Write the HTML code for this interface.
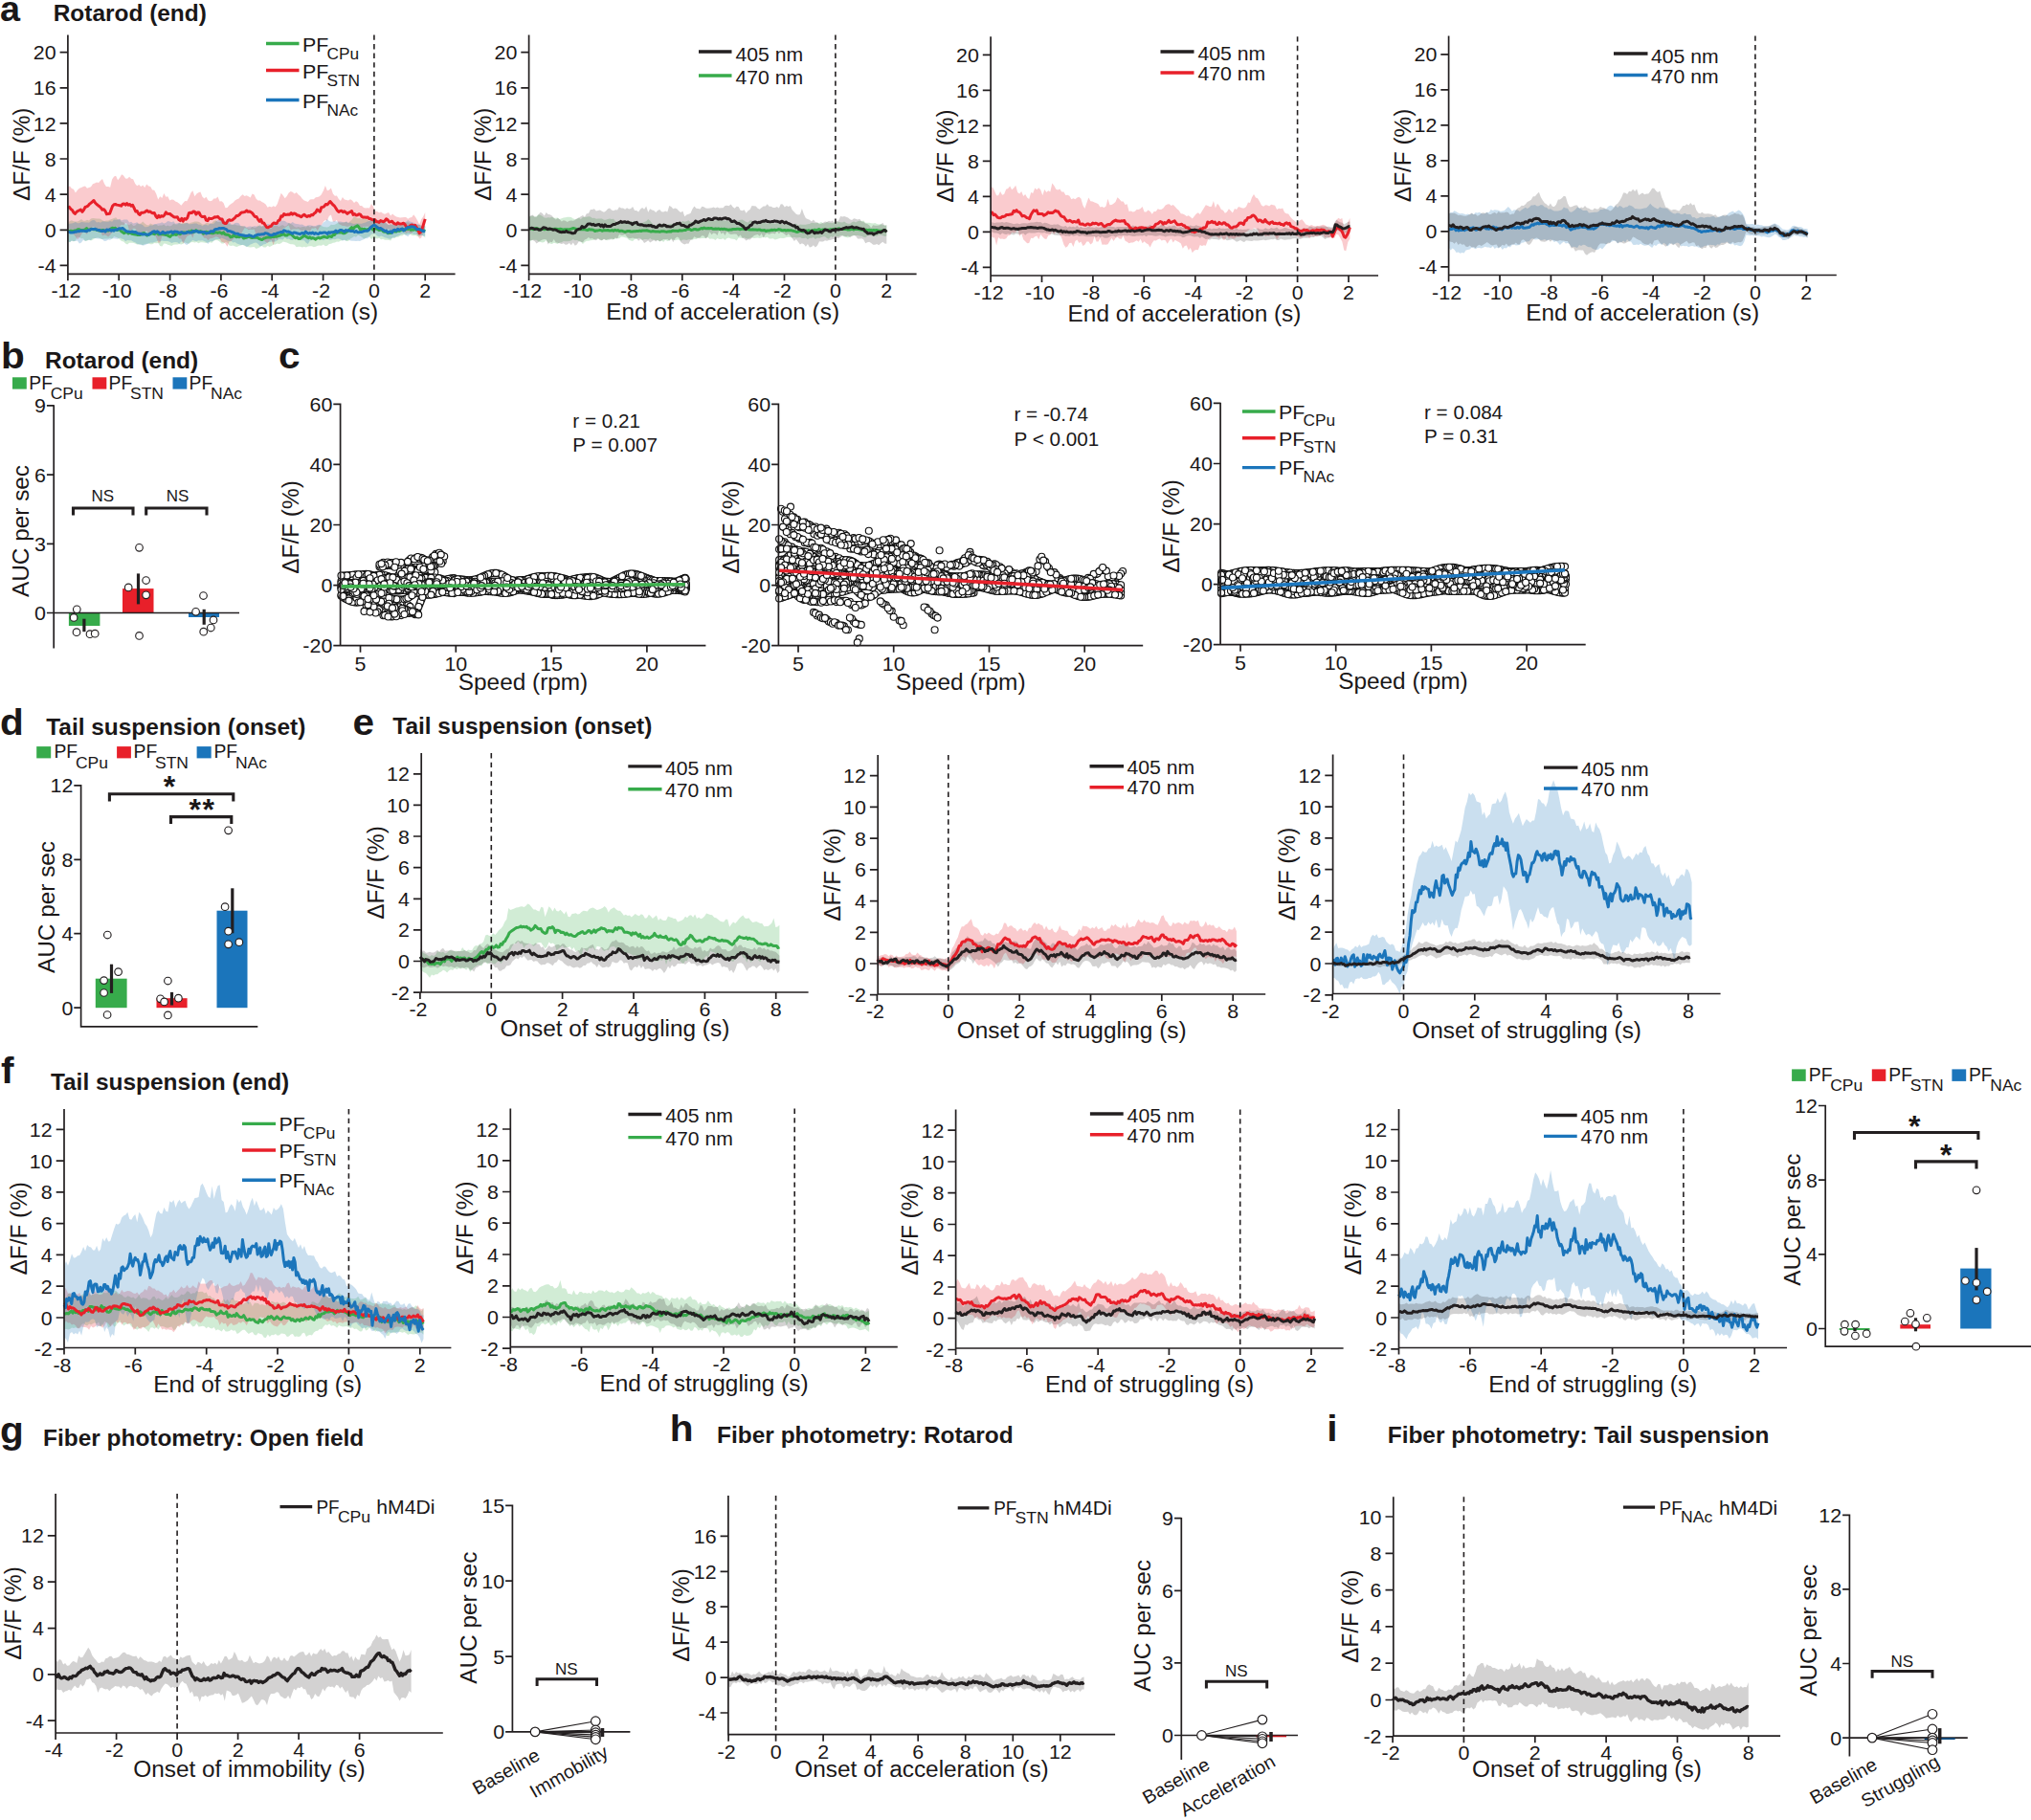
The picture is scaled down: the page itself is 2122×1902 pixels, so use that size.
<!DOCTYPE html>
<html><head><meta charset="utf-8"><title>Figure</title>
<style>
html,body{margin:0;padding:0;background:#fff}
svg{display:block}
text{font-family:"Liberation Sans",Arial,Helvetica,sans-serif;fill:#1a1718}
.s{fill-opacity:.23}
.k{fill-opacity:.2}
path{fill:none}
.c{fill:none;stroke:none;marker-start:url(#m);marker-mid:url(#m);marker-end:url(#m)}
</style></head><body>
<svg width="2122" height="1902" viewBox="0 0 2122 1902">
<defs><marker id="m" markerWidth="9" markerHeight="9" refX="4.5" refY="4.5" markerUnits="userSpaceOnUse"><circle cx="4.5" cy="4.5" r="3.5" fill="#fff" stroke="#111" stroke-width="1.15"/></marker></defs>
<rect width="2122" height="1902" fill="#fff"/>
<text transform="translate(0 22.2) scale(1.05 1)" font-size="36" font-weight="bold">a</text>
<text transform="translate(55.7 21.7) scale(1.04 1)" font-size="23.5" font-weight="bold">Rotarod (end)</text>
<path d="M70.9 232.9 72.9 231 74.9 230.3 76.9 231.2 78.9 231.6 80.9 231.5 82.9 230.5 85 229 87 230.7 89 230.7 91 229.7 93 230.6 95 228.6 97 227.9 99 228.2 101 228.6 103 228.4 105 228.7 107 230.3 109 231.1 111 230.6 113.1 230.5 115.1 229.4 117.1 228.7 119.1 228 121.1 227.3 123.1 229.5 125.1 229.5 127.1 232.3 129.1 232.2 131.1 234.5 133.1 234.2 135.1 235.3 137.1 233.6 139.1 236.1 141.2 235.7 143.2 233.6 145.2 233.8 147.2 233.6 149.2 231.4 151.2 233.5 153.2 234.9 155.2 235.4 157.2 233.6 159.2 234.5 161.2 235 163.2 234.5 165.2 235.9 167.2 235.6 169.3 235.6 171.3 234.4 173.3 236.5 175.3 235.6 177.3 236.6 179.3 235.7 181.3 233.7 183.3 234.6 185.3 234.5 187.3 232.7 189.3 233.9 191.3 232.2 193.3 232.9 195.3 232.7 197.4 233.4 199.4 232.8 201.4 232.3 203.4 231.4 205.4 231.6 207.4 231.8 209.4 232.8 211.4 234.4 213.4 234.6 215.4 233 217.4 233.1 219.4 233.7 221.4 233 223.4 230.8 225.5 230.3 227.5 232 229.5 232 231.5 230.9 233.5 231.8 235.5 233.2 237.5 233.3 239.5 234.3 241.5 234.8 243.5 234.9 245.5 234.5 247.5 235.4 249.5 235.4 251.5 236.3 253.6 235.9 255.6 237.1 257.6 238 259.6 238.7 261.6 238.8 263.6 236.8 265.6 238 267.6 237.7 269.6 235.5 271.6 236.6 273.6 236.6 275.6 236.1 277.6 236.4 279.6 238.2 281.7 239 283.7 238.7 285.7 235.7 287.7 235.8 289.7 236.1 291.7 236.9 293.7 235.4 295.7 235.3 297.7 236.7 299.7 235.7 301.7 233 303.7 234 305.7 234.9 307.7 236.9 309.8 237.8 311.8 237 313.8 237.8 315.8 237 317.8 237 319.8 237.4 321.8 235.8 323.8 237.4 325.8 235.9 327.8 237.2 329.8 236.9 331.8 236.1 333.8 235.3 335.8 236 337.9 237 339.9 237.3 341.9 237.4 343.9 236.8 345.9 234.8 347.9 235 349.9 234.8 351.9 233.4 353.9 232.5 355.9 232.8 357.9 232.8 359.9 232.2 361.9 232.1 363.9 233.1 366 230.9 368 229.3 370 226 372 227.6 374 228.3 376 227.9 378 229.2 380 227.3 382 228.7 384 229.5 386 231.1 388 228.7 390 228 392 229.7 394.1 230.3 396.1 231.9 398.1 230.7 400.1 231.3 402.1 231.7 404.1 233.9 406.1 235.2 408.1 234.1 410.1 235.3 412.1 233.7 414.1 234.6 416.1 234.3 418.1 234.4 420.1 232.8 422.2 232.2 424.2 232.6 426.2 232.3 428.2 232.9 430.2 233.7 432.2 234.5 434.2 235 436.2 235.1 438.2 234.8 440.2 236 442.2 235.7 444.2 235.9L444.2 248.4 442.2 245.9 440.2 246 438.2 247.3 436.2 247 434.2 245.9 432.2 246.2 430.2 246.1 428.2 244.5 426.2 244.9 424.2 245.4 422.2 244.9 420.1 246.6 418.1 246.6 416.1 247.7 414.1 247.7 412.1 248.9 410.1 248.5 408.1 251.4 406.1 250.8 404.1 250.7 402.1 250.7 400.1 249.7 398.1 250.3 396.1 248.8 394.1 249.5 392 248.9 390 249.1 388 250 386 247.6 384 247.6 382 249 380 249.4 378 247.7 376 246.6 374 245.8 372 247.7 370 247.1 368 248.6 366 249.5 363.9 251.9 361.9 252.1 359.9 250.6 357.9 251.2 355.9 251.4 353.9 252.8 351.9 252.4 349.9 253.5 347.9 253.8 345.9 254.8 343.9 255 341.9 256.7 339.9 257.3 337.9 255.5 335.8 256.7 333.8 256.6 331.8 256.7 329.8 257.8 327.8 258.2 325.8 257.3 323.8 257.2 321.8 257.4 319.8 258.6 317.8 257.7 315.8 258.4 313.8 257.8 311.8 257.7 309.8 258.2 307.7 255.7 305.7 255.3 303.7 255.2 301.7 254.6 299.7 253.5 297.7 253.1 295.7 252.6 293.7 254.3 291.7 254.9 289.7 254.6 287.7 255.5 285.7 255.7 283.7 257 281.7 257.9 279.6 256.7 277.6 258.5 275.6 258.6 273.6 257.1 271.6 258.3 269.6 259.3 267.6 259.9 265.6 258 263.6 258.3 261.6 258.4 259.6 258.3 257.6 257.7 255.6 257.1 253.6 255.8 251.5 256.5 249.5 257.1 247.5 257.9 245.5 257.4 243.5 256.6 241.5 256.9 239.5 256.4 237.5 253.5 235.5 252.9 233.5 254.6 231.5 254.4 229.5 252.4 227.5 251.3 225.5 251 223.4 251.4 221.4 253.8 219.4 253.2 217.4 253.3 215.4 254.1 213.4 253.6 211.4 253.2 209.4 253.3 207.4 254.2 205.4 253.1 203.4 253.5 201.4 252.9 199.4 253.2 197.4 254.7 195.3 254.2 193.3 253.3 191.3 254.8 189.3 255.4 187.3 255 185.3 255.6 183.3 255.5 181.3 255.8 179.3 257 177.3 256.2 175.3 255.7 173.3 254.7 171.3 254.6 169.3 257.5 167.2 256.9 165.2 253.9 163.2 254.3 161.2 253.9 159.2 255.3 157.2 255.2 155.2 254.6 153.2 254.7 151.2 254.9 149.2 256.3 147.2 255.3 145.2 255.6 143.2 255.6 141.2 254.6 139.1 253.8 137.1 253.8 135.1 253.7 133.1 255.5 131.1 254.6 129.1 252.5 127.1 252.1 125.1 250.2 123.1 248.6 121.1 247.8 119.1 247.1 117.1 249.8 115.1 248.7 113.1 249.4 111 249.6 109 249.4 107 250.1 105 249.4 103 248.4 101 248.6 99 249.3 97 250.5 95 251.5 93 250.6 91 251.5 89 251.9 87 249.2 85 249.3 82.9 248.1 80.9 247.6 78.9 251.2 76.9 252.5 74.9 251.2 72.9 253.5 70.9 251.7Z" class="s" style="fill:#37ab4b"/>
<path d="M70.9 195.2 72.9 194.4 74.9 197 76.9 197.8 78.9 201.6 80.9 198.7 82.9 196.7 85 196 87 195.1 89 194.5 91 196.7 93 195.9 95 195.2 97 192.3 99 191.5 101 190.4 103 191.1 105 188.7 107 187 109 191.9 111 194.9 113.1 194.9 115.1 195.8 117.1 187.6 119.1 184.4 121.1 183.7 123.1 188.2 125.1 185.8 127.1 182.2 129.1 183.4 131.1 186.6 133.1 186.7 135.1 184.7 137.1 186.7 139.1 187.2 141.2 192.1 143.2 194.2 145.2 193 147.2 194.9 149.2 193.6 151.2 195.9 153.2 192.6 155.2 194.4 157.2 195 159.2 198.5 161.2 198.8 163.2 202.5 165.2 208.5 167.2 205.2 169.3 206.9 171.3 202 173.3 205.7 175.3 205.3 177.3 209.5 179.3 208.4 181.3 208.8 183.3 210.5 185.3 211.3 187.3 212.7 189.3 214.8 191.3 212.2 193.3 210.1 195.3 210.2 197.4 206.2 199.4 201.5 201.4 199.2 203.4 205.2 205.4 202.5 207.4 201.2 209.4 200.5 211.4 205.4 213.4 207.6 215.4 205.7 217.4 209.3 219.4 210.3 221.4 209.8 223.4 207.4 225.5 207.4 227.5 205.5 229.5 210.4 231.5 210.2 233.5 212 235.5 217.2 237.5 217 239.5 214.4 241.5 213 243.5 211.7 245.5 209.4 247.5 208.2 249.5 207.4 251.5 205.1 253.6 203.2 255.6 205 257.6 204.3 259.6 205.3 261.6 206.5 263.6 202.4 265.6 203.5 267.6 207.7 269.6 209.5 271.6 209.5 273.6 211.1 275.6 212 277.6 213.5 279.6 216.8 281.7 215.8 283.7 216.6 285.7 215.2 287.7 216.3 289.7 213.3 291.7 207.6 293.7 201.7 295.7 204.2 297.7 207.3 299.7 204.9 301.7 201.4 303.7 199.9 305.7 200.7 307.7 202.5 309.8 200.9 311.8 203.5 313.8 205.1 315.8 207.7 317.8 209.4 319.8 210.3 321.8 210.9 323.8 208.6 325.8 208.3 327.8 208.3 329.8 206.3 331.8 206 333.8 205.3 335.8 203.3 337.9 199.3 339.9 194.1 341.9 199.3 343.9 198.6 345.9 196.5 347.9 202.6 349.9 204.8 351.9 204.5 353.9 207.9 355.9 210 357.9 206 359.9 208.6 361.9 209 363.9 209.5 366 208.2 368 209.4 370 211.9 372 210.3 374 211.5 376 215 378 215 380 217.1 382 217.6 384 217.3 386 217.5 388 212.9 390 216.1 392 220.7 394.1 220.9 396.1 222.2 398.1 221.5 400.1 223.1 402.1 223.8 404.1 222.7 406.1 222 408.1 225.4 410.1 223.5 412.1 225.2 414.1 226.5 416.1 226.9 418.1 227.5 420.1 227.3 422.2 227.1 424.2 227.1 426.2 228.7 428.2 227.5 430.2 227 432.2 224.2 434.2 226.9 436.2 230.6 438.2 234.5 440.2 229.2 442.2 226.3 444.2 221.9L444.2 238 442.2 243.6 440.2 248.5 438.2 249.5 436.2 245.6 434.2 241.4 432.2 240.9 430.2 243.9 428.2 243.5 426.2 242.5 424.2 244 422.2 242 420.1 242 418.1 240.9 416.1 240.8 414.1 241.6 412.1 239.2 410.1 240.7 408.1 241.4 406.1 238.8 404.1 241 402.1 238.2 400.1 241.6 398.1 239.7 396.1 237.6 394.1 237.7 392 239.1 390 238.6 388 237.7 386 238.4 384 236.6 382 236.9 380 236.7 378 238.2 376 238.8 374 237.2 372 236.2 370 235.7 368 236.4 366 235.8 363.9 236.7 361.9 236.8 359.9 235.9 357.9 236 355.9 234.9 353.9 234 351.9 230.1 349.9 231.6 347.9 231.7 345.9 224.5 343.9 225.7 341.9 230.5 339.9 229.9 337.9 231.8 335.8 235.5 333.8 237.2 331.8 240.9 329.8 238.1 327.8 238.7 325.8 238.5 323.8 242 321.8 240.2 319.8 243.8 317.8 240.3 315.8 241.6 313.8 240.6 311.8 239.3 309.8 239.4 307.7 239.6 305.7 239.4 303.7 240.8 301.7 235.6 299.7 236.5 297.7 238 295.7 238.6 293.7 248.4 291.7 243.8 289.7 251.2 287.7 248.6 285.7 256.3 283.7 250.7 281.7 251.6 279.6 254 277.6 252.9 275.6 251.1 273.6 250.1 271.6 248.2 269.6 243.2 267.6 245.2 265.6 239.5 263.6 240.1 261.6 239.8 259.6 240.3 257.6 238.5 255.6 238.2 253.6 241.4 251.5 245.6 249.5 244.4 247.5 247.4 245.5 247.8 243.5 250 241.5 252.3 239.5 252.5 237.5 257.8 235.5 254.5 233.5 253.3 231.5 252.7 229.5 249.2 227.5 247.7 225.5 247.3 223.4 248.3 221.4 248.9 219.4 249.2 217.4 251.2 215.4 248.8 213.4 248.7 211.4 246.2 209.4 244.5 207.4 242.3 205.4 238.8 203.4 242 201.4 248.7 199.4 244.7 197.4 245.9 195.3 247.1 193.3 250.4 191.3 254.6 189.3 249.4 187.3 249.6 185.3 246.8 183.3 245.3 181.3 245.3 179.3 244.2 177.3 244.1 175.3 244.2 173.3 246 171.3 247.3 169.3 246.8 167.2 253.7 165.2 253.4 163.2 248 161.2 245.1 159.2 245.5 157.2 243.9 155.2 244 153.2 240.8 151.2 243.4 149.2 245.6 147.2 243.9 145.2 245.6 143.2 242.1 141.2 238.8 139.1 238.7 137.1 241.2 135.1 241 133.1 234 131.1 233 129.1 235.6 127.1 234.8 125.1 236.4 123.1 241 121.1 235.9 119.1 241.2 117.1 243.3 115.1 245.6 113.1 247.5 111 246 109 245.6 107 246.4 105 241.5 103 243.2 101 240.6 99 237.5 97 237.1 95 240.6 93 239.3 91 244.9 89 242.9 87 242 85 245 82.9 248.4 80.9 250.2 78.9 247.2 76.9 244.8 74.9 242.3 72.9 239.4 70.9 240.3Z" class="s" style="fill:#e8202a"/>
<path d="M70.9 234.3 72.9 233.8 74.9 233.6 76.9 233.1 78.9 231.9 80.9 233.3 82.9 233.2 85 232 87 232.3 89 232.5 91 232.4 93 232.8 95 231.1 97 229.9 99 230.2 101 232.5 103 231.9 105 232.8 107 231.3 109 231.5 111 231.8 113.1 231.8 115.1 231.1 117.1 231.8 119.1 229.6 121.1 229.7 123.1 229.6 125.1 228.8 127.1 230.4 129.1 229.6 131.1 229.6 133.1 229.6 135.1 232.4 137.1 231.8 139.1 233.6 141.2 233.1 143.2 232.3 145.2 234.3 147.2 234.3 149.2 235.2 151.2 237.3 153.2 237.2 155.2 236.8 157.2 235.2 159.2 235.8 161.2 234 163.2 234 165.2 233.4 167.2 233.3 169.3 232.3 171.3 233.4 173.3 232.7 175.3 231.1 177.3 231.4 179.3 232.3 181.3 231.3 183.3 233.8 185.3 233.2 187.3 233 189.3 233.7 191.3 234.2 193.3 233.6 195.3 232.7 197.4 234.3 199.4 234.2 201.4 233.7 203.4 233.4 205.4 233.4 207.4 234.7 209.4 234.7 211.4 236.2 213.4 234.8 215.4 234.7 217.4 235.8 219.4 233.6 221.4 234 223.4 233.8 225.5 231.3 227.5 230.3 229.5 229.4 231.5 229.7 233.5 230.2 235.5 231.2 237.5 230.4 239.5 230.9 241.5 234.5 243.5 234.4 245.5 233.1 247.5 232.7 249.5 233.2 251.5 235.9 253.6 236.8 255.6 236 257.6 237.4 259.6 236.7 261.6 236.6 263.6 237 265.6 236.2 267.6 236.4 269.6 236.7 271.6 234.9 273.6 236.9 275.6 234.7 277.6 235.4 279.6 234 281.7 234.4 283.7 234.8 285.7 232.8 287.7 232.9 289.7 232.9 291.7 233.1 293.7 230.8 295.7 230.8 297.7 231 299.7 232.6 301.7 233 303.7 233.4 305.7 231.9 307.7 233.4 309.8 234.1 311.8 234.3 313.8 234.8 315.8 234.5 317.8 235.8 319.8 236.3 321.8 235.6 323.8 235.3 325.8 235.8 327.8 235.9 329.8 236 331.8 235.1 333.8 234.7 335.8 235.2 337.9 232.5 339.9 231.2 341.9 228.9 343.9 231 345.9 231.7 347.9 231.5 349.9 230.9 351.9 231.4 353.9 231.4 355.9 231.4 357.9 231.9 359.9 232.4 361.9 231.3 363.9 233.1 366 232.6 368 233.6 370 233.9 372 233.4 374 233.6 376 233.8 378 233.7 380 233.1 382 232.4 384 231.5 386 231.1 388 228.7 390 227.8 392 228.4 394.1 229.7 396.1 230.7 398.1 231.3 400.1 232.7 402.1 232.1 404.1 233.6 406.1 235.2 408.1 234.5 410.1 234.6 412.1 234.3 414.1 233.7 416.1 233.9 418.1 232.9 420.1 233.6 422.2 232.4 424.2 231.8 426.2 230 428.2 231.4 430.2 231.9 432.2 232.8 434.2 234 436.2 234.2 438.2 234.9 440.2 235.7 442.2 235.3 444.2 237.1L444.2 246.6 442.2 247 440.2 245.6 438.2 246.2 436.2 245.2 434.2 244.9 432.2 245.1 430.2 243.7 428.2 245 426.2 247.3 424.2 245.9 422.2 244.5 420.1 244.6 418.1 245.6 416.1 246.6 414.1 247.2 412.1 248.2 410.1 248.5 408.1 249.7 406.1 249.5 404.1 248.8 402.1 248.2 400.1 247.2 398.1 246.6 396.1 247.5 394.1 246.4 392 244.3 390 244.3 388 244.7 386 247.3 384 249.2 382 248.9 380 250.2 378 251.1 376 252 374 251.7 372 252.1 370 251.7 368 251.7 366 251.4 363.9 250.3 361.9 251.4 359.9 250.9 357.9 251.5 355.9 250.3 353.9 249.6 351.9 249.4 349.9 250.2 347.9 249.9 345.9 250.8 343.9 250.8 341.9 248.9 339.9 250.3 337.9 251.2 335.8 250.2 333.8 249.7 331.8 249.8 329.8 249.7 327.8 250.4 325.8 251.1 323.8 251.6 321.8 254.9 319.8 253.8 317.8 251.2 315.8 251.2 313.8 251.1 311.8 249.9 309.8 250.6 307.7 249.6 305.7 251.1 303.7 250.7 301.7 249.4 299.7 250 297.7 248.1 295.7 250.5 293.7 250.2 291.7 250.1 289.7 251.3 287.7 252.6 285.7 252.8 283.7 252.4 281.7 253 279.6 253.2 277.6 255 275.6 255.2 273.6 256.8 271.6 257.3 269.6 255 267.6 253.5 265.6 253.8 263.6 254.7 261.6 255.4 259.6 257.1 257.6 257.9 255.6 256.3 253.6 256.1 251.5 256 249.5 255.3 247.5 254.4 245.5 253 243.5 253.4 241.5 251.7 239.5 252 237.5 251.5 235.5 250.2 233.5 249.4 231.5 248.4 229.5 250.1 227.5 250 225.5 250 223.4 251.4 221.4 252.2 219.4 252.1 217.4 254.9 215.4 253 213.4 252 211.4 251.3 209.4 251.4 207.4 251.2 205.4 252.2 203.4 251.7 201.4 251.1 199.4 252.6 197.4 254.3 195.3 255.9 193.3 255 191.3 252.6 189.3 252.6 187.3 254.7 185.3 253.3 183.3 253 181.3 253.3 179.3 254.1 177.3 252.7 175.3 252 173.3 252.1 171.3 251.9 169.3 251.4 167.2 252.5 165.2 251.4 163.2 252.5 161.2 253.1 159.2 253.8 157.2 253.4 155.2 254.5 153.2 255.3 151.2 256.2 149.2 256.5 147.2 256 145.2 255.3 143.2 254.8 141.2 253.3 139.1 252.4 137.1 251.2 135.1 251.2 133.1 250.9 131.1 252.2 129.1 250 127.1 249.6 125.1 248.4 123.1 249.8 121.1 249.4 119.1 249.2 117.1 249.2 115.1 250.7 113.1 250.6 111 251.7 109 252.1 107 250.2 105 249.6 103 249.6 101 249.3 99 249 97 248.9 95 251 93 250.7 91 251.3 89 251.7 87 250.7 85 253.6 82.9 254.5 80.9 251.5 78.9 252.1 76.9 251.9 74.9 251.7 72.9 253.1 70.9 252.6Z" class="s" style="fill:#1b75bb"/>
<path d="M70.9 241.7 72.4 241.6 73.9 241.2 75.4 241.4 76.9 241.4 78.4 240.9 79.9 240.8 81.4 239.7 82.9 239.8 84.4 240.5 86 240.4 87.5 240.4 89 239.9 90.5 238.6 92 240.5 93.5 240 95 239.2 96.5 239.6 98 239.8 99.5 239.7 101 240.3 102.5 240.5 104 241.1 105.5 241 107 240.4 108.5 240.8 110 241.1 111.5 241.1 113.1 241.1 114.6 240.3 116.1 238.8 117.6 238.2 119.1 238.6 120.6 238.3 122.1 240.4 123.6 240.3 125.1 239.5 126.6 241.8 128.1 242.6 129.6 243.7 131.1 242.9 132.6 242.4 134.1 244 135.6 243 137.1 243.9 138.6 244.6 140.1 244.7 141.7 245.1 143.2 245.4 144.7 245.6 146.2 245.6 147.7 244.9 149.2 243.7 150.7 243.6 152.2 244.9 153.7 246.1 155.2 245 156.7 245 158.2 243.4 159.7 244.2 161.2 244.7 162.7 243.7 164.2 243.2 165.7 245 167.2 244.8 168.7 244.7 170.3 244.8 171.8 244.9 173.3 245.5 174.8 245.8 176.3 246.9 177.8 247.4 179.3 245.6 180.8 245.3 182.3 244.8 183.8 245.5 185.3 244.6 186.8 243.6 188.3 244.7 189.8 243.2 191.3 243.1 192.8 243 194.3 243.5 195.8 242.5 197.4 241.8 198.9 242.3 200.4 241 201.9 242.7 203.4 242 204.9 240.6 206.4 242 207.9 241.9 209.4 241.6 210.9 242.1 212.4 244.2 213.9 243.4 215.4 242.3 216.9 242.6 218.4 243.6 219.9 243.4 221.4 243.7 222.9 243.8 224.4 242.9 226 242.8 227.5 243.4 229 242.8 230.5 243.2 232 244.1 233.5 242.8 235 244.8 236.5 245.2 238 245.3 239.5 246 241 247.9 242.5 247.6 244 245.7 245.5 247 247 247.7 248.5 247.4 250 247.7 251.5 246.9 253.1 247 254.6 249 256.1 248.5 257.6 248.3 259.1 247.4 260.6 247.5 262.1 248.2 263.6 248.6 265.1 248.1 266.6 248.2 268.1 248.1 269.6 248.7 271.1 249.6 272.6 250.2 274.1 250.5 275.6 249.1 277.1 248.7 278.6 248.2 280.1 247.9 281.7 247.8 283.2 247.9 284.7 247.2 286.2 247.5 287.7 247.1 289.2 247.2 290.7 246.7 292.2 246.4 293.7 245.5 295.2 245.2 296.7 244.6 298.2 246.1 299.7 246.1 301.2 244.8 302.7 244.7 304.2 244.6 305.7 246.2 307.2 247.7 308.7 248.7 310.3 248 311.8 249.4 313.3 249.6 314.8 248.5 316.3 247.5 317.8 245.6 319.3 247 320.8 247.9 322.3 248.8 323.8 247.9 325.3 249.2 326.8 248.6 328.3 249.2 329.8 250.1 331.3 248.9 332.8 248.3 334.3 249.1 335.8 248.4 337.4 247.7 338.9 247.3 340.4 247.9 341.9 248.4 343.4 246.9 344.9 246.9 346.4 247.5 347.9 245.6 349.4 245.6 350.9 243.6 352.4 243.1 353.9 242.8 355.4 243 356.9 242.7 358.4 243.7 359.9 243.7 361.4 242.9 362.9 241.8 364.4 240.7 366 239.1 367.5 237.6 369 239.4 370.5 237.3 372 236.7 373.5 235.9 375 237.4 376.5 239.9 378 239.2 379.5 239.7 381 239.3 382.5 240 384 239.6 385.5 239.1 387 238.4 388.5 238.9 390 240.3 391.5 238.9 393.1 239.1 394.6 239.5 396.1 240.6 397.6 240.2 399.1 240.2 400.6 242 402.1 242.2 403.6 242.2 405.1 243.8 406.6 243.5 408.1 243.6 409.6 242.4 411.1 241.6 412.6 242.1 414.1 241.9 415.6 241 417.1 241.4 418.6 240.8 420.1 239.3 421.7 239.8 423.2 240.4 424.7 238.6 426.2 239.4 427.7 238.5 429.2 240.4 430.7 239.8 432.2 240.2 433.7 239.7 435.2 240.4 436.7 240.2 438.2 240.4 439.7 240.9 441.2 240.3 442.7 240.8 444.2 241.7" stroke="#37ab4b" stroke-width="3.0" stroke-linejoin="round"/>
<path d="M70.9 217.2 72.4 216.4 73.9 218.4 75.4 219.4 76.9 222.1 78.4 223.4 79.9 221.5 81.4 220.5 82.9 219.8 84.4 219.1 86 221.3 87.5 219.4 89 216.5 90.5 215.9 92 215.2 93.5 213.2 95 212.1 96.5 210.8 98 209.5 99.5 212 101 213.5 102.5 214.7 104 215.8 105.5 217.3 107 219.2 108.5 218.7 110 220.5 111.5 223.8 113.1 223.4 114.6 223.3 116.1 219.2 117.6 215.3 119.1 213.7 120.6 213.5 122.1 214.1 123.6 214.4 125.1 214.7 126.6 215.2 128.1 213.3 129.6 212.9 131.1 214.2 132.6 212.5 134.1 214.2 135.6 213.5 137.1 215.2 138.6 214.3 140.1 217.3 141.7 221 143.2 220.5 144.7 223.4 146.2 224.4 147.7 222.2 149.2 222.3 150.7 221.9 152.2 220.9 153.7 220 155.2 221.4 156.7 221 158.2 222.1 159.7 222.8 161.2 222.4 162.7 225.7 164.2 227.6 165.7 225.3 167.2 227 168.7 225.6 170.3 226.2 171.8 224.7 173.3 221.9 174.8 223.3 176.3 223.5 177.8 223.6 179.3 225.1 180.8 226.1 182.3 227 183.8 226.9 185.3 226.8 186.8 229.6 188.3 230.6 189.8 228.3 191.3 231.1 192.8 228.5 194.3 229.2 195.8 227.6 197.4 222.7 198.9 222.2 200.4 222.6 201.9 220.9 203.4 221.2 204.9 224 206.4 222 207.9 222 209.4 225 210.9 226.4 212.4 226.4 213.9 226.3 215.4 230.2 216.9 230.7 218.4 228.1 219.9 228.6 221.4 228.5 222.9 227.7 224.4 226.7 226 226.9 227.5 226.3 229 228 230.5 229 232 228.9 233.5 232.6 235 233.5 236.5 233.4 238 230.6 239.5 229.7 241 230.4 242.5 230.1 244 228.8 245.5 227.6 247 225.6 248.5 225.6 250 224.6 251.5 222.7 253.1 221.9 254.6 221.8 256.1 221.4 257.6 220 259.1 221.3 260.6 221 262.1 221.6 263.6 222.7 265.1 224.9 266.6 226.6 268.1 226.6 269.6 229.4 271.1 231.3 272.6 229.4 274.1 232.9 275.6 232.9 277.1 235.2 278.6 237.5 280.1 237.7 281.7 236.8 283.2 236.4 284.7 234.2 286.2 232.9 287.7 233.6 289.2 233.4 290.7 230.6 292.2 230 293.7 225.9 295.2 226.3 296.7 223.6 298.2 224.4 299.7 224.3 301.2 224.1 302.7 224.2 304.2 222.6 305.7 224.1 307.2 223 308.7 223.4 310.3 224.9 311.8 225.1 313.3 225.9 314.8 226.8 316.3 225.3 317.8 224.2 319.3 225.6 320.8 226.4 322.3 225.5 323.8 226.1 325.3 224.4 326.8 224.7 328.3 223 329.8 222 331.3 219.1 332.8 220.1 334.3 221.2 335.8 216.7 337.4 216.4 338.9 215.4 340.4 213.5 341.9 213.9 343.4 212.3 344.9 210.5 346.4 212.2 347.9 214 349.4 215.2 350.9 217.5 352.4 220 353.9 221.4 355.4 220.4 356.9 220.3 358.4 221.8 359.9 220.8 361.4 222 362.9 223.4 364.4 222.1 366 221.6 367.5 220.6 369 224.4 370.5 223.5 372 224.9 373.5 224.8 375 223.8 376.5 224.2 378 226.4 379.5 227.1 381 226.9 382.5 227.4 384 226.9 385.5 228.4 387 228.6 388.5 229.3 390 229.9 391.5 229.4 393.1 231.5 394.6 231.7 396.1 232.4 397.6 230.6 399.1 231.2 400.6 231.8 402.1 230.7 403.6 228.8 405.1 229.7 406.6 232 408.1 231.7 409.6 231.2 411.1 233.1 412.6 233.8 414.1 234.4 415.6 232.8 417.1 233.7 418.6 233.9 420.1 233.8 421.7 233.3 423.2 234.7 424.7 237.2 426.2 237.7 427.7 236.8 429.2 235.5 430.7 234.9 432.2 236.1 433.7 235.4 435.2 237.5 436.7 240.1 438.2 243.7 439.7 242.4 441.2 238.6 442.7 233.8 444.2 228.9" stroke="#e8202a" stroke-width="3.0" stroke-linejoin="round"/>
<path d="M70.9 242.2 72.4 242.5 73.9 243.1 75.4 243.1 76.9 242.8 78.4 242.1 79.9 242.2 81.4 241.5 82.9 241.8 84.4 241 86 241.4 87.5 241.1 89 241.6 90.5 241.7 92 240.6 93.5 240.8 95 239.6 96.5 239.4 98 239.5 99.5 239.3 101 240 102.5 240.6 104 240.4 105.5 241.6 107 241.6 108.5 240.8 110 242.1 111.5 240 113.1 240.4 114.6 239.8 116.1 241.1 117.6 240.2 119.1 241.1 120.6 239.9 122.1 240.2 123.6 239.2 125.1 238.7 126.6 238.9 128.1 238.4 129.6 239.8 131.1 240.9 132.6 241.9 134.1 242 135.6 242.4 137.1 242.3 138.6 242 140.1 242.9 141.7 242.4 143.2 243.7 144.7 243.9 146.2 244.5 147.7 244.3 149.2 245.1 150.7 244.6 152.2 245 153.7 245.1 155.2 245.4 156.7 244.1 158.2 243.5 159.7 242.1 161.2 241.7 162.7 243 164.2 241.8 165.7 242.7 167.2 244.3 168.7 243.5 170.3 242.3 171.8 243.8 173.3 243.5 174.8 242.7 176.3 243.2 177.8 242.4 179.3 242 180.8 243.6 182.3 241.9 183.8 242.2 185.3 242.2 186.8 243.4 188.3 242.9 189.8 242.6 191.3 243.8 192.8 243.8 194.3 243.4 195.8 242.4 197.4 242.9 198.9 243.1 200.4 242.9 201.9 241.5 203.4 242.1 204.9 241.5 206.4 241.7 207.9 242.8 209.4 242.5 210.9 242.6 212.4 242.8 213.9 242.6 215.4 244 216.9 243.4 218.4 243.2 219.9 241.7 221.4 241.7 222.9 242.1 224.4 239.9 226 239.4 227.5 239.3 229 238.6 230.5 238.8 232 238.6 233.5 238.4 235 239.2 236.5 239.6 238 241.5 239.5 241.5 241 241.9 242.5 242.5 244 243 245.5 244 247 244.2 248.5 244.2 250 245.2 251.5 245.6 253.1 245.7 254.6 246 256.1 246.5 257.6 246.5 259.1 246.2 260.6 245.8 262.1 246.3 263.6 247.1 265.1 247.4 266.6 246.1 268.1 245.7 269.6 245.1 271.1 245.2 272.6 244.9 274.1 244.8 275.6 244.7 277.1 243.6 278.6 243.9 280.1 244.4 281.7 245.5 283.2 245.7 284.7 245.7 286.2 244.5 287.7 244.7 289.2 243.9 290.7 243.3 292.2 242.9 293.7 242.4 295.2 242.7 296.7 240.8 298.2 241.4 299.7 242.2 301.2 241.9 302.7 242.7 304.2 243.4 305.7 244.2 307.2 242.9 308.7 243.2 310.3 243.8 311.8 244.2 313.3 244.7 314.8 243.8 316.3 243.5 317.8 244.2 319.3 242.2 320.8 243.4 322.3 244.3 323.8 243.4 325.3 244 326.8 243 328.3 244.5 329.8 243.5 331.3 244.3 332.8 244.5 334.3 243.1 335.8 243.5 337.4 243.2 338.9 242.9 340.4 243.2 341.9 244.4 343.4 242.7 344.9 243.4 346.4 242.7 347.9 242.6 349.4 242.4 350.9 241 352.4 242.8 353.9 241.5 355.4 240.4 356.9 240.5 358.4 241.3 359.9 242.3 361.4 240.6 362.9 241.1 364.4 240.8 366 241.5 367.5 241.4 369 241.4 370.5 242.5 372 241.4 373.5 242.7 375 242.7 376.5 242.4 378 242.5 379.5 241.8 381 241.4 382.5 241.1 384 241.2 385.5 240.3 387 238 388.5 236.7 390 235.6 391.5 235.4 393.1 236.6 394.6 237.9 396.1 238.7 397.6 238.4 399.1 239.5 400.6 240.4 402.1 241.5 403.6 241.1 405.1 243 406.6 242.4 408.1 241.8 409.6 243.2 411.1 240.6 412.6 240.2 414.1 241.1 415.6 239.3 417.1 240.2 418.6 239.7 420.1 239 421.7 241 423.2 239.9 424.7 238.4 426.2 237.5 427.7 237.5 429.2 236.8 430.7 236.9 432.2 237.1 433.7 237.8 435.2 239.6 436.7 239.4 438.2 239.6 439.7 240.2 441.2 241.3 442.7 241.7 444.2 241.6" stroke="#1b75bb" stroke-width="3.0" stroke-linejoin="round"/>
<path d="M390.9 36.4V286.3" stroke="#231f20" stroke-width="1.6" stroke-dasharray="5.4 4.2"/>
<path d="M70.9 36.4V286.3H475.6M70.9 54.7h-8.3M70.9 91.8h-8.3M70.9 128.9h-8.3M70.9 166h-8.3M70.9 203.2h-8.3M70.9 240.3h-8.3M70.9 277.4h-8.3M70.9 286.3v7M124.2 286.3v7M177.6 286.3v7M230.9 286.3v7M284.2 286.3v7M337.6 286.3v7M390.9 286.3v7M444.2 286.3v7" stroke="#231f20" stroke-width="1.7"/>
<text transform="translate(58.6 62.2) scale(1.02 1)" font-size="21" text-anchor="end">20</text>
<text transform="translate(58.6 99.3) scale(1.02 1)" font-size="21" text-anchor="end">16</text>
<text transform="translate(58.6 136.5) scale(1.02 1)" font-size="21" text-anchor="end">12</text>
<text transform="translate(58.6 173.6) scale(1.02 1)" font-size="21" text-anchor="end">8</text>
<text transform="translate(58.6 210.7) scale(1.02 1)" font-size="21" text-anchor="end">4</text>
<text transform="translate(58.6 247.8) scale(1.02 1)" font-size="21" text-anchor="end">0</text>
<text transform="translate(58.6 284.9) scale(1.02 1)" font-size="21" text-anchor="end">-4</text>
<text transform="translate(68.9 311.3) scale(1.02 1)" font-size="21" text-anchor="middle">-12</text>
<text transform="translate(122.2 311.3) scale(1.02 1)" font-size="21" text-anchor="middle">-10</text>
<text transform="translate(175.6 311.3) scale(1.02 1)" font-size="21" text-anchor="middle">-8</text>
<text transform="translate(228.9 311.3) scale(1.02 1)" font-size="21" text-anchor="middle">-6</text>
<text transform="translate(282.2 311.3) scale(1.02 1)" font-size="21" text-anchor="middle">-4</text>
<text transform="translate(335.6 311.3) scale(1.02 1)" font-size="21" text-anchor="middle">-2</text>
<text transform="translate(390.9 311.3) scale(1.02 1)" font-size="21" text-anchor="middle">0</text>
<text transform="translate(444.2 311.3) scale(1.02 1)" font-size="21" text-anchor="middle">2</text>
<text transform="translate(31.4 161.3) rotate(-90) scale(1.06 1)" font-size="23" text-anchor="middle">ΔF/F (%)</text>
<text transform="translate(273.2 333.8) scale(1.06 1)" font-size="23" text-anchor="middle">End of acceleration (s)</text>
<path d="M278 45.5L312.5 45.5" stroke="#37ab4b" stroke-width="3.4"/>
<text transform="translate(316 54) scale(1.02 1)" font-size="21">PF</text>
<text transform="translate(341.4 61.7)" font-size="17.3">CPu</text>
<path d="M278 73.5L312.5 73.5" stroke="#e8202a" stroke-width="3.4"/>
<text transform="translate(316 82) scale(1.02 1)" font-size="21">PF</text>
<text transform="translate(341.4 89.7)" font-size="17.3">STN</text>
<path d="M278 104.5L312.5 104.5" stroke="#1b75bb" stroke-width="3.4"/>
<text transform="translate(316 113) scale(1.02 1)" font-size="21">PF</text>
<text transform="translate(341.4 120.7)" font-size="17.3">NAc</text>
<path d="M552.6 226.7 554.6 225.9 556.6 225.6 558.6 226.7 560.6 226.1 562.6 224.3 564.7 224.8 566.7 225.9 568.7 227.4 570.7 227.8 572.7 227.2 574.7 227.5 576.7 226.7 578.7 227.7 580.7 227.7 582.7 227.4 584.7 229.1 586.8 228.2 588.8 227.4 590.8 227.3 592.8 226.7 594.8 226.7 596.8 226.9 598.8 228.4 600.8 229 602.8 229 604.8 227.6 606.8 229.3 608.9 227.1 610.9 227 612.9 226.8 614.9 226.2 616.9 226.4 618.9 228.1 620.9 227.8 622.9 228.8 624.9 228.6 626.9 228.4 628.9 228.4 631 229.8 633 229.8 635 229.1 637 228.4 639 228.9 641 228.8 643 231.2 645 231.4 647 232.4 649 231.1 651 231.2 653.1 230.9 655.1 231.5 657.1 230.9 659.1 231 661.1 232 663.1 230.5 665.1 233.2 667.1 233.1 669.1 232.7 671.1 232.9 673.1 232.1 675.2 231.3 677.2 229 679.2 230.7 681.2 233.3 683.2 234.8 685.2 235.4 687.2 233.7 689.2 234.1 691.2 234.1 693.2 233.6 695.2 235.1 697.3 234.4 699.3 234.5 701.3 233.9 703.3 234.1 705.3 233.1 707.3 232 709.3 233.2 711.3 231.9 713.3 231 715.3 231.7 717.3 231.3 719.4 230.3 721.4 231.9 723.4 232.1 725.4 230.5 727.4 230.8 729.4 232.8 731.4 231.4 733.4 231 735.4 230.6 737.4 230.4 739.4 230.1 741.5 230.4 743.5 229.7 745.5 230.3 747.5 230.7 749.5 229.1 751.5 229.6 753.5 230.4 755.5 229.6 757.5 231.1 759.5 230.1 761.5 231.3 763.6 230.6 765.6 231.1 767.6 231.1 769.6 231.4 771.6 230.4 773.6 229.7 775.6 229.6 777.6 230.8 779.6 232 781.6 232.5 783.6 230.2 785.6 230.5 787.7 232 789.7 231.9 791.7 232.5 793.7 231.4 795.7 231.5 797.7 231.2 799.7 233.1 801.7 233.7 803.7 232 805.7 231.4 807.7 232.9 809.8 233.9 811.8 232.4 813.8 231.7 815.8 232.7 817.8 234.4 819.8 235.1 821.8 233.8 823.8 233.4 825.8 234.8 827.8 234.9 829.8 234.4 831.9 233.5 833.9 235.7 835.9 234.5 837.9 234.7 839.9 234.8 841.9 234.7 843.9 234.3 845.9 233.9 847.9 232.7 849.9 233 851.9 233.2 854 232.8 856 233.1 858 232.1 860 233.6 862 233.3 864 231.9 866 232.8 868 232.8 870 233.2 872 231.4 874 231.6 876.1 231.9 878.1 232.2 880.1 232.5 882.1 231.6 884.1 232.9 886.1 233.8 888.1 233.7 890.1 232.3 892.1 231.5 894.1 232.5 896.1 231.2 898.2 230.8 900.2 231 902.2 230.6 904.2 232.7 906.2 232.7 908.2 232.7 910.2 233.3 912.2 233.6 914.2 232.9 916.2 234.1 918.2 234.6 920.3 233.8 922.3 235.2 924.3 235.2 926.3 235.7L926.3 246.8 924.3 247 922.3 246.3 920.3 245.5 918.2 245.5 916.2 246.9 914.2 246.5 912.2 247 910.2 246.2 908.2 246.1 906.2 246.6 904.2 248.3 902.2 247.8 900.2 246.8 898.2 246.4 896.1 246.1 894.1 246.1 892.1 245.9 890.1 246.5 888.1 247 886.1 248.4 884.1 248.1 882.1 247.4 880.1 246.2 878.1 246 876.1 247.4 874 247 872 246.2 870 247.9 868 247 866 249.7 864 249 862 247.2 860 247.3 858 248 856 249 854 248.4 851.9 250 849.9 248.1 847.9 248.7 845.9 248.8 843.9 250.2 841.9 248.4 839.9 249.1 837.9 249.1 835.9 248 833.9 248.3 831.9 248.5 829.8 247.7 827.8 248.5 825.8 247.9 823.8 247.7 821.8 248.1 819.8 248.8 817.8 249 815.8 248.7 813.8 249.2 811.8 250.1 809.8 250.4 807.7 249.2 805.7 249.4 803.7 249.4 801.7 247.8 799.7 248.4 797.7 247.7 795.7 248.6 793.7 248.9 791.7 248.6 789.7 248.7 787.7 249 785.6 248.3 783.6 248.7 781.6 249.4 779.6 249.3 777.6 248.2 775.6 248.9 773.6 248.4 771.6 248.6 769.6 251.4 767.6 250 765.6 249.7 763.6 249.6 761.5 248.6 759.5 249.1 757.5 251.1 755.5 249.3 753.5 250 751.5 249.9 749.5 248.9 747.5 251 745.5 249.7 743.5 249.5 741.5 249.8 739.4 248 737.4 249 735.4 249 733.4 249.1 731.4 249.3 729.4 248.7 727.4 250 725.4 249.8 723.4 250.7 721.4 250.3 719.4 250.2 717.3 250.9 715.3 250.5 713.3 250.6 711.3 251.7 709.3 250.4 707.3 250.4 705.3 251.3 703.3 250.5 701.3 250.3 699.3 251.3 697.3 251.9 695.2 250.6 693.2 252.9 691.2 251.2 689.2 252.6 687.2 250.9 685.2 251.2 683.2 250.5 681.2 250.5 679.2 249.1 677.2 250.6 675.2 250.1 673.1 250.1 671.1 251 669.1 249.1 667.1 248.7 665.1 249.9 663.1 249.9 661.1 252 659.1 251.6 657.1 250.7 655.1 248.7 653.1 248.3 651 247.7 649 247.4 647 249.3 645 249.1 643 249.4 641 250.3 639 250.4 637 249.3 635 251.3 633 250.8 631 249.7 628.9 251.2 626.9 250.3 624.9 249.3 622.9 249.8 620.9 250.4 618.9 251.1 616.9 251.3 614.9 251.7 612.9 251.8 610.9 252.9 608.9 255 606.8 252.4 604.8 252 602.8 250.9 600.8 251.2 598.8 250.1 596.8 251.5 594.8 252 592.8 252.2 590.8 252.2 588.8 252.1 586.8 253.3 584.7 253.4 582.7 254.9 580.7 254.2 578.7 253.8 576.7 254.9 574.7 254.6 572.7 253.5 570.7 250.9 568.7 253.1 566.7 253.4 564.7 252.9 562.6 252.5 560.6 250.7 558.6 250.8 556.6 250.6 554.6 252.1 552.6 251.3Z" class="s" style="fill:#37ab4b"/>
<path d="M552.6 226.3 554.6 225.3 556.6 224.5 558.6 226.4 560.6 226.7 562.6 224.3 564.7 221.7 566.7 223.1 568.7 225.6 570.7 222 572.7 224 574.7 224.2 576.7 225.6 578.7 227.7 580.7 229.5 582.7 227.9 584.7 229.3 586.8 231.5 588.8 230.3 590.8 230.8 592.8 232 594.8 230.8 596.8 230.6 598.8 230.7 600.8 230.1 602.8 228.3 604.8 227.5 606.8 226.3 608.9 224.9 610.9 226.8 612.9 223.2 614.9 223 616.9 219 618.9 218.9 620.9 218.3 622.9 220.4 624.9 219.9 626.9 219.6 628.9 220.7 631 221.7 633 220.5 635 218.2 637 217.6 639 219.5 641 220.2 643 219.3 645 219.5 647 216.3 649 217.4 651 217.5 653.1 218.8 655.1 217.2 657.1 218.5 659.1 217.9 661.1 216 663.1 219.9 665.1 219.9 667.1 221.5 669.1 218.5 671.1 217.1 673.1 218.7 675.2 215.6 677.2 221.7 679.2 218.3 681.2 219.4 683.2 219.9 685.2 222.1 687.2 219.9 689.2 219.1 691.2 221.2 693.2 221.6 695.2 220.5 697.3 221.4 699.3 215 701.3 215.9 703.3 218.3 705.3 217.6 707.3 218.3 709.3 220.4 711.3 222.1 713.3 220.6 715.3 226.2 717.3 224.5 719.4 223.7 721.4 223 723.4 218.4 725.4 215.5 727.4 217.8 729.4 218.1 731.4 218.6 733.4 215.7 735.4 216.3 737.4 217.4 739.4 217.8 741.5 217.5 743.5 217.3 745.5 216.4 747.5 217.5 749.5 216.4 751.5 217.5 753.5 217.2 755.5 217.3 757.5 215 759.5 214.8 761.5 215.3 763.6 213.5 765.6 216.2 767.6 217.7 769.6 215.8 771.6 216.1 773.6 219.7 775.6 220.2 777.6 219.3 779.6 222.8 781.6 220.3 783.6 219.1 785.6 215 787.7 215.2 789.7 215.5 791.7 217.8 793.7 218.8 795.7 216.9 797.7 215.4 799.7 215.5 801.7 213.3 803.7 215.7 805.7 215.7 807.7 217 809.8 217.1 811.8 216.1 813.8 217.6 815.8 213.3 817.8 213.5 819.8 216.4 821.8 215 823.8 215.9 825.8 215 827.8 219.4 829.8 221.5 831.9 223.8 833.9 224.4 835.9 224 837.9 218 839.9 223.9 841.9 228 843.9 228.9 845.9 229.8 847.9 231.5 849.9 229.6 851.9 232.1 854 232.4 856 234.2 858 233.8 860 232.8 862 231.5 864 232 866 230.7 868 231.4 870 230.6 872 233.3 874 231.2 876.1 230.7 878.1 226 880.1 226.5 882.1 225.9 884.1 226.7 886.1 227.4 888.1 229.2 890.1 229.9 892.1 228.2 894.1 228.7 896.1 229.5 898.2 228.7 900.2 231.6 902.2 231.7 904.2 233.5 906.2 233.9 908.2 235.6 910.2 237.9 912.2 235.2 914.2 235.8 916.2 235.8 918.2 235.4 920.3 234.8 922.3 232.8 924.3 236.1 926.3 235L926.3 254.7 924.3 254.4 922.3 252.7 920.3 254.2 918.2 256.3 916.2 255.1 914.2 255.7 912.2 255.7 910.2 254.1 908.2 252.7 906.2 253.3 904.2 254.2 902.2 250.3 900.2 249.2 898.2 249.6 896.1 249.4 894.1 246.7 892.1 246.1 890.1 246.7 888.1 248.3 886.1 246.4 884.1 247.2 882.1 246.8 880.1 246.3 878.1 247.7 876.1 249 874 248.8 872 250.3 870 249.9 868 250.8 866 250.9 864 251.7 862 251.2 860 252.4 858 252.6 856 252.3 854 256.6 851.9 258.5 849.9 256.2 847.9 258.1 845.9 258.4 843.9 255.1 841.9 257.8 839.9 255.2 837.9 254.2 835.9 255.6 833.9 252.8 831.9 250.1 829.8 252.1 827.8 249 825.8 246.4 823.8 244.3 821.8 246.3 819.8 244.7 817.8 243.3 815.8 242.4 813.8 244.3 811.8 241.7 809.8 244.4 807.7 243.8 805.7 243.9 803.7 245 801.7 244.1 799.7 244.7 797.7 248.5 795.7 244.1 793.7 246.8 791.7 245 789.7 245.4 787.7 246.2 785.6 248.4 783.6 250.4 781.6 250.3 779.6 251.4 777.6 249.6 775.6 248.4 773.6 245.6 771.6 247.4 769.6 244.8 767.6 244.5 765.6 244.7 763.6 245.1 761.5 243.9 759.5 241.9 757.5 245.9 755.5 243 753.5 244.4 751.5 240.2 749.5 245.9 747.5 243.9 745.5 243.6 743.5 245.3 741.5 242.3 739.4 247.6 737.4 249.2 735.4 246.4 733.4 246.3 731.4 248.3 729.4 248.7 727.4 248.6 725.4 247.2 723.4 250 721.4 251.1 719.4 254.8 717.3 254.5 715.3 255.5 713.3 254.5 711.3 253.1 709.3 248.5 707.3 247.6 705.3 249.3 703.3 253.2 701.3 249 699.3 251.7 697.3 249.7 695.2 250.3 693.2 249.9 691.2 251.6 689.2 252.3 687.2 250.8 685.2 252.4 683.2 250.9 681.2 252.3 679.2 253.6 677.2 251.2 675.2 252.7 673.1 254 671.1 251.1 669.1 250 667.1 251.8 665.1 249.1 663.1 249.2 661.1 248.6 659.1 249 657.1 249.3 655.1 247.6 653.1 245 651 245.8 649 245.7 647 244.7 645 249.7 643 248.3 641 250.3 639 249.2 637 250.7 635 250 633 251.1 631 249.8 628.9 251.3 626.9 251.1 624.9 249.2 622.9 251.3 620.9 250.5 618.9 249 616.9 249.6 614.9 247.9 612.9 249.8 610.9 250.6 608.9 253.2 606.8 252.8 604.8 252.3 602.8 255.4 600.8 256.7 598.8 253.6 596.8 256.2 594.8 253.9 592.8 255.4 590.8 255.8 588.8 254.3 586.8 255 584.7 254.3 582.7 253.7 580.7 253.2 578.7 250 576.7 253.2 574.7 252.4 572.7 255.5 570.7 250.2 568.7 250 566.7 250.5 564.7 251.4 562.6 252.9 560.6 254.5 558.6 252.1 556.6 251.1 554.6 250.9 552.6 251.2Z" class="k" style="fill:#231f20"/>
<path d="M552.6 239.4 554.1 238.4 555.6 239.1 557.1 239.7 558.6 238.9 560.1 238.5 561.6 239 563.1 239.6 564.6 239.8 566.1 239.3 567.6 239.5 569.1 239.7 570.6 239.4 572.1 239.7 573.6 239.7 575.1 239.3 576.6 239.5 578.1 239.4 579.6 239.3 581.1 239.2 582.6 239.4 584.1 239.5 585.6 239.3 587.1 239.7 588.6 240.2 590.1 239.8 591.6 239.8 593.1 239.7 594.6 239.9 596.1 239.4 597.6 239 599.1 238.4 600.6 238.9 602.1 239.4 603.6 239.4 605.1 239.8 606.6 239.5 608.1 239.8 609.6 239.5 611.1 239.9 612.6 240.2 614.1 240.5 615.6 239.6 617.1 240.1 618.6 240 620.1 240.4 621.6 241.5 623.1 241 624.6 240.9 626.1 240.6 627.6 240.5 629.1 241.3 630.6 240.6 632.1 240.7 633.6 240.8 635.1 240.5 636.6 241.1 638.1 241 639.6 240.6 641.1 241.3 642.6 240.3 644.1 241 645.6 240.6 647.1 241.5 648.6 241.2 650.1 241.3 651.6 241.8 653.1 242.4 654.7 241.8 656.2 241.4 657.7 241.5 659.2 242.1 660.7 241.9 662.2 241.8 663.7 241.7 665.2 241.6 666.7 241.6 668.2 241.1 669.7 241.5 671.2 241 672.7 240.9 674.2 241.1 675.7 240.8 677.2 241.2 678.7 241.6 680.2 242.1 681.7 241.6 683.2 241.8 684.7 242 686.2 241.9 687.7 241.9 689.2 242.3 690.7 241.8 692.2 241.8 693.7 241.8 695.2 242.1 696.7 242.4 698.2 241.9 699.7 241.8 701.2 241.9 702.7 241 704.2 241.2 705.7 241.3 707.2 241.3 708.7 241.4 710.2 240.7 711.7 241 713.2 240.9 714.7 240.6 716.2 240.6 717.7 239.5 719.2 239.5 720.7 239.6 722.2 240.6 723.7 240.1 725.2 239.5 726.7 239.5 728.2 240.1 729.7 239.9 731.2 239.3 732.7 238.5 734.2 239 735.7 238 737.2 238.8 738.7 238.8 740.2 238.6 741.7 238.7 743.2 238.4 744.7 239.2 746.2 239.3 747.7 239.1 749.2 239.2 750.7 238.9 752.2 239.7 753.7 239.2 755.2 239.4 756.7 239.2 758.2 239.7 759.7 239.8 761.2 240.3 762.7 240.1 764.2 240 765.7 239.5 767.2 239.6 768.7 239.5 770.2 239.3 771.7 239.3 773.2 239.7 774.7 239.3 776.2 239.1 777.7 239.7 779.2 239.4 780.7 239.3 782.2 239.7 783.7 240 785.2 240 786.7 239.7 788.2 240.1 789.7 240.1 791.2 240.3 792.7 240.1 794.2 240.1 795.7 240.8 797.2 240.7 798.7 240.6 800.2 241.5 801.7 241 803.2 241 804.7 240.7 806.2 240.3 807.7 240.4 809.2 240.1 810.7 240.5 812.2 240.1 813.7 239.6 815.2 239.9 816.7 240.8 818.2 240.7 819.7 240.4 821.2 241 822.7 240.6 824.2 240.8 825.7 240.8 827.2 240.8 828.7 241.3 830.2 241.6 831.7 242.2 833.2 242.4 834.7 241.8 836.2 241.2 837.7 241.6 839.2 242.1 840.7 241.4 842.2 241.1 843.7 241.3 845.2 240.7 846.7 241.5 848.2 240.7 849.7 240.8 851.2 240.2 852.7 240.4 854.2 240.2 855.7 239.6 857.2 240.4 858.8 240.3 860.3 239.9 861.8 240 863.3 240.6 864.8 240.2 866.3 240.2 867.8 239.7 869.3 240.3 870.8 239.4 872.3 239.2 873.8 239.4 875.3 239.1 876.8 238.8 878.3 239.5 879.8 239.6 881.3 239.6 882.8 239.6 884.3 239.2 885.8 240.1 887.3 240.1 888.8 239.7 890.3 239.1 891.8 240 893.3 239.4 894.8 239.5 896.3 239.5 897.8 239.7 899.3 239.9 900.8 240.2 902.3 240.8 903.8 240.2 905.3 240.3 906.8 240.7 908.3 240.3 909.8 240.6 911.3 240.8 912.8 240.6 914.3 240.8 915.8 240.5 917.3 240.9 918.8 241.3 920.3 241.3 921.8 241.3 923.3 240.9 924.8 241.2 926.3 241.8" stroke="#37ab4b" stroke-width="3.0" stroke-linejoin="round"/>
<path d="M552.6 239.3 554.1 238.9 555.6 238.2 557.1 238.6 558.6 239.5 560.1 239.3 561.6 239.3 563.1 240.3 564.6 240.3 566.1 239.3 567.6 237.8 569.1 238 570.6 238.4 572.1 239.6 573.6 239.1 575.1 239.3 576.6 239.6 578.1 240.3 579.6 239.9 581.1 240.4 582.6 241.3 584.1 242 585.6 242.6 587.1 242.7 588.6 242.2 590.1 242.6 591.6 241.4 593.1 242.6 594.6 242.8 596.1 242.9 597.6 243.8 599.1 243.7 600.6 243.4 602.1 240.8 603.6 240 605.1 239.2 606.6 239 608.1 236.5 609.6 237.8 611.1 237.3 612.6 236.1 614.1 234.3 615.6 233.9 617.1 234.1 618.6 234.9 620.1 234.3 621.6 235.6 623.1 235.2 624.6 234.8 626.1 234.5 627.6 236.3 629.1 235 630.6 237.1 632.1 234.9 633.6 236.5 635.1 236.5 636.6 236.6 638.1 236.4 639.6 235.2 641.1 234.4 642.6 234.4 644.1 233.4 645.6 233.3 647.1 232.4 648.6 231.4 650.1 232.4 651.6 232 653.1 231.7 654.7 232.6 656.2 231.9 657.7 232.9 659.2 233.2 660.7 234.6 662.2 233.2 663.7 232.8 665.2 232.3 666.7 234.6 668.2 234.9 669.7 234.7 671.2 235 672.7 235.8 674.2 235.7 675.7 235.9 677.2 235.6 678.7 235.7 680.2 235.5 681.7 236.8 683.2 236.5 684.7 237.6 686.2 237.6 687.7 236 689.2 235.1 690.7 236.1 692.2 236 693.7 235.1 695.2 235.5 696.7 236.8 698.2 236.6 699.7 236.9 701.2 236.9 702.7 236.4 704.2 234.7 705.7 234.6 707.2 233.5 708.7 233.8 710.2 233 711.7 235.2 713.2 235.5 714.7 235.6 716.2 236.7 717.7 237.2 719.2 237.1 720.7 235.2 722.2 235.1 723.7 234 725.2 233.1 726.7 231 728.2 232 729.7 232.5 731.2 231.5 732.7 230.9 734.2 230.3 735.7 229.4 737.2 230.4 738.7 229.7 740.2 228.5 741.7 229 743.2 229.6 744.7 229.4 746.2 227.9 747.7 228 749.2 228.2 750.7 229.1 752.2 228.2 753.7 229.1 755.2 228.4 756.7 227.9 758.2 227.8 759.7 228.8 761.2 228.6 762.7 229.3 764.2 231.5 765.7 231.4 767.2 230.8 768.7 232.2 770.2 233.6 771.7 233.4 773.2 234.3 774.7 235.4 776.2 236.1 777.7 238.2 779.2 239.6 780.7 238.1 782.2 237.6 783.7 235.5 785.2 235.3 786.7 232.7 788.2 232.1 789.7 232 791.2 232.9 792.7 232.3 794.2 232.5 795.7 231.6 797.2 231.1 798.7 231.3 800.2 230.4 801.7 231.6 803.2 231.6 804.7 231.9 806.2 231.6 807.7 231.6 809.2 230.8 810.7 231.3 812.2 231.3 813.7 231.8 815.2 232.6 816.7 231.2 818.2 231.9 819.7 233.1 821.2 232 822.7 233.1 824.2 233.6 825.7 234.3 827.2 235.2 828.7 236 830.2 235.7 831.7 237.9 833.2 237.3 834.7 239.7 836.2 240.2 837.7 240.9 839.2 240.5 840.7 241 842.2 242.8 843.7 243.9 845.2 243.6 846.7 242.8 848.2 241.3 849.7 242.4 851.2 243.8 852.7 242.9 854.2 243.3 855.7 243 857.2 242.3 858.8 243.4 860.3 241.6 861.8 239.9 863.3 240.3 864.8 240.7 866.3 241.8 867.8 242.1 869.3 240.4 870.8 240.2 872.3 240.4 873.8 240 875.3 240 876.8 239.9 878.3 239.6 879.8 239.4 881.3 238.7 882.8 238.2 884.3 237.6 885.8 238.1 887.3 237.7 888.8 237.4 890.3 236.9 891.8 238.1 893.3 237.9 894.8 237.6 896.3 238.1 897.8 238.6 899.3 238.9 900.8 239.6 902.3 239.2 903.8 241.8 905.3 242.6 906.8 244.1 908.3 243.8 909.8 243.7 911.3 243.7 912.8 245.1 914.3 243.9 915.8 243.6 917.3 242.5 918.8 242.6 920.3 242.7 921.8 241.7 923.3 240.6 924.8 240.6 926.3 242.6" stroke="#231f20" stroke-width="3.0" stroke-linejoin="round"/>
<path d="M872.9 36.4V286.3" stroke="#231f20" stroke-width="1.6" stroke-dasharray="5.4 4.2"/>
<path d="M552.6 36.4V286.3H957.6M552.6 54.7h-8.3M552.6 91.8h-8.3M552.6 128.9h-8.3M552.6 166h-8.3M552.6 203.2h-8.3M552.6 240.3h-8.3M552.6 277.4h-8.3M552.6 286.3v7M606 286.3v7M659.4 286.3v7M712.8 286.3v7M766.1 286.3v7M819.5 286.3v7M872.9 286.3v7M926.3 286.3v7" stroke="#231f20" stroke-width="1.7"/>
<text transform="translate(540.3 62.2) scale(1.02 1)" font-size="21" text-anchor="end">20</text>
<text transform="translate(540.3 99.3) scale(1.02 1)" font-size="21" text-anchor="end">16</text>
<text transform="translate(540.3 136.5) scale(1.02 1)" font-size="21" text-anchor="end">12</text>
<text transform="translate(540.3 173.6) scale(1.02 1)" font-size="21" text-anchor="end">8</text>
<text transform="translate(540.3 210.7) scale(1.02 1)" font-size="21" text-anchor="end">4</text>
<text transform="translate(540.3 247.8) scale(1.02 1)" font-size="21" text-anchor="end">0</text>
<text transform="translate(540.3 284.9) scale(1.02 1)" font-size="21" text-anchor="end">-4</text>
<text transform="translate(550.6 311.3) scale(1.02 1)" font-size="21" text-anchor="middle">-12</text>
<text transform="translate(604 311.3) scale(1.02 1)" font-size="21" text-anchor="middle">-10</text>
<text transform="translate(657.4 311.3) scale(1.02 1)" font-size="21" text-anchor="middle">-8</text>
<text transform="translate(710.8 311.3) scale(1.02 1)" font-size="21" text-anchor="middle">-6</text>
<text transform="translate(764.1 311.3) scale(1.02 1)" font-size="21" text-anchor="middle">-4</text>
<text transform="translate(817.5 311.3) scale(1.02 1)" font-size="21" text-anchor="middle">-2</text>
<text transform="translate(872.9 311.3) scale(1.02 1)" font-size="21" text-anchor="middle">0</text>
<text transform="translate(926.3 311.3) scale(1.02 1)" font-size="21" text-anchor="middle">2</text>
<text transform="translate(513.1 161.3) rotate(-90) scale(1.06 1)" font-size="23" text-anchor="middle">ΔF/F (%)</text>
<text transform="translate(755.1 333.8) scale(1.06 1)" font-size="23" text-anchor="middle">End of acceleration (s)</text>
<path d="M730 54L764.5 54" stroke="#231f20" stroke-width="3.4"/>
<text transform="translate(768.5 63.5) scale(1.06 1)" font-size="20">405 nm</text>
<path d="M730 79L764.5 79" stroke="#37ab4b" stroke-width="3.4"/>
<text transform="translate(768.5 87.5) scale(1.06 1)" font-size="20">470 nm</text>
<path d="M1035.1 196 1037.1 195.5 1039.1 199.4 1041.1 204.2 1043.1 204.3 1045.1 200.1 1047.1 203.8 1049.1 203 1051.2 197.7 1053.2 196.9 1055.2 194.5 1057.2 198.2 1059.2 196.5 1061.2 193.8 1063.2 201.1 1065.2 202.4 1067.2 200.1 1069.2 205 1071.2 202.9 1073.2 206.4 1075.2 207.9 1077.2 200.9 1079.2 202 1081.3 196.6 1083.3 198.2 1085.3 196.3 1087.3 198.6 1089.3 204.3 1091.3 198 1093.3 201 1095.3 199.3 1097.3 200.4 1099.3 191.6 1101.3 194 1103.3 197.8 1105.3 198.5 1107.3 197.5 1109.3 200.5 1111.4 200.6 1113.4 204 1115.4 203.7 1117.4 204.8 1119.4 208.2 1121.4 207.2 1123.4 208.2 1125.4 206.6 1127.4 205.7 1129.4 207.5 1131.4 214.4 1133.4 218 1135.4 211.9 1137.4 206.6 1139.4 210.2 1141.5 210.4 1143.5 211.6 1145.5 212.2 1147.5 213.2 1149.5 216.5 1151.5 215.9 1153.5 216.9 1155.5 215.6 1157.5 207.8 1159.5 214.3 1161.5 214 1163.5 212.8 1165.5 211.1 1167.5 206.3 1169.5 207.9 1171.6 210.4 1173.6 210.6 1175.6 214 1177.6 213.2 1179.6 220.9 1181.6 220.4 1183.6 221.4 1185.6 221.1 1187.6 219 1189.6 219.1 1191.6 218.1 1193.6 216.1 1195.6 221.5 1197.6 221.4 1199.6 219.4 1201.7 221.1 1203.7 223.8 1205.7 220.9 1207.7 221 1209.7 218.3 1211.7 218.9 1213.7 218.8 1215.7 217.3 1217.7 214.5 1219.7 213.4 1221.7 213.2 1223.7 215 1225.7 214 1227.7 216 1229.7 218.3 1231.8 220.1 1233.8 223.3 1235.8 223.4 1237.8 224.5 1239.8 226 1241.8 225.2 1243.8 226.8 1245.8 228.4 1247.8 225.9 1249.8 223.5 1251.8 222.3 1253.8 223.9 1255.8 220.7 1257.8 217.5 1259.8 214.3 1261.9 214.9 1263.9 216.1 1265.9 215.7 1267.9 209.9 1269.9 217.4 1271.9 212.8 1273.9 215 1275.9 219 1277.9 219.7 1279.9 222.7 1281.9 221.4 1283.9 218.3 1285.9 220.2 1287.9 222.5 1290 218 1292 219.1 1294 216 1296 216.7 1298 217.6 1300 217.4 1302 216 1304 211.5 1306 211.9 1308 206.2 1310 203 1312 206.5 1314 207.2 1316 210.5 1318 214.4 1320.1 215.7 1322.1 214.3 1324.1 214.4 1326.1 215.6 1328.1 213.8 1330.1 214.3 1332.1 214.8 1334.1 219 1336.1 217.8 1338.1 218.2 1340.1 217.5 1342.1 222.1 1344.1 223.2 1346.1 223.4 1348.1 226.5 1350.2 229 1352.2 230.4 1354.2 232.2 1356.2 232.5 1358.2 230.3 1360.2 229.3 1362.2 231.6 1364.2 234.4 1366.2 235.3 1368.2 236 1370.2 234.9 1372.2 236.1 1374.2 236.4 1376.2 236 1378.2 236.1 1380.3 235.6 1382.3 234.7 1384.3 235.4 1386.3 236.8 1388.3 238.4 1390.3 238.5 1392.3 238.4 1394.3 233.7 1396.3 230.3 1398.3 227.7 1400.3 229.1 1402.3 228 1404.3 239 1406.3 239.2 1408.3 232.3 1410.4 227.9L1410.4 249.5 1408.3 252.9 1406.3 262.3 1404.3 261.6 1402.3 252.4 1400.3 248.8 1398.3 245.2 1396.3 244.8 1394.3 248.8 1392.3 249.1 1390.3 248 1388.3 248.5 1386.3 247.2 1384.3 248.4 1382.3 245.3 1380.3 246.1 1378.2 246.3 1376.2 247.3 1374.2 247.1 1372.2 247.6 1370.2 246 1368.2 249.2 1366.2 247 1364.2 247.6 1362.2 245.9 1360.2 248.4 1358.2 248.6 1356.2 247 1354.2 246.7 1352.2 245.4 1350.2 245.5 1348.1 246.4 1346.1 244.1 1344.1 242.6 1342.1 242.6 1340.1 242.9 1338.1 243.7 1336.1 247.4 1334.1 250.2 1332.1 246.8 1330.1 243.5 1328.1 243.5 1326.1 247 1324.1 246.2 1322.1 247.3 1320.1 244.3 1318 244.6 1316 245.6 1314 239.7 1312 238.8 1310 237.9 1308 240.7 1306 239.4 1304 241 1302 242.5 1300 242.9 1298 245.2 1296 247.4 1294 247.7 1292 247.5 1290 249.5 1287.9 249.6 1285.9 248.3 1283.9 249.8 1281.9 246.3 1279.9 250.4 1277.9 250.8 1275.9 246.6 1273.9 249.2 1271.9 247.8 1269.9 247 1267.9 246.3 1265.9 248 1263.9 248.7 1261.9 251 1259.8 256.8 1257.8 256.3 1255.8 256.9 1253.8 255.9 1251.8 261.3 1249.8 261 1247.8 261.8 1245.8 264.3 1243.8 259 1241.8 261.6 1239.8 256.4 1237.8 257.1 1235.8 259.8 1233.8 254.4 1231.8 253.1 1229.7 252 1227.7 250.7 1225.7 253.5 1223.7 249.4 1221.7 251.6 1219.7 254.8 1217.7 251.2 1215.7 250.8 1213.7 251.5 1211.7 249.4 1209.7 250.3 1207.7 251.4 1205.7 251.3 1203.7 253.9 1201.7 258.4 1199.6 255.2 1197.6 254.3 1195.6 252.3 1193.6 254.2 1191.6 249.8 1189.6 252.8 1187.6 251.3 1185.6 252.5 1183.6 253.6 1181.6 253.5 1179.6 254.3 1177.6 252.8 1175.6 251.7 1173.6 246.6 1171.6 249.8 1169.5 249.6 1167.5 247.8 1165.5 249 1163.5 251.9 1161.5 248.8 1159.5 251.9 1157.5 255.2 1155.5 255.8 1153.5 255.6 1151.5 255.8 1149.5 248.7 1147.5 252.6 1145.5 252.5 1143.5 247.1 1141.5 253.7 1139.4 255.5 1137.4 252.5 1135.4 252.6 1133.4 255.8 1131.4 257 1129.4 252.5 1127.4 253.9 1125.4 250.4 1123.4 252.1 1121.4 257.9 1119.4 253.7 1117.4 254.1 1115.4 257.4 1113.4 258.7 1111.4 255.6 1109.3 248.7 1107.3 245.6 1105.3 241 1103.3 242 1101.3 245.1 1099.3 242 1097.3 245.6 1095.3 245.9 1093.3 250.1 1091.3 249.6 1089.3 247.6 1087.3 244.9 1085.3 250.3 1083.3 246.6 1081.3 247.3 1079.2 249.1 1077.2 248.7 1075.2 254.1 1073.2 254.3 1071.2 252.2 1069.2 250.3 1067.2 244 1065.2 246.9 1063.2 237.9 1061.2 243 1059.2 243.5 1057.2 242.7 1055.2 246.1 1053.2 246.3 1051.2 249.3 1049.1 250.1 1047.1 249.6 1045.1 249.7 1043.1 248 1041.1 256.6 1039.1 248.2 1037.1 248.4 1035.1 246.1Z" class="s" style="fill:#e8202a"/>
<path d="M1035.1 231.9 1037.1 232.4 1039.1 232.9 1041.1 232.6 1043.1 232.5 1045.1 232.5 1047.1 231.9 1049.1 232.8 1051.2 231.9 1053.2 232.6 1055.2 233 1057.2 233.6 1059.2 234.2 1061.2 233.8 1063.2 233.6 1065.2 234.2 1067.2 233.4 1069.2 233.2 1071.2 233.2 1073.2 233.5 1075.2 233 1077.2 232.4 1079.2 232.5 1081.3 232.3 1083.3 231.8 1085.3 232.2 1087.3 231.9 1089.3 233.7 1091.3 232.8 1093.3 233.1 1095.3 233.7 1097.3 234.7 1099.3 234.9 1101.3 234.4 1103.3 234.7 1105.3 234.2 1107.3 235.6 1109.3 236.4 1111.4 236.8 1113.4 236.1 1115.4 237.8 1117.4 236.5 1119.4 237.3 1121.4 236.8 1123.4 237.4 1125.4 235.8 1127.4 238 1129.4 236.8 1131.4 238.2 1133.4 238 1135.4 237.8 1137.4 236.6 1139.4 237.6 1141.5 237.6 1143.5 238.1 1145.5 237.3 1147.5 237.7 1149.5 237.7 1151.5 236.6 1153.5 237.2 1155.5 235.3 1157.5 236.2 1159.5 236 1161.5 236.9 1163.5 237 1165.5 237.7 1167.5 236.9 1169.5 236.9 1171.6 237.1 1173.6 237 1175.6 237.1 1177.6 237 1179.6 235.9 1181.6 236.8 1183.6 235.5 1185.6 236.2 1187.6 237 1189.6 236.5 1191.6 236.5 1193.6 237.1 1195.6 236.8 1197.6 236.7 1199.6 236.2 1201.7 235 1203.7 236.3 1205.7 236 1207.7 236.2 1209.7 237.1 1211.7 236.3 1213.7 234.5 1215.7 234.6 1217.7 237 1219.7 236.9 1221.7 236.3 1223.7 236.7 1225.7 235.7 1227.7 235.8 1229.7 237.7 1231.8 237.8 1233.8 237 1235.8 238 1237.8 236.1 1239.8 236.2 1241.8 236.2 1243.8 235.4 1245.8 236.2 1247.8 236.2 1249.8 235.2 1251.8 235.9 1253.8 236.4 1255.8 237.1 1257.8 237.9 1259.8 239.1 1261.9 239.3 1263.9 238.4 1265.9 239.5 1267.9 238.8 1269.9 239 1271.9 239.1 1273.9 238.1 1275.9 239 1277.9 238.7 1279.9 238.9 1281.9 238.8 1283.9 238.5 1285.9 238.7 1287.9 239.1 1290 239.7 1292 238 1294 240 1296 239.4 1298 240.1 1300 239.7 1302 239.8 1304 239.3 1306 239.6 1308 240.6 1310 238.5 1312 239.8 1314 238.2 1316 239.5 1318 239.7 1320.1 239.8 1322.1 238.2 1324.1 239.2 1326.1 239.4 1328.1 238.1 1330.1 238.8 1332.1 238.4 1334.1 237.4 1336.1 239.4 1338.1 239.6 1340.1 239 1342.1 238 1344.1 238.2 1346.1 239 1348.1 239.5 1350.2 239.6 1352.2 239.8 1354.2 240.3 1356.2 239.8 1358.2 239.5 1360.2 239.6 1362.2 238 1364.2 238.4 1366.2 238.6 1368.2 236.8 1370.2 236.7 1372.2 237.8 1374.2 237.3 1376.2 236.4 1378.2 236.9 1380.3 236.6 1382.3 236.4 1384.3 236.5 1386.3 237 1388.3 236.8 1390.3 237.6 1392.3 237.4 1394.3 232.8 1396.3 229.4 1398.3 231.2 1400.3 232.3 1402.3 232.7 1404.3 234.5 1406.3 233.3 1408.3 232 1410.4 231.6L1410.4 241.9 1408.3 242.8 1406.3 243.2 1404.3 243.5 1402.3 243.9 1400.3 242 1398.3 241 1396.3 240.6 1394.3 244.7 1392.3 247.7 1390.3 247.3 1388.3 248.3 1386.3 249.1 1384.3 250 1382.3 248.2 1380.3 246.6 1378.2 246.8 1376.2 246.9 1374.2 247 1372.2 248.1 1370.2 248.1 1368.2 248.3 1366.2 248.7 1364.2 248.8 1362.2 248.7 1360.2 249.3 1358.2 249.9 1356.2 249.5 1354.2 249.3 1352.2 249.2 1350.2 249.6 1348.1 250.3 1346.1 250.3 1344.1 250.6 1342.1 250.8 1340.1 250.3 1338.1 249.4 1336.1 250.9 1334.1 251 1332.1 249.4 1330.1 250.2 1328.1 250 1326.1 250.5 1324.1 250.7 1322.1 251.3 1320.1 250.6 1318 250.9 1316 251.2 1314 251.4 1312 251.5 1310 251.3 1308 252 1306 251.8 1304 251.5 1302 251.3 1300 253 1298 252.2 1296 251.1 1294 251.9 1292 252.8 1290 251.2 1287.9 250.1 1285.9 250.5 1283.9 251 1281.9 251.3 1279.9 249.7 1277.9 249.6 1275.9 249.3 1273.9 250.7 1271.9 250.3 1269.9 250 1267.9 250 1265.9 249.6 1263.9 250.8 1261.9 249.4 1259.8 250 1257.8 248.8 1255.8 247.2 1253.8 248.9 1251.8 247.2 1249.8 247.2 1247.8 247.5 1245.8 247 1243.8 246.2 1241.8 246.2 1239.8 246.6 1237.8 247.7 1235.8 248.3 1233.8 247.1 1231.8 246.4 1229.7 246.4 1227.7 247.2 1225.7 246.6 1223.7 246.4 1221.7 246.5 1219.7 246.8 1217.7 247.6 1215.7 246.8 1213.7 246.4 1211.7 246.1 1209.7 246.5 1207.7 246.7 1205.7 246.5 1203.7 246.1 1201.7 246 1199.6 245.8 1197.6 247.3 1195.6 245.7 1193.6 246.5 1191.6 246.2 1189.6 246.5 1187.6 246.4 1185.6 247 1183.6 247 1181.6 246.6 1179.6 246 1177.6 246.6 1175.6 246.3 1173.6 246.1 1171.6 246.5 1169.5 246.2 1167.5 246.5 1165.5 247.7 1163.5 246.6 1161.5 246.6 1159.5 247.4 1157.5 248.4 1155.5 248.8 1153.5 248.6 1151.5 247 1149.5 248.3 1147.5 246.7 1145.5 248.3 1143.5 247.1 1141.5 247.2 1139.4 247.2 1137.4 247.3 1135.4 247.3 1133.4 246.9 1131.4 246.3 1129.4 246.6 1127.4 247 1125.4 245.8 1123.4 246.3 1121.4 246.8 1119.4 245.8 1117.4 247.1 1115.4 246.4 1113.4 246.8 1111.4 246 1109.3 246.1 1107.3 245.9 1105.3 246 1103.3 245.8 1101.3 245.5 1099.3 244.4 1097.3 244.4 1095.3 243.9 1093.3 243.9 1091.3 242.9 1089.3 243.6 1087.3 243.2 1085.3 242.8 1083.3 243.1 1081.3 243.4 1079.2 243.4 1077.2 243.6 1075.2 243.2 1073.2 244.1 1071.2 245.7 1069.2 243.7 1067.2 244.6 1065.2 245.3 1063.2 244.4 1061.2 244.2 1059.2 245.5 1057.2 245.1 1055.2 244.8 1053.2 244.2 1051.2 244.9 1049.1 244.6 1047.1 243.4 1045.1 245.4 1043.1 244 1041.1 243.6 1039.1 243.5 1037.1 242.7 1035.1 242.6Z" class="k" style="fill:#231f20"/>
<path d="M1035.1 222.9 1036.6 222 1038.1 224.7 1039.6 224.1 1041.1 225.7 1042.6 227.4 1044.1 227.8 1045.6 227.7 1047.1 226.3 1048.6 226.4 1050.1 225.8 1051.6 224.4 1053.1 224.6 1054.6 224.2 1056.1 224.1 1057.6 223.5 1059.1 220.3 1060.6 221.1 1062.1 219.7 1063.6 221.4 1065.1 221.7 1066.6 223.4 1068.1 225.9 1069.6 225.4 1071.1 226.1 1072.6 227.5 1074.1 227.8 1075.6 228.7 1077.1 224.6 1078.6 222.1 1080.1 219.7 1081.6 220.5 1083.1 219.7 1084.6 223.4 1086.1 223.5 1087.6 223.5 1089.1 223.6 1090.6 225.3 1092.1 224.4 1093.6 223.5 1095.1 221.7 1096.6 222.5 1098.1 222.2 1099.6 222.5 1101.1 221.5 1102.6 220 1104.1 220.9 1105.6 220.9 1107.1 223.4 1108.6 225.6 1110.2 226.5 1111.7 226.7 1113.2 229.2 1114.7 231 1116.2 231.1 1117.7 230.3 1119.2 231.2 1120.7 232.2 1122.2 231.4 1123.7 231.9 1125.2 232 1126.7 230 1128.2 234 1129.7 234.2 1131.2 234 1132.7 235.1 1134.2 235.2 1135.7 234.1 1137.2 234.1 1138.7 235 1140.2 234.6 1141.7 233.1 1143.2 233.8 1144.7 233.2 1146.2 233.6 1147.7 234.8 1149.2 233.9 1150.7 233.5 1152.2 235.2 1153.7 236.8 1155.2 236.2 1156.7 234.9 1158.2 234.5 1159.7 234.6 1161.2 233.4 1162.7 231.8 1164.2 230.9 1165.7 230.1 1167.2 230.9 1168.7 231.1 1170.2 231.3 1171.7 230.8 1173.2 231.1 1174.7 230.5 1176.2 233.8 1177.7 234.2 1179.2 235.5 1180.7 238 1182.2 239 1183.7 239.6 1185.2 238.9 1186.7 238.1 1188.2 239.8 1189.7 238.4 1191.2 237.9 1192.7 237.8 1194.2 238 1195.7 238.4 1197.2 238.3 1198.7 239.6 1200.2 238.8 1201.7 238.3 1203.2 237.6 1204.7 237.8 1206.2 236.2 1207.7 234.3 1209.2 233.9 1210.7 232.9 1212.2 231.5 1213.7 232.2 1215.2 234.2 1216.7 232.6 1218.2 233.4 1219.7 232.2 1221.2 230.3 1222.7 232.4 1224.2 232.2 1225.7 231.5 1227.2 230.8 1228.7 233 1230.2 234.8 1231.7 234.8 1233.2 234.7 1234.7 234.2 1236.2 235.7 1237.7 235.8 1239.2 237.8 1240.7 237.8 1242.2 238.8 1243.7 240.5 1245.2 242.1 1246.7 242.1 1248.2 242.8 1249.7 241.8 1251.2 240.9 1252.7 240.9 1254.2 239.3 1255.7 239.7 1257.2 238.1 1258.8 238 1260.3 236.8 1261.8 232 1263.3 233 1264.8 232.3 1266.3 231.4 1267.8 232.8 1269.3 232 1270.8 234.3 1272.3 234.5 1273.8 232.4 1275.3 233.6 1276.8 234.2 1278.3 232.7 1279.8 233 1281.3 234.9 1282.8 234.8 1284.3 236.4 1285.8 238 1287.3 238.2 1288.8 237.3 1290.3 236.9 1291.8 236.7 1293.3 235.5 1294.8 233.3 1296.3 233 1297.8 233.3 1299.3 234.6 1300.8 230.7 1302.3 230.3 1303.8 227.4 1305.3 227.3 1306.8 226.9 1308.3 225.2 1309.8 225 1311.3 226.4 1312.8 228.5 1314.3 231.1 1315.8 230.1 1317.3 230.3 1318.8 231.9 1320.3 231.9 1321.8 229.5 1323.3 231.7 1324.8 232.8 1326.3 233.9 1327.8 232.3 1329.3 231.8 1330.8 233.6 1332.3 233.2 1333.8 233.7 1335.3 233.8 1336.8 233 1338.3 234.6 1339.8 234.6 1341.3 235.4 1342.8 233.4 1344.3 232.8 1345.8 234.2 1347.3 233.4 1348.8 236.6 1350.3 237 1351.8 237.7 1353.3 238.7 1354.8 238.7 1356.3 240.5 1357.8 241.1 1359.3 241.5 1360.8 241.2 1362.3 240.3 1363.8 240.8 1365.3 240.4 1366.8 241.1 1368.3 242.4 1369.8 241.6 1371.3 240.8 1372.8 240.9 1374.3 241.3 1375.8 240.1 1377.3 240.6 1378.8 240.7 1380.3 240 1381.8 240.2 1383.3 240.5 1384.8 241.6 1386.3 242.8 1387.8 241.8 1389.3 242 1390.8 242.5 1392.3 247.1 1393.8 243.7 1395.3 240.1 1396.8 238.1 1398.3 237.3 1399.8 239.6 1401.3 240.5 1402.8 243.3 1404.3 247.2 1405.8 248.2 1407.4 245.5 1408.9 242.5 1410.4 237.5" stroke="#e8202a" stroke-width="3.0" stroke-linejoin="round"/>
<path d="M1035.1 237.5 1036.6 237.4 1038.1 237.9 1039.6 237.8 1041.1 238.5 1042.6 239.1 1044.1 238.6 1045.6 237.7 1047.1 237.6 1048.6 238.5 1050.1 238.5 1051.6 238.2 1053.1 238.2 1054.6 238.6 1056.1 239.2 1057.6 239 1059.1 238.6 1060.6 239.2 1062.1 239.3 1063.6 239.5 1065.1 239 1066.6 238.8 1068.1 238.5 1069.6 238.5 1071.1 238.5 1072.6 238.2 1074.1 237.7 1075.6 237.8 1077.1 237.5 1078.6 237.7 1080.1 237.9 1081.6 237.9 1083.1 238.2 1084.6 238.4 1086.1 238 1087.6 238 1089.1 238.1 1090.6 238.4 1092.1 239.2 1093.6 239.9 1095.1 240 1096.6 240.6 1098.1 240.4 1099.6 239.9 1101.1 240.9 1102.6 240.3 1104.1 241.2 1105.6 241.9 1107.1 241.8 1108.6 241.1 1110.2 242.6 1111.7 241.8 1113.2 242.5 1114.7 242 1116.2 242.8 1117.7 242.8 1119.2 242.6 1120.7 243 1122.2 242.5 1123.7 242.4 1125.2 241.4 1126.7 241.7 1128.2 242.1 1129.7 242.8 1131.2 242.6 1132.7 242.8 1134.2 242.7 1135.7 243.7 1137.2 242.8 1138.7 243 1140.2 242.8 1141.7 242.3 1143.2 242.4 1144.7 242.1 1146.2 242.3 1147.7 242.3 1149.2 242.7 1150.7 242.7 1152.2 242.6 1153.7 242.5 1155.2 242.4 1156.7 242.3 1158.2 241.4 1159.7 241.8 1161.2 242.4 1162.7 242.4 1164.2 242.1 1165.7 241.7 1167.2 242 1168.7 241.1 1170.2 241.7 1171.7 241.8 1173.2 241.4 1174.7 241.1 1176.2 240.9 1177.7 241.8 1179.2 241 1180.7 241.6 1182.2 241 1183.7 241 1185.2 241.7 1186.7 241.4 1188.2 241 1189.7 240.8 1191.2 240.5 1192.7 241.5 1194.2 241.3 1195.7 240.7 1197.2 240.4 1198.7 240 1200.2 239.9 1201.7 240 1203.2 240.7 1204.7 240.7 1206.2 240.7 1207.7 240.8 1209.2 240.4 1210.7 240.3 1212.2 240.4 1213.7 240.5 1215.2 241.3 1216.7 241.8 1218.2 240.8 1219.7 240.8 1221.2 241.4 1222.7 240.4 1224.2 240.9 1225.7 241.5 1227.2 241.2 1228.7 241.9 1230.2 241.5 1231.7 242 1233.2 241.8 1234.7 242.6 1236.2 243 1237.7 242.8 1239.2 242.6 1240.7 242.2 1242.2 241.9 1243.7 241 1245.2 240.4 1246.7 240.5 1248.2 240.1 1249.7 240.4 1251.2 240.9 1252.7 241.5 1254.2 241.1 1255.7 242.3 1257.2 242.3 1258.8 242.5 1260.3 243.6 1261.8 243.7 1263.3 244.5 1264.8 244.9 1266.3 244.7 1267.8 245.1 1269.3 244.8 1270.8 244.8 1272.3 245 1273.8 245.1 1275.3 244.1 1276.8 244.7 1278.3 244.6 1279.8 244.4 1281.3 243.8 1282.8 244.8 1284.3 245.2 1285.8 244.4 1287.3 245 1288.8 244.6 1290.3 245.2 1291.8 244.4 1293.3 245.3 1294.8 244.7 1296.3 245.1 1297.8 245.1 1299.3 244.7 1300.8 245.4 1302.3 246 1303.8 245.7 1305.3 245.4 1306.8 245 1308.3 245.4 1309.8 244.1 1311.3 244.8 1312.8 244 1314.3 245.2 1315.8 245.1 1317.3 244.7 1318.8 245.1 1320.3 244 1321.8 244.1 1323.3 244 1324.8 244.3 1326.3 243.8 1327.8 244.1 1329.3 244 1330.8 243.6 1332.3 244.5 1333.8 244.8 1335.3 244.5 1336.8 244.2 1338.3 244.4 1339.8 244.4 1341.3 244.6 1342.8 244.4 1344.3 244 1345.8 244.4 1347.3 243.7 1348.8 244.7 1350.3 243.6 1351.8 244.6 1353.3 244.4 1354.8 244.4 1356.3 243.5 1357.8 244.1 1359.3 245.3 1360.8 244.8 1362.3 245 1363.8 244.1 1365.3 243.7 1366.8 243.7 1368.3 243.7 1369.8 243.3 1371.3 243.7 1372.8 243.2 1374.3 244 1375.8 243.7 1377.3 243.6 1378.8 244.1 1380.3 243.4 1381.8 243.2 1383.3 242.7 1384.8 243.3 1386.3 243.4 1387.8 243.5 1389.3 242.5 1390.8 242.6 1392.3 242.7 1393.8 240.3 1395.3 234.7 1396.8 234.9 1398.3 236.5 1399.8 237 1401.3 237.6 1402.8 238.9 1404.3 238.7 1405.8 238.4 1407.4 237.6 1408.9 236.7 1410.4 236.6" stroke="#231f20" stroke-width="3.0" stroke-linejoin="round"/>
<path d="M1355.6 38.2V288" stroke="#231f20" stroke-width="1.6" stroke-dasharray="5.4 4.2"/>
<path d="M1035.1 38.2V288H1440M1035.1 57.4h-8.3M1035.1 94.4h-8.3M1035.1 131.4h-8.3M1035.1 168.4h-8.3M1035.1 205.4h-8.3M1035.1 242.4h-8.3M1035.1 279.4h-8.3M1035.1 288v7M1088.5 288v7M1141.9 288v7M1195.3 288v7M1248.8 288v7M1302.2 288v7M1355.6 288v7M1409 288v7" stroke="#231f20" stroke-width="1.7"/>
<text transform="translate(1022.8 64.9) scale(1.02 1)" font-size="21" text-anchor="end">20</text>
<text transform="translate(1022.8 101.9) scale(1.02 1)" font-size="21" text-anchor="end">16</text>
<text transform="translate(1022.8 138.9) scale(1.02 1)" font-size="21" text-anchor="end">12</text>
<text transform="translate(1022.8 175.9) scale(1.02 1)" font-size="21" text-anchor="end">8</text>
<text transform="translate(1022.8 212.9) scale(1.02 1)" font-size="21" text-anchor="end">4</text>
<text transform="translate(1022.8 249.9) scale(1.02 1)" font-size="21" text-anchor="end">0</text>
<text transform="translate(1022.8 286.9) scale(1.02 1)" font-size="21" text-anchor="end">-4</text>
<text transform="translate(1033.1 313) scale(1.02 1)" font-size="21" text-anchor="middle">-12</text>
<text transform="translate(1086.5 313) scale(1.02 1)" font-size="21" text-anchor="middle">-10</text>
<text transform="translate(1139.9 313) scale(1.02 1)" font-size="21" text-anchor="middle">-8</text>
<text transform="translate(1193.3 313) scale(1.02 1)" font-size="21" text-anchor="middle">-6</text>
<text transform="translate(1246.8 313) scale(1.02 1)" font-size="21" text-anchor="middle">-4</text>
<text transform="translate(1300.2 313) scale(1.02 1)" font-size="21" text-anchor="middle">-2</text>
<text transform="translate(1355.6 313) scale(1.02 1)" font-size="21" text-anchor="middle">0</text>
<text transform="translate(1409 313) scale(1.02 1)" font-size="21" text-anchor="middle">2</text>
<text transform="translate(995.6 163.1) rotate(-90) scale(1.06 1)" font-size="23" text-anchor="middle">ΔF/F (%)</text>
<text transform="translate(1237.5 335.5) scale(1.06 1)" font-size="23" text-anchor="middle">End of acceleration (s)</text>
<path d="M1212.5 54L1247.5 54" stroke="#231f20" stroke-width="3.4"/>
<text transform="translate(1251.5 63) scale(1.06 1)" font-size="20">405 nm</text>
<path d="M1212.5 76L1247.5 76" stroke="#e8202a" stroke-width="3.4"/>
<text transform="translate(1251.5 84) scale(1.06 1)" font-size="20">470 nm</text>
<path d="M1513.6 223.4 1515.6 222.1 1517.6 222 1519.6 220.2 1521.6 221.3 1523.6 222.4 1525.6 223.3 1527.6 223.1 1529.6 223.6 1531.6 224.3 1533.7 223.5 1535.7 224.6 1537.7 223.1 1539.7 223.9 1541.7 222 1543.7 222.6 1545.7 221.8 1547.7 222.9 1549.7 223.6 1551.7 222.9 1553.7 221.7 1555.7 222.1 1557.7 218.9 1559.7 219.9 1561.7 219.2 1563.7 219.4 1565.7 219.8 1567.7 220.8 1569.8 220.5 1571.8 219.9 1573.8 218.1 1575.8 216.1 1577.8 218.1 1579.8 220.8 1581.8 219.3 1583.8 219.5 1585.8 219.6 1587.8 221 1589.8 219.3 1591.8 218.1 1593.8 216.8 1595.8 217.9 1597.8 216.7 1599.8 214.5 1601.8 214.4 1603.8 214.1 1605.9 215.6 1607.9 215.2 1609.9 214 1611.9 214.5 1613.9 216.6 1615.9 216.8 1617.9 218.7 1619.9 218.2 1621.9 219.6 1623.9 220.4 1625.9 220.5 1627.9 220.5 1629.9 220.1 1631.9 219.3 1633.9 216.4 1635.9 217.6 1637.9 217.7 1639.9 221.2 1641.9 221.8 1644 220.5 1646 219.1 1648 216.4 1650 217.2 1652 218.4 1654 220 1656 220.1 1658 219.8 1660 222.6 1662 222.3 1664 222.1 1666 221.7 1668 221.8 1670 221.2 1672 219 1674 218.9 1676 218.3 1678 218.6 1680.1 216 1682.1 214.8 1684.1 215.1 1686.1 216.7 1688.1 215.1 1690.1 216.9 1692.1 215.1 1694.1 215.7 1696.1 217.4 1698.1 216.5 1700.1 216.2 1702.1 214.5 1704.1 215 1706.1 216.1 1708.1 218 1710.1 218.3 1712.1 218.4 1714.1 218.5 1716.1 217.9 1718.2 217.6 1720.2 217.2 1722.2 215.2 1724.2 212.8 1726.2 214.9 1728.2 216.6 1730.2 217.5 1732.2 218.5 1734.2 216.2 1736.2 217.2 1738.2 217.6 1740.2 217.6 1742.2 218.2 1744.2 220.2 1746.2 221.8 1748.2 222.9 1750.2 223.4 1752.2 222.6 1754.3 222.7 1756.3 224.1 1758.3 223.8 1760.3 222.7 1762.3 223.9 1764.3 224 1766.3 224 1768.3 227.2 1770.3 226.9 1772.3 228.5 1774.3 227.9 1776.3 226.7 1778.3 227.1 1780.3 227.7 1782.3 227.1 1784.3 226.7 1786.3 227.1 1788.3 226.2 1790.4 225.9 1792.4 227.5 1794.4 227.2 1796.4 226.3 1798.4 225.8 1800.4 225.3 1802.4 225.9 1804.4 224.5 1806.4 222.6 1808.4 221.5 1810.4 220.5 1812.4 222.1 1814.4 221.1 1816.4 219.4 1818.4 220.5 1820.4 222.8 1822.4 225.9 1824.4 233.8 1826.4 234.2 1828.5 234.2 1830.5 234 1832.5 234.3 1834.5 235.2 1836.5 234.6 1838.5 235.2 1840.5 235.3 1842.5 235.9 1844.5 236.4 1846.5 236.2 1848.5 236.3 1850.5 235.3 1852.5 233.9 1854.5 233.5 1856.5 234.5 1858.5 235.5 1860.5 237.4 1862.5 239.6 1864.6 239.7 1866.6 240.2 1868.6 240.1 1870.6 238.5 1872.6 236.2 1874.6 235.8 1876.6 236.5 1878.6 237.2 1880.6 237 1882.6 237.6 1884.6 238.9 1886.6 239.1 1888.6 239.3L1888.6 248.5 1886.6 247.8 1884.6 248.1 1882.6 247.3 1880.6 247.2 1878.6 246.5 1876.6 246.6 1874.6 245.6 1872.6 247.3 1870.6 248.5 1868.6 249.8 1866.6 250.4 1864.6 250.9 1862.5 250.9 1860.5 248.5 1858.5 247.8 1856.5 245.6 1854.5 244.7 1852.5 246.2 1850.5 247.5 1848.5 248.3 1846.5 247.9 1844.5 247.4 1842.5 247.1 1840.5 247.4 1838.5 246.5 1836.5 246.4 1834.5 245.9 1832.5 246.6 1830.5 246 1828.5 246.2 1826.4 245.7 1824.4 245.4 1822.4 252.4 1820.4 256.3 1818.4 257.2 1816.4 256.8 1814.4 256 1812.4 256.5 1810.4 254.2 1808.4 255.5 1806.4 254.2 1804.4 252.5 1802.4 253.8 1800.4 253.8 1798.4 253.8 1796.4 255.7 1794.4 255.3 1792.4 256.9 1790.4 256.1 1788.3 255.9 1786.3 255.8 1784.3 256.4 1782.3 256.7 1780.3 257.2 1778.3 258.4 1776.3 258.7 1774.3 258.6 1772.3 257.5 1770.3 257.8 1768.3 257 1766.3 257.3 1764.3 258.3 1762.3 256.9 1760.3 257.3 1758.3 256.8 1756.3 257.6 1754.3 254.3 1752.2 253.6 1750.2 254.4 1748.2 255.5 1746.2 254.1 1744.2 255.8 1742.2 257.5 1740.2 254.9 1738.2 253.8 1736.2 256 1734.2 254.6 1732.2 255.1 1730.2 256.9 1728.2 255.9 1726.2 258.9 1724.2 257.4 1722.2 255.9 1720.2 256.4 1718.2 256.7 1716.1 256 1714.1 254.7 1712.1 256 1710.1 255.5 1708.1 256.1 1706.1 255.7 1704.1 252.6 1702.1 252.4 1700.1 250 1698.1 253.2 1696.1 251.5 1694.1 253.2 1692.1 252.5 1690.1 254.4 1688.1 252 1686.1 251.8 1684.1 252.5 1682.1 253.7 1680.1 253.5 1678 255.8 1676 258.2 1674 260.5 1672 258.8 1670 260.7 1668 261.1 1666 260.8 1664 260.1 1662 258.3 1660 258.2 1658 257.6 1656 256 1654 255.8 1652 257 1650 255.9 1648 259.1 1646 258.3 1644 257.7 1641.9 258.5 1639.9 255.1 1637.9 254 1635.9 254.5 1633.9 252.5 1631.9 254 1629.9 256 1627.9 253.8 1625.9 252 1623.9 252.9 1621.9 251.1 1619.9 250.2 1617.9 250.8 1615.9 251.3 1613.9 250.1 1611.9 250.7 1609.9 250.9 1607.9 250.1 1605.9 250.3 1603.8 250.4 1601.8 249.2 1599.8 249.4 1597.8 252 1595.8 252.4 1593.8 252.6 1591.8 253.4 1589.8 253.8 1587.8 255.9 1585.8 256.3 1583.8 256.4 1581.8 255.5 1579.8 256 1577.8 258.4 1575.8 257.4 1573.8 259.6 1571.8 259.1 1569.8 260.9 1567.7 257.9 1565.7 259.5 1563.7 258.6 1561.7 260.1 1559.7 257.3 1557.7 259.3 1555.7 258.6 1553.7 258.4 1551.7 257.7 1549.7 258.7 1547.7 259.4 1545.7 259.1 1543.7 258.9 1541.7 260.3 1539.7 259.3 1537.7 258.4 1535.7 260.4 1533.7 260.9 1531.6 261.5 1529.6 264.4 1527.6 264 1525.6 264.8 1523.6 263.6 1521.6 263.9 1519.6 261 1517.6 259.6 1515.6 261.5 1513.6 258.4Z" class="s" style="fill:#1b75bb"/>
<path d="M1513.6 223 1515.6 222.8 1517.6 222.7 1519.6 222.7 1521.6 223.8 1523.6 225 1525.6 224.8 1527.6 225.2 1529.6 225.7 1531.6 225.7 1533.7 224.9 1535.7 223.7 1537.7 222.4 1539.7 224.2 1541.7 223.7 1543.7 225.8 1545.7 224.8 1547.7 222.8 1549.7 222.2 1551.7 222.7 1553.7 222 1555.7 224 1557.7 223.9 1559.7 222.8 1561.7 222.1 1563.7 223.4 1565.7 221.1 1567.7 222.5 1569.8 222.2 1571.8 222.3 1573.8 221.6 1575.8 222 1577.8 224.6 1579.8 223.6 1581.8 223.4 1583.8 219.6 1585.8 217.5 1587.8 216.8 1589.8 214.8 1591.8 214.9 1593.8 213.4 1595.8 211 1597.8 210 1599.8 208.7 1601.8 205.3 1603.8 205.3 1605.9 202.7 1607.9 200.7 1609.9 206.2 1611.9 209.5 1613.9 212.3 1615.9 213.5 1617.9 215.4 1619.9 212.5 1621.9 215.7 1623.9 216.1 1625.9 213.8 1627.9 208.5 1629.9 208.5 1631.9 206.9 1633.9 204.7 1635.9 205.6 1637.9 212.4 1639.9 216.2 1641.9 216.2 1644 215.2 1646 214.4 1648 214.5 1650 218 1652 216.6 1654 217.2 1656 215 1658 217.2 1660 217.7 1662 219 1664 219.4 1666 217.5 1668 218.5 1670 218.4 1672 216 1674 216.9 1676 217.3 1678 218.6 1680.1 219.1 1682.1 220.5 1684.1 219.4 1686.1 217.2 1688.1 214.1 1690.1 212.8 1692.1 210.1 1694.1 206.5 1696.1 201.4 1698.1 201.4 1700.1 203.1 1702.1 199.8 1704.1 200.2 1706.1 197.7 1708.1 200 1710.1 197.5 1712.1 204 1714.1 202.7 1716.1 201.5 1718.2 203.3 1720.2 202.5 1722.2 202.5 1724.2 200.1 1726.2 196.7 1728.2 196.7 1730.2 199.6 1732.2 200.9 1734.2 199.4 1736.2 206.2 1738.2 210.7 1740.2 216.4 1742.2 216.9 1744.2 218.4 1746.2 219.7 1748.2 218.9 1750.2 219.1 1752.2 219.7 1754.3 220.4 1756.3 218.1 1758.3 214.9 1760.3 214.9 1762.3 213.3 1764.3 214.4 1766.3 211.9 1768.3 214.4 1770.3 213.4 1772.3 219.5 1774.3 222.5 1776.3 223.2 1778.3 221.7 1780.3 223.2 1782.3 223.4 1784.3 223.2 1786.3 223.5 1788.3 224.1 1790.4 225.1 1792.4 224.3 1794.4 226.5 1796.4 227.1 1798.4 226.1 1800.4 224.8 1802.4 224.5 1804.4 224.7 1806.4 225.7 1808.4 224.6 1810.4 224 1812.4 222.8 1814.4 223.5 1816.4 223.6 1818.4 224.7 1820.4 224.3 1822.4 228 1824.4 234.7 1826.4 236.2 1828.5 236.9 1830.5 237.3 1832.5 237.3 1834.5 238.3 1836.5 237.8 1838.5 237.9 1840.5 237.6 1842.5 237.1 1844.5 236.6 1846.5 236.7 1848.5 236.2 1850.5 235.5 1852.5 234.9 1854.5 234 1856.5 236 1858.5 238.9 1860.5 241.3 1862.5 241.4 1864.6 241.3 1866.6 242 1868.6 241.8 1870.6 240.1 1872.6 239 1874.6 237.1 1876.6 237 1878.6 237.8 1880.6 238.9 1882.6 239.1 1884.6 240.2 1886.6 240.5 1888.6 241.7L1888.6 248.2 1886.6 247.1 1884.6 245.8 1882.6 245.5 1880.6 244.7 1878.6 245.3 1876.6 245.6 1874.6 244.6 1872.6 245.3 1870.6 247.6 1868.6 249.4 1866.6 248.3 1864.6 247.9 1862.5 248.1 1860.5 247.9 1858.5 245.9 1856.5 243.7 1854.5 242.2 1852.5 242 1850.5 242.7 1848.5 243 1846.5 243.9 1844.5 244.5 1842.5 244.8 1840.5 244.6 1838.5 244.5 1836.5 244.9 1834.5 246.7 1832.5 244.5 1830.5 244.9 1828.5 244.4 1826.4 243.4 1824.4 241.9 1822.4 247.7 1820.4 252.2 1818.4 253.3 1816.4 252.9 1814.4 253.4 1812.4 254.2 1810.4 252.8 1808.4 254.6 1806.4 254.8 1804.4 253.5 1802.4 255.1 1800.4 255.9 1798.4 256.1 1796.4 256.7 1794.4 258.5 1792.4 259.1 1790.4 257.2 1788.3 259.8 1786.3 258.2 1784.3 255.2 1782.3 259.2 1780.3 258.7 1778.3 260.3 1776.3 258.8 1774.3 256.3 1772.3 257.2 1770.3 253.6 1768.3 253.2 1766.3 254.3 1764.3 254.5 1762.3 251.7 1760.3 253 1758.3 254.2 1756.3 255.2 1754.3 259.3 1752.2 257.5 1750.2 254.9 1748.2 256.2 1746.2 254.9 1744.2 253.9 1742.2 256.7 1740.2 257.7 1738.2 255.8 1736.2 255.2 1734.2 253.4 1732.2 250.5 1730.2 251 1728.2 251.5 1726.2 256 1724.2 254 1722.2 255.8 1720.2 255.6 1718.2 255 1716.1 253.7 1714.1 251.5 1712.1 250.8 1710.1 249.7 1708.1 248.2 1706.1 247.4 1704.1 250.9 1702.1 252.2 1700.1 253 1698.1 254.2 1696.1 254.5 1694.1 253.2 1692.1 253.5 1690.1 254.2 1688.1 251.8 1686.1 251.1 1684.1 250.7 1682.1 254.1 1680.1 254.4 1678 255.2 1676 254.6 1674 254.4 1672 254.6 1670 256.7 1668 260.7 1666 264.1 1664 263.3 1662 263.8 1660 264.9 1658 266.7 1656 265.2 1654 261.5 1652 261.6 1650 261.3 1648 261.4 1646 262.8 1644 258.9 1641.9 259.5 1639.9 255.7 1637.9 252 1635.9 252 1633.9 251.4 1631.9 251.6 1629.9 251 1627.9 251.8 1625.9 251.7 1623.9 251.3 1621.9 250.4 1619.9 252.7 1617.9 250.6 1615.9 251.9 1613.9 252.7 1611.9 252.5 1609.9 252.2 1607.9 249.9 1605.9 248.4 1603.8 249 1601.8 250.4 1599.8 254 1597.8 256.1 1595.8 255 1593.8 252 1591.8 250.3 1589.8 251.1 1587.8 255.3 1585.8 255.4 1583.8 253.6 1581.8 255.4 1579.8 255.2 1577.8 256.4 1575.8 256.9 1573.8 254.6 1571.8 256.8 1569.8 255.7 1567.7 257.8 1565.7 259 1563.7 255.6 1561.7 255.7 1559.7 256.6 1557.7 256 1555.7 254.4 1553.7 253 1551.7 254.6 1549.7 255.8 1547.7 257 1545.7 255.8 1543.7 256.7 1541.7 259.3 1539.7 258 1537.7 258.5 1535.7 256.5 1533.7 258 1531.6 257.7 1529.6 255.2 1527.6 255.8 1525.6 254.3 1523.6 256.1 1521.6 252.4 1519.6 254.8 1517.6 253.1 1515.6 252.7 1513.6 251.8Z" class="k" style="fill:#231f20"/>
<path d="M1513.6 240.5 1515.1 239.4 1516.6 239.5 1518.1 238.9 1519.6 238.5 1521.1 240.8 1522.6 239.8 1524.1 241 1525.6 240.3 1527.1 240.4 1528.6 240.2 1530.1 240.7 1531.6 239.6 1533.1 239.7 1534.6 239 1536.1 238.5 1537.6 238.4 1539.1 237.8 1540.6 238.9 1542.1 240.3 1543.6 239.8 1545.1 238.7 1546.6 238.5 1548.1 238.1 1549.6 237.8 1551.1 237.3 1552.6 238.9 1554.1 238.8 1555.6 239.3 1557.1 238 1558.6 239 1560.1 237 1561.6 238.2 1563.1 238 1564.6 238.6 1566.1 239.4 1567.6 239.6 1569.1 239.9 1570.6 238.9 1572.1 237.5 1573.6 237.7 1575.1 238.4 1576.6 238.1 1578.1 236.5 1579.6 238.2 1581.1 237.2 1582.6 238.3 1584.1 238.3 1585.6 237.3 1587.1 238.3 1588.6 237.2 1590.1 236.5 1591.6 238.3 1593.1 238.2 1594.6 238.1 1596.1 237.7 1597.6 237.6 1599.1 236.3 1600.6 234.7 1602.1 235.3 1603.6 233.9 1605.1 233.9 1606.6 233.1 1608.1 233.9 1609.6 233.5 1611.1 233.3 1612.6 233.4 1614.1 233 1615.6 234.2 1617.1 234.5 1618.6 236 1620.1 235.5 1621.6 235.1 1623.1 235.4 1624.6 235.5 1626.1 235 1627.6 234.9 1629.1 235.5 1630.6 235.5 1632.1 236.2 1633.6 235.2 1635.1 235.8 1636.6 237.6 1638.1 236.4 1639.6 237.9 1641.1 240.1 1642.6 239.4 1644.1 238.6 1645.6 238.8 1647.1 237.4 1648.6 238 1650.1 237.8 1651.6 236.9 1653.1 237.4 1654.6 237.4 1656.1 237.6 1657.6 237.9 1659.1 239 1660.6 239 1662.1 239.1 1663.6 238.6 1665.1 239.3 1666.6 238.4 1668.1 237.4 1669.6 236.2 1671.1 234.2 1672.6 234.1 1674.1 234.5 1675.6 234.4 1677.1 234.2 1678.6 235.2 1680.1 234.4 1681.6 235.8 1683.1 235.1 1684.6 235.3 1686.1 235.7 1687.6 235.9 1689.1 236.3 1690.6 235.8 1692.1 236.6 1693.6 235 1695.1 237.2 1696.6 235.9 1698.1 236.1 1699.6 235.6 1701.1 235.8 1702.6 236.6 1704.1 236.3 1705.6 236.9 1707.1 237.4 1708.6 236.8 1710.1 236 1711.6 236.8 1713.1 238 1714.6 237.6 1716.1 237.7 1717.6 238 1719.1 238.4 1720.6 237.7 1722.1 239 1723.6 237.7 1725.1 237 1726.6 237.7 1728.1 238 1729.6 238.5 1731.1 237.2 1732.6 236 1734.1 237 1735.6 235.4 1737.1 236.2 1738.6 234.3 1740.1 234.7 1741.6 234.7 1743.1 236.2 1744.6 235.9 1746.1 236.4 1747.6 235.2 1749.1 235.6 1750.6 236 1752.1 236.6 1753.6 236 1755.1 236.2 1756.6 235.9 1758.1 234.9 1759.6 236.3 1761.1 237.1 1762.6 237 1764.1 237.6 1765.6 237.5 1767.1 238.2 1768.6 238.2 1770.1 238.6 1771.6 239.4 1773.1 240.2 1774.6 241.4 1776.1 241.4 1777.6 242.6 1779.1 241.9 1780.6 241.6 1782.1 241.9 1783.6 241.3 1785.1 241.5 1786.6 240.7 1788.1 240.9 1789.6 240.9 1791.1 240.3 1792.6 240.2 1794.1 240.5 1795.6 241.3 1797.1 241.8 1798.6 240.2 1800.1 240.3 1801.6 240 1803.1 238.4 1804.6 238.3 1806.1 238.5 1807.6 239.1 1809.1 238.4 1810.6 238.8 1812.1 239.5 1813.6 239 1815.1 238.4 1816.6 238.3 1818.1 238.5 1819.6 238.3 1821.1 239.4 1822.6 239.6 1824.1 239.4 1825.6 238.8 1827.1 238.4 1828.6 240.3 1830.1 240.5 1831.6 240.2 1833.1 240.8 1834.6 240.9 1836.1 241.2 1837.6 240.9 1839.1 241.1 1840.6 241.4 1842.1 240.8 1843.6 241 1845.1 242 1846.6 242.9 1848.1 242.1 1849.6 241.7 1851.1 240.9 1852.6 241.2 1854.1 239.9 1855.6 240.4 1857.1 241.3 1858.6 242 1860.1 243.8 1861.6 245.2 1863.1 246.4 1864.6 245.4 1866.1 244.7 1867.6 244.7 1869.1 244.9 1870.6 243.2 1872.1 241 1873.6 240.6 1875.1 241.2 1876.6 241.8 1878.1 241 1879.6 242.2 1881.1 242.2 1882.6 242 1884.1 242.2 1885.6 244 1887.1 243.4 1888.6 244.6" stroke="#1b75bb" stroke-width="3.0" stroke-linejoin="round"/>
<path d="M1513.6 235.5 1515.1 235.9 1516.6 236.5 1518.1 234.8 1519.6 236.7 1521.1 237.5 1522.6 237.6 1524.1 238.2 1525.6 237.1 1527.1 237.4 1528.6 239.1 1530.1 238.4 1531.6 237.8 1533.1 237.6 1534.6 239.3 1536.1 240.6 1537.6 240.5 1539.1 239 1540.6 238.9 1542.1 238.4 1543.6 238.7 1545.1 239.5 1546.6 239.9 1548.1 238.2 1549.6 237.3 1551.1 236.9 1552.6 236.6 1554.1 237 1555.6 236 1557.1 237.4 1558.6 237.7 1560.1 238.5 1561.6 239.6 1563.1 240.6 1564.6 239.7 1566.1 239 1567.6 238.8 1569.1 239.1 1570.6 237.8 1572.1 236.9 1573.6 237.3 1575.1 237.5 1576.6 237.2 1578.1 236.2 1579.6 236.2 1581.1 235.3 1582.6 234.5 1584.1 233 1585.6 233.3 1587.1 233.3 1588.6 234.2 1590.1 233.1 1591.6 233.8 1593.1 231.9 1594.6 231.8 1596.1 232.5 1597.6 230.3 1599.1 229.9 1600.6 230.9 1602.1 229.2 1603.6 228.7 1605.1 228.3 1606.6 228.4 1608.1 229 1609.6 230.8 1611.1 231.9 1612.6 231.4 1614.1 231.4 1615.6 231.6 1617.1 231.5 1618.6 233.8 1620.1 232 1621.6 233.6 1623.1 232.5 1624.6 233.5 1626.1 234.8 1627.6 231.9 1629.1 231.8 1630.6 232.5 1632.1 230.4 1633.6 230.3 1635.1 231.1 1636.6 233.3 1638.1 233.8 1639.6 236.5 1641.1 236.6 1642.6 235.4 1644.1 236.6 1645.6 236 1647.1 235.7 1648.6 235.7 1650.1 234.6 1651.6 234.7 1653.1 236 1654.6 234.7 1656.1 235.5 1657.6 236.2 1659.1 237.3 1660.6 237.2 1662.1 236 1663.6 235.7 1665.1 235.2 1666.6 235.6 1668.1 235.3 1669.6 235.4 1671.1 234 1672.6 233.9 1674.1 232.9 1675.6 233.9 1677.1 234 1678.6 234.2 1680.1 234.5 1681.6 234.6 1683.1 234.6 1684.6 232.8 1686.1 233.5 1687.6 232.6 1689.1 230.9 1690.6 231.8 1692.1 232.6 1693.6 231.6 1695.1 231.3 1696.6 231.4 1698.1 230.8 1699.6 229.4 1701.1 229.3 1702.6 228.5 1704.1 228.4 1705.6 226.3 1707.1 227.6 1708.6 228.3 1710.1 229.1 1711.6 228.7 1713.1 231.3 1714.6 230.8 1716.1 230.2 1717.6 229.5 1719.1 228.8 1720.6 229.8 1722.1 229.2 1723.6 230.5 1725.1 230.2 1726.6 229.2 1728.1 228.6 1729.6 229.8 1731.1 230.8 1732.6 231 1734.1 231.9 1735.6 232.4 1737.1 232.2 1738.6 231.5 1740.1 233.2 1741.6 232.9 1743.1 233 1744.6 233.7 1746.1 233.1 1747.6 234 1749.1 234.7 1750.6 235.4 1752.1 234.8 1753.6 236 1755.1 234.9 1756.6 234.4 1758.1 232.6 1759.6 231.9 1761.1 231.7 1762.6 231.2 1764.1 231.8 1765.6 233.1 1767.1 234.3 1768.6 233.7 1770.1 234.7 1771.6 235.7 1773.1 237.1 1774.6 236.6 1776.1 236.8 1777.6 236.3 1779.1 235.9 1780.6 237.2 1782.1 236.2 1783.6 236.6 1785.1 237.3 1786.6 236.8 1788.1 238.5 1789.6 239.3 1791.1 239.4 1792.6 238.5 1794.1 241 1795.6 239.7 1797.1 240 1798.6 241 1800.1 240.5 1801.6 239.9 1803.1 237.3 1804.6 238.8 1806.1 238.2 1807.6 238.7 1809.1 237.7 1810.6 237.7 1812.1 236.5 1813.6 236.7 1815.1 237.1 1816.6 236.5 1818.1 236.7 1819.6 236.2 1821.1 236.9 1822.6 238.5 1824.1 238.8 1825.6 240.1 1827.1 239 1828.6 239.6 1830.1 239.8 1831.6 240.3 1833.1 241.5 1834.6 240.4 1836.1 240.7 1837.6 240.4 1839.1 241.3 1840.6 241.3 1842.1 241.4 1843.6 239.9 1845.1 240.5 1846.6 240.4 1848.1 241.4 1849.6 239 1851.1 239.6 1852.6 239.9 1854.1 238.4 1855.6 239.1 1857.1 239.6 1858.6 241.2 1860.1 243.6 1861.6 243.7 1863.1 243.9 1864.6 246 1866.1 246.1 1867.6 244.8 1869.1 245.7 1870.6 244.5 1872.1 243.1 1873.6 241.8 1875.1 241.7 1876.6 242.6 1878.1 243.2 1879.6 241.9 1881.1 242.1 1882.6 242.1 1884.1 242.8 1885.6 243.3 1887.1 244.4 1888.6 245.2" stroke="#231f20" stroke-width="3.0" stroke-linejoin="round"/>
<path d="M1833.9 37.4V287.5" stroke="#231f20" stroke-width="1.6" stroke-dasharray="5.4 4.2"/>
<path d="M1513.6 37.4V287.5H1918.8M1513.6 56.9h-8.3M1513.6 93.9h-8.3M1513.6 130.9h-8.3M1513.6 167.9h-8.3M1513.6 204.9h-8.3M1513.6 241.9h-8.3M1513.6 278.9h-8.3M1513.6 287.5v7M1567 287.5v7M1620.4 287.5v7M1673.8 287.5v7M1727.1 287.5v7M1780.5 287.5v7M1833.9 287.5v7M1887.3 287.5v7" stroke="#231f20" stroke-width="1.7"/>
<text transform="translate(1501.3 64.4) scale(1.02 1)" font-size="21" text-anchor="end">20</text>
<text transform="translate(1501.3 101.4) scale(1.02 1)" font-size="21" text-anchor="end">16</text>
<text transform="translate(1501.3 138.4) scale(1.02 1)" font-size="21" text-anchor="end">12</text>
<text transform="translate(1501.3 175.4) scale(1.02 1)" font-size="21" text-anchor="end">8</text>
<text transform="translate(1501.3 212.4) scale(1.02 1)" font-size="21" text-anchor="end">4</text>
<text transform="translate(1501.3 249.4) scale(1.02 1)" font-size="21" text-anchor="end">0</text>
<text transform="translate(1501.3 286.4) scale(1.02 1)" font-size="21" text-anchor="end">-4</text>
<text transform="translate(1511.6 312.5) scale(1.02 1)" font-size="21" text-anchor="middle">-12</text>
<text transform="translate(1565 312.5) scale(1.02 1)" font-size="21" text-anchor="middle">-10</text>
<text transform="translate(1618.4 312.5) scale(1.02 1)" font-size="21" text-anchor="middle">-8</text>
<text transform="translate(1671.8 312.5) scale(1.02 1)" font-size="21" text-anchor="middle">-6</text>
<text transform="translate(1725.1 312.5) scale(1.02 1)" font-size="21" text-anchor="middle">-4</text>
<text transform="translate(1778.5 312.5) scale(1.02 1)" font-size="21" text-anchor="middle">-2</text>
<text transform="translate(1833.9 312.5) scale(1.02 1)" font-size="21" text-anchor="middle">0</text>
<text transform="translate(1887.3 312.5) scale(1.02 1)" font-size="21" text-anchor="middle">2</text>
<text transform="translate(1474.1 162.4) rotate(-90) scale(1.06 1)" font-size="23" text-anchor="middle">ΔF/F (%)</text>
<text transform="translate(1716.2 335) scale(1.06 1)" font-size="23" text-anchor="middle">End of acceleration (s)</text>
<path d="M1686 56L1721.5 56" stroke="#231f20" stroke-width="3.4"/>
<text transform="translate(1725 65.5) scale(1.06 1)" font-size="20">405 nm</text>
<path d="M1686 78.5L1721.5 78.5" stroke="#1b75bb" stroke-width="3.4"/>
<text transform="translate(1725 86.5) scale(1.06 1)" font-size="20">470 nm</text>
<text transform="translate(1 384.5) scale(1.04 1)" font-size="39" font-weight="bold">b</text>
<text transform="translate(47 384.5) scale(1.04 1)" font-size="23.5" font-weight="bold">Rotarod (end)</text>
<rect x="13" y="394.3" width="14.8" height="12.3" fill="#37ab4b"/>
<text transform="translate(30.3 406.6) scale(0.92 1)" font-size="21">PF</text>
<text transform="translate(52.7 416.8) scale(1.08 1)" font-size="16.2">CPu</text>
<rect x="96.5" y="394.3" width="14.8" height="12.3" fill="#e8202a"/>
<text transform="translate(113.6 406.6) scale(0.92 1)" font-size="21">PF</text>
<text transform="translate(136 416.8) scale(1.08 1)" font-size="16.2">STN</text>
<rect x="180.5" y="394.3" width="14.8" height="12.3" fill="#1b75bb"/>
<text transform="translate(197.6 406.6) scale(0.92 1)" font-size="21">PF</text>
<text transform="translate(220 416.8) scale(1.08 1)" font-size="16.2">NAc</text>
<rect x="71.9" y="640.5" width="32.5" height="13.5" fill="#37ab4b"/>
<rect x="128" y="615.1" width="32.5" height="25.4" fill="#e8202a"/>
<rect x="197" y="640.5" width="32" height="4.5" fill="#1b75bb"/>
<path d="M56.2 423.2V677.4M56.2 640.5H250M56.2 423.9h-7.3M56.2 496.1h-7.3M56.2 568.3h-7.3M56.2 640.5h-7.3" stroke="#231f20" stroke-width="1.7"/>
<text transform="translate(47.9 431.4) scale(1.02 1)" font-size="21" text-anchor="end">9</text>
<text transform="translate(47.9 503.6) scale(1.02 1)" font-size="21" text-anchor="end">6</text>
<text transform="translate(47.9 575.8) scale(1.02 1)" font-size="21" text-anchor="end">3</text>
<text transform="translate(47.9 648) scale(1.02 1)" font-size="21" text-anchor="end">0</text>
<text transform="translate(29.5 555) rotate(-90) scale(1.06 1)" font-size="23" text-anchor="middle">AUC per sec</text>
<path d="M87.9 646.7L87.9 660.2" stroke="#231f20" stroke-width="3.2"/>
<path d="M144.5 599.4L144.5 631.4" stroke="#231f20" stroke-width="3.2"/>
<path d="M213.2 636.8L213.2 652.8" stroke="#231f20" stroke-width="3.2"/>
<circle cx="80.3" cy="636.8" r="3.8" fill="#fff" stroke="#231f20" stroke-width="1.15"/>
<circle cx="77.1" cy="645.4" r="3.8" fill="#fff" stroke="#231f20" stroke-width="1.15"/>
<circle cx="80" cy="660.7" r="3.8" fill="#fff" stroke="#231f20" stroke-width="1.15"/>
<circle cx="94" cy="662.7" r="3.8" fill="#fff" stroke="#231f20" stroke-width="1.15"/>
<circle cx="99.2" cy="662.2" r="3.8" fill="#fff" stroke="#231f20" stroke-width="1.15"/>
<circle cx="145.5" cy="572.3" r="3.8" fill="#fff" stroke="#231f20" stroke-width="1.15"/>
<circle cx="152.6" cy="606.5" r="3.8" fill="#fff" stroke="#231f20" stroke-width="1.15"/>
<circle cx="134.2" cy="613.9" r="3.8" fill="#fff" stroke="#231f20" stroke-width="1.15"/>
<circle cx="152.6" cy="621.8" r="3.8" fill="#fff" stroke="#231f20" stroke-width="1.15"/>
<circle cx="145.5" cy="664.4" r="3.8" fill="#fff" stroke="#231f20" stroke-width="1.15"/>
<circle cx="212.5" cy="622.5" r="3.8" fill="#fff" stroke="#231f20" stroke-width="1.15"/>
<circle cx="204.6" cy="639.3" r="3.8" fill="#fff" stroke="#231f20" stroke-width="1.15"/>
<circle cx="223" cy="647.9" r="3.8" fill="#fff" stroke="#231f20" stroke-width="1.15"/>
<circle cx="220.3" cy="656" r="3.8" fill="#fff" stroke="#231f20" stroke-width="1.15"/>
<circle cx="212.7" cy="660.2" r="3.8" fill="#fff" stroke="#231f20" stroke-width="1.15"/>
<path d="M76.5 538.5V531H139V538.5" stroke="#231f20" stroke-width="3.1"/>
<path d="M152.7 538.5V531H216V538.5" stroke="#231f20" stroke-width="3.1"/>
<text transform="translate(107.2 524)" font-size="17" text-anchor="middle">NS</text>
<text transform="translate(185.5 524)" font-size="17" text-anchor="middle">NS</text>
<text transform="translate(291 384.5) scale(1.04 1)" font-size="39" font-weight="bold">c</text>
<polyline class="c" points="367.5,610.3 619,608.8 422.4,614.2 542.2,614.6 424.4,603.5 396.5,620.7 627,615.5 399.5,613.7 380.5,601.3 611,608.7 681.9,607.9 407.4,612.8 544.2,614.8 610,614.8 613,610.7 667.9,607.6 388.5,628.4 687.9,609.4 703.8,608 478.3,612.4 587.1,613.9 415.4,609.8 650,613.7 634,612.3 539.2,606.8 569.1,611.7 467.3,610.7 669.9,607.2 512.2,616.8 486.3,606 420.4,591 593.1,614.6 537.2,606.7 397.5,613.8 482.3,612.4 714.8,610.4 493.3,613.2 592.1,621 555.1,609.7 635,608.1 688.9,611.3 436.4,604.6 613,611.3 512.2,617.9 620,608.4 582.1,604.9 601.1,611.1 419.4,609.9 651.9,615.9 461.3,616.7 699.9,610.9 413.4,609.8 632,616.1 617,611.4 376.5,601.2 553.1,610.1 644,613.4 670.9,609.6 554.1,604.2 587.1,613.7 418.4,613.1 693.9,607.5 376.5,623.4 504.2,616.5 551.2,610.2 649,608.9 504.2,607.5 374.5,602.3 465.3,610.1 420.8,589.3 427.4,611.4 411.4,609.8 412.4,635.1 404.4,635.5 580.1,618.9 661.9,608.5 541.2,606.3 508.2,607.5 430.8,593.7 629,614.9 695.9,608.9 380.5,600 403.4,610.9 416.4,603.8 607,611.9 652.9,608.5 496.3,617.9 429.4,610.9 485.3,607.7 700.9,611.9 697.9,611.2 685.9,607.4 426.4,637.8 662.9,613.7 518.2,607.9 399.5,611.7 583.1,610.7 555.1,612.2 382.5,607.6 507.2,611.7 443.4,609.4 673.9,616.6 418.4,606.1 468.3,619.5 527.2,613.2 642,612.2 614,617.3 545.2,613.3 691.9,617 670.9,610.7 585.1,609.8 359.5,609.1 603,611.1 634,609.6 611,609.3 700.9,611.9 426.4,632.3 540.2,611.5 652.9,610.4 533.2,608.7 438.4,595.7 480.3,618.9 362.5,624.9 395.5,609 683.9,607.6 656.9,614.5 443.4,610.5 567.1,610.2 475.3,615.9 408.4,609.9 467.3,610.2 468.3,613.8 501.2,612.4 636,612.4 405.4,612.4 653.9,620.7 374.5,621.7 561.1,609.1 370.5,618.3 657.9,618.1 716.8,605.3 438.4,618.2 537.2,613.8 563.1,608.5 450.4,608.1 493.3,609.4 550.2,608.1 470.3,609.4 414.4,636.6 442.4,604.1 427.4,609.8 680.9,609.3 623,610 469.3,613.3 585.1,613.9 440.4,594.2 705.8,614.1 360.5,624.1 441.4,614.4 425.4,611.6 527.2,614.4 681.9,606.2 521.2,614.8 637,612.7 486.3,614.7 682.9,611.5 471.3,607.1 687.9,617.7 536.2,612.7 539.2,607.5 485.3,608.5 685.9,614.9 408.4,616.6 430.4,617.3 502.2,610.1 506.2,616.8 464.3,606 701.8,608.2 438.4,631.5 360.5,625.4 638,614 716.8,611.8 412.4,612.5 624,605.3 707.8,617 616,617.4 512.2,608.2 671.9,620.9 440.4,626.4 474.3,614.8 578.1,608.1 440.4,605.1 610,606.8 568.1,620.5 562.1,612.9 420.4,637.9 537.2,610 365.5,609.8 518.2,618 392.5,613 599.1,615.6 590.1,604.9 503.2,612.9 512.2,618.2 638,608 713.8,617.7 405.4,609.8 459.3,612.2 395.5,608.2 675.9,604.2 702.8,607.6 653.9,616.6 646,613.7 436.4,612.7 471.3,607.3 437.4,609.5 616,617.2 646,604.4 475.3,608.2 496.3,615.1 545.2,610.4 369.5,613.5 529.2,615.2 357.5,611.9 669.9,612.2 501.2,608.9 445.4,613.3 634,616.4 428.4,616.5 547.2,606 472.3,615.3 440.4,594.5 586.1,617.5 408.9,644.4 704.8,610.1 538.2,611.2 375.5,609.3 562.1,606.4 407.4,609.8 388.5,614.4 559.1,608.1 456.3,618 684.9,610.3 356.5,622.8 422.4,604.5 622,605 364.5,601.2 558.1,611.4 499.3,612.8 420.4,626.5 444.4,611 622,622.4 622,618.2 665.9,611.1 615,608.4 601.1,608.7 491.3,612.8 567.1,613.6 566.1,620.3 386.3,627 367.5,613.3 452.3,607.8 458.3,608.4 670.9,613.4 649,613 372.5,618.3 535.2,608.2 563.1,609.4 418.4,626.6 398.5,631.8 550.2,608.3 560.1,604.4 392.5,624.2 692.9,612.4 383.5,614.5 711.8,605.6 491.3,607.4 523.2,610.2 599.1,610 630,607.3 509.2,614.3 492.3,610.1 363.5,609.1 415.1,635.3 534.2,615.2 439.4,629 394.5,609.5 406.4,589.6 552.1,617.8 666.9,610.3 416.4,590.5 433.4,611.9 573.1,611.8 687.9,607.3 426.4,602.7 436.4,610.6 397.5,609.5 702.8,608.7 495.3,610.2 549.2,609.5 714.8,614 540.2,610 435.4,639 635,613.4 536.2,609 425.4,612.3 497.3,613.3 550.2,608.2 714.8,614.1 648,611 542.2,610.7 582.1,607.1 424.4,613.1 359.5,609.2 433.4,606.5 388.5,601.1 435.4,611.1 444.4,606.6 513.2,612.2 522.2,615.8 376.5,616.3 622,618.9 572.1,620.8 590.1,619.7 417.4,611.8 453.3,610.1 514.2,616.5 624,618.5 460.3,607.2 464.3,618.9 469.3,609.8 632,609.7 564.1,620 554.1,618.1 485.3,614.2 472.3,604.3 434.4,596.2 416.4,606.6 539.2,608.5 377.5,608.1 573.1,607.5 564.1,602.1 481.3,614.3 686.9,610.4 441.4,609.6 377.5,612.7 432.4,601.3 651,610.6 559.1,610.2 373.5,608.5 528.2,611.5 577.1,613.6 529.2,615 544.2,610.2 683.9,608.4 367.5,615.2 553.1,613 715.8,614 688.9,610.6 533.2,615.6 630,609.3 497.3,612.6 614,603 691.9,610.1 478.3,613.6 456.3,604.9 695.9,618.8 560.1,619.3 699.9,609.7 630,616.7 679.9,608.6 712.8,610.9 669.9,604 607,607.7 400.5,616 464.3,612.1 375.5,608.3 417.3,588.4 557.1,609.1 592.1,619.2 704.8,613.5 396.5,592.3 443.4,613.2 710.8,613.9 435.4,613.3 391.5,607.1 577.1,612.8 450.4,617.8 520.2,611.6 585.1,613.8 613,613.5 653.9,600.6 381.5,612.9 454.3,610 486.3,611.9 558.1,609.7 587.1,611 515.2,609.4 536.2,609.7 452.3,621.3 530.2,615.8 567.1,608.3 636,610.8 653.9,614.4 509.2,611.8 675.9,620.5 375.5,613.6 678.9,611.2 639,612.6 449.4,610.3 537.2,607.5 382.5,632.5 526.2,601.5 357.5,611.7 514.2,616.5 684.9,609.9 395.5,613.8 693.9,619.4 420.8,640.3 611,612.6 519.2,609 671.9,611.4 698.9,611.8 651.9,611.3 520.2,599.2 408.4,591.2 672.9,610.3 406.4,617.4 399.9,631.5 439.4,607.2 546.2,609.5 716.8,615.9 608,622.1 360.5,612.4 623,616.1 621,607.3 634,608.8 638,614.6 422.5,590.2 401.4,611.3 668.9,613.4 564.1,615.4 367.5,612.1 375.5,610.4 612,617.2 605,608.1 689.9,613.7 360.5,611.9 574.1,602.4 520.2,618.9 659.9,619.9 395.5,609.8 371,618.6 624,613.8 637,611.5 454.3,621 708.8,613.3 458.3,608.9 389.5,608.2 697.9,612.7 400.5,633.2 377.8,621.8 537.2,611.8 609,607.5 557.1,614 596.1,621.8 519.2,611 612,619 631,613.7 682.9,610.9 441.4,613.2 594.1,612.8 452.3,608.2 509.2,608 535.2,615.6 391.5,612.5 624,615.7 420.4,616.6 477.3,608.9 400.5,624 425.4,610.3 475.3,608.3 447.4,609.4 360.5,611.8 592.1,608.7 455.3,611.2 426.4,617.3 396.5,605 455.3,610 650,611 382.5,619.7 462.4,580.8 525.2,608.7 372.5,613.7 638,609.7 459.3,611 446.4,608.3 593.1,612.9 392.5,608.2 460.3,618.4 607,610.7 526.2,620 517.2,613 612,622.8 467.3,613 378.5,626.7 647,615.6 402.4,637.5 364.5,616.5 534.2,618.9 424.2,589 393.5,610.1 561.1,610.4 633,612.5 450.4,605.7 410.4,616.6 619,611.7 591.1,609.1 584.1,603.3 510.2,617.2 641,609.9 457.9,587.2 612,615.2 581.1,613.7 695.9,612.7 654.9,610 607,609.8 368.5,615.1 521.2,609.5 508.2,600.9 630,608.7 563.1,609.7 666.9,613.4 621,613.8 660.9,608.1 688.9,611.3 405.4,613.1 622,608.5 417.4,612.8 713.8,611 602,617.7 370.5,600.5 629,611.8 647,612.6 687.9,614.3 689.9,617.3 410.4,588.2 365.9,618.6 590.1,619.6 390.5,606.9 554.1,612.9 454.3,609.6 508.2,613.1 409.4,612.5 359.5,612.3 484.3,613 463.3,616.5 531.2,608.8 383.5,611.1 565.1,614.7 555.1,609.3 626,615.2 638,611.1 365.5,610 437.4,613 667.9,604.4 435.6,592.8 696.9,612.7 399.5,608.6 570.1,602.1 640,614.3 566.1,613.3 396.5,636.2 644,614.2 646,614.4 385.5,607.9 385.5,614.2 677.9,604.7 375.5,608.6 661.9,609.8 524.2,608 448.4,610.3 486.3,608.4 451.4,610 393.5,613.8 607,610.4 402.4,612.9 448.4,617.9 421.9,636.5 464.3,618 376.5,600.4 374.4,621.1 528.2,608.9 373.5,609.2 587.1,609.4 497.3,612.5 608,607.4 562.1,614 379.5,610.1 390.5,602.3 479.3,605.8 392.5,614.1 576.1,602.9 713.8,617.3 506.2,618 371.5,609.2 532.2,613.6 616,619.3 503.2,613.2 479.3,608.4 478.3,613.3 460.3,611 502.2,614.2 492.3,606.1 499.3,612.1 605,611.4 600.1,616.3 414.4,590.4 488.3,612.9 602,607.8 523.2,608.6 651.9,605.1 666.9,610 694.9,608.6 607,611.6 711.8,605.9 651,612.1 649,615.5 705.8,608.9 659.9,618.8 383.5,613.1 597.1,608.3 418.4,607.3 404.4,614.1 588.1,604.4 673.9,603.9 385.5,611.9 498.3,617.8 648,605.4 465.3,608.5 461.3,609.3 519.2,609.7 583.1,610.3 617,613.4 524.2,608.5 406.4,631.4 551.2,606.7 531.2,611.6 533.2,609.4 580.1,604.1 404.4,601.8 486.3,619.3 425.4,611.9 512.2,599.5 645,608.8 574.1,607.8 638,611.3 379.5,622.6 417.4,610.7 565.1,609.9 522.2,618.1 502.2,616.4 439.4,609.8 606,608 587.1,611.7 624,608.6 605,609.9 664.9,607.6 406.4,613.4 653.9,605.3 704.8,608.9 387.5,613.5 366.5,601 537.2,608.5 525.2,613.6 496.3,613.6 521.2,614 707.8,607.2 586.1,620.2 504.2,617.9 414.4,632.4 449.4,609.4 412.4,625.9 675.9,617.6 427.6,640.9 513.2,610.6 452.3,604.1 475.3,611 665.9,616.5 545.2,606 469.3,616.1 705.8,609 480.3,613.1 398.5,606 386.5,604.7 542.2,609.9 621,616 397.5,609.5 410.4,608.5 426.4,604.8 632,608.3 509.2,608.2 646,606 513.2,608 668.9,610.6 555.1,613.8 683.9,620.5 380.5,638.9 623,612 657.9,606.4 551.2,613 370.5,616.8 660.9,613.9 382.5,624.4 669.9,617.9 577.1,608.2 388.5,624.3 605,610.3 579.1,613.4 534.2,615.9 609,609.8 394.5,612 621,607.6 420.4,616.9 427.4,611.9 382.5,599.9 433.4,611 529.2,611.3 445.2,590.4 665.9,613 678.9,609.8 581.1,610.7 409.4,608.9 546.2,608 500.3,614.6 574.1,601.8 395.5,612.4 407.4,612.6 477.3,614.1 442.4,608.7 557.1,609.9 532.2,611.5 523.2,612.7 419.4,607.6 396.5,629.6 378.5,600.8 416.4,617.4 519.2,608.3 538.2,608.8 627,607.4 458.3,607.7 624,604.2 570.1,619.2 542.2,616.4 701.8,609.2 577.1,610.4 404.4,624.4 516.2,598.9 657.9,609.1 485.3,605.9 680.9,611.9 555.1,613 418.4,612 440.4,613.8 530.2,609 513.2,615.9 599.1,608.2 628,609 470.3,608.7 503.2,611.4 423.4,611.8 408.4,635.6 665.9,618.7 702.8,611.1 601.1,609.2 444.4,608.4 581.1,608 654.9,609.6 614,618.1 578.1,620.9 610,622.4 633,607.8 699.9,610.5 483.3,609.7 487.3,606.3 701.8,610.5 652.9,610.2 663.9,620 444.4,610.8 446.4,621.7 403.4,613.3 443.4,614.7 373.5,609.6 371.5,610.6 394.5,626.8 708.8,609 678.9,613.6 546.2,611.6 550.2,611.5 534.2,613 455.3,617 650,605.1 642,612.2 618,623.1 398.5,614.6 584.1,605.8 666.9,607.6 387.5,614 473.3,606.7 682.9,609.6 591.1,612.6 690.9,611.1 421.4,612.7 618,605.1 688.9,612.9 358.5,615.9 362.5,610.4 580.1,620.8 607,609.4 456.3,587 511.2,608.4 466.3,613.6 514.2,599.1 549.2,608.8 594.1,621.3 409.4,608.5 523.2,612.6 361.5,614.4 630,613.8 565.1,611 436.4,603.8 595.1,608.4 439.4,609.4 434.4,619.1 428.4,607.2 557.1,613 611,615.6 568.1,607.5 388.5,609 628,614.6 716.8,610.3 484.3,611.8 660.9,611.8 388.5,605.5 473.3,613.7 570.1,620.9 496.3,616.4 413.4,609.7 598.1,609.5 365.5,612.5 655.9,610.2 426.4,613.3 448.4,598.3 412.1,588.6 464.3,607.2 709.8,617.1 622,614.5 711.8,608.5 428.4,633.9 497.3,609.1 476.3,613.6 538.2,614.7 378.5,612.7 659.9,615 470.3,619.7 559.1,613.1 618,616.2 424.4,604.7 486.3,618.6 489.3,609.7 714.8,605.6 516.2,617.4 390.5,614.2 627,611.9 703.8,609.8 432.4,595.7 593.1,612.2 716.8,614 694.9,611.9 701.8,616.8 401.4,614 529.2,605.9 619,607.8 483.3,605.7 455.5,578.8 400.5,631.7 563.1,610.5 620,616.1 475.3,609.2 464.3,612.2 356.5,614.5 388.5,622.5 556.1,618.5 461.3,608.2 645,613 644,621.1 644,612.7 428.4,617.6 457.3,617 376.5,623.2 364.2,615.9 483.3,611.4 507.2,608.1 416.4,630.5 489.3,611.2 408.3,634.9 369.5,610.5 379.5,609.8 423.4,608.5 470.3,609.1 583.1,610.2 376.5,611.8 494.3,607.9 643,610.1 650,614 673.9,603.4 578.1,621.9 608,608.4 675.9,617.8 375.5,609.3 557.1,610 528.2,616.4 671.9,611.2 701.8,611.5 584.1,620.4 357.5,609.1 396.5,624 672.9,612.7 421.2,597.4 487.3,611.4 592.1,620.6 402.4,615 532.2,615.6 588.1,621.6 371.5,613.7 372.5,600.3 489.3,607.9 605,609 569.1,610 375.5,615.4 605,611 663.9,605.9 605,611.7 520.2,618.3 701.8,616.6 427.7,585.2 357.5,611 461.3,611 546.2,616.8 485.3,611.7 602,622.1 494.3,605.9 599.1,611.3 526.2,617 656.9,609.9 586.1,617.1 524.2,615 412.4,603.4 525.2,610.6 624,621.7 358.5,612.8 418.4,591.4 444.4,603.3 436.4,617.4 596.1,615.8 508.2,615.1 488.3,606.2 531.2,615.2 389.5,606.4 547.2,611.3 515.2,615.9 549.2,611.1 454.3,607.2 705.8,607.9 442.4,602.6 570.1,602.1 422.4,616.4 668.9,610.6 501.2,612.4 666.9,610.6 473.3,608.7 522.2,619.4 434,592.7 643,612.9 457.3,609.7 493.3,610.6 464.3,606.1 407.2,643.6 516.2,607.8 424.4,640.4 656.9,613.4 529.2,608.8 522.2,611.5 669.9,617.5 389.7,625.3 433.4,612.7 457.3,610.9 437.4,612.2 686.9,610.6 626,608.8 657.9,620.2 501.2,611.7 409.4,612.1 686.9,610.5 645,610.6 687.9,607.2 608,614.3 544.2,615.3 491.3,614.7 653.9,615.3 690.9,609.9 662.9,610 386.5,616.9 658.9,614.2 556.1,606.8 457.3,612.7 706.8,610.5 658.9,608.1 666.9,610.6 661.9,615 609,611.7 568.1,613.5 408.6,588.1 634,609.3 636,610.3 535.2,609.7 398.5,623.9 697.9,607.3 471.3,613.5 371.5,610.5 613,615.3 409.4,612.7 414.4,611.1 606,605.5 660.9,610.3 689.9,609.8 430.4,601.6 381.5,606.3 432.1,640.7 438.1,584.3 373.5,612.6 615,611.1 670.9,608.7 693.9,608.2 446.4,607.2 427.4,610 400.5,587.7 702.8,608.9 581.1,609.4 682.9,609.1 501.2,612.1 463.3,607.6 367.5,608.9 692.9,608.3 462.3,605.3 610,619.9 677.9,609.2 363.5,609.8 396.5,610.7 600.1,618 491.3,608.4 399.5,610.6 554.1,607.2 589.1,613.3 554.1,607 416.4,600.7 612,603.6 616,623.1 360.5,615.3 679.9,605.4 390.5,614.2 593.1,608.5 606,617.6 453.3,612.8 460.3,608.8 476.3,613.9 432.4,594.5 473.3,615.9 362.5,612.9 400.5,600.8 472.3,616.9 404.4,613 506.2,612.6 441.4,610.6 510.2,607.5 402.4,601.2 603,608.6 543.2,608.4 474.3,616.6 587.1,607.6 594.1,606.8 562.1,619.9 703.8,614.1 440.4,620.8 532.2,614.1 604,617.5 442.4,605.9 357.5,613.8 681.9,619.2 695.9,607.6 591.1,608.6 359.5,611.5 440.4,604.2 687.9,607.2 706.8,613.8 470.3,614.7 362.5,610.7 582.1,615 436.4,636.5 696.9,610.6 604,604 487.3,614.1 709.8,615.7 544.2,608.4 429.4,611.4 711.8,617.2 484.3,611.8 714.8,611.5 581.1,611.4 377.5,613.4 393.5,613.7 456.3,610.3 682.9,610.2 633,611.1 434.4,604.8 643,613.2 451.4,609.4 437.4,613.8 397.5,609.7 388.5,632.3 382.5,615.3 390.5,622.4 640,612.5 694.9,612.1 609,611.6 543.2,613.5 380.5,612.2 600.1,607.5 673.9,617.2 510.2,614.5 430.4,604.9 659.9,608 465.3,612.9 636,610.6 645,609.8 450.4,603.4 566.1,608 569.1,610.1 500.3,616.3 643,609.3 527.2,608.8 404.4,615.8 418.5,636.9 383.5,605.9 620,604.9 671.9,617.5 581.1,613.8 645,612.9 385.5,605.8 549.2,613.1 430.4,639.4 612,608.5 484.3,608.5 495.3,612.8 710.8,607 377.5,609.7 639,609 588.1,616.6 553.1,613.6 368.5,625.8 594.1,609.2 466.3,605.5 481.3,611.3 495.3,613.8 715.8,608.5 676.9,611.4 552.1,607.7 516.2,618.1 673.9,620.7 370.5,604.9 401.4,611.1 672.9,608.3 442.4,621.2 387.5,606 664.9,608.1 389.5,613.8 367.6,616.1 511.2,608 542.2,616 470.3,616 408.4,612.4 431.2,584 536.2,616 606,613.9 710.8,610.4 628,612.8 366.5,625.8 704.8,610.5 522.2,599.7 694.9,609.1 423.4,610.1 415.4,607.5 555.1,610 548.2,607.9 406.4,612.9 431.4,612.5 424.4,615.8 412.4,610.8 561.1,613.2 379.5,612.8 357.5,614 524.2,600.5 476.3,617.5 430.4,613.4 517.2,615.7 707.8,614.7 681.9,620.1 588.1,608.1 519.2,615.4 674.9,608 665.9,620.4 512.2,615.5 368.5,600.7 636,615.2 678.9,608.9 357.5,608.9 409.4,609.8 646,621.2 404.4,591.1 651.9,612.1 661.9,619.5 382.5,611.5 631,607.8 613,612.9 626,618.8 484.3,619 408.4,637.4 615,614.4 637,614.6 392.5,621 419.4,612.8 391.4,629 428.4,623.6 549.2,606.3 696.9,611.9 425.4,607.6 688.9,610 550.2,613.5 715.8,616.9 704.8,614.2 480.3,613.3 662.9,607.7 538.2,609 548.2,608.9 366.5,607.9 651,608.4 404.4,632.1 612,603.4 643,612.1 619,615.6 520.2,615.6 468.3,607.7 394.5,604 645,608.8 449.4,616.3 383.5,609.1 418.4,630.3 656.9,609 626,613.2 410.4,612.6 489.3,612.6 680.9,610.2 553.1,609.7 521.2,608.5 547.2,613.5 595.1,609 488.3,610.8 500.3,610.5 610,603.5 427,638.5 590.1,616.2 513.2,608.8 564.1,620.4 403.4,614.1 455.3,612.8 366.5,616.4 382.9,624.1 437.4,634 368.5,606.4 615,610.9 692.9,612.3 415.6,588.2 525.2,613.1 609,609.3 648,614.8 373.5,613.7 663.9,609 618,619.3 681.9,608.1 367.5,613 426,595.9 523.2,614.4 675.9,609.8 499.3,612.7 445.4,614.1 637,608.5 537.2,614.7 479.3,611.2 601.1,612.1 689.9,607.4 392.5,621.8 398.5,611.7 578.1,603.4 677.9,620.1 462.3,611.5 599.1,612.5 651.9,601.4 665.9,608.2 597.1,608.2 538.2,612.1 580.1,602.4 610,617.2 510.2,600.1 480.3,605.4 676.9,611.2 451.4,613.3 567.1,609.9 366.5,614.2 578.1,614 542.2,609 661.9,599.6 401.7,591.3 415.4,609.7 575.1,611.6 703.8,612.5 534.2,609.5 439.4,614.2 645,615.6 500.3,610.5 553.1,612.4 405.4,609.8 480.3,612.9 690.9,609.7 572.1,603.2 610,604 394.5,639.4 568.1,618 703.8,616.2 586.1,606.6 566.1,602.6 592.1,605.5 510.2,615.3 693.9,614.7 562.1,604 643,609.9 618,605 621,609.4 370.5,616.7 447.4,609.5 406.6,632.6 709.8,614.7 466.3,607.9 557.1,608.1 644,605.4 447.4,613.1 424.4,617.1 642,612.8 495.3,609.1 358.5,624.2 360.5,601.6 544.2,616.6 539.2,610.2 370.5,629.4 381.5,610 671.9,606.9 392.5,601.4 412.4,610.6 679.9,616.1 705.8,613.6 527.2,611 446.4,609.6 410.4,610.2 619,613.6 361.5,609.1 403.4,608.7 455.3,609.5 701.8,613.2 443.4,613.1 473.3,609.5 639,608.2 390.5,624.3 436.4,601.3 579.1,613.9 657.9,615.2 646,613.4 429.5,583.5 561.1,610.5 663.9,613.5 594.1,618.9 473.3,610.9 686.9,608.8 372.5,629.6 651,613.1 642,613 469.3,610.5 518.2,618.4 676.9,610.4 427.4,612.1 421.4,610 596.1,612.7 700.9,608.5 424.4,614.9 559.1,609.9 419.1,643.1 378.5,622.1 571.1,613.8 367.5,609.4 371.5,612.7 578.1,619.5 415.4,612 653.9,612.9 621,611.9 458.3,611 443.6,592.6 598.1,612.8 382.5,623.6 482.3,618.2 675.9,604.2 473.3,607.7 408.4,603.4 420.4,606.1 374.5,613.5 430.4,602.9 414.4,603.6 434.7,583 476.3,618.9 395.5,613.7 589.1,612 474.3,610.2 556.1,618 544.2,607.5 545.2,608.5 358.5,610.5 492.3,608 432.7,640.7 427.4,610.5 560.1,606.4 667.9,612.4 547.2,610 453.3,610.9 604,617.1 495.3,611.8 432.4,612.3 668.9,613.2 598.1,622.1 706.8,612.8 544.2,610.2 543.2,611 625,608 416.4,638 358.5,608 618,608.4 363.5,614.7 620,617.9 380.5,626.1 590.1,607.8 402.4,618.6 446.4,595.8 506.2,609.2 610,608.4 616,604.5 635,610.9 494.3,618 490.3,610.4 448.4,608.4 583.1,613.8 558.1,606.5 685.9,607.4 429.4,609.6 452.3,598.8 368.5,614.4 485.3,611.4 527.2,615 393.5,608.7 693.9,607 601.1,615.9 548.2,615.5 627,613.9 671.9,617.8 477.3,608.8 607,616 679.9,619.6 544.2,609.7 647,608.8 370.5,614.2 640,620.9 359.5,614.2 696.9,608.1 545.2,610.5 677.9,617.3 566.1,602.1 660.9,609.8 632,608.8 713.8,614.2 530.2,608.9 446.8,593 716.8,613.6 556.1,610.3 374.5,619.8 445.1,585.3 479.3,609.7 449.4,613.1 578.1,602.1 633,613.4 596.1,609 672.9,611 403.4,590.3 363.5,610.5 707.8,614.8 387.5,608.5 604,621.8 382.5,627.2 422.4,616.8 549.2,610.3 457.2,579.4 449.4,609.7 429.3,638.6 709.8,609.9 590.1,609.2 708.8,609.9 449.4,610 450.3,584.9 494.3,615.3 601.1,610.6 445.4,608.8 449.4,613.4 692.9,609.2 454.7,590.7 374.5,612.9 494.3,613.4 546.2,609.7 482.3,613.8 640,607.3 514.2,618.2 424.4,604.2 691.9,613.2 647,608.5 516.2,616.2 707.8,609.4 569.1,610.6 467.3,610.1 561.1,609.8 487.3,615.4 671.9,603.8 586.1,608.4 446.4,610.6 602,621 491.3,610.4 628,606.1 412.4,608.1 396.5,611.2 658.9,612.3 446.4,618 589.1,608.9 528.2,614.4 708.8,608 691.9,607.5 432.9,584.3 451.4,616.6 371.5,609.1 556.1,603.6 630,619.5 678.9,611.8 520.2,615.8 468.3,614.7 505.2,610.9 362.5,626.6 413.4,609.9 394.5,619.7 519.2,613.5 451.4,610.2 654.9,608.8 492.3,617 366.5,628.4 524.2,615.9 655.9,612.2 638,620.7 544.2,611.3 438.4,612.3 596.1,620.7 433.8,642.2 430.4,606.8 459,577.8 657.9,611.5 410.4,625.5 407.4,608.7 580.1,606.3 655.9,617.4 661.9,613.9 506.2,613.5 412.4,616.4 492.3,615.3 684.9,611.3 434.4,618.9 589.1,614.1 377.5,609.5 628,619.9 435.4,609.5 384.5,626.1 434.4,639.8 509.2,611.8 413.4,612.3 458.3,618.2 398.5,629.4 378.5,600.5 460.3,611.7 627,611.3 460.3,606 597.1,611.4 440.4,611.9 690.9,610.5 709.8,608.5 528.2,615.8 573.1,610.2 541.2,613.6 548.2,617.1 373.5,615.4 679.9,616.8 383.5,610.2 622,603.5 629,608 437.2,595.4 716.8,612 680.9,611.1 563.1,614.6 551.2,609 699.9,612.9 656.9,610 572.1,609.1 428.4,604.9 651.9,613.4 428.4,602.1 446.4,603.6 405.1,587.5 484.3,618.1 611,607.4 547.2,608.6 581.1,610.6 559.1,609 668.9,607.6 534.2,613.2 384.5,618.3 698.9,607.7 650,621.1 695.9,607.2 599.1,610.1 670.9,607.8 386.5,624.2 631,611.5 712.8,610.5 425.9,640.3 463.3,611.6 432.4,618.1 628,619.1 616,608.4 422.4,605.1 564.1,603.4 394.8,629 533.2,615.1 530.2,614 554.1,609.3 402.4,633.6 428.4,592.4 593.1,608.7 568.1,602.4 710.8,609.8 466.3,613 493.3,609 457.3,611.3 509.2,615.3 654.9,614.8 477.3,609.8 499.3,611.5 560.1,612.6 411.4,612.6 550.2,617.4 705.8,616.9 706.8,614.4 441.4,609.4 508.2,617.1 532.2,605.3 606,617.3 608,603.5 487.3,609 684.9,609.8 474.3,604.1 671.9,615.3 411.4,609.3 574.1,620.9 574.1,610.1 604,606.3 539.2,611.6 563.1,613.3 648,613.2 481.3,615.8 629,607.5 490.3,615.2 484.3,614.3 598.1,605.6 573.1,609.6 703.8,608.5 656.9,612.5 576.1,620.1 387.5,612 548.2,611.6 494.3,611.4 372.5,616.6 381.5,607.9 525.2,614.8 655.9,612.5 398.5,600.5 569.1,614.7 594.1,609.2 398.5,610.5 460.3,619.4 665.9,605.1 447.4,615.9 507.2,608.1 618,617.6 618,616 648,621.1 417.4,609.9 668.9,610.6 700.9,610.5 453.3,610.3 670.9,610.8 444.4,603.9 591.1,611.7 396.5,605.8 677.9,616.5 526.2,608.7 453.3,613.1 410.4,590.9 488.3,619.6 519.2,610.7 680.9,611.6 411.4,613.9 524.2,619.8 664.9,613.5 686.9,613.2 531.2,613.6 465.3,611 488.3,608.2 415.4,610.2 705.8,615.6 676.9,610.1 611,611.5 499.3,609.3 593.1,611.5 506.2,607.5 383.5,607.9 486.3,611.3 466.3,619.2 564.1,603.1 630,612.5 712.8,610.5 477.3,615.9 697.9,609.6 653.9,611.2 534.2,606.6 712.8,614.6 710.8,609.6 500.3,604.3 417.4,612.9 577.1,608.7 658.9,608.4 560.1,602.6 448.4,604.9 588.1,607.4 702.8,613.2 439.4,613.1 638,612.6 630,607.4 416.8,634.4 621,613.8 438.4,620.3 663.9,599.9 415.4,613.3 400.5,643.2 410.4,638.2 602,604.5 384.5,624 476.3,616.6 663.9,619.1 362.5,615.8 702.8,610.5 391.5,608.1 658.9,610.2 447.4,613.4 658.9,613.5 472.3,609.7 504.2,611.8 657.9,613.3 608,617.2 627,613.4 626,605.8 456.3,608 581.1,613.2 414.4,617.4 655.9,600 422.4,612.8 709.8,607 363.5,612.5 696.9,608.9 394.5,624.1 471.3,609.2 575.1,612.2 466.3,609.5 489.3,613.9 680.9,608.5 519.2,612 503.2,611.4 414.4,607.6 378.5,616 689.9,620.4 532.2,609.2 651.9,620.9 585.1,612.6 648,613.8 380.5,628.1 480.3,618 589.1,607.8 678.9,608.1 594.1,615.8 365.5,612.9 390.5,608.2 440.4,602 420.4,607.5 556.1,606.2 601.1,611.3 639,613 706.8,609.1 483.3,614.3 457.3,612.5 579.1,611.1 416.4,608.5 393.5,608.1 362.5,612.8 451.4,612.9 597.1,609.5 640,611.6 373.5,610.5 699.9,607.5 708.8,614.4 637,612.5 702.8,613.8 492.3,613.2 675.9,616.8 398.2,592.7 712.8,614.2 470.3,604.6 459.3,608.9 624,607.2 604,608.1 595.1,615 462.7,586.6 359.5,611.5 619,614.1 518.2,618.2 403.4,609.2 517.2,610.1 580.1,613.7 661.9,606.9 434.4,618.1 507.2,610.4 433.4,612.5 356.5,621.8 575.1,610.3 548.2,609.1 615,607.7 641,610.1 659.9,614.2 426.4,607.5 467.3,611.1 604,621.3 382.5,602.1 675.9,609.8 535.2,611.8 462.3,612.4 692.9,610.5 540.2,616.8 467.3,608 617,610.5 616,615.9 385.5,608.8 490.3,611.8 471.3,610.9 577.1,614.1 554.1,617.3 391.5,613.8 379.5,608 608,620.6 381.2,621.3 370.5,625.6 551.2,610.3 502.2,611.1 369.5,612.8 430.4,594.4 688.9,608.6 585.1,610.6 469.3,607.1 582.1,613.8 491.3,613.6 457.3,609.8 459.3,616.9 600.1,605 503.2,613 471.3,609.8 402.4,609.7 663.9,614.2 664.9,610.6 646,613.2 356.5,607.2 565.1,610.6 368.5,613.7 652.9,615.1 712.8,614.2 673.9,617.8 579.1,611.6 499.3,611.1 634,610.1 422.4,636.6 475.3,609.9 447.4,610.4 713.8,604.9 515.2,611.4 364.5,613.7 596.1,618.6 684.9,611.6 586.1,608.3 665.9,600.4 632,612.9 383.5,612.3 600.1,620.8 687.9,615.2 423.4,611.8 516.2,611.9 676.9,607.9 660.9,609.8 407.4,611.7 664.9,613.5 389.5,608.1 517.2,608.2 508.2,613.5 396.5,614.3 575.1,611.7 436.4,618.2 439.4,612.6 498.3,613.8 531.2,605.6 418.4,638.6 713.8,608.5 623,613.9 422.4,593.6 484.3,605.8 536.2,611.9 626,620.9 625,613.4 418.4,607.1 421.4,612.1 437.4,606.8 580.1,622.1 387.5,610.5 526.2,614.7 456.3,607.8 647,609.7 417.4,609.4 381.5,614.7 671.9,602.6 476.3,610.8 692.9,611.6 669.9,611.8 711.8,614.4 617,608.1 426.4,615.7 586.1,621.8 674.9,610.5 402.4,624.1 522.2,617.5 502.2,617.8 669.9,620.9 569.1,607.8 376.5,613.2 654.9,608.5 550.2,608.4 681.9,608 657.9,614.4 578.1,612.5 416.4,612.7 454.3,617.9 491.3,609.5 654.9,612.6 469.3,607.6 459.3,612.6 369.5,611.4 533.2,613.7 635,607.9 560.1,604.7 415.4,611.9 439.4,610.8 541.2,611.4 579.1,610.5 388.5,623.7 462.3,609.1 396.5,589.7 707.8,608 463.3,611.2 540.2,610.9 679.9,608.5 456.3,603.8 535.2,614.9 708.8,610.5 576.1,614 706.8,608.4 579.1,608.7 518.2,611.7 401.4,608.9 641,609.5 580.1,613.9 561.1,608.2 639,610.7 697.9,614.4 412.4,617.2 689.9,609.8 462.3,606.6 434.4,641.6 644,613.4 420.4,612.5 431.4,611.6 468.3,609.5 584.1,622 705.8,608.2 578.1,605.4 549.2,613.5 531.2,610.1 480.3,608.9 457.3,609.7 435.4,610.6 571.1,607.6 558.1,605.2 629,609.4 615,614.9 376.5,621 524.2,617.6 642,613.3 386.5,622.5 606,621.3 694.9,612 655.9,605.7 480.3,618.2 484.3,618.7 558.1,612.7 510.2,608.5 685.9,607 615,607.8 488.3,617.6 648,614.5 568.1,607.8 482.3,618.8 459.3,609.6 430.4,617.8 440.4,609.2 588.1,613.2 479.3,607.8 445.4,613.1 579.1,608.3 436.4,619.6 547.2,613.2 391.5,610.3 614,605.6 511.2,614.1 526.2,616.8 622,606.5 561.1,614.4 482.3,618.5 392.5,640.5 559.1,609.2 425.3,641 481.3,610.3 715.8,603.9 703.8,616.7 374.5,624.4 368.5,629 389.5,612.3 575.1,609.2 679.9,607.4 546.2,607 502.2,607.5 419.4,611.7 461.3,612.7 707.8,614 356.5,611.4 609,609.8 655.9,614.5 627,608.6 625,608.5 612,618.9 542.2,610.9 365.5,609 694.9,610.6 473.3,610 452,582.1 464.3,609.4 468.3,608.5 527.2,606.5 407.4,614.2 406.4,602.6 432.4,604.9 676.9,608.6 447.4,613.7 397.5,613.8 639,610.4 606,608.2 690.9,612.6 512.2,615.5 434.4,611.4 606,621.7 685.9,608.9 411.4,608 689.9,615 406.9,589 527.2,608.6 684.9,610.7 597.1,611.3 603,611.5 662.9,613.5 386.5,600.4 641,613 449.4,613 474.3,610.7 407.4,609.8 647,611.3 468.3,616.6 623,607.6 377.5,610.1 652.9,609.7 672.9,610.5 556.1,610.2 608,604.7 568.1,602.3 584.1,608.4 660.9,607.9 454.3,607.9 505.2,611.8 452.3,603.4 587.1,610.1 361.5,613.5 683.9,607.7 503.2,608.5 464.3,613.1 651,608.8 635,614.2 423.6,640 625,610.7 507.2,611.1 515.2,612.6 574.1,603.9 499.3,612.3 401.5,628.6 458.3,610.5 448.4,603.4 590.1,621.3 651,611.2 616,602.7 591.1,608.1 392.5,607.3 571.1,610 708.8,609.4 416.4,606.9 523.2,608.5 602,609 651,615.3 371.5,615.4 646,614.1 420.4,604.2 497.3,612.3 424.4,596.4 474.3,609.1 411.4,610 714.8,610 674.9,610.3 695.9,616.6 438.4,604.9 416.4,626.5 713.8,613.8 361.5,612.6 478.3,609.1 432.4,620.8 439.9,582.9 536.2,614.9 659.9,610.6 418,597.1 604,608.6 404.4,618 596.1,609.4 498.3,605 361.5,610.8 465.3,610.6 419,587.9 468.3,605 412.4,605.2 465.3,616.4 421.4,611.7 456.3,620.5 384.5,603.1 552.1,616.6 591.1,611.3 508.2,618 429.4,606.8 526.2,608.3 709.8,615.4 584.1,607.8 662.9,608 414.4,609.7 582.1,622.1 364.5,625.5 372.5,603.5 444.4,595.5 594.1,606.1 662.9,610.4 441.4,607.7 634,615.5 387.5,608 490.3,606.2 641,612.4 408.4,608.6 628,608.3 577.1,611.7 570.1,602.7 421.4,608.6 712.8,609.8 710.8,614.4 711.8,616.7 648,603.3 663.9,615.8 649,610.9 623,609 433.4,611.5 481.3,608.1 573.1,613.8 488.3,611.9 384.5,622.4 528.2,602.7 435.5,640.8 677.9,607.1 452.3,606.5 575.1,613.7 436.4,596.5 529.2,611.2 368.5,619.7 388.5,603.4 419.4,611.1 565.1,609.7 598.1,620.7 492.3,619.7 691.9,614.8 452.3,609.1 698.9,612.4 556.1,606.1 595.1,612.9 442.4,618.1 501.2,611.8 404.4,608.2 394.5,600.9 673.9,610.5 547.2,610.4 411.7,633.1 386.5,639.6 533.2,609.1 716.8,610.1 392.5,602.9 543.2,613.5 530.2,611.5 460.3,604.6 685.9,618.2 593.1,611.4 380.5,609.1 431.4,611.6 414.4,616.3 690.9,612 448.4,603.7 524.2,617.2 693.9,610.9 589.1,609.6 505.2,612.7 417.4,607.4 564.1,606.6 662.9,611.3 514.2,607.7 391.5,608.4 639,613.1 540.2,616.2 403.4,612 644,613.7 500.3,607.6 609,612.2 380.5,615.7 644,611.5 497.3,610.6 435.4,612.8 554.1,606.9 624,618.5 427.6,596.6 538.2,610.8 461.3,611.9 661.9,614.7 536.2,607.9 446.4,604.1 625,615.9 693.9,616.8 378.5,621.2 589.1,612.2 374.5,600.3 621,609.4 418.4,617.2 657.9,599.6 592.1,609.3 378.5,622.3 451.4,612.3 699.9,607.9 635,612.4 576.1,607.9 424.4,595.1 509.2,610 361.5,609.5 392.5,626.7 704.8,609.1 570.1,620.7 514.2,615.6 545.2,610.5 454.3,608.2 490.3,617.3 565.1,613.5 429.4,611.9 433.4,609.5 384.5,600 597.1,615.3 585.1,611 478.3,617.3 647,611.2 714.8,611.2 393.5,612.5 540.2,614.6 567.1,611.4 454.3,604.4 633,613.5 491.3,610.9 614,608.4 400.5,610 555.1,608.3 504.2,613.9 442.4,604 403.4,609.8 406.4,616.2 403.2,632.3 711.8,616 520.2,608.1 404.4,603.7 642,621 377.5,607.7 455.3,610.6 454.3,597.9 574.1,614 381.5,610.6 672.9,608 685.9,620.7 442,591.9 405.4,614.2 633,613.9 390.5,634 511.2,611.2 666.9,608.5 403.8,641.7 560.1,609.2 532.2,619.4 573.1,611.5 631,610.2 524.2,611.5 402.1,642.9 474.3,620.1 603,609.2 466.3,606.8 599.1,611.2 518.2,615.8 396.5,600.6 356.5,613.5 394.5,614.2 668.9,609.3 375.5,612.6 699.9,616.6 372.5,624.6 566.1,607 634,620.1 643,608.6 622,616 590.1,613 470.3,615.9 548.2,606.3 633,607.8 714.8,615.3 476.3,605.1 715.8,613.8 592.1,615.9 399.5,613.9 525.2,608.5 662.9,610.1 448.4,589.2 396.5,628.1 510.2,617.5 359.5,613.6 546.2,615.1 467.3,616.2 384.5,606.1 374.5,619.8 376.1,620.1 577.1,611.5 627,608.2 359.5,611.4 453.3,616.9 559.1,611.2 531.2,609.1 701.8,607.7 587.1,612.3 434.4,613 458.3,620 379.5,606.9 602,607.2 551.2,613.5 559.1,614.2 399.5,609.9 517.2,611.6 571.1,614.6 458.3,605.4 453.3,611.5 493.3,614.3 592.1,607.3 481.3,609.7 598.1,618.3 571.1,611 400.5,614.9 423.4,608.1 580.1,608.2 595.1,611.5 496.3,611.2 398.5,617.1 428.4,614.2 530.2,619.8 435.4,606.6 507.2,612.3 675.9,606.8 623,613.5 558.1,618.7 500.3,617.8 626,605.1 514.2,618.2 552.1,611.2 642,614.2 571.1,611.8 402.4,607.7 384.5,632 361.5,612 454.3,603.5 455.3,612.7 667.9,617.1 568.1,602.3 674.9,613.5 538.2,616.1 418.4,604 500.3,619 494.3,616.7 584.1,617.7 677.9,605 438.4,615.6 402.4,615.3 490.3,619.7 572.1,613.9 678.9,611.9 707.8,615.1 542.2,608.1 481.3,605.7 380.5,621 537.2,615.4 680.9,609.6 616,605.2 593.1,608.4 600.1,609.3 683.9,615.6 455.3,610.6 659.9,614.1 443.4,609.4 618,602.8 396.5,618.4 436.1,641.1 358.5,601.6 673.9,606.8 506.2,617.9 521.2,608.7 506.2,601.8 418.4,616.4 401.4,608.9 553.1,608.6 697.9,607.7 489.3,606.8 463.3,612.7 551.2,612.3 496.3,605.5 410.4,611.7 543.2,610.4 436.4,582 572.1,620.2 476.3,611.6 679.9,605.7 464.2,581.5 629,613.8 421.4,608 697.9,616.6 613,608.2 400.5,612.4 372.5,625.1 510.2,618.1 444.4,621.5 652.9,608.7 677.9,618.8 686.9,610.1 498.3,610.2 692.9,611.5 545.2,613.6 642,606.4 572.1,602.2 453.3,609.5 713.8,616.5 525.2,612.9 698.9,608.4 431.4,611.1 460.7,579.6 461.1,588.9 599.1,608.4 699.9,617.5 646,611.1 674.9,610.9 650,615.3 532.2,609.1 597.1,610.7 614,623 511.2,611.9 472.3,615.7 435.4,611.8 493.3,612.9 364.5,609.4 514.2,612.1 414.4,612.5 568.1,620.9 683.9,618.7 557.1,611.8 452.3,610 640,613 423.4,612.6 649,611.7 482.3,608.7 432.4,618 395.5,608.8 512.2,607.6 424.4,636.9 361.5,611 540.2,610 574.1,620.5 443.4,614.4 450.4,610.1 619,610 408.4,603.4 573.1,614.5 508.2,617.6 543.2,613.9 651.9,615.1 369.3,617.8 493.3,608.2 603,610.8 499.3,608.9 636,608.5 521.2,609.9 562.1,608.7 686.9,611.2 635,611.8 631,613.7 438.8,592.7 560.1,619.4 681.9,606.2 598.1,608.5 644,606.7 652.9,612.4 619,607.3 705.8,614.2 427.4,607.1 378.5,628.8 390.5,601.9 600.1,622.2 368.5,616.6 515.2,612.9 513.2,611.2 539.2,613.7 446.4,603.7 630,618.8 391.5,610.7 490.3,608.1 477.3,606 666.9,613.4 575.1,607.7 691.9,607.8 414.4,626.3 397.5,610 685.9,615.4 698.9,608.8 406.4,608.5 438.4,601.6 393.5,610.4 555.1,607.8 572.1,601.9 704.8,607.9 585.1,607.6 413.8,587.2 645,611.7 441.6,583.5 643,615.4 566.1,616.7 715.8,611.5 504.2,609.7 496.3,619.5 678.9,610.3 540.2,608.5 664.9,610.6 595.1,611.5 637,608 485.3,609.7 438.4,604.5 567.1,614.8 707.8,608.3 683.9,607.1 429.4,612.3 513.2,613.6 422.4,626.2 448.4,621.7 420.4,605.2 650,612.8 424.4,625.6 504.2,602.6 711.8,610.5 399.5,609.9 364.5,616.1 442.4,612.2 384.5,614.9 687.9,609 699.9,614.3 426.4,594.4 700.9,612.9 444.4,603.8 649,608.4 415.7,641.9 479.3,615.9 562.1,603.7 556.1,612.7 509.2,611 390.5,627.7 366.5,617 706.8,609.1 365.5,613.1 428.7,638.8 694.9,608.3 648,613.6 558.1,605.4 606,603.7 647,613 498.3,619.3 408.4,617 528.2,608.5 576.1,611.2 482.3,611.7 376.5,620.5 397.5,608.3 419.4,611.2 387.5,611.4 421.4,610.7 474.3,617.8 432.4,613.2 384.6,622.8 395.5,610.2 570.1,613.7 641,613.2 459.3,611.4 426.4,615 515.2,608.1 488.3,615 698.9,613 369.5,609.2 526.2,611.5 583.1,612.9 489.3,615.1 679.9,619.7 603,616.1 365.5,614.9 445.4,609.4 410.4,604.3 650,602.3 472.3,609.7 388,625.5 636,620.4 513.2,609.5 628,606.5 432.4,603 478.3,617.9 477.3,611.1 658.9,609.5 500.3,614.1 463.3,610 637,613.2 445.4,615.3 674.9,612.4 360.5,616 651,609.7 538.2,617.6 701.8,614.2 462.3,618.6 507.2,614.2 535.2,608.6 612,606.2 475.3,606.3 668.9,609 485.3,615.6 601.1,608.4 431.4,611.7 572.1,620.8 576.1,604.6 661.9,619.5 652.9,613.2 596.1,606.6 437.4,610.9 497.3,610.1 393.5,607.9 374.5,629.5 409.4,610 410.6,644.2 489.3,609.6 548.2,614 505.2,613.8 466.3,617.3 419.4,612.5 374.5,616.5 385.5,611.5 700.9,608.8 386.5,625 640,612.9 408.4,625.1 585.1,610.9 417.4,640.9 626,617.9 475.3,613.9 610,618.5 507.2,614.7 434.4,605.9 459.3,609.8 617,607.4 468.3,614 368.5,617.6 416.4,611.5 474.3,614.2 534.2,611.5 482.3,605.6 362.5,616.1 672.9,610.6 380.5,621.7 422.4,604.3 584.1,613.6 362.5,615 588.1,608.9 640,608.6 405.4,609.5 363.5,610.3 696.9,612.2 637,610.6 441.4,623.9 434.4,603.3 435.4,612.3 681.9,616.2 565.1,608.9 575.1,614.3 413.4,612.1 632,619.8 466.3,613.4 514.2,608 563.1,610.6 526.2,615.8 523.2,614 540.2,609.8 658.9,609.8 373.5,609.1 405.4,608.7 609,615.9 472.3,614.3 541.2,614.3 481.3,607.8 530.2,615.2 441.4,612.9 611,610.3 386.5,626.4 636,615 465.3,611.3 400.5,619.3 708.8,614 478.3,605.2 528.2,616.2 452.3,617.9 563.1,609.8 617,615.1 715.8,618.5 467.3,607 600.1,607.9 399.5,609.2 693.9,610.2 614,619.2 631,614.2 422.8,596.8 483.3,611.1 511.2,609.7 631,607.6 591.1,612.8 613,607.5 676.9,612.1 506.2,614.9 695.9,610.2 632,608.4 511.2,611.1 415.4,612.8 713.8,604.9 424.2,639.9 372.5,613.7 426,586.9 459.5,586.5 603,611.5 486.3,617.9 426.4,603.5 656.9,609.1 641,608.4 436.4,605.4 570.1,608.2 400.5,606.9 547.2,611.9 539.2,614.4 410.4,636.1 462.3,610.9 463.3,610.9 562.1,602.2 445.4,610.4 405.5,644.5 461.3,611.3 709.8,613.9 696.9,608.3 614,604 483.3,607.8 710.8,614.1 629,611.7 533.2,605.7 617,608.3 523.2,608.4 443.4,608.2 389.5,613.6 479.3,609.6 440.4,604.4 398.2,628.7 486.3,612.9 471.3,610.3 431.4,609.5 539.2,614.9 391.5,613.7 394.5,621.3 546.2,614.6 409.4,614.1 561.1,609.9 356.5,609.2 715.8,617.3 426.4,624.7 494.3,619.7 566.1,620.7 642,607.6 439.4,613.4 394.5,606.5 388.5,615.5 533.2,611.8 706.8,609.5 364.5,627.6 546.2,609.4 498.3,607.7 515.2,609.5 536.2,618.3 397.5,612.1 522.2,607.8 527.2,612.2 631,612.2 693.9,612.9 413.4,607.7 369.5,608.8 408.4,612.9 478.3,611.2 428.4,613.4 521.2,611.8 370.5,613.8 598.1,616 522.2,608.3 589.1,611.2 629,613.5 569.1,610.3 691.9,607 460.3,609.8 414,644.3 518.2,615.9 650,614.9 676.9,613.6 488.3,618.4 608,618.1 564.1,608.3 597.1,612.8 364.5,613.2 413.4,613.6 483.3,615.8 479.3,614.2 603,608.7 442.4,594.7 521.2,612.3 431.4,606.6 476.3,609.3 444.4,618 438.4,604.4 384.5,610.7 672.9,613.5 502.2,618.7 596.1,606.2 543.2,606.1 535.2,613.8 598.1,607.1 620,605.8 487.3,609.7 550.2,616 551.2,609.1 620,619.2 450.4,603.8 364.5,611.9 480.3,611.4 497.3,609.7 550.2,605.6 552.1,607.7 465.3,607.2 565.1,608.9 422.4,636.6 664.9,610.4 389.5,611.1 402.4,604.1 665.9,613.6 512.2,612.4 416.4,616.3 461.3,609.9 429.2,594.6 655.9,615.3 443.3,584.9 602,616.7 583.1,607.8 381.5,612.7 417.4,611.5 400.5,604.5 482.3,613.1 664.9,610.1 450.4,608.1 492.3,618.1 493.3,611.1 611,612.5 385.5,613.3 698.9,610.6 453.1,591.6 445.4,609.4 419.6,599.6 518.2,598.9 379.5,615 552.1,604.9 414.4,605.9 549.2,611.9 674.9,608.3 441.4,614.1 450.4,596.4 571.1,610.8 613,608.8 685.9,608.1 429.4,611.7 494.3,610 423.4,610.3 438.4,609.8 487.3,607.7 518.2,607.7 703.8,613.7 363.5,612.7 367.5,609.6 431.4,611.4 425.4,610 420.4,613.6 592.1,612.9 552.1,613.2 402.4,590.6 620,603 667.9,612.9 442.4,611.4 602,613.2 569.1,613.7 424.4,607.7 386.5,609.9 379.5,613.1 615,613.1 410.4,617 366.5,613.5 590.1,608.1 428.4,603.1 530.2,616 528.2,620 406.4,624.7 649,609.6 558.1,603 401.4,609.8 579.1,613.3 423.4,611.8 582.1,618.3 535.2,606.1 660.9,613.6 651.9,614.3 447.4,609.4 386.5,614.6 636,610.7 669.9,614 688.9,610.7 490.3,618.2 554.1,610.8 576.1,601.9 362.5,601.4 691.9,610.4 406.4,609.7 421.4,611.5 595.1,611.4 525.2,607.3 501.2,612.9 641,615.2 453.8,580.7 382.5,622.2 684.9,609 412.4,592.7 406.4,603.5 429.4,610.8 451.5,591.8 496.3,607.8 398.5,605.1 638,611.7 369.5,609.3 469.3,611 517.2,609.5 635,612.6 682.9,613.5 628,617.3 420.2,635.9 463.3,608.9 562.1,619.6 694.9,612.7 405.4,611.3 371.5,608.6 503.2,608.5 625,607.4 403.4,610.5 490.3,613 451.4,610.5 588.1,618.7 583.1,613.7 450,592.2 634,611.9 471.3,616 393.1,626.6 670.9,613 684.9,613.4 574.1,621 711.8,613.9 567.1,610.5 504.2,614.6 653.9,611.8 541.2,610.3 687.9,620.6 696.9,612.5 498.3,614.9 695.9,611.1 582.1,602.8 487.3,612.2 358.5,614.9 483.3,608.1 357.5,611.9 712.8,606.2 553.1,609.3 655.9,620.5 413.4,612.6 620,615.3 419.4,609 450.4,608.7 623,607.5 372.7,621 625,613.9 683.9,606.7 437.2,642.4 690.9,608.4 477.3,608 689.9,607.5 462.3,606.6 389.5,610.5 649,611.9 370.5,619.6 543.2,609.5 557.1,608.5 542.2,610.6 399.9,592.3 697.9,618.2 558.1,618.9 505.2,613.9 572.1,607.7 508.2,608.9 582.1,620.7 614,615.6 531.2,615.4 576.1,621.5 700.9,607.6 458.3,604.1 492.3,611.6 505.2,611.2 680.9,613.6 588.1,619.9 639,614.9 691.9,620 534.2,609.1 576.1,621 377.5,615.2 390.5,622.2 522.2,615.3 532.2,615.9 536.2,611.4 529.2,608.8 600.1,613 515.2,610 583.1,611.1 495.3,612.8 697.9,610 667.9,620.7 516.2,607.8 363.5,613.3 564.1,613.1 501.2,608.7 517.2,609.4 570.1,607.7 425.4,611.9 632,617.6 594.1,620.8 381.5,609.5 434.4,601.2 448.6,585.6 626,607.8 505.2,608.2 667.9,612.5 365.5,610.1 401.4,613.5 469.3,610 538.2,609.9 404.4,609.6 704.8,612.3 632,612.3 682.9,609.3 520.2,617.8 356.5,616.1 571.1,610.1 504.2,618.3 659.9,599.5 516.2,615.7 422.4,607.6 425.4,609.2 406.4,630.8 659.9,607.3 715.8,604.4 511.2,615.7 604,613.5 667.9,618.3 530.2,604 398.5,589.1 472.3,619.9 510.2,612.7 498.3,616.3 709.8,606.4 548.2,608.9 496.3,610 656.9,608.3 398.5,620 404.9,633.4 617,614.5 541.2,614.1 427.4,612.1 505.2,608.3 462.3,618.7 682.9,611.9 582.1,608.3 674.9,611.1 516.2,618.4 498.3,610.8 529.2,613.5 386.5,604.2 411.4,612.4 495.3,609.3 654.9,613.3 410.4,603.4 584.1,616.3 698.9,612.5 595.1,608.2 380.5,623 450.4,621.6 385.5,610.4 472.3,609.3 411.4,612.3 413.4,636.6 378.5,610.5 520.2,607.7 591.1,614.3 605,616.1 376.5,629.3 566.1,602.8 407.4,609.2 695.9,614.5 689.9,607 432.4,606.4 372.5,619 640,612.1 552.1,608.6 573.1,611.4 412.4,634.9 420.4,638.3 470.3,614.2 422.5,642 502.2,603.5 692.9,609.4 667.9,601 456.3,608.3 586.1,613.4 677.9,609.1 369.5,615.3 669.9,601.8 517.2,611.9 625,612 673.9,610.6 670.9,610.6 366.5,613.5 688.9,610.3 431,639.3 541.2,608.4 560.1,612.8 448.4,607.7 710.8,610.5 356.5,601.5 478.3,619 401.4,610.4 495.3,609.7 446.8,586.2 545.2,612.7 437.4,612.8 456.3,610.2 683.9,615.6 430.4,622.3 440.4,618.2 502.2,614.4 654.9,609.9 700.9,613.4 702.8,612 633,611.2 541.2,608.5 412.3,641.6 552.1,607.7 503.2,612.1 437.4,610.2 448.4,608.7 620,622.8 430.4,613.3 681.9,615.9 358.5,623 410,635.4 703.8,608.6 433.4,611.3 567.1,609.5 384.5,626 586.1,603.8 358.5,611.9 553.1,607.2 663.9,609.7 686.9,611.3 360.5,609.1 690.9,611.4 379.5,609.7"/>
<path d="M356.5 612.9L715.8 610.7" stroke="#3fb24f" stroke-width="3.6"/>
<path d="M355.6 421.6V674.7H737.4M355.6 422.3h-7.3M355.6 485.4h-7.3M355.6 548.5h-7.3M355.6 611.6h-7.3M355.6 674.7h-7.3M376.5 674.7v7M476.3 674.7v7M576.1 674.7v7M675.9 674.7v7" stroke="#231f20" stroke-width="1.7"/>
<text transform="translate(347.3 429.8) scale(1.02 1)" font-size="21" text-anchor="end">60</text>
<text transform="translate(347.3 492.9) scale(1.02 1)" font-size="21" text-anchor="end">40</text>
<text transform="translate(347.3 556) scale(1.02 1)" font-size="21" text-anchor="end">20</text>
<text transform="translate(347.3 619.1) scale(1.02 1)" font-size="21" text-anchor="end">0</text>
<text transform="translate(347.3 682.2) scale(1.02 1)" font-size="21" text-anchor="end">-20</text>
<text transform="translate(376.5 700.5) scale(1.02 1)" font-size="21" text-anchor="middle">5</text>
<text transform="translate(476.3 700.5) scale(1.02 1)" font-size="21" text-anchor="middle">10</text>
<text transform="translate(576.1 700.5) scale(1.02 1)" font-size="21" text-anchor="middle">15</text>
<text transform="translate(675.9 700.5) scale(1.02 1)" font-size="21" text-anchor="middle">20</text>
<text transform="translate(312 551) rotate(-90) scale(1.06 1)" font-size="23" text-anchor="middle">ΔF/F (%)</text>
<text transform="translate(546.5 721.2) scale(1.06 1)" font-size="23" text-anchor="middle">Speed (rpm)</text>
<text transform="translate(598.3 446.5) scale(1.06 1)" font-size="19.5">r = 0.21</text>
<text transform="translate(598.3 471.6) scale(1.06 1)" font-size="19.5">P = 0.007</text>
<polyline class="c" points="1025.5,602.1 1153.1,616.3 901.8,623.1 835.2,551.2 917.8,615.1 875.9,611.4 927.7,601.3 925.8,632.2 1091.3,609.6 1051.4,607.5 844.5,547.7 1039.5,602.8 911.8,598.1 855.9,615.1 1159.7,606 1013.5,620.1 910.9,594.9 1139.2,612.5 824,620.4 945.7,617 836,607.8 969.6,605.9 1023.2,584.8 852,608.5 824,586.7 907.8,600.9 1016.3,584.1 1069.4,619.6 861.9,621.1 834,590 995.6,608.2 840,626.9 897.6,591.1 855.9,620.5 971.6,612.4 818,617.9 1169.1,611 947.7,618 823.6,539 909.8,601.3 883.9,614.6 826,584.8 991.6,614.1 1075.4,609.3 953.7,614 836,587.5 991.6,601.7 1121.2,611.1 939.7,604.2 891.8,590.3 1031.5,613.4 943.7,603.4 1073.4,620.8 844,586.3 1023.5,600.2 973.6,641.6 957.7,597.3 977.6,609.4 879.9,588.4 907.8,605.3 935.7,595.6 967.6,597.1 836,579.2 869.9,628.1 865.9,589.9 822,617.1 1029.5,601.5 1015.5,611.1 951.7,599.2 899.8,612.4 991.6,619.4 848.5,553.8 989.6,618.4 834,623.5 920.9,567.5 979.6,599.8 891.8,610 1091.3,611.5 1003.5,607.6 932.2,566.3 869,587.7 1047.4,603.4 935.7,612.1 959.7,603.3 999.3,588.6 893.8,612.8 1017.5,600.5 857.9,604 869.9,604.3 1107.3,615.7 997.6,604 852,596.4 913.8,609 828,605.2 1107.3,617.6 1039.5,613.6 903.8,602.9 1091.3,610.3 911.8,613.3 899.8,598.1 836,589 933.7,615.1 1071.3,598.2 814.1,601.2 1073.2,597.6 973.6,602.7 852,586.8 853.9,598.6 913.8,614.9 818,612.8 1067.4,612.5 848,586 929.7,598.2 1053.4,607.3 1043.4,605.3 991.6,603 953.7,601.2 987.6,603.8 1083.3,606.2 814.1,592.3 1165.4,604.5 937.7,588.4 838,577.6 889.9,599.8 1051.6,602.5 848,611.8 1005.5,611.5 865.5,564.4 897.8,652.7 981.5,589.6 842,597.2 961.7,602.1 857.6,583.8 1023.9,585 1055.4,602.6 1047.4,610.2 1147.2,611.5 1087.3,608.1 919.8,615.3 1003.5,603.6 826,619.3 1129.2,616.9 848,591.4 945.7,606.1 857.9,598.2 1171.1,622.4 959.7,607.3 1115.2,605.7 1080.7,598.7 859.9,593.4 831.1,573.7 840.9,551.8 969.6,613 867.9,588.9 881.9,608.8 899.8,606.3 965.6,601.5 965.6,615.7 877.9,619.3 834,619.5 1103.3,610.5 991.6,607.6 923.8,609.2 923.8,610 911.8,592.1 1091.3,619.6 1009.5,610.9 921.8,606.3 1003.5,602.7 993.6,603.2 1117.2,610.6 853.9,643.5 859.9,588.7 859.9,601.1 873,581.9 916.5,569.8 873.9,610.5 1154,596.1 1021.5,602.1 1025.5,614.2 1003.5,605 977.6,599 1045.4,618 925.8,584.6 1139.2,608.5 967.6,634.9 953.7,619.4 857.9,589.1 1021.5,613.9 981.6,601.5 814.1,588.9 975.8,593.3 890.1,573.4 1029.5,614 830,609.7 1004.9,589.6 905.8,611.9 1025.5,600.3 999.6,611.7 895.7,590.8 903.8,605.7 855.9,587.5 838,599.1 955.7,606.7 867.9,608.2 1017.5,611.3 1093.3,610.5 939.7,608.1 909,595.2 1013.5,576.9 903.3,591.7 828,607.3 952.5,580.3 927.7,584.7 985.6,600 961.7,613.8 997.6,620.9 881.9,599.6 881.9,606.4 861.9,628.7 897.8,598.1 853.9,592.4 985.6,612.3 882.5,587.7 871.9,608.3 1077.3,609.5 971.6,595.5 962.2,590.1 953.7,594 991.6,609.2 895.6,565.7 859.9,604.6 993.6,614.9 991.6,603 919.8,594 871.1,583.9 834,576.1 848,615.6 873.9,613.9 865.9,590.1 1113,609.6 1005.5,603 969.6,607.5 865.9,601.2 985.6,618.2 818,604.5 871.9,600.5 929.7,601.8 1107.3,604.1 927.7,611.5 1017.5,602.3 1137,603.9 1085.3,607.2 1113.3,617.4 979.6,611.2 931.7,612.7 1141.2,622.9 1143.2,612.9 1173,597 987.6,612.9 961.7,604.2 1047.4,603.5 1095.9,593.8 1109.3,616.1 818,601.4 844,619 891.8,596.5 881.9,618.1 853.9,602.4 1051.4,617.7 1145.2,615.6 861.9,610.2 927.7,615.6 1119.2,617.8 1041.4,605 895.8,632 941.1,576.8 881.9,589.3 859.9,599.5 915.8,594.3 1056.1,597.2 899.8,601 963.7,593.5 1039.5,617.6 928,580.5 973.9,593 912.7,567.7 846.3,578.9 871.9,611.3 1101.3,610.6 947.7,607.3 1033.5,601.9 1089.3,611 1079.3,604.3 1045.9,597.6 1073.4,614.5 919.8,589.9 958.4,592 1001.2,587.7 949.7,600.4 913.8,603.4 826,615 852,592.2 1125.2,604.6 1009.5,620.6 844,595.9 901.8,594.4 1087.3,610.7 832,604.4 857.9,592.5 937.9,568.3 919.8,586 857.9,620.7 1105.3,609.2 1013.5,615.7 833.1,542.9 925.8,602.4 848,603.4 820,605.5 1012.5,583.6 933.7,597.2 893.8,604 921.8,602.1 1071.4,601.6 1113.3,606.3 960.3,593.2 867.9,593.5 850,639.9 879.9,612.1 971.6,596.7 861.9,604.7 844,586.9 846,585.8 937.7,588.9 927.7,615.7 951.7,606.6 985.6,602 1144.6,600.2 907.8,613 973.6,599.7 1155.1,615.2 867.9,598 869.9,607.6 842.8,550.6 907.8,554.8 971.6,597.6 960.7,583.3 1009.5,618.4 840,589 895.8,598.6 879.9,607.4 1149.2,621.2 897.8,620.2 835,545.5 865.9,604.4 844,590.3 967.6,613.8 931.7,605.9 1087.3,609.6 855.9,584.5 893.8,591.3 832,591 842,602 1149.2,613.4 1015.5,599.3 819.7,566.2 961.7,597.1 888,594.9 814.1,592.7 1141.2,613 844,597.2 869.9,611.9 909.8,602.9 1129.2,612.2 1029.5,606.7 965.6,606.1 1009.5,604.7 927.7,615.3 911,575.8 846.5,566.9 852.1,550.5 881.9,654.4 962,586.6 1017.5,611.7 913.8,603.4 836,619.6 989.6,613.5 975.6,598.8 985.6,600.3 1005.5,603.6 861.9,597.3 1147.2,610.7 1121.2,621 965.6,614 1127.2,617.3 869.9,613.2 901.4,593.1 899.8,600 846,590.9 1081.3,608 991.6,602 965.6,608.2 1017.5,619.5 953.7,605.7 1161.6,604.4 931.7,606.5 1059.4,610 913.8,613.5 859.9,586 1003.5,603.7 886.1,591.7 844,602.2 891.8,587.4 977.6,599.9 977.6,610.4 901.8,597.4 975.6,643.1 935.7,607.9 846.4,548.8 834,601.5 947,587 1049.4,607.9 957.7,618.7 1125.2,617.5 909.8,598.3 913.8,598.4 834,609.6 832,586.2 1129.2,605.3 907.8,611.4 963.7,607.4 853.9,629.2 865.9,598.3 917.8,604.2 997.6,613.4 875.9,609.9 881.9,601.8 1032.7,591.7 891.8,603.9 985.3,590.1 867.9,621.1 873.9,629.1 933.7,582.8 993.6,603.7 1081.3,605.2 1171.1,618.2 965.6,634.5 840,606.9 850,584.4 943.7,613.3 901.8,602.6 855.9,628 935.7,597.4 875.9,609.1 893.8,599.8 929.7,615.4 999.6,610.8 909.8,594.5 897.8,613.6 967.8,594.5 863.9,629.1 844,577.6 844.6,568.1 883.9,606.4 903.8,597.8 937.7,611 1097.3,610.6 957.7,605.6 857.9,602.6 1081.3,609.9 897.8,667.4 855.9,574.5 826,620.3 919.8,606.8 1077.3,621.7 853.9,594.7 1135.1,608.6 887.9,613.8 929.7,595.3 925.8,591.2 822,588.7 879.9,589.5 821.6,568.9 1007.5,615.3 951.7,594.6 939.2,576.1 1019.4,585.1 985.6,603.2 951.7,614.2 993.6,602.7 943.7,615.8 1023.5,613.7 931.7,605.8 836,602.4 925.8,615.7 891.8,607.9 933.7,614.2 1103.3,616 885.9,607.7 1043.4,613.4 816,617.8 901.8,612.5 917.8,590.1 1028.9,591.6 971.6,600 929.7,614.9 823.7,554.3 903.8,595.7 1013.7,579.5 861.9,612.1 1057.4,607.1 958.8,584.3 1069.4,608.5 935.7,613.5 907.8,600.5 957.7,601.9 1011.5,614.9 889.9,607.6 947.7,606.4 934.1,565.2 993.6,591.1 838,576.3 903.8,624 1037.5,602.5 1143.2,609.7 977.6,596.5 818,584.6 825.4,572.7 852.3,556 953.7,605.4 869.9,598 844,614.5 887.9,600.1 975.6,596 899.8,603.3 863.9,647.2 840,615.5 820,573.3 944.9,580.5 838,595.2 846,621.1 863.9,621.2 826,621.5 999.6,620.9 987.6,607.9 973.6,612.1 1127.2,604.9 991.6,617.5 1027,590.6 951.7,613.2 1151.2,616 817.8,567 909.8,601.1 955.7,593.6 905.3,575.8 875.9,592.8 933.7,599.1 832,619.5 820,542.3 818,594.8 1013.5,610.3 1023.5,601.8 969.6,595.6 947.7,606.9 959.7,593.1 835.1,562.9 885.9,616.8 857.8,572.8 1069.4,599.4 999.6,603.3 855.9,600.5 969.6,598.5 816,584.8 865.4,577.2 890,563.1 827.5,556.9 1155.1,610.3 822,582.7 945.7,592.4 941.7,614.4 987.6,605.1 957.7,613.8 929.7,609.9 830,620.4 931.7,638.6 1015.5,619.8 867.9,590.9 967.6,595.8 857.9,588.1 834,577.7 923.8,615.7 925.8,597 1167.3,602.5 1009.9,582.7 852,608.2 887.9,603.5 814.1,591.8 1135.2,623.9 1171.1,619 1111.3,617.1 907.8,594.7 852,640.9 824,597 893.8,604.5 1000.5,590.5 853.9,585.7 881.9,627.7 1061.4,605.2 815.9,565.1 879.9,600.9 983.6,612.3 937.5,585.9 852,601.6 834,595.2 909.8,595.6 909.8,590.1 1003.5,620.1 1165.1,610.4 965.6,598 876.7,556.7 888.1,563.6 1013.5,610.8 901.8,597.9 1169.1,618.9 901.8,603.1 895.8,591.5 975.6,612.1 915.8,614.7 863.9,591.3 852,593.5 846,603.5 846,597.3 1157.1,620.7 1065.4,607.9 917.8,607.4 997.6,602.4 869.9,620.9 921.8,585.4 961.7,606.4 1039.1,589.2 911.8,622.7 828,612.6 1023.5,613.9 1093.3,612.1 869.9,588 941.7,608.4 891.8,605 852,604.4 911.8,595 834,619.5 909.8,597.4 936,564.4 1037.5,605.4 933.7,605.4 846,606.7 873.9,651.1 939.7,590.5 939.7,611.1 1167.1,613.9 913.8,591.2 879.9,653.6 967.6,614.2 1163.1,613.1 937.7,611.9 1161.1,621 865.9,593.1 905.8,596.1 889.9,589.8 879.9,615.3 1115.2,618.2 975.6,610 909.8,598 850.1,581 828,595.3 953.7,606.4 1015.5,611.4 959.7,614.2 838,588.1 929.7,588.3 844,598.5 1103.3,615.9 969.6,616.7 1025.5,614 883.9,608.4 844,626.4 897.8,603.6 901.8,631.4 903.8,613 1171.1,614.9 981.6,601.9 929.7,615.6 824,605.3 859.9,615.3 826,613.3 1167.1,610.7 852,628.9 956.5,591.8 891.8,649.6 957.7,603.7 826,599.8 855.9,597.3 1137.2,615.9 897.8,591.6 1021.5,612 1125.2,618.3 1025.8,585.4 953.1,580.5 863.9,598.1 836,608.5 816,620.6 1073.4,609.1 1147.2,613.1 1083.3,610.1 857.9,601.6 975.6,607.9 989.6,613.5 957.7,597.8 939.8,570.5 857.9,594.1 1115.2,617.6 891.9,587.8 1023.5,606.4 1030.8,590.2 935.7,607.3 836,592.3 901.8,600.2 887.9,609 861.9,592 842,589.7 945.7,595.5 828,619.4 935.7,610.9 926.6,564.2 995.6,602.5 955.7,606 895.8,612.6 965.6,602.8 1119.2,620.1 1025.5,606.6 967.6,604 905.8,595.1 999.6,607.6 1003.5,618 929.7,610 850.4,557.9 957.7,596.7 818,594.9 959.7,597.5 975.6,608.4 927.7,615.7 969.6,601.3 834,613.4 999.6,613 903.8,595.2 956.9,581.6 1001.6,602.2 837,563.3 903.8,612.3 855.9,621.6 893.8,588.8 820,604.9 1163.1,617.8 965.6,607.1 828,620.2 871.2,563 1008,583.3 1086.4,584.6 863.4,552.6 1003.5,611.1 1023.5,602.1 879.9,611.8 861.9,615.5 881.9,600.8 957.7,598 883.9,609.6 844,595.9 951.7,597.6 971.6,595.5 920.3,570.3 943.7,602.2 955,580.5 909.8,613.1 989.6,602.2 919.8,604.7 817.9,534.7 930.3,562.7 917.8,603.8 951.7,607.6 883.9,605.5 937.7,615.5 854.1,559.7 923.8,591.5 1105.3,610.4 893.8,614.5 963.7,603.6 1039.5,605 1001.6,615.9 1113.3,619.4 881.9,607.9 850,621.7 1047.4,608.4 1111.3,616.6 840,582.6 919.8,616.7 834,593.7 855.9,642.6 985.6,602.5 827.3,571.6 1089.3,610 840.8,567.2 927.7,589.1 1007.5,605 903.8,574.8 879.9,591.9 895.8,591.1 1137.2,623.7 842,584.7 893.8,610.8 867.9,599.5 891.8,613.1 911.8,603.1 963.7,601.2 820,597.2 943.7,603 1035.5,613.6 1063.4,605.1 955.7,606.1 955.7,605.4 963.7,615.9 836,600.4 889.9,606 923.8,631.7 1031.5,613.5 960.1,584.2 1013.5,604 989.6,609.8 889.9,632.2 964.1,594.6 979.6,600.1 959.7,606.4 1145.2,622 971.6,614.9 981.6,611.4 1011.5,601.4 963.7,606.9 877.9,601.7 975.6,599.6 840,587.3 1065.4,601.2 825.7,545.4 863.9,592.2 1055.4,609.5 937.7,604.4 826,605.4 871.9,609.3 954.6,589.4 1165.1,617.7 826,603.5 856,557.1 861.9,599.8 881.9,609.9 842,579.7 887.9,610.7 842,615.2 941.7,604.1 1067.4,619 828,620.9 824,580.9 853.9,596.7 861.9,600.5 865.9,621.1 993.6,614 977.6,616.3 923.8,614.9 1061.4,610.5 840,618.9 915.8,601.7 909.8,612.7 967.6,616.2 855.7,582.3 848,596.9 893.8,590.3 923.8,606 1041.4,611.8 901.8,595.1 830,603.4 981.6,599.2 951.7,568.1 1089.3,615.5 846,628.2 949.7,618.8 937.7,596.8 939.7,610.1 1031.5,613.7 951.2,577.1 861.9,600.9 1031.5,601.7 1165.1,618.3 913.8,614.3 931.7,585.5 947.7,601.9 1161.1,617.2 882.4,558.2 989.6,601.2 874.9,584.9 1033.5,606.2 975.6,615.8 821.7,535.7 957.7,608.2 1081.3,615.7 943.7,615.1 1133.2,610.1 895.8,603.1 1041.4,604.5 921.8,614.4 832,603.3 842.5,580.1 977.6,599.8 899.8,596.9 877.9,611.9 937.7,604.7 987.6,610.3 885.9,610.2 846,600.1 831.4,547.5 912.8,595.1 951.7,601.7 1167.1,617.9 863.9,617.9 925.8,597.7 949.7,605.2 884.4,586.1 820,584.5 951.7,598.8 820,600.9 925.8,605.8 953.7,601.8 1007.5,602.3 958.2,583.7 983.6,599.9 859.9,611.6 1092.1,586.9 963.7,601.9 814.1,574.1 993.6,606.3 917.8,614 870.9,586.4 1050.4,597.3 921.8,605.1 1053.4,602.9 885.9,585.2 985.6,602.1 1043.4,618 1001.6,621 1017.5,614.4 921.8,614.6 1071.4,620.3 929.9,581.7 929.7,606 832,577.6 897.8,599.8 1067.5,599.4 891.8,614.2 945.7,599.5 921.8,594.1 1001.6,617.5 884.2,590.7 905.8,600.6 947.7,597.7 981.6,617.4 1035.5,612.7 873.9,589 893.8,603.9 846.6,554 941.7,597.4 943.7,608.5 1007.5,620.8 1037.5,612.8 987.6,603.3 1153.1,611.7 903.8,596.4 881.9,605.7 863.9,606.7 969.6,600.3 873.9,587 931.7,593.9 1125.2,611.7 1149.2,615.8 820,584.5 897.8,605.3 897.8,592 819.9,551.6 844,581 888.3,573.4 983.6,601.6 955.7,601.4 985.6,613.9 941.7,598.4 834,603.6 863.9,589.7 1021.5,602.1 1085.3,609.1 983.6,618.3 957.7,593.2 921.8,598.1 853.9,609.3 1003.5,611.9 1123.2,618.9 945.7,607.8 885.9,600.6 899.8,613.4 962.6,583.9 1143.2,615.6 895.8,603.7 879.9,601.1 899.5,591 869.9,590.4 1007.5,603.5 871.9,620.6 949.7,611.7 877.9,612.8 830,595.9 879.9,628.1 1011.5,616.6 824,604.2 937.7,604.4 927.7,594.9 955.7,602.1 945.7,614.9 871.9,598.3 1127.2,623.3 925.8,609.8 933.7,605.6 981.6,601 929.7,573.2 1131.2,605.8 963.7,605.5 853.9,594.2 1117.2,605.2 1045.4,610.7 1155.1,616.5 1135.2,612.7 949.7,599.1 991,591.4 1047.4,613.2 937.7,613.6 975.6,610.6 933.7,586.4 830,585.7 971.6,617.2 899.8,597.9 899.8,593.2 891.8,599.8 1057.4,609.7 905.8,604.1 917.8,595 834,619 871.9,589.9 848,590.9 1117.2,619.1 979.6,600.7 985.6,610.8 1159.1,617 914.8,579.9 879.9,601.5 937.7,596.1 983.6,599.1 889.9,613.4 848.3,550.6 947.7,613.2 977.6,611 840,597.3 893.8,588.9 963.7,613.9 911.8,608.1 929.7,597.3 985.6,616.1 852,594.5 1009.5,615.2 1161.1,610.1 889.9,599.8 844,603.8 921.8,590.1 1117.2,617.8 975.6,602.6 911.8,601.3 852,598.6 915.2,568.6 820,607.6 905.8,595.5 853.9,599.5 832,594.9 887.9,628.7 933.7,613.1 855.9,604.4 893.9,572.8 933.5,574.4 1057.4,617.4 927.8,572.9 1019.5,614 816,531.8 1146.5,599.6 855.9,606.3 967.6,600.6 1015.5,611 997.6,616.3 874.7,588.9 834,586.9 819.8,533.5 973.6,609.9 873.9,601.9 830,591.9 824,584.6 1048.5,596.4 951.7,605.7 947.7,605 867.4,563.7 959.7,606 842.7,566.8 863.9,598.9 1139.2,623.4 957.7,606 1103.3,615.7 889.9,609 1155.1,620.7 1015.5,604.6 925.8,615.5 853.9,588.2 963.7,597.8 961.7,614.7 1099.3,610.5 909.1,577.1 877.9,589.7 1163.1,610.2 877.9,587.6 1109.3,610.2 961.7,596.6 907.8,596.3 899.8,600.4 830,612.3 977.6,618.1 921.8,595.9 884.3,559.9 867.9,612.3 914.6,569.6 814.1,594.1 981.6,598.1 909.5,572.1 954.4,581.2 961.7,616.9 977.6,600.6 963.7,596.3 848.4,567.8 865.9,612.4 935.7,587.6 836.9,546.9 850,615.3 828,613.7 913.8,606.7 925.8,606 1004.2,587.8 871.9,601.9 1133.2,624 834,578.1 1043.4,603.3 905.8,613 955.7,597.4 1019.5,602.5 977.6,599.9 842,620.3 818,601.1 915.8,619.6 857.9,595.8 848,583.8 915.8,598.4 901.8,596.2 928.4,563.9 895.8,671.4 923.8,612.6 969.6,598 848,621.5 822,622.9 993.6,602.2 924.3,582.4 971.6,638.8 921.8,608.4 1141.2,615.6 861.9,592.1 943.7,605.8 871.9,587.3 969.6,603.4 826,584.6 865.9,598.8 949.7,606.9 1005.5,613.3 921.8,600 879.9,609.1 850,596.5 837.1,550.1 883.9,617.5 855.9,599.1 879.9,599 910.8,567.8 1027.5,602.3 961.7,601.4 977.6,612.4 891.8,562.1 1051.4,603.2 887.9,607 853.9,615.1 1085.3,621.5 955.7,596.5 846,619.1 897.8,602.3 891.8,606.1 909.8,593.2 838,606.5 877.9,608.3 1010.6,587.3 933.7,603.5 885.9,607.9 879.9,607.9 1005.5,615.5 937.7,612.2 865.9,649.6 939.7,598 1053.4,605.7 840.6,578.1 824,593.8 999.6,603.1 975.6,617.9 915.8,590.5 1167.1,618.7 892,573.6 1163.1,621.2 991.6,602.8 1133.2,606.5 822,594 987.6,619 995.6,603.4 913.8,601.5 911.8,589.4 919.8,601.9 993.6,605.2 973.6,609.6 883.9,588.2 1169.1,618 927.7,597.6 1013.5,611.2 1029.5,602.6 836,600.3 967.6,594.8 983.6,599.5 1143.2,622.5 883.9,600 1075.4,602.6 857.9,615.2 1097.3,615.3 852,586.5 1107.3,616.5 1101.3,615.6 951.7,606.7 848,580.3 1041.4,617.9 816,611.8 878.7,586.4 842,604.5 1113.3,610.3 1093.3,610.1 818,619.7 965.6,596 875.9,619.8 1149.2,611.1 820,594.4 1131.2,624 953.7,610.1 1003,587.5 853.9,606.3 971.6,598.4 873.9,604.3 969.6,608.2 1145.2,612.9 901.8,591.6 1077.3,603.4 1159.1,612.4 1061.4,601.6 907.8,596.8 857.9,629.7 826,529.6 899.4,566.3 987.6,613.8 895.8,597.9 969.6,597.3 857.9,645.4 1001.6,609.7 918.4,571.3 1093.3,615.3 925.8,605.9 911.8,600.7 911.8,613.9 1065.4,611.8 1157.1,610.2 941.7,569.4 1075.1,596.4 996.7,591.8 867.9,650.3 880.7,566.9 1043.4,604.1 1140.8,603.9 967.6,605.5 1063.4,618 863.9,602.6 867.9,606.8 877.9,600.3 859.9,602.7 824,619.2 824,606.2 838,615.3 913.8,598.2 981.6,599.7 956.3,583.2 1061.8,599.3 979.6,590.4 816,599.9 895.8,591.6 950.8,587.7 848,597.5 855.9,604.3 879.9,618.7 875.9,604.4 957.7,601.5 872.9,558.2 916.7,578 867.9,615.9 983.6,603.8 1069.4,613.2 963.7,605.1 1067.4,601.2 1036.5,595.1 907.8,624.3 838,626 908.9,566 840,578.6 883.9,602.5 836,597.7 919.8,614.3 951.7,610.9 973.6,598.9 961.7,597.4 935.4,573.7 874.8,557.2 1051.4,609.5 828,602.7 848,629 884.5,569.9 921.8,614.2 909.8,606.6 871.9,604.2 1171.1,611.3 832,619.9 979.6,618.3 869.3,566 1089.3,608.9 1153.1,620.7 869.2,581.1 1025.1,587.1 1115.2,610.4 981.6,611.3 965.6,605.2 1002.3,591.6 850.3,571.8 941.7,609.9 953.7,600.7 822,599.6 893.8,607.4 1011.5,610.8 877.9,604.7 836,619.2 1033.5,613.6 969.6,637.8 922.2,568.4 873.9,610.5 855.9,589.5 834,598 865.9,590 822,594.8 891.7,594.5 1001.6,603.5 961.7,605.3 949.7,597.7 1157.1,615.9 832,619.4 959.7,596.7 863.9,604.9 879.9,610 878.6,557.7 923.8,600.4 1019.5,612.6 861.4,585.1 1111.3,610.2 917.8,599.1 979.6,600.5 969.7,593 983.6,601.4 842,616.8 1075.4,606.4 873.9,595.8 848,600.5 921.8,616.8 905.8,602.8 935.7,613.3 1045.4,609.1 891.8,604.1 1150.3,595.7 917.8,601.8 935.7,587.9 905.8,596.9 909.8,605.9 869.9,593.5 935.7,603.1 1095.3,618 1020.1,587.7 871.9,590.3 941.7,592.1 1097.3,613.5 951.7,619.3 1022,588.3 828,599.3 1027.5,600.5 941.7,603 919,569.3 987.6,613.6 867.2,555.7 933.7,594.8 1007.5,618.5 1009.5,603.3 863.5,576.3 917.8,595.6 1033.5,613.3 850,607.7 935.6,581.6 973.5,593.8 818,593.9 859.8,559.1 840,597.9 832,610.9 840,595.3 875,567.5 826,574 818,592.1 823.5,570.3 846,582.3 993.6,602.7 848,602.8 859.9,608.9 1105.3,615.6 955.7,606.5 913.8,597.7 867.9,591.6 899.8,593.4 853.9,604 818,573.4 840.7,545.6 922.4,580.9 1095.3,610.4 1058,600.1 895.8,606.9 979.6,610.4 1025.5,601.6 865.9,626.8 889.9,589 885.9,658.3 983.6,608.1 1155.1,612 889.9,608.4 965.6,604.7 883.9,658.1 861.7,559.5 827.6,543.7 869.9,651.8 893.6,594.8 943.7,591.2 1023.5,612.5 863.9,591.7 820,618.8 915.8,608.2 973.6,599.4 879.9,586.1 903.8,612.7 869.9,607.8 941.7,605.4 838,600 931.7,595.7 875.9,609.5 818,606.1 949.7,606.2 848.2,581.8 983.6,602.6 943.6,573.4 824,600.2 911.8,597.9 1007.5,613.9 939.7,605.7 991.6,614.2 925.8,611.3 840,576.3 867.9,628.5 861.9,603.8 1061.4,617.7 1079.3,615.6 889.9,594.1 963.7,615.2 824,613.7 993.6,620.1 828,578.3 875.9,609.1 1001.6,607.5 1085.3,615.7 1059.4,607.2 871.9,616 927.7,605.9 931.7,615.6 891.8,631.8 1007.5,618.5 886.2,562.5 881.9,585.4 899.8,591.7 828,574.4 825.5,537.8 1042.8,593.2 1005.5,605.1 1107.3,608.5 915.8,596.8 973.6,607.8 895.8,602.7 1087.3,621 873.9,609.7 947.7,595.8 829.3,540.4 1003.5,615.7 1044,598 949.3,575.4 955.7,598.2 867.9,613.2 830,602 850,592.4 931.7,602.2 913.8,588.5 1167.1,621.8 1007.5,611.1 919.8,604.6 931.7,598.6 989.1,593 975.6,612.5 943.7,604.4 949.7,614.4 1034.6,592.8 831.3,561.3 895.8,602.6 859.9,628 844,599.9 941.7,590.1 999.6,616.2 842,588.1 824,604 848,607.1 1037.5,617.3 818,550.6 935.7,596.5 967.6,609.1 820,617.7 1151.2,620.9 855.8,552.5 822,613.8 1009.5,603 818,618.4 869.9,601.7 863.9,588.5 943.7,608.4 1011.5,620.4 991.6,619.9 1088.3,581.7 816,593 933.7,606.9 925.8,615.1 897.8,612.5 948.7,579.9 1171.1,599.5 953.7,601.9 1095.3,612.7 846,597.6 947.7,600.6 828,582.5 989.6,604.5 1005.5,619.3 846,613.3 814.1,618.8 1055.4,617.4 852,598.2 989.6,619.4 1044.7,592.3 883.9,600.6 1161.1,617.2 948.9,587.3 846,586 889.9,615.6 865.9,604.6 939.7,614.1 975.6,599.4 893.8,603.2 1007.5,602.6 1035.5,602.2 859.9,646.2 885.9,591.1 877.9,601 949.7,595.2 1123.2,611.4 993.6,617.2 1029.5,613.4 1049.4,613.1 971.6,603 889.9,612.4 1035.5,605.8 897.8,592.1 901.5,575.2 857.9,585.1 861.9,591.7 1131.2,616.7 933.7,613.1 895.8,652.1 886.3,588.3 921.8,609.3 967.6,602 886.4,569.3 1040.9,590.2 1003.5,612.5 844,606.5 907.8,605.7 833.2,561 917.8,594.1 885.9,603.1 867.9,591.4 1103.3,609.8 939.7,613.7 1105.4,604.5 1077.3,615.3 915.8,594.6 1165.1,613.4 1041.4,610.5 1123.2,604.5 987.6,602.4 871.9,590 949.7,613.1 1009.5,610.9 955.7,619.2 931.7,603.2 924.1,569.7 838,602.1 971.6,606.6 1039.5,612.3 933.7,615.6 822,619 1015.5,615 882.6,569.9 842.6,547.9 913.8,609.5 1119.2,610.8 923.8,602.2 1011.8,580.3 929.7,585 949.7,608 1037.2,590.2 905.8,591.2 820,602.6 929.7,638.1 826,579.4 877.9,609.2 975.6,599.2 897.8,598.3 889.9,605.3 945.7,612.9 913.3,570.3 905.8,600.1 853.9,587 899.8,632.5 927.7,606 877.9,598.1 941.3,587.2 917.8,616.4 875.9,589 935.7,614.8 947.7,612.4 871.9,627.3 1052.3,596.9 814.1,591.4 1053.4,617.5 859.9,596.5 1059.9,599.8 1001.6,604.8 1063.4,611.2 979.6,601.3 873.1,567 923.8,597.9 842,576.7 863.6,563.8 1055.4,607.1 939.7,604.9 1131.2,612.5 985.6,613 1127.2,612 1139.2,615.7 899.8,652.9 1009.5,617.5 857.9,604.5 832,579 1099.3,610.7 852,584.1 832,595.2 852,583.9 869.9,616 931.7,587.8 842,595.6 857.9,611 903.8,600 955.7,609.2 959.7,613.8 1129.2,617 997.4,590.1 869.1,557.8 973.6,615.3 1099.7,597.8 876.9,566 1101.6,598.1 1075.4,621.3 859.9,592.3 927.7,635.5 1067.4,605.2 850.2,551.8 876.8,583.2 943.7,653.2 937.7,597.6 871.9,593.4 961.7,606.7 926.2,582.2 993.6,607.4 1061.4,607.4 877.9,610 859.9,600 1121.2,619.4 917.1,566.3 1109.3,616.8 971.6,609.2 875.9,615.8 983.6,611.8 929.7,602.9 889.9,646.5 915.8,587.7 909.8,599.5 973.6,599.6 873.9,620.2 1087.3,615.6 1071.4,608.8 1142.7,599.9 877.9,586.9 899.6,576.4 903.8,608.7 1037.5,613.6 935.7,605.2 1143.2,612.1 995.6,603.2 865.9,612.5 939.7,596.5 871.9,650.2 859.7,574.1 981.6,575.3 981.6,611.3 912.9,579.4 1089.3,620.4 875.9,599.5 917.8,598.4 1105.3,616.8 919.8,608.6 929.7,615.5 825.6,558.3 918.6,581.2 957.7,606.9 844.7,553.8 879.9,588.3 959.7,605.1 983.6,613.9 1015.5,617.1 919.8,598.3 1157.8,602.2 1073.4,602 1025.5,612.9 838,607.6 995.6,615.6 947.7,608.3 1001.6,611.7 846,615.9 963.7,597.4 949.7,606.6 838.9,563.8 1011.5,609.6 887.9,606.6 816,604.2 907,565 989.6,617.8 895.8,599.8 873.9,593.1 1123.2,617.7 883.9,627.7 1151.2,610.8 1027.5,601.5 823.8,544.7 887.9,600.2 1054.2,595.1 907.8,598.1 885.9,600.3 979.6,616.8 925.8,590.2 865.9,615.8 989.6,601.2 861.5,554.3 850,597.7 875.9,613.5 979.6,613.5 842,618.9 995.5,590.7 880.6,585 919.8,594.3 1077.3,606.9 873.9,600.8 997.6,603.2 833,575.5 1169.1,622.1 857.9,590.6 838,580.7 826,596.9 891.8,599.4 949.7,598.5 842,606.6 951.7,595.4 855.9,594.3 1015.5,603.4 1115.2,619.7 998.6,590.2 1169.2,602 903.2,565.4 1083.3,608.6 1035.5,613.1 877.9,615.6 993.6,607.9 1097.3,617.2 1035.3,590.3 885.9,589.3 927.7,610 867.9,590.3 955.7,613.9 983.6,611.1 951.7,600.8 1071.4,605.6 1017.5,602.9 895.8,614 814.1,585.1 820,595.9 853.9,553.1 973.6,595.7 929.7,612.1 840,617.4 1005.5,607.9 1053.4,609.4 971.6,609.1 829.2,575.9 973.6,611.7 901.8,613.1 1049.4,605.8 1071.4,613.9 979.6,602.9 832,601.4 1135.2,614.5 915.8,613.7 1135.2,616.1 829.4,559.1 822,600.6 945.5,572.9 937.7,614.5 848,584.9 887.9,589.4 836,618.5 1121.2,604.6 1145.2,610.3 828,596.6 907.2,579.1 850,582 971.6,600 977.6,599.1 971.6,610.9 832,611.7 842,586.7 863.9,611.4 955.7,598.2 905.8,612.9 995.6,612.4 979.6,599 1099.3,614.3 1001.6,612.4 1019.5,605.6 1121.2,617.8 853.9,605.2 1065.6,603.4 931.6,573.6 925.8,616.3 997.6,608.2 889.9,603.8 953.7,596 945.7,601.4 863.3,587.7 814.1,610.5 913.8,594.6 953.7,613.3 1007.5,610.9 1159.1,610.1 1045.4,613.3 943.7,599.7 1155.9,596.6 850,603.7 1069.4,605.4 963.7,597 957.7,602.6 842,599.8 887.9,616.2 939.4,584 830,595.2 997.6,616.5 953.7,607.1 921.8,605.2 909.8,613.6 945.7,613.3 836,625.3 873.9,590.2 915.8,607.2 836,595.2 846,578.8 885.9,614.2 831.2,542.5 1021.5,600.2 1111.3,619 1019.5,602.2 967.6,597.7 989.6,606 1137.2,612.6 987.6,600.7 907.6,573.5 943.7,608.8 917.8,586.8 1057.4,602.3 1083.3,615.8 923.8,596.4 850,628.4 1035.5,616.8 867.9,606.1 965.6,608.1 1047.4,605.7 1023.5,612.6 921.8,592.9 1021.5,606.1 840,605.4 947.7,602 891.8,591.1 857.9,558.4 850,586.2 1107.3,610.3 883.9,591.3 822,620.3 947.7,599.3 871.9,614 947.4,573.7 1131.2,616 836,576.8 953.7,606.7 1133.2,615.3 830,580.6 939.7,648.6 891.8,589.5 867.9,604.4 861.9,619.2 949.7,594.5 881.9,591.5 927.7,602.6 951.7,601.6 887.9,588.5 957.7,605.7 1019.5,600.3 977.6,643.8 822,605.1 993.6,608.7 945.7,602.5 897.8,601.9 883.9,609.3 842,626.7 834,602.8 869.9,590.3 915.8,602.9 863.9,615.6 979.6,610.8 1001.6,611.4 850,610.1 1001.6,602.9 1029.6,587.7 844,616.3 824,622.2 852,621.9 826,605.5 1147.2,615.7 1005.5,602.4 816,606.6 838,601.7 921.8,630.4 863.9,612.4 929.7,606 903.8,600.4 1031.5,586.9 1003.5,621 1049.7,599.2 1065.4,618.5 971.6,607.7 919.8,615.9 820,613.5 905.8,610.1 1125.2,622.6 836,614.6 1021.5,612.3 871,556 1045.4,603.4 935.7,599.4 931.7,609.8 1157.1,612.2 989.6,613.9 1083.3,621.9 865.9,605.9 889.9,591 816,573.6 1027.7,585.4 1011.5,603.5 1047.8,601.3 863.9,604.6 855.9,603.2 979.6,645.6 885.9,600.2 925.8,594.6 1113.3,617.3 842,599.5 842,596.8 903.8,591.5 991.6,605.3 850,591.9 903.8,603.2 941.7,603.6 816,618 830,604 893.8,651.6 832,575.4 965.9,591.9 1133.2,612.6 816,593.3 861.9,645.9 818,624.2 887.9,591 1127.2,617.6 840,589.5 981.6,613.9 1029.5,600.8 867.9,601.5 945.7,596.2 885.9,604.7 861.6,578.2 1033.4,588.9 859.9,591.5 953.7,597.5 875.9,597.1 1090.2,585.6 852,584.7 1133.2,616.4 905.1,564.5 911.4,568.7 1148.4,597.1 830,577.7 1109.2,606.1 844,586.8 838.7,578.3 963.7,605.1 824,595.1 987.2,589.5 915.8,611 897.8,606.5 814.1,609.1 859.6,554 854,572.9 895.8,611.5 961.7,606.6 923.8,615.1 876.6,589.7 985.6,618.5 977.6,608 840,600.6 816,601.2 818,586.3 818,593.8 925.8,600.9 899.8,606.1 822,584.5 897.7,575 875.9,587.9 1045.4,605.5 919.8,607.3 838.8,545.8 1046.6,593.9 1008.7,588.4 887.9,608.8 905.8,624.4 881.9,589.6 917.8,612.3 897.8,592.5 923.8,584.9 977.7,594.2 939.7,613.1 887.9,604.2 905.8,597.2 895.8,618.3 961.7,607.4 1065.4,605.1 1049.4,617.8 1111.3,607 1161.1,612.7 1137.2,607.8 1014.4,585.5 834,600.8 967.6,607.3 959.7,605.6 895.8,604.5 941.7,599.8 937.7,606.8 873.9,608.8 969.6,610 935.7,605 923.8,616.7 846,589 826,604.2 995.6,607.3 903.8,630.4 905.8,597.8 1045.4,603.8 836.8,576.2 857.9,599.5 885.9,609.3 999.6,609 979.6,599.5 939.7,589.1 1109.3,607.8 945.7,607.8 838,590.9 981.6,608.1 1103.5,600.6 987.6,618 931.7,614.9 901.8,594.3 1151.2,613.9 881.9,611.8 822,607 871.9,611.6 861.9,592.4 927.7,597.4 976.6,658.3 1147.2,621.6 1169.1,614.4 955.7,613.5 850,585.3 997.6,620.7 1015.5,602.6 981.6,603.3 979.6,613.1 947.7,599.9 987.6,602.7 945.7,602.5 933.7,587.7 822,603.5 939.7,603.7 1037.5,612 1141.2,612.4 816,587.8 887.9,608.1 875.9,627.4 878.5,592.7 838,619 941.7,613.6 973.6,607.4 1017.5,605.1 873.9,589.4 987.6,600.5 937.7,607.8 1031.5,601.3 1105.3,616.2 828,603.9 878.8,569.5 935.7,615.6 1015.5,600.7 883.9,585.1 907.8,611.4 1082.6,597.2 897.8,601.5 977.6,613 1123.2,621.9 1079.3,622 1051.4,605.8 893.8,590.9 933.7,596.1 1011.5,604.4 967.6,601 853.9,584.1 941.7,609.2 882.3,592.5 869.9,600.1 814.1,603.9 844.4,581.1 865.9,616.4 1027.5,614.1 1099.3,615.4 994.8,589.9 927.7,606.1 965.6,614.8 1145.2,611.8 945.7,608.5 941.7,615.3 875.9,653.6 926,573.4 901.8,599.2 857.9,621 1029.5,615.1 903.8,595.6 905.8,597.4 999.6,620.9 893.8,597.3 1153.1,614.5 919.8,599.5 1037.5,604.2 945.7,597.6 931.7,609.6 950.6,579.6 1013.5,601 933.7,644.7 903.8,596.6 889.9,595.3 999.6,604.4 1029.5,613.3 861.9,589.2 850,594.4 915.8,615.8 985.6,602.4 1138.9,604.7 1159.1,616.6 885.9,607.2 917.8,617.8 850,619.6 995.6,602.6 821.8,556 869.9,608.8 833.3,550.3 865.9,607.5 1027.5,606.7 941.7,604.5 989.6,602.8 971.6,598.9 1013.5,602.8 1109.3,618.4 887.9,645.5 885.9,592.4 1163.5,601.5 861.9,587.2 917.8,606 889.9,600 861.9,605.8 901.8,605.8 1059.4,601.9 993.6,620.2 1049.4,603.4 875.9,601.9 995.6,616.9 1006.1,585.9 939.7,597.1 909.8,610.7 1013.5,617.8 981.6,613.8 911.8,614 1073.4,606 895.8,590.3 1043.4,611.2 875.9,587.1 1101.3,610.2 1055.4,605.6 1009.5,601.5 959.7,597.2 911.8,602.3 875.9,601 895.8,598.2 838,619.8 1018.2,586.8 1163.1,617.5 991.6,606.9 820,594 1009.5,601.7 1059.4,605.3 853.8,585 820,590.6 924.7,566.3 923.8,590.5 952.7,588.8 997.6,607.8 1152.1,593 1041.4,613.5 834.9,575 991.6,613.2 1085.3,610.3 923.8,605.7 995.6,604.2 931.7,597.2 929.7,606.1 885.9,609.4 893.8,599 985.6,600.1 955.7,601.4 824,602.2 927.7,592 834,609.1 828,592.7 871.9,609.3 989.6,604.3 907.8,598.2 973.6,617.6 897.8,632 1159.1,620.8 1015.6,582.6 983.6,614.9 827.4,540.2 883.9,611.2 919.8,595.4 1017.5,583.4 920.5,580 889.9,586.3 945.1,588.5 822,534.3 905.7,574.4 832,602.5 1005.5,602.4 913.8,601.9 1141.2,609.1 1111.1,609.7 891.8,599.4 885.9,588.3 848,594.7 1075.4,615 865.9,591.3 840,620 830,604.9 1005.5,611 977.6,602.7 1033.5,616.2 830,598.9 1019.5,611.6 814.1,607.1 850,601 836,576.8 907.1,595.2 949.7,601.6 1081.3,622 872.8,589.4 852.2,572.3 967.6,608.5 852,615.1 869.9,593 1027.5,613.2 1011.5,611 972,591.4 887.9,600.1 1021.5,613.2 992.9,590.5 1039.5,611.3 867.1,587.3 995.6,620.5 879.9,605.1 1027.5,614.6 991.6,604.8 993.6,612.8 1101.3,615.1 987.6,603.2 1009.5,608.9 1033.5,613.3 917.8,607.9 1067.4,608.2 830,619.4 1119.2,619.7 937.7,599.6 875.9,590 877.9,608.5 899.8,593.6 883.9,608.4 1078.8,598.4 1021.3,584.9 939.7,603.8 877.9,653.5 871.9,594.4 1041.4,603 973.6,597.7 907.8,597.8 814.1,617.5 970.1,588.4 981.6,600.5 1011.5,600.7 1165.1,621.5 965.6,594 915.8,603.8 881.9,610.6 1063.7,602.1 913.8,621.3 973.6,598 903.4,576.4 1157.1,616.8 975.6,600 1095.3,615.3 816,593.5 1117.2,619.8 869.9,590.9 995.6,620.7 857.7,551.6 969.6,600.5 987.6,617.3 1059.4,617.5 999.6,602.2 953.7,598.7 1097.8,598.1 933.7,608.9 997.6,612 1063.4,607.7 1094,591.7 943.7,598.9 1093.3,618.8 929.7,593 824,573.7 877.9,629.2 953.7,598.5 859.9,620.2 1033.5,603.3 949.7,601.8 951.7,599.7 999.6,617 964.5,585 907.8,602.8 1011.5,603.1 893.8,598.9 873.9,610.2 1151.2,611.4 816,624.9 995.6,613.8 965.6,597.5 943,580.3 903.8,598.2 901.8,607.4 838,588.2 947.7,614.7 1039.5,604.6 1149.2,611.1 961.7,604.4 961.7,597.8 822,573.5 985.6,608 969.6,595.7 968.2,588.4 867.3,578.1 927.7,610.4 873.9,615.9 959.7,602.1 850,597.8 850,603.2 869.9,613.8 969.6,608.8 855.9,610.2 855.9,587.5 1095.3,610.6 983.4,591.4 923.8,594.3 1079.3,607.5 921.8,615.6 865.2,586.8 883.9,600.9 897.8,597.6 919.8,628.4 1079.3,609.7 907.8,613.2 966.3,588 907.8,594.4 816,619.3 1013.5,603.9 814.1,563.3 889.9,603.9 893.8,603.9 893.7,563.1 865.3,554.9 947.7,593.5 1119.2,604.8 846,602.5 1031.5,615.6 1084.5,591.4 897.5,562 814.1,617.2 909.8,623.7 855.9,595.2 1031.5,606.5 852,603.6 1011.5,618.2 943.7,613.6 824,616.1 975.6,598.5 933.7,610.2 880.4,589.5 1069.4,601.3 830,611.6 963.7,607.7 1137.2,613.9 989.6,607.7 997.6,604.4 1001.6,604.1 1129.2,623.7 1040.2,595 887.9,593.9 969.6,614.5 959.7,617.9 941.7,596.6 839,550.6 1013.5,600 943.2,587.3 957.7,613.8 822,596.6 931.7,615.4 933.7,602.7 957.7,606.2 1077,596.6 859.9,620.9 1101.3,616 939.7,615.4 826,604.8 1153.1,610.5 949.7,599.9 897.8,612 981.6,600.6 816,593.2 887.9,585.6 1003.5,602.2 911.8,594.4 1007.5,608.3 822,604.9 989.6,602.8 911.8,606.3 905.2,594.8 1031.5,602.9 901.3,563.4 1005.5,620.9 1038.4,596.3 883.9,589.2 941.7,613.8 846,596.4 895.8,575.1 946.8,581.4 826,595.2 890.1,586.8 971.6,600.6 943.7,597.5 931.7,614 1006.8,586 1099.3,616.5 873.9,598.9 925.8,610.8 1063.4,601.3 1097.3,610.7 899.8,621.8 935.7,604 820,623.6 911.8,598.2 1017.5,611.9 945.7,604.7 891.8,603.8 818,608.2 1035.5,603.8 961.7,593.2 999.6,604.5 848,597 881.9,614.9 840,602 832,598.4 848,619.3 899.8,602.3 1042.1,597.9 911.8,609.9 828,585.2 915.8,604.7 945.7,599.4 1091.3,615.4 883.9,590.9 997.6,609.8 877.9,588.6 857.9,607.6 1057.4,605.4 838,597.4 863.9,592.6 901.8,600.3 995.6,608.8 844,620.7 865.9,592.1 885.9,630 981.6,618.4 859.9,590.5 943.7,593.8 979.6,608.1 965.6,600.9 997.6,603 955.7,602.6 891.8,615 913.8,594.4 1007.5,602.1 836,602.7 877.9,592.3 830,619.9 899.8,612.3 816,608.7 853.9,621.8 1047.4,618 959.7,601.5 820,620 853.9,620.2 931.8,583.9 987.6,601.2 1027.5,613.2 973.6,600.2 1009.5,614.5 943.7,596.5 951.7,605.5 828,604.7 859.9,604.9 852,619.9 880.5,560.9 941.7,648.9 814.1,625.4 959.7,607.1 859.5,583.9 1043.4,609.8 829.5,547.9 814.1,598.1 1049.4,609.8 989.6,604.3 1025.5,612.8 893.8,616.3 937.7,603.4 915.8,598.7 901.8,612.4 888.2,589.7 947.7,597 983.6,601.2 905.8,605.6 967.6,598.2 1139.2,613.4 979.6,597.2 830,574.9 881.9,588.2 846,595.1 1001.6,620.6 967.6,607.2 1019.5,612 983.6,602.1 977.6,599.5 985.6,604.4 983.6,617.9 922.8,564.3 959.7,597.9 838,617.9 1135.2,607.1 939.7,599.8 937.3,577.3 821.9,544.7 975.6,599.9 919.8,613.5 965.6,597 826,593.3 907.8,590.7 893.8,635 923.8,605.5 881.9,601.3 863.9,600.9 855.9,592.5 840,599.8 816,593.3 832,610.4 1005.5,618.3 867.9,614.8"/>
<path d="M814.1 596.3L1173.1 616.5" stroke="#e6212b" stroke-width="3.6"/>
<path d="M813.4 421.6V674.7H1194.2M813.4 422.3h-7.3M813.4 485.4h-7.3M813.4 548.5h-7.3M813.4 611.6h-7.3M813.4 674.7h-7.3M834 674.7v7M933.7 674.7v7M1033.5 674.7v7M1133.2 674.7v7" stroke="#231f20" stroke-width="1.7"/>
<text transform="translate(805.1 429.8) scale(1.02 1)" font-size="21" text-anchor="end">60</text>
<text transform="translate(805.1 492.9) scale(1.02 1)" font-size="21" text-anchor="end">40</text>
<text transform="translate(805.1 556) scale(1.02 1)" font-size="21" text-anchor="end">20</text>
<text transform="translate(805.1 619.1) scale(1.02 1)" font-size="21" text-anchor="end">0</text>
<text transform="translate(805.1 682.2) scale(1.02 1)" font-size="21" text-anchor="end">-20</text>
<text transform="translate(834 700.5) scale(1.02 1)" font-size="21" text-anchor="middle">5</text>
<text transform="translate(933.7 700.5) scale(1.02 1)" font-size="21" text-anchor="middle">10</text>
<text transform="translate(1033.5 700.5) scale(1.02 1)" font-size="21" text-anchor="middle">15</text>
<text transform="translate(1133.2 700.5) scale(1.02 1)" font-size="21" text-anchor="middle">20</text>
<text transform="translate(772 551) rotate(-90) scale(1.06 1)" font-size="23" text-anchor="middle">ΔF/F (%)</text>
<text transform="translate(1003.8 721.2) scale(1.06 1)" font-size="23" text-anchor="middle">Speed (rpm)</text>
<text transform="translate(1059.5 440.3) scale(1.06 1)" font-size="19.5">r = -0.74</text>
<text transform="translate(1059.5 465.7) scale(1.06 1)" font-size="19.5">P &lt; 0.001</text>
<polyline class="c" points="1547.2,602.1 1510.4,602.9 1563.2,598.6 1399.7,618.5 1415.6,617.8 1385.7,602 1339.9,607.7 1557.2,605.5 1634,603 1527.3,611.8 1553.2,602.7 1471.5,599.8 1631,619.5 1417.6,618.8 1290,603.2 1565.2,600.3 1385.7,611.8 1527.3,604.9 1304,599.8 1391.7,596.2 1295,609 1414.6,609.2 1387.7,607.9 1302,620.3 1515.3,598.1 1353.8,621.4 1377.8,610.3 1461.5,615.3 1559.2,612.4 1537.3,617.7 1553.2,622.8 1533.3,596.3 1305,610 1334.9,610.5 1543.3,617.6 1635,616.6 1346.8,607.6 1510.4,593 1412.6,600.2 1282,608.5 1589.1,604 1625,608 1545.2,604.9 1544.3,602.3 1593.1,602 1354.8,602.5 1402.7,601.7 1499.4,600.1 1605.1,601.6 1319.9,611.9 1493.4,607.7 1484.4,602.3 1461.5,605.8 1379.7,609.7 1390.7,613 1362.8,605.5 1325.9,611.1 1365.8,598.4 1574.2,601.9 1568.2,602.6 1403.7,607.6 1284,618 1567.2,607.1 1286,605.4 1558.2,607.2 1523.3,600.2 1384.7,610.1 1561.2,611.9 1294,616.1 1539.3,606.5 1321.9,608.3 1312.9,608.9 1338.9,600.4 1484.4,608.6 1491.4,602.6 1524.3,609 1345.8,611.5 1323.9,595.9 1364.8,603.3 1347.8,616.5 1617,615.9 1387.7,598.9 1495.4,613.9 1607.1,612.9 1511.4,616.5 1540.3,607.6 1293,608.8 1341.9,597.7 1357.8,601 1302,603.1 1313.9,619 1519.3,599.6 1547.2,604.2 1351.8,615.3 1518.3,608.5 1367.8,598.2 1494.4,610 1325.9,611.4 1317.9,617.9 1443.6,612.8 1545.2,602.8 1330.9,604.5 1373.8,618.6 1310,615.8 1414.6,605 1381.7,609.3 1549.2,617.4 1525.3,616.4 1528.3,607 1441.6,604.1 1498.4,610.6 1617,607.9 1484.4,601 1310,618.4 1567.2,620.2 1603.1,598.3 1353.8,618.6 1298,616 1363.8,613.8 1361.8,614.9 1284,613.9 1505.4,617.8 1631,616.3 1603.1,604.5 1503.4,611.4 1555.2,603.3 1444.6,606.5 1385.7,608.6 1284,604.2 1328.9,610.6 1623,604.4 1547.2,594.3 1473.5,609.9 1400.7,602 1351.8,598.9 1542.3,601.4 1286,618.5 1433.6,601.9 1467.5,620.5 1628,604.6 1507.4,617.5 1290,600.2 1591.1,597.1 1513.3,597 1407.7,614.5 1455.5,599.9 1595.1,599.7 1588.1,599.2 1413.6,618.1 1483.4,606.3 1401.7,616.8 1339.9,610.5 1358.8,603.3 1577.2,611.5 1496.4,600.9 1365.8,600.5 1577.2,602.7 1337.9,607.2 1408.7,613.1 1410.7,600.5 1276.1,607.7 1457.5,613.6 1357.8,605.8 1567.2,610.8 1615,601.6 1392.7,605.9 1629,611.6 1302,610.7 1584.1,611.2 1391.7,619.6 1483.4,605.1 1353.8,604.6 1583.1,598.4 1315.9,601.1 1349.8,617.2 1518.3,610 1525.3,597.4 1384.7,603.5 1433.6,613.3 1292,600.1 1352.8,602.3 1557.2,612.6 1617,615.4 1300,605.7 1465.5,601.8 1579.1,602.9 1413.6,611.9 1361.8,600.6 1366.8,609.5 1300,620.7 1533.3,609.3 1444.6,603.3 1332.9,599.3 1299,607.1 1562.2,601.4 1307,605 1532.3,602.8 1590.1,598.6 1312,618.4 1568.2,607.9 1357.8,605.1 1502.4,611 1459.5,608.2 1357.8,599 1507.4,617.1 1397.7,596.6 1500.4,606.1 1448.5,609.6 1423.6,600.7 1353.8,605.8 1494.4,603.5 1595.1,612.1 1387.7,601.9 1486.4,609.5 1626,599.7 1431.6,617.2 1399.7,608.5 1466.5,600.7 1315.9,607.2 1603.1,602.9 1613,615.3 1449.5,615 1534.3,597.8 1397.7,608.2 1365.8,619.8 1599.1,615.8 1446.5,606 1467.5,614.5 1520.3,593.2 1483.4,608.6 1435.6,613.1 1395.7,598.2 1457.5,595.7 1513.3,606.2 1427.6,597 1471.5,615.9 1566.2,606.1 1299,596.5 1571.2,598 1355.8,599 1286,608.6 1306,620.4 1399.7,617.6 1559.2,594 1393.7,608.3 1601.1,613.3 1286,608.9 1492.4,600.5 1493.4,607.7 1591.1,616.6 1590.1,608.8 1343.9,598 1633,610.9 1406.7,606.8 1625,600.3 1623,605.2 1511.4,605.6 1404.7,601.4 1533.3,598.5 1294,602.8 1441.6,610.5 1276.1,607 1559.2,612.1 1535.3,613.1 1447.5,612.4 1608.1,609.7 1593.1,601.2 1509.4,597.8 1541.3,595.1 1387.7,619.8 1452.5,604.2 1339.9,613.3 1543.3,601.1 1450.5,606.6 1297,607.5 1327.9,607.1 1590.1,602.8 1287,608.1 1470.5,609.2 1413.6,597.6 1380.7,604.5 1463.5,605.8 1289,604.9 1371.8,608.4 1449.5,611.7 1531.3,608.9 1463.5,606.1 1288,619 1289,611.2 1607.1,598.9 1398.7,604.5 1615,594.8 1607.1,617 1409.7,617.7 1359.8,605.9 1345.8,598.3 1457.5,616.4 1635,600.4 1370.8,603.6 1369.8,616.4 1527.3,601.1 1323.9,610.8 1284,605 1359.8,616.7 1502.4,603.8 1617,609.5 1298,599.9 1435.6,597.1 1563.2,609.4 1497.4,600.5 1425.6,598.6 1463.5,599.9 1487.4,610.6 1534.3,609.2 1320.9,602.1 1350.8,606.7 1578.2,601.2 1418.6,605.3 1295,597.2 1347.8,606 1486.4,600.4 1430.6,607 1453.5,611.4 1351.8,608.9 1361.8,609.2 1437.6,609 1448.5,603.9 1538.3,607.3 1336.9,610.2 1523.3,617.9 1515.3,596.8 1614,602.6 1494.4,597.4 1465.5,612.6 1508.4,593.2 1420.6,610.5 1631,599.9 1458.5,602.9 1594.1,597.4 1442.6,600 1386.7,609.4 1501.4,597.9 1372.8,599.7 1288,600.8 1622,598.6 1517.3,599.5 1415.6,611.5 1606.1,602.5 1596.1,603 1415.6,607 1335.9,607.5 1379.7,617.3 1347.8,613.8 1411.7,597.7 1405.7,598.1 1618,597.6 1418.6,609 1349.8,605.6 1434.6,602.1 1554.2,607.1 1363.8,609.5 1422.6,605.8 1279.1,607.9 1467.5,613.9 1348.8,606.8 1419.6,597.3 1395.7,608 1447.5,608.1 1332.9,613.3 1297,609.2 1527.3,615.8 1296,612.4 1518.3,592.9 1410.7,604.9 1477.5,600.1 1554.2,606.5 1632,602.4 1288,605.6 1437.6,618 1454.5,602.2 1447.5,610.8 1463.5,595.7 1595.1,601.7 1620,598.1 1557.2,616.4 1603.1,617.2 1383.7,608.2 1595.1,615.7 1352.8,606.5 1492.4,607.9 1581.1,597.1 1429.6,610 1276.1,605.9 1331.9,613.4 1491.4,619.8 1396.7,602.5 1359.8,620.3 1633,614.8 1316.9,600.9 1431.6,609.6 1481.4,613.3 1623,592.6 1587.1,597 1331.9,607.3 1505.4,613 1365.8,609.7 1325.9,613.2 1277.1,602.7 1333.9,607.8 1294,620.4 1575.2,609.6 1606.1,600.9 1426.6,610.7 1576.2,603.6 1406.7,613.7 1437.6,597.2 1483.4,613.2 1438.6,608.5 1609.1,600.4 1428.6,606.7 1399.7,596.8 1322.9,602.7 1504.4,602.1 1445.5,609 1579.1,610.3 1502.4,594.7 1429.6,612.6 1413.6,611.7 1489.4,602.2 1513.3,599.6 1365.8,608 1569.2,598.1 1397.7,608.4 1559.2,613.6 1371.8,608.9 1431.6,602.1 1430.6,598.8 1538.3,599.6 1574.2,600.7 1595.1,615.1 1523.3,598.9 1493.4,597.5 1329.9,616.6 1358.8,606.8 1327.9,610 1438.6,607.3 1323.9,612.6 1407.7,617.6 1458.5,606.9 1601.1,613.7 1297,602.6 1378.8,604.1 1371.8,609.9 1344.9,607.6 1631,599.2 1531.3,604.4 1503.4,614.5 1457.5,611.5 1531.3,617.8 1569.2,602 1487.4,608 1373.8,616.5 1461.5,599.9 1457.5,615.8 1391.7,615.7 1451.5,600.1 1310,618.1 1497.4,604.7 1385.7,596.2 1345.8,601.7 1491.4,597.3 1561.2,601.5 1629,614.1 1406.7,605.1 1565.2,611.5 1432.6,607.2 1363.8,607.2 1587.1,599.4 1296,619.4 1627,616 1474.5,600.7 1375.8,599.7 1363.8,616.7 1431.6,619.6 1623,598 1302,607.6 1312,603.5 1494.4,600.7 1499.4,608.3 1589.1,600 1631,604.9 1382.7,604.8 1372.8,611.3 1437.6,612.6 1569.2,595.5 1290,609 1441.6,597.1 1620,603.7 1479.4,600.3 1313.9,596.9 1303,606 1459.5,611.8 1531.3,596.5 1531.3,613.5 1323.9,611.3 1436.6,599.2 1596.1,608.7 1519.3,604.6 1280,599.8 1343.9,614.8 1509.4,606 1471.5,613.9 1472.5,603.5 1368.8,602.8 1555.2,623 1487.4,606.2 1627,602.9 1411.7,598.1 1397.7,598.5 1292,620 1612,602.2 1636,602 1456.5,602.9 1403.7,597.2 1335.9,611.4 1364.8,602.8 1583.1,606.9 1551.2,602.2 1491.4,607.4 1413.6,611.9 1325.9,602.3 1301,610.5 1358.8,602.9 1514.3,603.2 1553.2,603.6 1339.9,607.2 1521.3,596.2 1447.5,598.4 1571.2,618.7 1475.5,609 1565.2,602.1 1341.9,614 1398.7,602.3 1563.2,611.6 1500.4,601.5 1573.2,609.2 1539.3,606.2 1387.7,601.6 1495.4,608.5 1401.7,618.2 1423.6,611.8 1599.1,616.6 1569.2,607.3 1534.3,607.8 1373.8,610.3 1567.2,595.1 1422.6,602.5 1457.5,605.7 1533.3,613.7 1543.3,597.8 1612,602.5 1307,609.1 1629,600.1 1379.7,608.4 1601.1,602.7 1608.1,602.5 1300,616 1505.4,616.8 1608.1,606 1305,605.5 1397.7,607.7 1349.8,621.5 1409.7,613.5 1483.4,616 1412.6,604.9 1409.7,606.8 1393.7,619 1474.5,603.3 1319.9,615.8 1521.3,609 1296,612.5 1286,614.1 1437.6,597.6 1365.8,612.5 1596.1,596.9 1536.3,607.8 1401.7,601.6 1436.6,602.2 1629,591.9 1378.8,611.6 1556.2,606.6 1545.2,607.8 1449.5,616.5 1385.7,618.6 1581.1,616.7 1582.1,608.2 1484.4,600.5 1621,600.3 1584.1,602.1 1346.8,605.1 1471.5,615.3 1504.4,605.8 1290,619.5 1402.7,605.4 1499.4,609.2 1580.1,608 1369.8,619.3 1406.7,604.8 1356.8,606.6 1592.1,597.9 1560.2,606.9 1592.1,599.4 1513.3,598.2 1587.1,599.4 1527.3,597.2 1276.1,620.3 1475.5,616.4 1582.1,601.5 1535.3,596 1635,599.9 1485.4,596.9 1463.5,601.5 1288,612.8 1282,604.5 1462.5,603.4 1352.8,605.6 1486.4,608.8 1569.2,614.1 1358.8,603.3 1521.3,599.4 1529.3,596.3 1461.5,601.1 1574.2,608.9 1449.5,600.1 1295,603.2 1377.8,617.7 1347.8,605.8 1376.8,611.7 1593.1,613.3 1375.8,602.1 1315.9,600 1373.8,606 1304,610.3 1559.2,622.7 1537.3,605.6 1278.1,605.5 1315.9,607.8 1345.8,606.3 1611.1,602.3 1573.2,598.2 1481.4,614.4 1399.7,601.5 1481.4,608.7 1501.4,610.2 1375.8,610.1 1435.6,613.3 1629,598.8 1435.6,602.6 1407.7,614.1 1570.2,602.4 1327.9,613.4 1556.2,603.1 1585.1,603.7 1396.7,605.8 1541.3,617.7 1529.3,610.3 1522.3,593.6 1583.1,616.6 1502.4,605.9 1427.6,604.7 1619,605.5 1517.3,609.4 1633,591.9 1599.1,602.5 1542.3,607.3 1493.4,603 1610.1,601.7 1509.4,616 1573.2,609.6 1283,600.6 1417.6,604.7 1530.3,607.4 1451.5,606.1 1458.5,604.4 1521.3,616.2 1417.6,617.8 1435.6,618.6 1611.1,616.9 1432.6,609.8 1509.4,603.2 1409.7,611 1549.2,598.4 1459.5,595.7 1339.9,619.3 1607.1,605.5 1539.3,603.9 1394.7,602.8 1374.8,603.7 1414.6,603.8 1595.1,601.9 1308,619.1 1315.9,614.4 1572.2,602.2 1570.2,600.6 1480.4,602.1 1609.1,599.2 1421.6,597.2 1276.1,614.9 1322.9,611.1 1382.7,600.7 1327.9,600.7 1545.2,619.9 1475.5,622.2 1424.6,606.1 1533.3,596.7 1461.5,607 1294,612.9 1612,605.1 1507.4,606.5 1333.9,606.7 1318.9,601.4 1298,613 1381.7,599.3 1540.3,607.9 1527.3,613.1 1333.9,609.3 1319.9,614 1479.4,608.7 1340.9,607.7 1587.1,613.7 1344.9,601.3 1547.2,612 1442.6,603 1417.6,598.5 1313.9,607.2 1395.7,608.3 1621,605 1600.1,596.2 1374.8,605.7 1312,619.5 1421.6,603.2 1615,606.1 1416.6,599.6 1426.6,606.4 1325.9,612.1 1381.7,609.8 1543.3,611.9 1427.6,598.5 1491.4,601.8 1411.7,602.6 1309,600.1 1493.4,609.9 1296,600 1561.2,594.2 1329.9,602.8 1282,617.5 1325.9,600.6 1292,602.9 1311,608.9 1443.6,604.8 1389.7,619.8 1316.9,610 1577.2,613.1 1581.1,598.1 1629,616.2 1597.1,616.2 1586.1,599.9 1551.2,622.4 1587.1,608.3 1586.1,611.7 1535.3,604.9 1593.1,615.2 1317.9,596.3 1305,609.2 1599.1,602.7 1365.8,601 1292,618.8 1501.4,610.8 1394.7,606.7 1300,613.8 1634,605.4 1588.1,599.7 1367.8,607.9 1334.9,605 1583.1,613.3 1427.6,602.2 1299,610.7 1631,601.4 1505.4,603.9 1310,605.5 1478.5,601.2 1599.1,604 1282,614.4 1627,612.1 1331.9,596.3 1415.6,597.8 1475.5,604.2 1584.1,600.2 1537.3,612.6 1431.6,612.9 1353.8,599 1276.1,598.9 1440.6,599.7 1355.8,601.2 1373.8,608.5 1417.6,606.4 1523.3,616.9 1613,609 1413.6,617.8 1366.8,600.7 1319.9,605 1319.9,608 1347.8,621.4 1526.3,609.8 1454.5,603.6 1487.4,613.7 1533.3,614 1397.7,616.6 1286,618.6 1404.7,604.9 1578.2,607.9 1511.4,597.4 1417.6,603.1 1496.4,606.9 1407.7,598 1627,600.3 1501.4,599.6 1528.3,608.3 1531.3,605 1315.9,618.5 1389.7,600.7 1614,602.6 1282,600.5 1489.4,602.1 1425.6,620 1458.5,610.3 1504.4,603.9 1550.2,607.1 1381.7,617 1557.2,598.8 1308,603.7 1371.8,618.5 1425.6,601.4 1633,599.9 1349.8,605.9 1321.9,596 1451.5,604.9 1489.4,620.2 1349.8,598.7 1345.8,601.4 1455.5,616 1353.8,605.6 1302,599.9 1563.2,621.6 1313.9,600 1361.8,598.8 1597.1,599.5 1585.1,605.9 1519.3,600 1306,610 1395.7,598.5 1439.6,609.1 1393.7,616.3 1415.6,618.4 1559.2,598.7 1504.4,611.1 1415.6,605.3 1319.9,596.1 1321.9,600.4 1519.3,617.2 1316.9,596.6 1329.9,612.2 1369.8,608.2 1552.2,604.4 1597.1,602.1 1489.4,609.5 1568.2,607.4 1425.6,612.3 1481.4,606.9 1321.9,612.4 1565.2,606.8 1598.1,596.5 1519.3,617.4 1593.1,616.6 1411.7,611.4 1393.7,607.7 1302,605.1 1340.9,605.4 1435.6,597.8 1392.7,613.7 1418.6,599.4 1600.1,602.8 1592.1,602.9 1293,597.7 1531.3,598.3 1545.2,617.6 1373.8,608.2 1323.9,602 1385.7,599 1574.2,607.7 1329.9,600.9 1443.6,611.4 1321.9,610 1377.8,617 1312,601.1 1529.3,613.2 1386.7,603.4 1591.1,603.9 1433.6,609.3 1337.9,607.5 1331.9,609.3 1525.3,605.6 1296,608.7 1514.3,604.5 1356.8,604.1 1288,600.3 1548.2,602.6 1308,617.5 1468.5,600.5 1360.8,603 1527.3,610.4 1376.8,603.7 1564.2,606.3 1604.1,607.1 1433.6,613.2 1467.5,599.8 1441.6,616.8 1476.5,603 1361.8,600.8 1399.7,616.7 1334.9,606.9 1439.6,613.2 1508.4,611.1 1535.3,606.8 1509.4,605.8 1581.1,608.9 1620,605 1395.7,607.7 1382.7,610.8 1276.1,616.6 1492.4,598.2 1362.8,602.9 1323.9,612.8 1379.7,602.2 1425.6,611.8 1405.7,615.5 1593.1,611.2 1543.3,594.8 1549.2,604.1 1327.9,616.4 1609.1,615.1 1535.3,617.7 1561.2,598.7 1476.5,608.4 1621,614.1 1301,601.4 1523.3,609.7 1616,597.1 1553.2,605.1 1439.6,609.5 1579.1,606.5 1520.3,609.7 1559.2,602.8 1511.4,602.6 1592.1,608.9 1354.8,608.5 1351.8,601.3 1533.3,602.7 1413.6,607.6 1474.5,602 1463.5,613.6 1304,620.2 1588.1,602.6 1360.8,606.1 1451.5,611.5 1435.6,609.1 1491.4,614.2 1497.4,597.7 1362.8,601.9 1511.4,617.5 1371.8,606.2 1453.5,606.9 1597.1,603.5 1609.1,602.6 1342.9,613.1 1473.5,615.8 1429.6,602.1 1447.5,604.9 1333.9,607.7 1427.6,602.1 1513.3,611.1 1590.1,612.4 1499.4,615.7 1535.3,605.1 1389.7,608.1 1624,606.1 1335.9,607.7 1363.8,619.4 1467.5,604.1 1461.5,618 1491.4,614.4 1290,605.6 1608.1,596 1520.3,605.5 1589.1,614.3 1619,615.9 1441.6,613 1331.9,608.1 1321.9,616.9 1479.4,603.9 1607.1,602.8 1331.9,612.2 1331.9,607.7 1621,600.6 1412.6,604.1 1469.5,603.6 1629,602.1 1510.4,606.4 1296,607.1 1365.8,616.6 1473.5,608 1377.8,607.9 1578.2,601.2 1337.9,612.4 1309,609 1539.3,597.4 1549.2,609.7 1279.1,609.6 1440.6,608 1367.8,619.6 1433.6,606.4 1530.3,609.7 1333.9,601.1 1597.1,614.7 1577.2,606.9 1611.1,609 1475.5,608.3 1407.7,610.5 1285,608 1333.9,596.6 1573.2,607.3 1390.7,605.8 1340.9,609.3 1292,608.2 1456.5,606.7 1416.6,609.8 1282,613.6 1628,604.1 1625,600.1 1591.1,600.6 1389.7,607.8 1536.3,602.6 1437.6,601.3 1565.2,610.8 1400.7,614.8 1405.7,607.4 1596.1,612.8 1536.3,598.7 1333.9,617.4 1415.6,598.4 1333.9,613.2 1367.8,610 1470.5,602.8 1605.1,602.9 1616,602.8 1573.2,607.6 1419.6,599.2 1367.8,606.3 1632,609.4 1377.8,618.8 1462.5,607.5 1378.8,603.7 1308,605 1501.4,607.7 1287,605.3 1324.9,603.5 1410.7,608 1459.5,600.7 1628,607.7 1476.5,600.9 1549.2,602.5 1605.1,617 1562.2,603 1593.1,604 1558.2,606.7 1571.2,596 1374.8,599.7 1443.6,610 1363.8,606.2 1500.4,603.8 1414.6,610.6 1401.7,616.9 1501.4,616.1 1613,595.4 1489.4,607.6 1306,619.7 1607.1,601 1417.6,611.2 1513.3,616.2 1611.1,599.5 1537.3,607.2 1404.7,614.3 1361.8,619.9 1427.6,612.2 1531.3,610 1585.1,609.8 1463.5,604.4 1483.4,607.9 1444.6,608.8 1529.3,601.6 1289,608.6 1309,609.6 1413.6,602.8 1553.2,593.9 1493.4,608.2 1615,608.6 1613,616.5 1571.2,613.8 1545.2,604.3 1423.6,597.1 1425.6,610.9 1311,604.1 1485.4,621.1 1429.6,602.5 1318.9,603.3 1445.5,605.2 1529.3,604.5 1611.1,599.8 1469.5,611.8 1419.6,603.2 1538.3,608.3 1407.7,597.7 1323.9,616.6 1310,601.3 1327.9,596 1609.1,617.2 1474.5,609.9 1490.4,598.9 1567.2,598.3 1577.2,609.9 1583.1,605.5 1427.6,610.5 1401.7,608.9 1623,617.6 1552.2,605.1 1359.8,615.8 1635,605.9 1537.3,595.7 1345.8,615.6 1599.1,613.4 1303,596.1 1432.6,602 1376.8,606.4 1378.8,607.2 1530.3,608 1355.8,604.8 1358.8,607 1295,607.9 1303,601 1566.2,607.7 1324.9,603.6 1549.2,602 1292,600.8 1434.6,609.4 1525.3,604.7 1400.7,606 1443.6,600.5 1622,605.4 1499.4,604 1351.8,604.8 1340.9,613.4 1635,606 1469.5,607.3 1298,611.8 1601.1,598 1403.7,617.9 1338.9,609.8 1435.6,607.3 1516.3,592.7 1405.7,609.9 1488.4,609 1289,598.7 1479.4,596.5 1535.3,608.4 1282,600.2 1395.7,616.4 1397.7,618.8 1432.6,606.6 1547.2,617.5 1549.2,604.9 1278.1,616.8 1409.7,597.9 1615,615.5 1312,597.3 1430.6,601.9 1614,606.7 1523.3,614.9 1443.6,609.7 1471.5,621.7 1391.7,601.6 1450.5,604.9 1509.4,611.9 1607.1,597.3 1559.2,605.8 1302,603.5 1284,614 1545.2,611.9 1391.7,607.9 1407.7,602.1 1617,616.1 1510.4,604.1 1551.2,617.2 1387.7,608.3 1581.1,603.2 1609.1,607.6 1529.3,596.9 1427.6,617.4 1512.3,603.1 1449.5,612.4 1598.1,612.6 1611.1,611.2 1483.4,596.7 1307,609.8 1356.8,603.6 1328.9,612.6 1418.6,610.1 1455.5,613.3 1475.5,599.9 1497.4,608.4 1381.7,619.3 1339.9,606.8 1334.9,599.7 1342.9,607.7 1343.9,610.1 1416.6,605.1 1318.9,610.3 1464.5,607.9 1541.3,612 1344.9,605.3 1465.5,604 1529.3,598.2 1419.6,611.9 1394.7,603.7 1379.7,604.7 1528.3,595.3 1389.7,598.8 1356.8,607.6 1553.2,602.8 1636,603.7 1562.2,607.1 1507.4,598.2 1584.1,608.4 1332.9,606.3 1480.4,601.6 1511.4,616.7 1489.4,606.5 1362.8,608.1 1310,599.9 1429.6,602.7 1569.2,610.1 1539.3,599.9 1613,599.3 1428.6,602 1294,600.6 1609.1,612.2 1312,615.5 1579.1,608.7 1507.4,605.9 1287,608.6 1451.5,612.1 1571.2,607.3 1445.5,612 1619,606.9 1346.8,611.9 1571.2,609.8 1467.5,595.8 1341.9,601.4 1619,600.3 1427.6,612.7 1421.6,617.7 1512.3,610.9 1541.3,605 1621,617 1468.5,608.8 1443.6,597.8 1547.2,598.3 1604.1,611.3 1292,612.2 1617,605.9 1551.2,610.6 1312,599.9 1617,601.2 1318.9,609.3 1321.9,601.7 1420.6,602.8 1615,598.8 1621,593.1 1488.4,609.1 1599.1,603.2 1291,604.4 1276.1,611.6 1431.6,613.3 1371.8,610.2 1355.8,605.6 1369.8,609.4 1575.2,596.9 1577.2,597.4 1421.6,603.5 1632,603.8 1575.2,608.8 1378.8,600 1473.5,603.1 1528.3,609.8 1585.1,597 1437.6,603.1 1417.6,611.2 1351.8,605.6 1551.2,602.7 1619,609.4 1453.5,611.4 1631,614.6 1489.4,597.2 1505.4,601.5 1290,613.8 1328.9,605 1625,598.1 1499.4,597.8 1483.4,613.3 1611.1,615.1 1331.9,616.9 1586.1,602.4 1500.4,610.8 1576.2,609.3 1624,603.9 1389.7,601.7 1326.9,612.1 1569.2,599.1 1604.1,600.5 1454.5,606.5 1490.4,600.4 1372.8,603.6 1495.4,608.1 1409.7,596.5 1603.1,604.7 1469.5,602.4 1351.8,605.8 1389.7,619.1 1515.3,599.5 1511.4,599.9 1625,592.3 1284,618.8 1576.2,607.8 1468.5,609.3 1370.8,610.8 1483.4,600.8 1478.5,601.2 1490.4,608.5 1360.8,607.5 1398.7,614.8 1278.1,599.4 1391.7,608.3 1280,613.1 1545.2,609.9 1445.5,600.4 1569.2,610.2 1527.3,596.2 1380.7,600.3 1457.5,607.8 1331.9,611.6 1369.8,609.9 1464.5,603.6 1348.8,604.9 1348.8,601.8 1453.5,616.2 1288,608.8 1352.8,609.4 1586.1,608.5 1571.2,598.6 1610.1,602.5 1546.2,607.1 1599.1,614.1 1465.5,599.9 1585.1,599.1 1557.2,603 1289,608.3 1296,620.6 1517.3,596.5 1518.3,603.4 1543.3,607 1405.7,615 1326.9,603.9 1505.4,606.3 1327.9,608.5 1578.2,609.8 1551.2,598.6 1543.3,604.2 1331.9,601 1567.2,614.5 1433.6,617.1 1355.8,616.4 1308,606.7 1310,606.7 1305,596 1441.6,611 1442.6,608.4 1394.7,605.9 1597.1,615.1 1469.5,615.1 1466.5,603.6 1409.7,608.5 1339.9,602.6 1387.7,618.9 1314.9,596.4 1330.9,613 1485.4,611.9 1295,611.2 1537.3,599.4 1547.2,611.1 1366.8,603.4 1386.7,611.2 1515.3,617.3 1563.2,606.5 1513.3,617.7 1579.1,610.5 1279.1,606 1442.6,607.6 1508.4,604 1571.2,609.7 1375.8,597.1 1306,616.7 1351.8,600.8 1311,600.1 1519.3,597.9 1477.5,608.5 1539.3,595.4 1538.3,602.5 1490.4,609.3 1478.5,608.4 1292,613.4 1597.1,616.3 1337.9,610.6 1385.7,619.7 1560.2,601.9 1622,603.1 1281,608.2 1350.8,604.6 1284,617.9 1541.3,606.5 1613,608.6 1306,606.9 1486.4,602.6 1426.6,602.1 1551.2,604.9 1357.8,606.2 1371.8,619 1296,604.8 1379.7,599.4 1336.9,600 1482.4,601.6 1361.8,606.8 1373.8,599.8 1623,615.8 1459.5,617.2 1336.9,605.2 1487.4,597 1308,598.1 1326.9,604.2 1575.2,607 1391.7,607.8 1429.6,605 1573.2,596.4 1514.3,610.6 1459.5,605.3 1300,620 1383.7,596.3 1613,599.7 1520.3,603.4 1327.9,602.6 1541.3,617.7 1445.5,612.4 1333.9,611.9 1387.7,616.3 1379.7,608.5 1381.7,617.8 1561.2,612.2 1280,618.8 1583.1,609.3 1577.2,597.4 1554.2,605.6 1511.4,598.2 1419.6,617.8 1495.4,609.5 1581.1,613.2 1395.7,601.4 1548.2,607.1 1339.9,601.3 1327.9,609.6 1409.7,597.8 1521.3,599.8 1423.6,602.9 1293,603.8 1300,603.2 1359.8,606.5 1595.1,603.7 1294,619.1 1341.9,611.3 1497.4,608 1348.8,607.1 1433.6,602.3 1425.6,617.5 1556.2,605.9 1557.2,612.1 1391.7,616.2 1517.3,617.7 1304,620.4 1517.3,615 1559.2,602 1335.9,609.5 1417.6,597.4 1567.2,611.9 1583.1,597.1 1452.5,610.1 1395.7,617.3 1371.8,601.7 1415.6,603 1320.9,603.3 1278.1,619.8 1625,615.8 1453.5,599.5 1298,602.9 1337.9,601.3 1402.7,606.1 1285,610.8 1613,602 1630,608.6 1485.4,605.7 1431.6,602.2 1407.7,608.8 1605.1,613.5 1515.3,615.6 1606.1,595.9 1403.7,615.9 1397.7,617.6 1525.3,613.4 1626,606.9 1361.8,616.7 1541.3,600.5 1359.8,609 1292,609 1441.6,609.3 1280,614.8 1571.2,608.5 1447.5,615.2 1278.1,612.4 1421.6,619.5 1474.5,608.6 1403.7,609.4 1626,604.3 1287,611.1 1507.4,612 1545.2,598.1 1564.2,602.9 1337.9,602.8 1459.5,615.6 1359.8,600.5 1339.9,609.7 1551.2,612.4 1559.2,616.1 1319.9,612.9 1392.7,607.2 1429.6,617.3 1610.1,608.7 1407.7,607.1 1375.8,610.4 1313.9,616.6 1296,616 1375.8,616.7 1555.2,616.7 1348.8,611.2 1312,617.5 1280,617.1 1591.1,599.7 1582.1,601.8 1357.8,619.5 1347.8,613 1602.1,607.7 1501.4,607.6 1367.8,618.7 1384.7,601.1 1465.5,613.4 1524.3,603.3 1485.4,602.7 1338.9,613.6 1604.1,595.9 1395.7,619.2 1544.3,606.9 1360.8,603.1 1366.8,604.8 1457.5,609.4 1632,601.2 1525.3,596.2 1489.4,614.8 1635,610.8 1636,605.5 1563.2,611.8 1449.5,604.9 1370.8,604.8 1387.7,608.8 1468.5,603.2 1492.4,609.7 1449.5,605.9 1489.4,606.9 1609.1,596.7 1576.2,601.5 1323.9,600.5 1449.5,598.7 1332.9,610.7 1549.2,612.1 1605.1,615.3 1280,605.1 1579.1,597.3 1396.7,614.6 1461.5,613.8 1367.8,601.3 1548.2,605.8 1477.5,603.5 1304,604.5 1627,618.7 1589.1,599.6 1487.4,601.7 1431.6,598.2 1570.2,607.5 1399.7,607.7 1367.8,600.3 1614,604.8 1567.2,602 1619,616.4 1555.2,612.6 1503.4,616.5 1624,602.5 1479.4,605.9 1312.9,609.6 1319.9,600.2 1439.6,616.8 1338.9,607.6 1573.2,613.5 1356.8,602.7 1550.2,605.1 1496.4,603.7 1385.7,609.1 1343.9,606.6 1405.7,597.5 1635,614.6 1441.6,600.7 1412.6,611.5 1513.3,605.2 1532.3,609.5 1430.6,606.6 1604.1,602.6 1294,605.2 1403.7,608.9 1517.3,600.7 1344.9,608.2 1522.3,603.3 1435.6,601.6 1313.9,615 1562.2,607.4 1407.7,617.5 1424.6,607.2 1405.7,617.7 1477.5,608.1 1524.3,606.3 1587.1,604.6 1589.1,609.2 1469.5,614.2 1549.2,621.7 1521.3,604.5 1457.5,600 1298,619.7 1291,611.3 1380.7,611.3 1479.4,603.1 1490.4,603.2 1369.8,610.1 1368.8,603.5 1438.6,602.5 1431.6,603.3 1501.4,614.1 1529.3,615.1 1341.9,606.5 1306,602.1 1354.8,606.5 1355.8,619.1 1345.8,612.9 1599.1,616.1 1393.7,607.9 1398.7,606 1509.4,617.1 1390.7,602.8 1451.5,612.1 1560.2,607.3 1600.1,599.9 1324.9,610.1 1401.7,608.8 1495.4,607.9 1401.7,617.1 1329.9,609.6 1464.5,609.8 1501.4,618.4 1382.7,603.6 1296,600.4 1616,605.7 1443.6,616.7 1439.6,611.9 1438.6,607.5 1557.2,593.9 1544.3,607.1 1383.7,599.1 1383.7,619.5 1546.2,606.8 1461.5,595.7 1519.3,608.4 1380.7,608.2 1476.5,610.1 1325.9,595.9 1453.5,612.8 1462.5,604.1 1633,600.8 1455.5,607.2 1405.7,601.9 1620,603.3 1497.4,618.8 1487.4,615.2 1613,606.1 1460.5,607.2 1628,602 1361.8,619.8 1434.6,607.3 1455.5,610.5 1329.9,596.1 1617,600.1 1408.7,607.4 1522.3,605.9 1600.1,612.3 1491.4,607 1314.9,603.5 1329.9,608.3 1598.1,599.6 1485.4,601.2 1449.5,611.5 1411.7,617.8 1312,610.1 1601.1,615.8 1550.2,606.5 1523.3,613.5 1445.5,610.2 1489.4,613.9 1309,596 1375.8,605.7 1350.8,610.3 1427.6,620 1368.8,610.2 1615,609 1511.4,616.8 1572.2,600.6 1485.4,608.7 1508.4,606.1 1399.7,597 1607.1,617.3 1477.5,622.2 1589.1,604.2 1395.7,618.7 1629,604.6 1439.6,601 1509.4,617.3 1552.2,607.1 1498.4,601.2 1563.2,600.9 1438.6,599.4 1397.7,618.2 1325.9,610.6 1345.8,610.1 1396.7,606.3 1408.7,605 1428.6,610.5 1636,610.6 1389.7,596.2 1497.4,615.4 1583.1,612 1558.2,602.5 1288,608.8 1426.6,606.8 1297,596.9 1407.7,596.3 1475.5,616.1 1611.1,606 1627,607.4 1612,596.4 1575.2,597.6 1280,608.1 1367.8,608.8 1323.9,606.2 1409.7,602.4 1479.4,613.3 1572.2,607.6 1443.6,616 1290,600.8 1363.8,600.8 1467.5,606.9 1298,600.2 1347.8,601.4 1284,608.3 1456.5,602.6 1417.6,598.6 1341.9,602.4 1283,605.9 1543.3,603.7 1349.8,605.2 1558.2,606.2 1287,599.3 1503.4,611.5 1541.3,604.8 1635,592.1 1546.2,602.6 1304,607.2 1540.3,602.5 1433.6,619.1 1549.2,594.1 1412.6,608.6 1374.8,603.4 1458.5,602.3 1575.2,598 1521.3,617.2 1363.8,600.6 1471.5,603.5 1377.8,602.2 1385.7,616.5 1558.2,603 1373.8,618.5 1611.1,608.4 1296,602.8 1517.3,617.4 1568.2,605.8 1417.6,612 1629,619.2 1369.8,601.5 1364.8,605 1433.6,597 1463.5,615 1341.9,620 1280,607.8 1304,615.7 1601.1,598.9 1336.9,613.7 1425.6,602.9 1469.5,614.7 1415.6,611.9 1431.6,597 1351.8,621.5 1387.7,613.2 1319.9,601.4 1561.2,615.7 1456.5,610.3 1325.9,606.7 1581.1,606 1389.7,616.2 1515.3,604.9 1435.6,617 1602.1,600.1 1540.3,600.5 1460.5,603.2 1422.6,599 1541.3,597.6 1608.1,601.3 1321.9,613.2 1505.4,614.9 1579.1,613.1 1628,600.2 1445.5,615.5 1293,608.3 1602.1,611.9 1602.1,602.7 1524.3,609.7 1360.8,602.6 1549.2,612.2 1470.5,600.5 1479.4,615.4 1353.8,616.1 1325.9,616.4 1621,610.4 1282,608 1533.3,604.5 1460.5,604.3 1377.8,608.5 1565.2,620.9 1525.3,598.5 1441.6,616.6 1506.4,602.4 1291,608.5 1369.8,606.3 1565.2,611.3 1437.6,616.9 1308,599.8 1312,606.1 1582.1,600.5 1557.2,602.4 1313.9,618.3 1328.9,598.6 1445.5,616.7 1374.8,611.6 1353.8,600.6 1477.5,596.3 1311,596.1 1450.5,609.9 1453.5,615.3 1395.7,596.4 1405.7,608.9 1373.8,597.4 1424.6,602.3 1579.1,597.9 1589.1,603.4 1324.9,611.6 1379.7,619.1 1573.2,602.2 1361.8,606 1283,608 1618,603 1570.2,605.4 1322.9,609.8 1432.6,598.9 1529.3,604.9 1499.4,603.9 1610.1,596.1 1480.4,610.2 1539.3,617.7 1281,606 1567.2,610.5 1370.8,599.9 1341.9,608.7 1511.4,611.6 1330.9,610.7 1554.2,602.9 1503.4,607.3 1603.1,616.8 1601.1,604.3 1337.9,597.1 1524.3,594.1 1466.5,608.3 1463.5,618.9 1470.5,609 1569.2,612.6 1315.9,617.8 1383.7,602.1 1612,607.7 1593.1,597.2 1616,603 1609.1,617 1547.2,602.2 1379.7,610.2 1343.9,610.6 1622,603.6 1441.6,604.7 1401.7,607.6 1305,600.6 1380.7,603.7 1509.4,598.2 1599.1,599.2 1527.3,604.8 1575.2,612.4 1627,600 1386.7,601.7 1491.4,610 1619,593.6 1403.7,596.3 1386.7,605.4 1393.7,596.3 1416.6,603.5 1480.4,608.4 1446.5,606.9 1589.1,614.4 1353.8,601.3 1535.3,596.9 1453.5,605 1377.8,605.2 1279.1,602 1620,603.8 1540.3,607.2 1411.7,596.8 1483.4,621.5 1561.2,602.5 1625,612.7 1537.3,605.1 1341.9,608.7 1583.1,607.4 1357.8,616.6 1300,611.2 1286,600.4 1292,605.5 1591.1,602.5 1315.9,596.6 1455.5,611.4 1320.9,609.5 1537.3,615.6 1607.1,615.2 1482.4,608.4 1425.6,597 1439.6,603.6 1381.7,604 1355.8,600.5 1322.9,597.5 1388.7,602.2 1555.2,613.8 1306,599.8 1560.2,603 1599.1,597.8 1366.8,602.8 1461.5,612.2 1552.2,602.8 1387.7,596.2 1279.1,608.5 1499.4,607.9 1525.3,600.6 1371.8,616.4 1582.1,610.7 1503.4,598 1364.8,601.2 1410.7,604.4 1302,599.4 1343.9,606.2 1555.2,603.7 1321.9,612.1 1621,609 1377.8,596.9 1467.5,603.6 1281,601.3 1505.4,598.1 1466.5,603.7 1381.7,608.3 1285,608.6 1477.5,616.3 1455.5,595.8 1557.2,604.9 1516.3,610.3 1487.4,620.6 1583.1,598.7 1564.2,607.6 1302,616.1 1631,611.2 1361.8,606.4 1473.5,622.1 1606.1,606.6 1630,600.7 1377.8,609.9 1393.7,601.5 1304,599 1541.3,604.1 1434.6,606.8 1551.2,593.9 1385.7,608.1 1280,600.5 1589.1,597 1381.7,602.2 1323.9,608.4 1501.4,603.1 1623,600.4 1403.7,598.2 1335.9,618 1437.6,613.3 1317.9,604.5 1316.9,603.3 1532.3,607.8 1499.4,618.6 1629,599.9 1480.4,600.9 1424.6,598.9 1452.5,601.9 1359.8,600.9 1446.5,609.2 1627,613.3 1510.4,611 1426.6,598.8 1605.1,605.1 1461.5,604.9 1408.7,604.6 1284,600.4 1499.4,613.9 1449.5,607.4 1622,603.9 1561.2,622.2 1579.1,597.9 1460.5,610.2 1535.3,598.9 1603.1,612.3 1601.1,616.9 1329.9,611.6 1473.5,613.7 1592.1,612.7 1493.4,606.3 1404.7,605.3 1349.8,614.3 1633,619.6 1532.3,607.6 1506.4,593.6 1482.4,610.1 1561.2,607.9 1346.8,607.3 1557.2,623 1277.1,607.6 1335.9,606.6 1624,599.1 1615,616 1539.3,606 1557.2,613.9 1405.7,596.2 1617,609 1634,610.1 1436.6,607.4 1567.2,610.6 1367.8,611.1 1318.9,596.9 1312.9,600.3 1286,613.3 1561.2,606.2 1350.8,602.1 1429.6,598.4 1506.4,611.2 1631,591.8 1388.7,608.7 1396.7,604.1 1306,616.1 1343.9,612.1 1472.5,600.5 1393.7,619.4 1627,592 1515.3,617.8 1363.8,607.2 1506.4,605.9 1332.9,604.8 1317.9,608.5 1351.8,618 1619,600.9 1544.3,602.5 1542.3,602.5 1440.6,602.7 1286,600.7 1519.3,608.3 1481.4,596.6 1443.6,596.9 1298,620.8 1278.1,619.2 1331.9,602.9 1555.2,611.8 1634,601.6 1368.8,604.7 1515.3,601.3 1522.3,609.3 1493.4,601.4 1451.5,615.1 1404.7,606.4 1553.2,611.3 1503.4,602.3 1588.1,608.7 1278.1,615 1280,603.9 1411.7,617.7 1315.9,615.7 1541.3,607.5 1455.5,606 1441.6,597.6 1343.9,602.1 1457.5,605.3 1445.5,596.6 1454.5,610.3 1497.4,613.8 1488.4,599.6 1523.3,597.6 1512.3,592.8 1621,615.8 1623,600.3 1383.7,610.4 1495.4,605.5 1304,616.1 1298,606.4 1493.4,614.1 1411.7,612.5 1501.4,604.1 1421.6,611.2 1577.2,606.5 1616,604.6 1411.7,606.4 1443.6,604.7 1299,602 1587.1,616.6 1555.2,598.7 1423.6,611.3 1308,620.2 1589.1,616.6 1290,612.4 1595.1,597.4 1615,609.4 1629,606.9 1543.3,605 1383.7,603.2 1451.5,607 1611.1,616.8 1562.2,606.4 1375.8,607.9 1401.7,598.3 1288,617 1389.7,614.5 1626,602.2 1471.5,610.9 1452.5,606.5 1630,604 1281,608.2 1431.6,605.6 1299,609.3 1520.3,609 1391.7,599.8 1313.9,603.7 1420.6,608.3 1530.3,602.9 1539.3,616.6 1498.4,606.4 1326.9,598.2 1371.8,600 1546.2,606.4 1453.5,606.1 1424.6,610.7 1337.9,606.9 1519.3,596.4 1586.1,600 1384.7,610.2 1439.6,597.3 1376.8,603.8 1543.3,618.8 1513.3,616.9 1597.1,597.5 1573.2,612.9 1429.6,613.1 1421.6,611.4 1472.5,608.8 1479.4,622.1 1583.1,603.5 1383.7,618.2 1291,608.5 1347.8,605.8 1594.1,602.9 1384.7,605.1 1503.4,618.1 1525.3,610.2 1343.9,620.5 1421.6,611.7 1518.3,605.1 1547.2,620.9 1624,604 1470.5,603.6 1615,616.3 1494.4,607.4 1595.1,603.8 1635,619.6 1530.3,596.1 1587.1,603.9 1385.7,602.4 1575.2,613.3 1402.7,604.8 1539.3,605.1 1522.3,609.4 1498.4,603.7 1298,608.4 1447.5,616.6 1399.7,598.4 1623,611.4 1313.9,606.7 1575.2,617.6 1399.7,617.5 1285,600 1598.1,608.5 1551.2,612.9 1595.1,614.3 1347.8,598.5 1587.1,610.6 1364.8,608.8 1550.2,602.7 1278.1,603.1 1300,603.7 1633,605.4 1615,599.9 1577.2,608.7 1310,597.7 1580.1,600.8 1354.8,603.9 1329.9,613.5 1605.1,611.3 1504.4,594.1 1595.1,616.4 1507.4,600.9 1506.4,603.9 1282,618.4 1297,611 1471.5,607.7 1308,616 1291,598.2 1479.4,607.3 1320.9,610.7 1569.2,609.4 1409.7,617.6 1512.3,606.9 1555.2,602.6 1419.6,605.8 1495.4,601 1322.9,603.4 1367.8,616.5 1413.6,598.3 1627,604.6 1605.1,605.6 1304,602.6 1446.5,603.6 1626,604.1 1507.4,598.1 1363.8,619.9 1497.4,603.7 1355.8,608.7 1469.5,603.3 1567.2,599.7 1605.1,598.6 1413.6,597.3 1487.4,609.4 1527.3,617.8 1497.4,609 1475.5,603.2 1523.3,596.2 1377.8,599.5 1497.4,609.3 1350.8,606.3 1509.4,615.7 1345.8,605.9 1481.4,621.8 1585.1,607.5 1521.3,613.9 1376.8,599.7 1495.4,603.4 1625,618.2 1382.7,609.2 1337.9,612.7 1633,606.1 1418.6,603.1 1423.6,617.6 1465.5,614.8 1503.4,606.9 1357.8,620.7 1605.1,597.9 1359.8,605.7 1303,610.2 1580.1,602.2 1451.5,616.4 1485.4,606.1 1436.6,608.9 1472.5,609.6 1601.1,602.8 1319.9,609.2 1464.5,603.9 1344.9,612.6 1601.1,603.5 1342.9,605.4 1531.3,596.6 1388.7,605.6 1565.2,598.5 1308,601.6 1368.8,600.2 1564.2,601 1512.3,604.3 1439.6,597.4 1365.8,607.6 1294,600.1 1292,616.3 1392.7,603.3 1631,599.9 1394.7,614.3 1580.1,601.5 1365.8,606.3 1596.1,599.5 1314.9,609.7 1498.4,596 1607.1,610.4 1390.7,607.9 1535.3,614.7 1445.5,604.8 1462.5,601.3 1326.9,610.4 1317.9,614.8 1333.9,603 1393.7,598.6 1370.8,603 1469.5,621.2 1591.1,612.4 1545.2,594.5 1577.2,617.2 1610.1,605.5 1301,609.3 1349.8,601.4 1339.9,611.8 1607.1,606.7 1537.3,603.5 1345.8,621 1347.8,601.4 1388.7,612.1 1310,609.9 1329.9,608.3 1450.5,601.5 1300,599.9 1527.3,598.3 1552.2,606.5 1550.2,604.5 1355.8,616.3 1496.4,610.3 1603.1,613.7 1471.5,602.7 1593.1,615.1 1561.2,613.1 1444.6,600.3 1357.8,608.8 1461.5,609.9 1495.4,619.1 1505.4,598.6 1327.9,611.9 1529.3,610.4 1606.1,610.5 1423.6,611.5 1503.4,604 1585.1,612.8 1485.4,613.5 1389.7,608.5 1375.8,618.1 1613,616.6 1553.2,598.7 1605.1,617.3 1559.2,606.4 1609.1,605.8 1444.6,607.2 1546.2,603.1 1383.7,609.5 1453.5,600 1554.2,603.8 1526.3,594.6 1566.2,600.8 1576.2,601 1421.6,598.6 1437.6,608.4 1584.1,600.7 1532.3,596.9 1388.7,603.3 1517.3,604.7 1451.5,596.1 1481.4,600.5 1525.3,617.9 1362.8,603.2 1446.5,600.7 1516.3,604.8 1355.8,621.1 1467.5,614.1 1392.7,603 1591.1,604 1448.5,605.5 1449.5,596.2 1415.6,597.5 1492.4,603.4 1285,605.7 1413.6,605.9 1464.5,600.9 1281,610.1 1423.6,604.8 1579.1,606.4 1421.6,599.9 1572.2,604.9 1591.1,614.8 1428.6,598.8 1459.5,605.5 1515.3,617.9 1278.1,607.7 1481.4,604.5 1313.9,610.5 1354.8,604.9 1566.2,607.3 1632,605.2 1551.2,603.9 1593.1,603.7 1565.2,611.1 1304,603.9 1581.1,608.9 1488.4,600.4 1526.3,603.2 1300,599.8 1500.4,595.3 1547.2,608.7 1617,594.2 1563.2,612.4 1513.3,617.5 1411.7,612.6 1467.5,612.5 1544.3,607.1 1507.4,615.5 1433.6,598 1300,608 1306,604.4 1491.4,608.7 1507.4,614.4 1563.2,594.4 1466.5,609.5 1472.5,602.4 1334.9,613.6 1534.3,602.7 1630,605 1473.5,603.7 1463.5,611.3 1345.8,606.7 1459.5,613.8 1475.5,596.2 1425.6,604.7 1308,609.9 1448.5,601.1 1585.1,616.6 1547.2,604.9 1627,598.4 1473.5,599.8 1477.5,603.1 1393.7,616.7 1459.5,600 1321.9,605.6 1556.2,603 1493.4,619.4 1280,619.4 1343.9,607.7 1603.1,598.4 1603.1,602.2 1391.7,598.7 1460.5,601.8 1294,609 1329.9,607.5 1284,608.7 1307,596 1397.7,601.4 1603.1,615.6 1636,603.3 1465.5,613.2 1630,602.1 1403.7,601.7 1342.9,608.8 1633,599.7 1619,609.6 1477.5,605 1335.9,612.8 1398.7,605.7 1618,604.7 1517.3,617.9 1473.5,596.1 1317.9,601.2 1277.1,609.2 1459.5,608.7 1515.3,606.8 1421.6,605.2 1434.6,599 1301,606.6 1623,613.4 1448.5,606.7 1447.5,612.1 1359.8,598.9 1555.2,605.3 1594.1,599.4 1585.1,613.6 1548.2,603.8 1294,607.7 1414.6,599.9 1542.3,607.1 1617,598.4 1597.1,603.7 1429.6,597 1416.6,609.7 1401.7,596.6 1454.5,604.4 1481.4,603 1282,619 1405.7,617.3 1517.3,598 1481.4,606.7 1347.8,609.6 1514.3,592.7 1409.7,613.2 1469.5,595.8 1590.1,599.5 1337.9,609.9 1591.1,614.9 1447.5,600.2 1286,603.8 1526.3,608.6 1481.4,616.2 1548.2,606.6 1381.7,596.5 1369.8,597.9 1477.5,616.1 1577.2,597.8 1618,603.4 1478.5,602.6 1323.9,612.7 1419.6,604 1372.8,605.2 1565.2,594.7 1276.1,619.4 1375.8,618.6 1440.6,607.2 1429.6,619.9 1419.6,611.2 1433.6,603.7 1489.4,609.8 1634,603.6 1588.1,612.1 1495.4,615 1306,598.6 1488.4,602.9 1306,604 1542.3,607.5 1353.8,615.9 1290,608.6 1373.8,601.9 1359.8,619.8 1439.6,604.6 1505.4,606.9 1317.9,613.7 1556.2,607.2 1537.3,606.4 1563.2,602.3 1635,600.4 1288,618.6 1521.3,597.8 1528.3,603 1533.3,605.1 1450.5,604.1 1383.7,609 1553.2,613.5 1314.9,600.5 1516.3,603.3 1346.8,601.6 1314.9,609 1600.1,608.1 1369.8,600.1 1631,606.4 1293,611.3 1403.7,616.4 1465.5,606.5 1478.5,610.2 1587.1,613.9 1402.7,614.6 1578.2,602.9 1286,617.4 1337.9,618.6 1471.5,595.9 1276.1,602.3 1310,619.9 1425.6,602.5 1571.2,612.9 1277.1,608.9 1455.5,600 1427.6,602.7 1575.2,607.1 1383.7,616.7 1533.3,607.7 1495.4,597.6 1597.1,602.2 1419.6,619.2 1571.2,602.1 1485.4,608.4 1621,606 1572.2,608.5 1316.9,609.1 1457.5,600.3 1342.9,601 1301,596.3 1633,599.8 1581.1,606.5 1491.4,607 1465.5,604.8 1602.1,596 1543.3,608.7 1462.5,610 1428.6,606.6 1536.3,608.8 1400.7,604.7 1545.2,601.6 1353.8,608.8 1339.9,597.4 1514.3,607.4 1537.3,597.1 1505.4,611.8 1525.3,613.2 1619,614.8 1563.2,615.3 1278.1,607.6 1517.3,607.5 1330.9,605.7 1369.8,618.5 1531.3,614.4 1533.3,617.7 1311,609.6 1568.2,600.6 1423.6,619.8 1635,599.4 1445.5,598.1 1437.6,604.4 1579.1,616.9 1408.7,600.8 1573.2,597.8 1476.5,601.6 1290,618.6 1516.3,607.9 1327.9,611.8 1315.9,610.9 1355.8,605.9 1415.6,611.4 1523.3,604.6 1587.1,604.5 1496.4,596.7 1447.5,596.4 1335.9,612.2 1507.4,603.6 1325.9,608.5 1403.7,617.1 1613,610.2 1614,596.7 1341.9,606.9 1423.6,598.6 1400.7,605.6 1609.1,609.6 1328.9,604.2 1521.3,617.9 1440.6,607.9 1338.9,605.4 1593.1,599.7 1534.3,607.6 1581.1,611.2 1391.7,619.2 1343.9,601.4 1447.5,605.6 1499.4,610.1 1619,598.2 1312,606.9 1333.9,611.8 1482.4,600.7 1536.3,607.4 1317.9,611.4 1477.5,613.4 1290,616.6 1282,604.7 1317.9,617 1483.4,602.9 1419.6,611.2 1581.1,598.3 1455.5,605.1 1569.2,619.4 1521.3,607.4 1560.2,606.3 1406.7,601.1 1456.5,604.5 1633,616.5 1555.2,593.8 1465.5,619.7 1467.5,602.1 1574.2,604.3 1422.6,607.7 1601.1,616.4 1390.7,603.1 1278.1,600.6 1303,609.3 1580.1,610.3 1538.3,607.7 1575.2,602.4 1573.2,618.1 1471.5,603.1 1283,610.5 1442.6,606.9 1420.6,605.5 1372.8,603.2 1335.9,603 1468.5,603.7 1502.4,601.8 1597.1,612.8 1473.5,616.4 1419.6,598.6 1621,598 1487.4,606.3 1393.7,599 1373.8,610.2 1313.9,601 1594.1,612.8 1357.8,600.5 1317.9,600.1 1284,600.5 1321.9,614.3 1420.6,599.2 1513.3,602 1611.1,596.1 1298,604.3 1523.3,606.4 1349.8,609.2 1473.5,602.9 1436.6,607.1 1475.5,603 1625,603.6 1564.2,607.2 1570.2,608.2 1324.9,597.9 1315.9,604 1375.8,608.6 1565.2,614.9 1349.8,614.6 1515.3,610.3 1591.1,610.2 1330.9,599 1320.9,597.2 1352.8,604.3 1381.7,609.3 1410.7,612.3 1479.4,616.4 1351.8,615.4 1397.7,597.6 1553.2,612.5 1475.5,613.5 1455.5,615.8 1312.9,596.2 1519.3,617.9 1486.4,600.3 1535.3,603.1 1307,600.3 1526.3,606.7 1363.8,598.6 1511.4,605.9 1623,608.6 1309,604.5 1508.4,602.7 1519.3,614.4 1317.9,607.6 1340.9,600.7 1585.1,598.9 1335.9,601.2 1553.2,617 1589.1,611.5 1401.7,597 1310,603.5 1539.3,612.3 1598.1,602.9 1319.9,617.4 1509.4,600.3 1451.5,599.1 1312.9,603.7 1594.1,608.8 1423.6,603.1 1371.8,597.7 1463.5,612.8 1485.4,615.6 1288,614.1 1336.9,607.3 1379.7,617.3 1365.8,619 1411.7,608.1 1566.2,602.8 1482.4,601.9 1357.8,616.3 1283,608.4 1294,612.2 1452.5,604.3 1379.7,596.7 1465.5,595.7 1276.1,600.6 1302,614.7 1585.1,605 1288,603.5 1453.5,595.9 1529.3,617.8 1335.9,596.8 1625,604.8 1422.6,610.7 1484.4,609.8 1469.5,599.8 1435.6,604.1 1277.1,605.9 1399.7,608.6 1302,620.6 1439.6,617.3 1493.4,614.6 1503.4,599.1 1618,604.7 1341.9,611.2 1430.6,610.2 1531.3,602.2 1487.4,602.5 1625,612.4 1349.8,601.1"/>
<path d="M1276.1 614.4L1635 595.8" stroke="#1c78c0" stroke-width="3.6"/>
<path d="M1275.1 420.7V673.7H1656.7M1275.1 421.4h-7.3M1275.1 484.5h-7.3M1275.1 547.6h-7.3M1275.1 610.6h-7.3M1275.1 673.7h-7.3M1296 673.7v7M1395.7 673.7v7M1495.4 673.7v7M1595.1 673.7v7" stroke="#231f20" stroke-width="1.7"/>
<text transform="translate(1266.8 428.9) scale(1.02 1)" font-size="21" text-anchor="end">60</text>
<text transform="translate(1266.8 492) scale(1.02 1)" font-size="21" text-anchor="end">40</text>
<text transform="translate(1266.8 555.1) scale(1.02 1)" font-size="21" text-anchor="end">20</text>
<text transform="translate(1266.8 618.1) scale(1.02 1)" font-size="21" text-anchor="end">0</text>
<text transform="translate(1266.8 681.2) scale(1.02 1)" font-size="21" text-anchor="end">-20</text>
<text transform="translate(1296 699.5) scale(1.02 1)" font-size="21" text-anchor="middle">5</text>
<text transform="translate(1395.7 699.5) scale(1.02 1)" font-size="21" text-anchor="middle">10</text>
<text transform="translate(1495.4 699.5) scale(1.02 1)" font-size="21" text-anchor="middle">15</text>
<text transform="translate(1595.1 699.5) scale(1.02 1)" font-size="21" text-anchor="middle">20</text>
<text transform="translate(1231.5 550) rotate(-90) scale(1.06 1)" font-size="23" text-anchor="middle">ΔF/F (%)</text>
<text transform="translate(1465.9 720.2) scale(1.06 1)" font-size="23" text-anchor="middle">Speed (rpm)</text>
<text transform="translate(1488 437.9) scale(1.06 1)" font-size="19.5">r = 0.084</text>
<text transform="translate(1488 463.2) scale(1.06 1)" font-size="19.5">P = 0.31</text>
<path d="M1298 430L1332.5 430" stroke="#37ab4b" stroke-width="3.4"/>
<text transform="translate(1336 437.5) scale(1.02 1)" font-size="21">PF</text>
<text transform="translate(1361.4 445.2)" font-size="17.3">CPu</text>
<path d="M1298 457.8L1332.5 457.8" stroke="#e8202a" stroke-width="3.4"/>
<text transform="translate(1336 465.5) scale(1.02 1)" font-size="21">PF</text>
<text transform="translate(1361.4 473.2)" font-size="17.3">STN</text>
<path d="M1298 488.6L1332.5 488.6" stroke="#1b75bb" stroke-width="3.4"/>
<text transform="translate(1336 496) scale(1.02 1)" font-size="21">PF</text>
<text transform="translate(1361.4 503.7)" font-size="17.3">NAc</text>
<text transform="translate(0 767.6) scale(1.04 1)" font-size="39" font-weight="bold">d</text>
<text transform="translate(48.2 767.6) scale(1.04 1)" font-size="23.5" font-weight="bold">Tail suspension (onset)</text>
<rect x="38.2" y="780.1" width="15" height="12.3" fill="#37ab4b"/>
<text transform="translate(56.5 792.4) scale(0.92 1)" font-size="21">PF</text>
<text transform="translate(78.9 802.6) scale(1.08 1)" font-size="16.2">CPu</text>
<rect x="122.1" y="780.1" width="14.8" height="12.3" fill="#e8202a"/>
<text transform="translate(139.6 792.4) scale(0.92 1)" font-size="21">PF</text>
<text transform="translate(162 802.6) scale(1.08 1)" font-size="16.2">STN</text>
<rect x="205.6" y="780.1" width="15.1" height="12.3" fill="#1b75bb"/>
<text transform="translate(223.5 792.4) scale(0.92 1)" font-size="21">PF</text>
<text transform="translate(245.9 802.6) scale(1.08 1)" font-size="16.2">NAc</text>
<rect x="99.8" y="1022.7" width="32.8" height="30.5" fill="#37ab4b"/>
<rect x="163.5" y="1043.2" width="32.1" height="10" fill="#e8202a"/>
<rect x="226.5" y="951.7" width="32" height="101.5" fill="#1b75bb"/>
<path d="M84.6 820.1V1072.8H269.3M84.6 820.8h-7.3M84.6 898.3h-7.3M84.6 975.7h-7.3M84.6 1053.2h-7.3" stroke="#231f20" stroke-width="1.7"/>
<text transform="translate(76.3 828.3) scale(1.02 1)" font-size="21" text-anchor="end">12</text>
<text transform="translate(76.3 905.8) scale(1.02 1)" font-size="21" text-anchor="end">8</text>
<text transform="translate(76.3 983.2) scale(1.02 1)" font-size="21" text-anchor="end">4</text>
<text transform="translate(76.3 1060.7) scale(1.02 1)" font-size="21" text-anchor="end">0</text>
<text transform="translate(57 948) rotate(-90) scale(1.06 1)" font-size="23" text-anchor="middle">AUC per sec</text>
<path d="M116.5 1007.7L116.5 1037.9" stroke="#231f20" stroke-width="3.2"/>
<path d="M179.5 1036.9L179.5 1050.5" stroke="#231f20" stroke-width="3.2"/>
<path d="M242.8 928.3L242.8 975.3" stroke="#231f20" stroke-width="3.2"/>
<circle cx="112.3" cy="977" r="3.8" fill="#fff" stroke="#231f20" stroke-width="1.15"/>
<circle cx="123.6" cy="1015.6" r="3.8" fill="#fff" stroke="#231f20" stroke-width="1.15"/>
<circle cx="108.6" cy="1024.6" r="3.8" fill="#fff" stroke="#231f20" stroke-width="1.15"/>
<circle cx="108.6" cy="1037.5" r="3.8" fill="#fff" stroke="#231f20" stroke-width="1.15"/>
<circle cx="112.1" cy="1060.5" r="3.8" fill="#fff" stroke="#231f20" stroke-width="1.15"/>
<circle cx="175.4" cy="1025" r="3.8" fill="#fff" stroke="#231f20" stroke-width="1.15"/>
<circle cx="167.6" cy="1043.8" r="3.8" fill="#fff" stroke="#231f20" stroke-width="1.15"/>
<circle cx="171.6" cy="1046.9" r="3.8" fill="#fff" stroke="#231f20" stroke-width="1.15"/>
<circle cx="186.4" cy="1043.2" r="3.8" fill="#fff" stroke="#231f20" stroke-width="1.15"/>
<circle cx="175.4" cy="1060.9" r="3.8" fill="#fff" stroke="#231f20" stroke-width="1.15"/>
<circle cx="238.6" cy="867.8" r="3.8" fill="#fff" stroke="#231f20" stroke-width="1.15"/>
<circle cx="235.1" cy="947.7" r="3.8" fill="#fff" stroke="#231f20" stroke-width="1.15"/>
<circle cx="238.6" cy="973.2" r="3.8" fill="#fff" stroke="#231f20" stroke-width="1.15"/>
<circle cx="238.6" cy="986.8" r="3.8" fill="#fff" stroke="#231f20" stroke-width="1.15"/>
<circle cx="249.9" cy="984.7" r="3.8" fill="#fff" stroke="#231f20" stroke-width="1.15"/>
<path d="M114.4 837.5V829.8H243.8V837.5" stroke="#231f20" stroke-width="3.1"/>
<path d="M178.5 861.1V853.6H241.8V861.1" stroke="#231f20" stroke-width="3.1"/>
<text transform="translate(177 833)" font-size="32" text-anchor="middle" font-weight="bold">*</text>
<text transform="translate(211.5 856.5)" font-size="32" text-anchor="middle" font-weight="bold" letter-spacing="1.5">**</text>
<text transform="translate(368.5 767.6) scale(1.04 1)" font-size="39" font-weight="bold">e</text>
<text transform="translate(410.3 767.4) scale(1.04 1)" font-size="23.5" font-weight="bold">Tail suspension (onset)</text>
<path d="M438.9 994.7 441 994.7 443 996.2 445 997 447 998.6 449 999.7 451 998 453 999 455 997.9 457 994.3 459 994.8 461 995.5 463 994.7 465.1 996.6 467.1 995.4 469.1 993.6 471.1 993.3 473.1 994 475.1 993.7 477.1 993.7 479.1 994.3 481.1 994.1 483.1 989.9 485.1 992.4 487.1 993.9 489.1 992.4 491.2 993.1 493.2 992.9 495.2 989.6 497.2 988.1 499.2 988.6 501.2 986.5 503.2 985.9 505.2 984.1 507.2 977.6 509.2 976.7 511.2 977.9 513.2 977.7 515.2 975.3 517.3 976.9 519.3 974.8 521.3 972.1 523.3 970.4 525.3 967.9 527.3 963.4 529.3 960.7 531.3 949.1 533.3 950.9 535.3 950.2 537.3 949.5 539.3 948.4 541.4 948.2 543.4 947.6 545.4 947.3 547.4 948 549.4 946.7 551.4 944.5 553.4 945.4 555.4 948 557.4 950.4 559.4 950.4 561.4 951.7 563.4 952.6 565.4 947.8 567.5 948.4 569.5 958.3 571.5 952.9 573.5 947.2 575.5 949.3 577.5 952.6 579.5 948.5 581.5 952.1 583.5 952.6 585.5 950.8 587.5 953.1 589.5 955.6 591.5 952.2 593.6 958.1 595.6 958.2 597.6 955.1 599.6 954.7 601.6 954.2 603.6 955.5 605.6 955.1 607.6 953 609.6 951.8 611.6 951.9 613.6 952.4 615.6 950.1 617.6 949 619.7 948.4 621.7 949.7 623.7 951.1 625.7 950.6 627.7 949.7 629.7 948.8 631.7 947.1 633.7 948.9 635.7 953.4 637.7 950.6 639.7 949.2 641.7 948.2 643.8 950.5 645.8 951.7 647.8 951.8 649.8 953.9 651.8 956.7 653.8 955.8 655.8 957 657.8 956.6 659.8 958.5 661.8 956.8 663.8 955 665.8 956.6 667.8 957.2 669.9 955.2 671.9 956.2 673.9 959.8 675.9 959.2 677.9 955.8 679.9 957.5 681.9 960.1 683.9 958.2 685.9 956.5 687.9 962 689.9 959.7 691.9 961.5 693.9 961.9 696 961.8 698 957.6 700 958.5 702 958.9 704 960 706 960 708 963.5 710 962.8 712 962.1 714 960.8 716 957.7 718 959.2 720 956.8 722.1 956.2 724.1 958.7 726.1 955.4 728.1 960.1 730.1 958.6 732.1 960.2 734.1 959.6 736.1 957.5 738.1 954.6 740.1 955.3 742.1 955.9 744.1 956.3 746.2 958.7 748.2 959.2 750.2 960.8 752.2 962.5 754.2 963.3 756.2 963.5 758.2 960.8 760.2 960.7 762.2 968.8 764.2 965.7 766.2 963.6 768.2 965.1 770.2 962.7 772.3 960.1 774.3 958 776.3 956.6 778.3 959.4 780.3 960.1 782.3 959.2 784.3 962.1 786.3 964 788.3 963.5 790.3 963 792.3 963.9 794.3 965 796.3 964.9 798.4 968.3 800.4 968 802.4 968.1 804.4 966.5 806.4 964.4 808.4 959.4 810.4 969.1 812.4 968.5 814.4 966.7L814.4 1004.7 812.4 1004.6 810.4 1003.2 808.4 1004.1 806.4 1002.3 804.4 1002.3 802.4 1001.8 800.4 1002 798.4 1001.5 796.3 1001.3 794.3 1005.3 792.3 1003.5 790.3 1001.2 788.3 1000.6 786.3 1003.9 784.3 1006 782.3 998.6 780.3 1006 778.3 1001.1 776.3 1000.8 774.3 996 772.3 997.5 770.2 1000.3 768.2 1001.9 766.2 1004.9 764.2 1004.3 762.2 1003.1 760.2 1002.2 758.2 1001.2 756.2 1001.5 754.2 999.6 752.2 1000.5 750.2 1000.5 748.2 997.6 746.2 995.2 744.1 994.8 742.1 994 740.1 1000.6 738.1 999.1 736.1 1000.7 734.1 1004.1 732.1 1005 730.1 1001.4 728.1 1004.2 726.1 1005.5 724.1 996.2 722.1 996.8 720 997.6 718 1004.3 716 1004 714 1007.2 712 1005.8 710 1003.8 708 1001.7 706 1002.1 704 1001.1 702 1002.4 700 1005.4 698 1001.7 696 1008.2 693.9 999.9 691.9 1004.1 689.9 1003 687.9 1004.5 685.9 1004.8 683.9 1004.6 681.9 1003.4 679.9 1001.7 677.9 998.1 675.9 997.8 673.9 1001.2 671.9 1001 669.9 1003.3 667.8 1001.5 665.8 1003.2 663.8 998.1 661.8 998.5 659.8 997.4 657.8 996.6 655.8 995.7 653.8 996.4 651.8 994.8 649.8 993.6 647.8 993.7 645.8 996.9 643.8 991 641.7 988.9 639.7 989.3 637.7 989.7 635.7 993.2 633.7 992.6 631.7 994.1 629.7 993 627.7 989.8 625.7 989.2 623.7 988.7 621.7 993.6 619.7 990 617.6 991.3 615.6 990.7 613.6 994.8 611.6 993.1 609.6 990.8 607.6 998.4 605.6 996.5 603.6 992.9 601.6 994.2 599.6 989.9 597.6 992.4 595.6 989.3 593.6 990 591.5 990 589.5 990.4 587.5 988.3 585.5 990 583.5 991.6 581.5 993.3 579.5 986.9 577.5 985.5 575.5 986.3 573.5 984.6 571.5 989.6 569.5 991.3 567.5 988.5 565.4 985.3 563.4 984.9 561.4 985.5 559.4 987.6 557.4 989.1 555.4 987.1 553.4 985.5 551.4 987.1 549.4 987.7 547.4 990.7 545.4 986.1 543.4 986.4 541.4 983.5 539.3 986 537.3 986.1 535.3 988.8 533.3 992.4 531.3 995.9 529.3 997.7 527.3 1000.8 525.3 1004.6 523.3 1007 521.3 1003.9 519.3 1005.3 517.3 1007.5 515.2 1006.9 513.2 1005.5 511.2 1006.3 509.2 1007.5 507.2 1005.6 505.2 1005.6 503.2 1009.6 501.2 1008.8 499.2 1008.5 497.2 1010.1 495.2 1011.2 493.2 1013.3 491.2 1015.7 489.1 1011.6 487.1 1013.7 485.1 1012.1 483.1 1011.9 481.1 1012.6 479.1 1011.9 477.1 1013.3 475.1 1011.8 473.1 1013.9 471.1 1013.3 469.1 1014.2 467.1 1016.6 465.1 1014.5 463 1013.7 461 1015.5 459 1016.4 457 1018.3 455 1018.3 453 1019.5 451 1018.5 449 1021.7 447 1019.3 445 1017 443 1016.3 441 1014.8 438.9 1013.3Z" class="s" style="fill:#37ab4b"/>
<path d="M438.9 991.2 441 993.8 443 993.5 445 995.8 447 995.4 449 994.7 451 995.4 453 995.4 455 994.6 457 992.7 459 995 461 991.9 463 990.7 465.1 993.8 467.1 993.5 469.1 993.5 471.1 992.6 473.1 993.1 475.1 994.3 477.1 994.6 479.1 993.8 481.1 994.1 483.1 994 485.1 993.1 487.1 994 489.1 994.4 491.2 995.9 493.2 995.4 495.2 993 497.2 993.3 499.2 989.6 501.2 987.1 503.2 989.2 505.2 991 507.2 988.3 509.2 986.2 511.2 987.5 513.2 990.9 515.2 991.7 517.3 992.4 519.3 993.5 521.3 994.5 523.3 994.9 525.3 995.3 527.3 993.5 529.3 991.7 531.3 991.5 533.3 987.5 535.3 986.5 537.3 986.4 539.3 984.1 541.4 982.7 543.4 984.1 545.4 982.9 547.4 985.3 549.4 985.7 551.4 985.9 553.4 985.7 555.4 986.9 557.4 987.5 559.4 985.4 561.4 986.5 563.4 986.8 565.4 990.3 567.5 989.2 569.5 992.9 571.5 991 573.5 988.1 575.5 989.7 577.5 989.6 579.5 988.3 581.5 987.2 583.5 987 585.5 988.3 587.5 986.3 589.5 986.4 591.5 989 593.6 990.8 595.6 992.5 597.6 992.6 599.6 994.2 601.6 995.1 603.6 992.9 605.6 993.6 607.6 990.1 609.6 991.1 611.6 991.1 613.6 990.7 615.6 989.1 617.6 987.8 619.7 987 621.7 991.8 623.7 991.7 625.7 992.8 627.7 989.8 629.7 990.2 631.7 992.6 633.7 992 635.7 990.3 637.7 986.3 639.7 983.7 641.7 983.5 643.8 981.9 645.8 984.6 647.8 985 649.8 984.7 651.8 985.6 653.8 987.8 655.8 988.3 657.8 990.1 659.8 989 661.8 988.7 663.8 991 665.8 988.6 667.8 990.8 669.9 988.8 671.9 989.7 673.9 992.4 675.9 994.2 677.9 993.3 679.9 996.8 681.9 996.6 683.9 995.1 685.9 996.7 687.9 995.7 689.9 996 691.9 994.3 693.9 994.5 696 995.5 698 995.2 700 993.5 702 992.8 704 989.2 706 992.8 708 991 710 990 712 989.6 714 990 716 987.9 718 987.7 720 989.9 722.1 990.9 724.1 991.7 726.1 989.4 728.1 990.9 730.1 989.8 732.1 989.3 734.1 994.5 736.1 992.7 738.1 994.5 740.1 993.7 742.1 990.4 744.1 992 746.2 991.6 748.2 989.2 750.2 988 752.2 988.7 754.2 992.1 756.2 992.2 758.2 992 760.2 994.2 762.2 994.1 764.2 993.1 766.2 991.1 768.2 985.8 770.2 990 772.3 987.7 774.3 987.6 776.3 990.2 778.3 989.7 780.3 991 782.3 991.2 784.3 991.9 786.3 992.3 788.3 990.1 790.3 992.7 792.3 989.9 794.3 989.7 796.3 991.7 798.4 990.7 800.4 992.8 802.4 991.5 804.4 993.4 806.4 993.6 808.4 994.2 810.4 994.7 812.4 996.4 814.4 998.7L814.4 1014.8 812.4 1017.1 810.4 1012 808.4 1014.4 806.4 1011.9 804.4 1012.9 802.4 1013.9 800.4 1012.7 798.4 1014 796.3 1010.7 794.3 1008.6 792.3 1009.9 790.3 1011.9 788.3 1009.7 786.3 1009.4 784.3 1010.9 782.3 1011.7 780.3 1014.7 778.3 1010.9 776.3 1007.5 774.3 1006.3 772.3 1006.5 770.2 1007.3 768.2 1013.3 766.2 1016.9 764.2 1013.6 762.2 1015.3 760.2 1011.1 758.2 1010.8 756.2 1010 754.2 1010.7 752.2 1006.7 750.2 1006 748.2 1006.6 746.2 1007.3 744.1 1008.6 742.1 1006.6 740.1 1007.5 738.1 1008.6 736.1 1008.7 734.1 1010.1 732.1 1008.3 730.1 1009 728.1 1009.7 726.1 1007.3 724.1 1007 722.1 1007.3 720 1004.8 718 1006.3 716 1008 714 1006.7 712 1007 710 1007.3 708 1007.1 706 1009.5 704 1010.4 702 1008.3 700 1012.2 698 1009.7 696 1014 693.9 1017 691.9 1014.1 689.9 1012.1 687.9 1012.6 685.9 1013.9 683.9 1012.7 681.9 1014.9 679.9 1012.9 677.9 1012.3 675.9 1012.4 673.9 1013 671.9 1009.2 669.9 1011.9 667.8 1008.2 665.8 1011.2 663.8 1010 661.8 1011.4 659.8 1014.4 657.8 1013.1 655.8 1006.4 653.8 1005.9 651.8 1006.7 649.8 1003.8 647.8 1003.3 645.8 1005.7 643.8 1006.5 641.7 1005.7 639.7 1005.1 637.7 1009.8 635.7 1010.9 633.7 1010.3 631.7 1011.1 629.7 1011.3 627.7 1009.9 625.7 1007.4 623.7 1010.9 621.7 1008.3 619.7 1007.2 617.6 1005 615.6 1006.4 613.6 1006.8 611.6 1009.1 609.6 1009.1 607.6 1011.1 605.6 1011.7 603.6 1010.5 601.6 1010.8 599.6 1011.5 597.6 1010.8 595.6 1009.3 593.6 1009.8 591.5 1008.6 589.5 1007 587.5 1004.8 585.5 1003.8 583.5 1002.5 581.5 1005.4 579.5 1006.2 577.5 1009.3 575.5 1007.7 573.5 1006.4 571.5 1006.2 569.5 1008.1 567.5 1007.9 565.4 1008.4 563.4 1007 561.4 1004.6 559.4 1004.2 557.4 1004.9 555.4 1003.1 553.4 1003.2 551.4 1003.7 549.4 1001.4 547.4 998.9 545.4 1000.9 543.4 999.9 541.4 1002.5 539.3 1001.3 537.3 1003.1 535.3 1004.8 533.3 1008.2 531.3 1009.2 529.3 1009.2 527.3 1012.4 525.3 1013.3 523.3 1014.8 521.3 1014.5 519.3 1011 517.3 1011.2 515.2 1008.3 513.2 1007.7 511.2 1006.9 509.2 1006.2 507.2 1005.6 505.2 1006.5 503.2 1008.1 501.2 1009.1 499.2 1010.8 497.2 1011.5 495.2 1015.5 493.2 1013.6 491.2 1013.8 489.1 1010.9 487.1 1010.8 485.1 1011.8 483.1 1011.1 481.1 1011.8 479.1 1010.8 477.1 1010.2 475.1 1011.5 473.1 1010.8 471.1 1010 469.1 1010.8 467.1 1009.9 465.1 1009.4 463 1010.3 461 1009 459 1010.8 457 1011.7 455 1010.5 453 1010.4 451 1010.9 449 1011 447 1009.7 445 1010.5 443 1011.4 441 1010.7 438.9 1009.6Z" class="k" style="fill:#231f20"/>
<path d="M438.9 1001.9 440.5 1001.9 442 1003.1 443.5 1002.7 445 1003.4 446.5 1005.4 448 1007.3 449.5 1007.2 451 1007.6 452.5 1007.1 454 1007.9 455.5 1006.4 457 1006.6 458.5 1006.5 460 1007.7 461.5 1005.6 463 1003.6 464.5 1004.8 466 1001.5 467.5 1002.2 469 1001.8 470.5 1002.8 472 1004.5 473.5 1001.1 475 1002.6 476.5 1001.5 478 1000.1 479.5 1002.7 481 1001 482.5 1001.6 484 1001.2 485.5 1001.1 487 1003 488.5 1002.9 490 1001.3 491.5 1002 493 1003.5 494.5 1002.4 496 1001.6 497.5 1000.5 499 999.3 500.5 997.6 502 995.5 503.5 994.6 505 996.3 506.5 994.4 508 992.3 509.5 992.3 511 990 512.5 990.9 514 989 515.5 990.5 517 989.7 518.5 987.9 520.1 990.1 521.6 989.8 523.1 986.4 524.6 987.2 526.1 984.3 527.6 983.6 529.1 980.7 530.6 978.4 532.1 974.8 533.6 973.6 535.1 972.5 536.6 971.6 538.1 970.4 539.6 969.4 541.1 969.2 542.6 968.9 544.1 967.9 545.6 969 547.1 968.3 548.6 969 550.1 968.2 551.6 969.9 553.1 970.1 554.6 972.1 556.1 971.3 557.6 970 559.1 967.4 560.6 968.8 562.1 970.6 563.6 970.8 565.1 970.6 566.6 973.5 568.1 974.6 569.6 975.4 571.1 974.8 572.6 970.1 574.1 969.4 575.6 969.9 577.1 968.6 578.6 970.2 580.1 974.6 581.6 972.3 583.1 972.3 584.6 972.8 586.1 974.5 587.6 974.2 589.1 974.6 590.6 976.7 592.1 975.2 593.6 976.8 595.1 977.2 596.6 976.6 598.1 977.8 599.7 978.5 601.2 978.5 602.7 977.1 604.2 975.7 605.7 975.3 607.2 974.2 608.7 973.6 610.2 975.4 611.7 975.2 613.2 974.1 614.7 972.5 616.2 972.8 617.7 975 619.2 973.8 620.7 971.9 622.2 974.3 623.7 972.4 625.2 971.6 626.7 971 628.2 969.7 629.7 970.4 631.2 970.6 632.7 971.6 634.2 973.9 635.7 972.5 637.2 973 638.7 972.8 640.2 973.7 641.7 971.9 643.2 969.7 644.7 971.3 646.2 969.3 647.7 969.9 649.2 969.7 650.7 971.1 652.2 974.2 653.7 974.2 655.2 974.3 656.7 974.7 658.2 975.1 659.7 977.2 661.2 974.9 662.7 975.9 664.2 974.8 665.7 976.6 667.2 978.3 668.7 976.3 670.2 979.9 671.7 978.6 673.2 980.1 674.7 980.1 676.2 979.1 677.7 980.4 679.2 980.1 680.8 978.9 682.3 978.1 683.8 975.4 685.3 977.8 686.8 978.7 688.3 979.4 689.8 977.9 691.3 979.3 692.8 979.5 694.3 979.8 695.8 978.4 697.3 981.1 698.8 982.2 700.3 981.1 701.8 981 703.3 982.1 704.8 982.5 706.3 981.8 707.8 983.3 709.3 986.1 710.8 987.5 712.3 987.2 713.8 984.6 715.3 986.2 716.8 982.2 718.3 981.1 719.8 980.2 721.3 977.4 722.8 978.2 724.3 980.8 725.8 982.3 727.3 983.7 728.8 983.4 730.3 983 731.8 982.8 733.3 984.3 734.8 983.8 736.3 981.8 737.8 981.8 739.3 981.1 740.8 979.3 742.3 980.1 743.8 980.2 745.3 981 746.8 980.5 748.3 982.2 749.8 982.7 751.3 983.3 752.8 983.2 754.3 982.3 755.8 983.3 757.3 983 758.8 983.2 760.4 983.7 761.9 985 763.4 986.3 764.9 987.3 766.4 986.2 767.9 983.4 769.4 982.8 770.9 980.4 772.4 978.8 773.9 979.6 775.4 979.9 776.9 980.5 778.4 980.4 779.9 979.7 781.4 981.4 782.9 980.2 784.4 981.1 785.9 981.2 787.4 981.2 788.9 982.8 790.4 983.7 791.9 985.8 793.4 986.1 794.9 986.3 796.4 986.8 797.9 986.5 799.4 986 800.9 986.2 802.4 988 803.9 988.1 805.4 986.9 806.9 988 808.4 988.6 809.9 988.6 811.4 988.5 812.9 990.5 814.4 989.8" stroke="#37ab4b" stroke-width="3.0" stroke-linejoin="round"/>
<path d="M438.9 999.9 440.5 1001.8 442 1002.8 443.5 1005 445 1002.6 446.5 1003 448 1003.4 449.5 1005.4 451 1005.1 452.5 1005.1 454 1003.8 455.5 1001.5 457 1002.2 458.5 1002.8 460 1002.6 461.5 1002.8 463 1001.8 464.5 1002.2 466 999.9 467.5 1000.1 469 1000.4 470.5 1000.3 472 1000.1 473.5 1001.1 475 1001.9 476.5 1003.8 478 1002.6 479.5 1003.5 481 1003.3 482.5 1002.8 484 1002.7 485.5 1002.7 487 1004 488.5 1003.7 490 1002.7 491.5 1002.4 493 1002.6 494.5 1004.6 496 1003.5 497.5 1004.1 499 1002.9 500.5 1002.2 502 999.8 503.5 1001 505 999.4 506.5 1000.3 508 997.9 509.5 995.4 511 996.8 512.5 995.5 514 997.7 515.5 999.2 517 999.9 518.5 1000.1 520.1 1001.2 521.6 1002.9 523.1 1003.2 524.6 1001.9 526.1 1000 527.6 1000.7 529.1 1002.1 530.6 999.4 532.1 996.9 533.6 996.3 535.1 995.4 536.6 997.9 538.1 995.3 539.6 996.2 541.1 996.8 542.6 995 544.1 996.3 545.6 993.4 547.1 993.5 548.6 994.7 550.1 994.4 551.6 994.2 553.1 993.1 554.6 996.1 556.1 997.6 557.6 996.1 559.1 997.6 560.6 998.6 562.1 999.6 563.6 999.2 565.1 999.8 566.6 999.4 568.1 999.2 569.6 998.7 571.1 998.7 572.6 995.8 574.1 996.2 575.6 997.8 577.1 997.3 578.6 997.3 580.1 995.4 581.6 995.6 583.1 995.5 584.6 995 586.1 994.5 587.6 993.5 589.1 993.8 590.6 996.9 592.1 998.9 593.6 999.1 595.1 1000.3 596.6 1001.1 598.1 999.9 599.7 999.5 601.2 1000.4 602.7 1002.1 604.2 1001.7 605.7 1000.4 607.2 999.3 608.7 998.5 610.2 998.6 611.7 996.2 613.2 997.1 614.7 997.6 616.2 998.4 617.7 999.3 619.2 999.8 620.7 999.1 622.2 1000.5 623.7 1000.6 625.2 1000.4 626.7 1002.9 628.2 1000.9 629.7 1002.8 631.2 1003.4 632.7 1002.6 634.2 1000 635.7 999.3 637.2 997.8 638.7 997.5 640.2 994.9 641.7 995.6 643.2 995.7 644.7 994.3 646.2 991.6 647.7 992.4 649.2 994 650.7 995.5 652.2 996.6 653.7 996.8 655.2 998.8 656.7 1001.4 658.2 1000.6 659.7 1000.6 661.2 1001.7 662.7 1000.5 664.2 1000.5 665.7 1000.1 667.2 999.7 668.7 999.4 670.2 998.8 671.7 998.2 673.2 1003.6 674.7 1001.5 676.2 1000.2 677.7 1002.1 679.2 1003.6 680.8 1003.9 682.3 1002.9 683.8 1001.5 685.3 1002.6 686.8 1002.4 688.3 1000.3 689.8 999.5 691.3 1000.2 692.8 1000.1 694.3 999.6 695.8 1001.3 697.3 1001.2 698.8 998.6 700.3 1000.4 701.8 998.7 703.3 998.7 704.8 999.6 706.3 1000.2 707.8 1000.5 709.3 1001.9 710.8 999.8 712.3 999.7 713.8 999.4 715.3 998.9 716.8 997.1 718.3 997.4 719.8 997.8 721.3 999.7 722.8 997.9 724.3 1001 725.8 1001.3 727.3 1003.9 728.8 1003.3 730.3 1003.3 731.8 1004.6 733.3 1005 734.8 1004 736.3 1004.4 737.8 1004.7 739.3 1004.4 740.8 1001.5 742.3 1000.8 743.8 999 745.3 998.1 746.8 998.5 748.3 999.2 749.8 997.4 751.3 999.5 752.8 998 754.3 999.5 755.8 1000.9 757.3 1002.1 758.8 1002.7 760.4 1001.3 761.9 1003.3 763.4 1001.2 764.9 1000.4 766.4 1000.5 767.9 1001.1 769.4 999.6 770.9 997.7 772.4 997.2 773.9 995.6 775.4 996.1 776.9 995.5 778.4 996.7 779.9 997.4 781.4 1000.8 782.9 1000.2 784.4 1002.1 785.9 1002.3 787.4 1000.1 788.9 998.5 790.4 1000.7 791.9 1000.5 793.4 999.3 794.9 1001.2 796.4 999.8 797.9 1001.8 799.4 1000.8 800.9 1001.5 802.4 1004.1 803.9 1003.5 805.4 1005.1 806.9 1003.2 808.4 1003.6 809.9 1003.2 811.4 1005.6 812.9 1005 814.4 1005.2" stroke="#231f20" stroke-width="3.0" stroke-linejoin="round"/>
<path d="M513.3 787.1V1037" stroke="#231f20" stroke-width="1.6" stroke-dasharray="5.4 4.2"/>
<path d="M440.2 787.1V1037H844.6M440.2 808.8h-8.3M440.2 841.4h-8.3M440.2 874h-8.3M440.2 906.6h-8.3M440.2 939.3h-8.3M440.2 971.9h-8.3M440.2 1004.5h-8.3M440.2 1037.1h-8.3M438.9 1037v7M513.3 1037v7M587.6 1037v7M662 1037v7M736.4 1037v7M810.7 1037v7" stroke="#231f20" stroke-width="1.7"/>
<text transform="translate(427.9 816.3) scale(1.02 1)" font-size="21" text-anchor="end">12</text>
<text transform="translate(427.9 848.9) scale(1.02 1)" font-size="21" text-anchor="end">10</text>
<text transform="translate(427.9 881.6) scale(1.02 1)" font-size="21" text-anchor="end">8</text>
<text transform="translate(427.9 914.2) scale(1.02 1)" font-size="21" text-anchor="end">6</text>
<text transform="translate(427.9 946.8) scale(1.02 1)" font-size="21" text-anchor="end">4</text>
<text transform="translate(427.9 979.4) scale(1.02 1)" font-size="21" text-anchor="end">2</text>
<text transform="translate(427.9 1012) scale(1.02 1)" font-size="21" text-anchor="end">0</text>
<text transform="translate(427.9 1044.6) scale(1.02 1)" font-size="21" text-anchor="end">-2</text>
<text transform="translate(436.9 1062) scale(1.02 1)" font-size="21" text-anchor="middle">-2</text>
<text transform="translate(513.3 1062) scale(1.02 1)" font-size="21" text-anchor="middle">0</text>
<text transform="translate(587.6 1062) scale(1.02 1)" font-size="21" text-anchor="middle">2</text>
<text transform="translate(662 1062) scale(1.02 1)" font-size="21" text-anchor="middle">4</text>
<text transform="translate(736.4 1062) scale(1.02 1)" font-size="21" text-anchor="middle">6</text>
<text transform="translate(810.7 1062) scale(1.02 1)" font-size="21" text-anchor="middle">8</text>
<text transform="translate(400.7 912) rotate(-90) scale(1.06 1)" font-size="23" text-anchor="middle">ΔF/F (%)</text>
<text transform="translate(642.4 1083.3) scale(1.06 1)" font-size="23" text-anchor="middle">Onset of struggling (s)</text>
<path d="M656.3 800.9L691.5 800.9" stroke="#231f20" stroke-width="3.4"/>
<text transform="translate(695 810) scale(1.06 1)" font-size="20">405 nm</text>
<path d="M656.3 824.8L691.5 824.8" stroke="#37ab4b" stroke-width="3.4"/>
<text transform="translate(695 833.4) scale(1.06 1)" font-size="20">470 nm</text>
<path d="M916.4 999 918.5 999.3 920.5 998.3 922.5 998.1 924.5 996.9 926.5 997.5 928.5 999.2 930.5 997.4 932.5 998.2 934.5 1000.8 936.5 998.4 938.5 1000.4 940.5 1000.1 942.6 999.8 944.6 999.3 946.6 997.1 948.6 996.7 950.6 994.5 952.6 997.4 954.6 997.9 956.6 998.1 958.6 995.5 960.6 997.8 962.6 998.6 964.6 1000.8 966.6 1000.9 968.7 1000.4 970.7 1002.5 972.7 1002.1 974.7 1002.9 976.7 1002.2 978.7 1002.3 980.7 1001.2 982.7 1002.1 984.7 1001.4 986.7 1002.9 988.7 1000.9 990.7 1001.3 992.7 997.5 994.8 991.1 996.8 988.1 998.8 983.3 1000.8 979.4 1002.8 972.8 1004.8 968.3 1006.8 968.2 1008.8 966.2 1010.8 965.3 1012.8 962.4 1014.8 960.2 1016.8 967.4 1018.9 969.1 1020.9 969.8 1022.9 972 1024.9 976.8 1026.9 977.8 1028.9 974.8 1030.9 976.5 1032.9 974.5 1034.9 975.9 1036.9 977.2 1038.9 977.5 1040.9 975.4 1042.9 976.2 1045 972.6 1047 970.8 1049 964.5 1051 964.7 1053 969.3 1055 967.6 1057 967.2 1059 969.5 1061 970.2 1063 973.6 1065 971 1067 970.1 1069 972.8 1071.1 971.6 1073.1 973.7 1075.1 969.7 1077.1 969.7 1079.1 965.9 1081.1 964.1 1083.1 966.2 1085.1 964.8 1087.1 966.6 1089.1 967.1 1091.1 971.7 1093.1 967.4 1095.1 971.6 1097.2 972 1099.2 970 1101.2 973.7 1103.2 974.8 1105.2 972.3 1107.2 966.9 1109.2 971.6 1111.2 972.1 1113.2 972.8 1115.2 972.8 1117.2 976.8 1119.2 977.7 1121.3 978.7 1123.3 977.3 1125.3 975.4 1127.3 970.7 1129.3 972.9 1131.3 967.5 1133.3 967.9 1135.3 968 1137.3 969.3 1139.3 970.8 1141.3 969.1 1143.3 970.6 1145.3 967.7 1147.4 971.3 1149.4 970.3 1151.4 969.1 1153.4 972.7 1155.4 972.7 1157.4 970.4 1159.4 970.6 1161.4 966.3 1163.4 968 1165.4 965.8 1167.4 968.2 1169.4 969 1171.4 970.2 1173.5 966.4 1175.5 969.9 1177.5 963.7 1179.5 969.4 1181.5 968.9 1183.5 967.7 1185.5 968.6 1187.5 964.2 1189.5 960.5 1191.5 963.6 1193.5 964.1 1195.5 961.2 1197.5 963.7 1199.6 963.4 1201.6 964.7 1203.6 963.9 1205.6 964.6 1207.6 966 1209.6 966.7 1211.6 962.2 1213.6 957.2 1215.6 956.4 1217.6 962 1219.6 963.4 1221.6 967.3 1223.7 967.9 1225.7 963.8 1227.7 965.7 1229.7 964.6 1231.7 964 1233.7 964.9 1235.7 966.6 1237.7 963.4 1239.7 965.3 1241.7 965.7 1243.7 962.1 1245.7 962.6 1247.7 962 1249.8 962.9 1251.8 961.8 1253.8 967.7 1255.8 968.8 1257.8 967.1 1259.8 962.8 1261.8 967.4 1263.8 965.9 1265.8 967.5 1267.8 966.5 1269.8 969.7 1271.8 970 1273.8 968.1 1275.9 970.5 1277.9 972 1279.9 972.1 1281.9 974.2 1283.9 970.4 1285.9 971.6 1287.9 971.4 1289.9 968.4 1291.9 973.2L1291.9 1000.7 1289.9 998.7 1287.9 1002.7 1285.9 1002.2 1283.9 1002.9 1281.9 1005 1279.9 1003.5 1277.9 1007.3 1275.9 1004.4 1273.8 1003.8 1271.8 1001.3 1269.8 1004.9 1267.8 999.6 1265.8 1001.4 1263.8 1000.1 1261.8 1000.3 1259.8 1002.2 1257.8 1000.2 1255.8 998.5 1253.8 997.8 1251.8 997.3 1249.8 990.6 1247.7 990.4 1245.7 993.2 1243.7 995.7 1241.7 995.5 1239.7 996.3 1237.7 1000.7 1235.7 998.8 1233.7 1000 1231.7 1001.7 1229.7 1001.8 1227.7 999.7 1225.7 999.6 1223.7 998.5 1221.6 999.9 1219.6 999.4 1217.6 997.2 1215.6 1000.7 1213.6 999 1211.6 1001.9 1209.6 1001.2 1207.6 1001.2 1205.6 997.3 1203.6 1000 1201.6 999.1 1199.6 999.7 1197.5 997 1195.5 997.1 1193.5 1000.5 1191.5 1001.9 1189.5 1001.6 1187.5 1001 1185.5 1001.2 1183.5 999.4 1181.5 1004.2 1179.5 999.8 1177.5 998.8 1175.5 1005.3 1173.5 1003.4 1171.4 997.7 1169.4 998.5 1167.4 997 1165.4 996.2 1163.4 1000.5 1161.4 998.6 1159.4 1002.6 1157.4 1002.1 1155.4 1001.1 1153.4 997.3 1151.4 998.7 1149.4 1000.7 1147.4 1000.5 1145.3 998.5 1143.3 1002.1 1141.3 1000.4 1139.3 1000.5 1137.3 999.8 1135.3 999.2 1133.3 997.2 1131.3 998.2 1129.3 1000.1 1127.3 1000 1125.3 1002.1 1123.3 1002.1 1121.3 1003.9 1119.2 1005.1 1117.2 1002.5 1115.2 1004.1 1113.2 1000.7 1111.2 1000.3 1109.2 1000.7 1107.2 1000.1 1105.2 1001.9 1103.2 1005.5 1101.2 1005.9 1099.2 1006 1097.2 1003.5 1095.1 1003.9 1093.1 1002.6 1091.1 1002.7 1089.1 1002.3 1087.1 997.5 1085.1 999.2 1083.1 995.9 1081.1 996.1 1079.1 998.4 1077.1 998.2 1075.1 1000.2 1073.1 1002.8 1071.1 1004.9 1069 1007.7 1067 1006.3 1065 1006.7 1063 1004 1061 1002.4 1059 1003.4 1057 1003.2 1055 1003 1053 999.9 1051 995.5 1049 996.9 1047 1001.5 1045 1005.3 1042.9 1005.7 1040.9 1007.1 1038.9 1012.2 1036.9 1008.4 1034.9 1007.3 1032.9 1010.3 1030.9 1008.3 1028.9 1009.9 1026.9 1009.6 1024.9 1007.7 1022.9 1009 1020.9 1007.5 1018.9 1004.8 1016.8 1002.6 1014.8 1000.1 1012.8 997 1010.8 998.8 1008.8 1001.2 1006.8 999.3 1004.8 1000.4 1002.8 1004.8 1000.8 1005.4 998.8 1005.9 996.8 1008.4 994.8 1010.2 992.7 1012.5 990.7 1015.3 988.7 1014.6 986.7 1013.8 984.7 1014.2 982.7 1013.6 980.7 1012.3 978.7 1012 976.7 1014.8 974.7 1013.1 972.7 1011.6 970.7 1014.3 968.7 1013.5 966.6 1012.4 964.6 1013.5 962.6 1013.9 960.6 1011.3 958.6 1011.6 956.6 1010.2 954.6 1011.8 952.6 1012.2 950.6 1010.8 948.6 1011 946.6 1010.7 944.6 1011.7 942.6 1010.8 940.5 1010.8 938.5 1010.5 936.5 1011.5 934.5 1011.1 932.5 1009.4 930.5 1009.4 928.5 1011 926.5 1007.6 924.5 1007 922.5 1009.6 920.5 1010 918.5 1008.2 916.4 1010.1Z" class="s" style="fill:#e8202a"/>
<path d="M916.4 1001.6 918.5 1000.9 920.5 1000.7 922.5 999.5 924.5 1000.4 926.5 1001.2 928.5 1002.3 930.5 999.1 932.5 1001.6 934.5 1000.2 936.5 999.8 938.5 1000.2 940.5 1000.7 942.6 1000.8 944.6 1001.1 946.6 1000.1 948.6 1000.2 950.6 1000.1 952.6 999.7 954.6 998.9 956.6 999.6 958.6 1001.2 960.6 998.9 962.6 1000.3 964.6 1000.1 966.6 1000.8 968.7 1001.1 970.7 1001.6 972.7 1001.1 974.7 1000.7 976.7 999.3 978.7 1001 980.7 1001.8 982.7 1001.3 984.7 1002.5 986.7 1002.1 988.7 1002.5 990.7 1003.9 992.7 1001.4 994.8 995.3 996.8 993.6 998.8 991 1000.8 989.4 1002.8 988.1 1004.8 985.2 1006.8 984.7 1008.8 982.9 1010.8 977.9 1012.8 981.3 1014.8 983.7 1016.8 982.8 1018.9 983.7 1020.9 984.6 1022.9 984.6 1024.9 983.6 1026.9 983.4 1028.9 979.9 1030.9 982.1 1032.9 983.4 1034.9 983 1036.9 985.8 1038.9 986 1040.9 988.5 1042.9 989.2 1045 986.8 1047 983.4 1049 985.1 1051 984 1053 985.4 1055 984.2 1057 984 1059 983.5 1061 983.6 1063 984.5 1065 988 1067 989.2 1069 986.4 1071.1 987.5 1073.1 990.5 1075.1 991.5 1077.1 991.5 1079.1 985.5 1081.1 982.6 1083.1 980.1 1085.1 979.4 1087.1 980.8 1089.1 981.7 1091.1 984.1 1093.1 985.4 1095.1 988.2 1097.2 988.7 1099.2 985.7 1101.2 985.4 1103.2 987.9 1105.2 985 1107.2 985.7 1109.2 985.3 1111.2 986.3 1113.2 988.2 1115.2 989.8 1117.2 990.2 1119.2 987.4 1121.3 985.9 1123.3 990 1125.3 993 1127.3 990.9 1129.3 989.1 1131.3 988.6 1133.3 988.1 1135.3 985.8 1137.3 988.1 1139.3 987.3 1141.3 991.4 1143.3 991.4 1145.3 991.1 1147.4 990 1149.4 987.3 1151.4 987.2 1153.4 987.7 1155.4 986.7 1157.4 986.1 1159.4 986.4 1161.4 984.4 1163.4 989 1165.4 991 1167.4 990.6 1169.4 987 1171.4 988.1 1173.5 984.7 1175.5 985.6 1177.5 984.8 1179.5 989.4 1181.5 990.3 1183.5 989.2 1185.5 988.4 1187.5 990.3 1189.5 989.1 1191.5 989.1 1193.5 988.4 1195.5 985.6 1197.5 987.3 1199.6 983.8 1201.6 986.1 1203.6 987.9 1205.6 990.5 1207.6 990.3 1209.6 989.4 1211.6 988.5 1213.6 986.9 1215.6 988.6 1217.6 988.3 1219.6 987.7 1221.6 984.1 1223.7 986.5 1225.7 986.2 1227.7 989.9 1229.7 990.9 1231.7 988.5 1233.7 989 1235.7 993.2 1237.7 992.7 1239.7 992.2 1241.7 991.9 1243.7 989.5 1245.7 984.7 1247.7 985.7 1249.8 988.3 1251.8 987.7 1253.8 985.5 1255.8 987.2 1257.8 986.3 1259.8 988.4 1261.8 987.4 1263.8 987.1 1265.8 989.1 1267.8 986.6 1269.8 988.2 1271.8 987.9 1273.8 990.3 1275.9 990.8 1277.9 989 1279.9 993.2 1281.9 990.6 1283.9 990.1 1285.9 992.8 1287.9 992.5 1289.9 991.4 1291.9 994.2L1291.9 1014.2 1289.9 1016 1287.9 1013.5 1285.9 1014.4 1283.9 1012.8 1281.9 1011.9 1279.9 1011.4 1277.9 1011.2 1275.9 1011.4 1273.8 1010.3 1271.8 1010.6 1269.8 1007.6 1267.8 1008.2 1265.8 1007 1263.8 1006.4 1261.8 1007.6 1259.8 1006.1 1257.8 1008.8 1255.8 1004.9 1253.8 1005.2 1251.8 1006.8 1249.8 1009.3 1247.7 1012.9 1245.7 1011.4 1243.7 1008.6 1241.7 1010.9 1239.7 1011.6 1237.7 1013.2 1235.7 1011.2 1233.7 1011.7 1231.7 1011.2 1229.7 1009.9 1227.7 1010.2 1225.7 1008.4 1223.7 1008.6 1221.6 1007.1 1219.6 1007.6 1217.6 1008.9 1215.6 1007.7 1213.6 1011.2 1211.6 1010.7 1209.6 1009.9 1207.6 1011.7 1205.6 1010.6 1203.6 1011.4 1201.6 1007.1 1199.6 1005.7 1197.5 1005.8 1195.5 1005.5 1193.5 1005.3 1191.5 1006.8 1189.5 1008 1187.5 1008.6 1185.5 1008.4 1183.5 1008.8 1181.5 1010.3 1179.5 1007 1177.5 1004.7 1175.5 1006.1 1173.5 1004.6 1171.4 1008.1 1169.4 1009.7 1167.4 1011.9 1165.4 1009.4 1163.4 1009.4 1161.4 1009.6 1159.4 1005.5 1157.4 1005.3 1155.4 1006.3 1153.4 1006.9 1151.4 1006.4 1149.4 1009.9 1147.4 1012.2 1145.3 1009.4 1143.3 1010.1 1141.3 1009.8 1139.3 1006 1137.3 1004.6 1135.3 1004.1 1133.3 1004.2 1131.3 1005.7 1129.3 1008.7 1127.3 1011.7 1125.3 1011.1 1123.3 1008.4 1121.3 1007.6 1119.2 1008.1 1117.2 1006.9 1115.2 1006.4 1113.2 1009.3 1111.2 1008.4 1109.2 1010.4 1107.2 1004.7 1105.2 1008.5 1103.2 1005.8 1101.2 1008.8 1099.2 1011.6 1097.2 1009.8 1095.1 1006.8 1093.1 1006.4 1091.1 1004.2 1089.1 1002.6 1087.1 1004.8 1085.1 1003.7 1083.1 1001.2 1081.1 1004.3 1079.1 1008.1 1077.1 1009.8 1075.1 1010.6 1073.1 1013 1071.1 1012.3 1069 1009.7 1067 1007.5 1065 1006.6 1063 1007.4 1061 1005.6 1059 1007.1 1057 1003.2 1055 1003.7 1053 1003.7 1051 1003.6 1049 1002.9 1047 1005.6 1045 1006.8 1042.9 1010.5 1040.9 1007.7 1038.9 1005.4 1036.9 1003.9 1034.9 1002.6 1032.9 1001.4 1030.9 1001.1 1028.9 1002 1026.9 1002.9 1024.9 1002.2 1022.9 1003.6 1020.9 1002.3 1018.9 1002.8 1016.8 1007.2 1014.8 1003.3 1012.8 1002 1010.8 999.5 1008.8 1005.5 1006.8 1003.6 1004.8 1002.7 1002.8 1005.7 1000.8 1007.1 998.8 1007.9 996.8 1010.4 994.8 1012.2 992.7 1014.1 990.7 1014.3 988.7 1012.3 986.7 1013 984.7 1012.4 982.7 1011.9 980.7 1010.2 978.7 1010.8 976.7 1009.5 974.7 1010.7 972.7 1010.6 970.7 1010.1 968.7 1009.9 966.6 1008.7 964.6 1009.4 962.6 1008.9 960.6 1009.2 958.6 1008.8 956.6 1009.4 954.6 1008.3 952.6 1009 950.6 1010.5 948.6 1009.6 946.6 1008.6 944.6 1009.6 942.6 1009 940.5 1009.5 938.5 1010.7 936.5 1010.3 934.5 1011 932.5 1009.5 930.5 1008.7 928.5 1008.6 926.5 1009.2 924.5 1008.7 922.5 1009 920.5 1009.4 918.5 1009 916.4 1008.9Z" class="k" style="fill:#231f20"/>
<path d="M916.4 1002.8 918 1004.3 919.5 1005.3 921 1003.4 922.5 1001.8 924 1002.5 925.5 1003.2 927 1003.5 928.5 1003.9 930 1003.8 931.5 1004.5 933 1004.5 934.5 1004.4 936 1004.9 937.5 1004.4 939 1005.3 940.5 1006.1 942 1006.3 943.5 1005.3 945 1007.3 946.5 1006.6 948 1003.9 949.5 1006.5 951 1003.3 952.5 1006.4 954 1006.1 955.5 1006.4 957 1005.6 958.5 1006 960 1006.7 961.5 1006.4 963 1008 964.5 1006.9 966 1006.4 967.5 1007.5 969 1006.2 970.5 1004 972 1008 973.5 1007.6 975 1007.7 976.5 1009.2 978 1008.2 979.5 1008.5 981 1006.1 982.5 1006.5 984 1007.5 985.5 1007.6 987 1008 988.5 1008.5 990 1010.8 991.5 1007.3 993 1005.2 994.5 1003 996 1000.1 997.6 998.3 999.1 996.1 1000.6 993.2 1002.1 988.7 1003.6 988.1 1005.1 984.6 1006.6 984 1008.1 984.1 1009.6 982.1 1011.1 981.9 1012.6 982 1014.1 982.8 1015.6 983.1 1017.1 986.6 1018.6 986.6 1020.1 987.7 1021.6 990.1 1023.1 988.9 1024.6 989.4 1026.1 994.7 1027.6 992.1 1029.1 991.9 1030.6 991.9 1032.1 990.2 1033.6 990.4 1035.1 992.4 1036.6 992.6 1038.1 994.6 1039.6 993.1 1041.1 991.8 1042.6 986.8 1044.1 986.8 1045.6 985.8 1047.1 983.8 1048.6 981.6 1050.1 980 1051.6 981.1 1053.1 981.8 1054.6 982 1056.1 985.4 1057.6 985.9 1059.1 986.2 1060.6 987.8 1062.1 987.1 1063.6 988.7 1065.1 989.2 1066.6 988.7 1068.1 989.2 1069.6 988.2 1071.1 989.2 1072.6 987.5 1074.1 984.5 1075.6 984.2 1077.2 983.2 1078.7 980.4 1080.2 979.6 1081.7 978.9 1083.2 980.1 1084.7 981.5 1086.2 980.6 1087.7 984.6 1089.2 985.9 1090.7 986.9 1092.2 989.4 1093.7 991.3 1095.2 989.5 1096.7 991.5 1098.2 992.2 1099.7 992.2 1101.2 991.4 1102.7 988.9 1104.2 987.5 1105.7 984.9 1107.2 984.5 1108.7 985.6 1110.2 986.7 1111.7 986.3 1113.2 986.2 1114.7 988.7 1116.2 989 1117.7 987.7 1119.2 990 1120.7 988.4 1122.2 989.1 1123.7 988.1 1125.2 986 1126.7 983.2 1128.2 982.2 1129.7 981 1131.2 981.9 1132.7 981.3 1134.2 980.6 1135.7 979.7 1137.2 980.8 1138.7 982.6 1140.2 983.9 1141.7 986.2 1143.2 987.2 1144.7 984.8 1146.2 984.1 1147.7 984 1149.2 983.3 1150.7 981.9 1152.2 982.2 1153.7 982.2 1155.2 982.8 1156.7 982.2 1158.3 981.7 1159.8 982.6 1161.3 982.9 1162.8 984.3 1164.3 982.7 1165.8 983.1 1167.3 983.9 1168.8 985.3 1170.3 984.4 1171.8 985.4 1173.3 984.5 1174.8 985 1176.3 987.2 1177.8 987 1179.3 985.3 1180.8 986.3 1182.3 986.4 1183.8 986.6 1185.3 985.2 1186.8 985.4 1188.3 986 1189.8 983.5 1191.3 983 1192.8 980.7 1194.3 978.6 1195.8 979.1 1197.3 979.4 1198.8 980.2 1200.3 980.6 1201.8 979.7 1203.3 979.3 1204.8 982.3 1206.3 983.9 1207.8 981 1209.3 981 1210.8 982 1212.3 979.2 1213.8 977 1215.3 977.1 1216.8 979.8 1218.3 979.6 1219.8 981.5 1221.3 982.1 1222.8 981.6 1224.3 982.8 1225.8 981.4 1227.3 983 1228.8 984.3 1230.3 983.8 1231.8 983.5 1233.3 984.1 1234.8 984.9 1236.3 986.3 1237.9 982.7 1239.4 982.5 1240.9 982.5 1242.4 980.4 1243.9 977.5 1245.4 979.1 1246.9 979.9 1248.4 977.9 1249.9 977.6 1251.4 977.1 1252.9 979.2 1254.4 983.2 1255.9 982.8 1257.4 983.6 1258.9 982.7 1260.4 982.8 1261.9 983.7 1263.4 982.3 1264.9 983.3 1266.4 982 1267.9 981.9 1269.4 982.4 1270.9 983.1 1272.4 983.3 1273.9 982.3 1275.4 983.1 1276.9 981.3 1278.4 982.4 1279.9 983.8 1281.4 986.2 1282.9 986.8 1284.4 988.3 1285.9 988.2 1287.4 986.2 1288.9 986.7 1290.4 988.8 1291.9 987" stroke="#e8202a" stroke-width="3.0" stroke-linejoin="round"/>
<path d="M916.4 1004.9 918 1004.4 919.5 1005 921 1004.4 922.5 1006.7 924 1006.5 925.5 1005.6 927 1006.3 928.5 1004.9 930 1003.5 931.5 1003 933 1004 934.5 1002.4 936 1002.2 937.5 1005.5 939 1006 940.5 1005.7 942 1004 943.5 1003.3 945 1003.9 946.5 1004.5 948 1003.8 949.5 1006.5 951 1005.6 952.5 1004.7 954 1004.5 955.5 1006.2 957 1003.9 958.5 1003.7 960 1005.5 961.5 1006.1 963 1005.3 964.5 1005.8 966 1003.7 967.5 1004 969 1004.9 970.5 1006.6 972 1007.1 973.5 1005.6 975 1007 976.5 1005.4 978 1004.7 979.5 1003.7 981 1005.7 982.5 1006.8 984 1007.9 985.5 1008.8 987 1009.1 988.5 1010 990 1009.3 991.5 1008.2 993 1006.4 994.5 1005.4 996 1003.4 997.6 1001.9 999.1 1002.2 1000.6 1000.9 1002.1 998.6 1003.6 997.6 1005.1 994.9 1006.6 994.7 1008.1 993.9 1009.6 991.9 1011.1 993.3 1012.6 994.7 1014.1 994.8 1015.6 993.5 1017.1 993.4 1018.6 993.7 1020.1 993.4 1021.6 991 1023.1 992.3 1024.6 990.9 1026.1 990.8 1027.6 991.7 1029.1 994.5 1030.6 993.2 1032.1 993.6 1033.6 991.9 1035.1 991.8 1036.6 991.6 1038.1 993.3 1039.6 995.3 1041.1 995.8 1042.6 993 1044.1 992.6 1045.6 991.5 1047.1 991.1 1048.6 988.3 1050.1 990.3 1051.6 991.1 1053.1 992.2 1054.6 993.4 1056.1 993.5 1057.6 995.1 1059.1 995.3 1060.6 995 1062.1 993.7 1063.6 996.6 1065.1 997.3 1066.6 997.4 1068.1 998.3 1069.6 1000.7 1071.1 1000.8 1072.6 1002.6 1074.1 1003.8 1075.6 1003 1077.2 1001.8 1078.7 999.3 1080.2 996.4 1081.7 993.9 1083.2 992 1084.7 993.1 1086.2 994.3 1087.7 993.1 1089.2 994.7 1090.7 996.5 1092.2 997.4 1093.7 999.6 1095.2 1002.2 1096.7 999.4 1098.2 998.2 1099.7 998.9 1101.2 997.7 1102.7 999.8 1104.2 997.5 1105.7 997.8 1107.2 997.4 1108.7 995.3 1110.2 997 1111.7 998.8 1113.2 1000.1 1114.7 996.7 1116.2 1001 1117.7 998.8 1119.2 1000 1120.7 1000.6 1122.2 1002.5 1123.7 1002.8 1125.2 1003.3 1126.7 1003.7 1128.2 1002 1129.7 1000.1 1131.2 998.4 1132.7 998.2 1134.2 996.4 1135.7 996 1137.2 995.8 1138.7 998.1 1140.2 999.2 1141.7 999.8 1143.2 1000.8 1144.7 999.9 1146.2 998.8 1147.7 997.5 1149.2 996.1 1150.7 997.6 1152.2 996.8 1153.7 994.5 1155.2 996.3 1156.7 996.5 1158.3 997.5 1159.8 999.5 1161.3 999.8 1162.8 997.5 1164.3 999 1165.8 1001.8 1167.3 1002.6 1168.8 1001.1 1170.3 1000.5 1171.8 998 1173.3 998.7 1174.8 998.9 1176.3 996.2 1177.8 996.9 1179.3 996.9 1180.8 998.2 1182.3 998.6 1183.8 1000.1 1185.3 999 1186.8 1001.4 1188.3 1001.5 1189.8 998.6 1191.3 997.8 1192.8 995.6 1194.3 995.7 1195.8 996.3 1197.3 996.4 1198.8 996.4 1200.3 996.5 1201.8 996.7 1203.3 998.9 1204.8 1000.3 1206.3 1001.5 1207.8 1001.4 1209.3 1000.2 1210.8 1000.9 1212.3 999.6 1213.8 998.7 1215.3 995.9 1216.8 996.2 1218.3 998.7 1219.8 994.4 1221.3 996.5 1222.8 997.1 1224.3 997.5 1225.8 1000.1 1227.3 1000.1 1228.8 999.1 1230.3 1000.2 1231.8 1000.7 1233.3 1001 1234.8 1001.2 1236.3 1002.1 1237.9 1001.7 1239.4 1001.1 1240.9 1000.7 1242.4 999.6 1243.9 998.4 1245.4 996.7 1246.9 997.2 1248.4 995.7 1249.9 995 1251.4 995.9 1252.9 995.6 1254.4 995.5 1255.9 997.2 1257.4 998.9 1258.9 997 1260.4 997.1 1261.9 996.1 1263.4 997 1264.9 998 1266.4 997.2 1267.9 998.9 1269.4 998.2 1270.9 999.7 1272.4 998.5 1273.9 1000.1 1275.4 1000.8 1276.9 1000.8 1278.4 999.4 1279.9 1000.7 1281.4 1003.2 1282.9 1002.1 1284.4 1002.1 1285.9 1002 1287.4 1000.8 1288.9 1002.5 1290.4 1003.7 1291.9 1002.9" stroke="#231f20" stroke-width="3.0" stroke-linejoin="round"/>
<path d="M990.8 789.1V1039" stroke="#231f20" stroke-width="1.6" stroke-dasharray="5.4 4.2"/>
<path d="M917.2 789.1V1039H1322.2M917.2 810.7h-8.3M917.2 843.4h-8.3M917.2 876.1h-8.3M917.2 908.9h-8.3M917.2 941.6h-8.3M917.2 974.3h-8.3M917.2 1007h-8.3M917.2 1039.7h-8.3M916.4 1039v7M990.8 1039v7M1065.2 1039v7M1139.5 1039v7M1213.8 1039v7M1288.2 1039v7" stroke="#231f20" stroke-width="1.7"/>
<text transform="translate(904.9 818.2) scale(1.02 1)" font-size="21" text-anchor="end">12</text>
<text transform="translate(904.9 850.9) scale(1.02 1)" font-size="21" text-anchor="end">10</text>
<text transform="translate(904.9 883.7) scale(1.02 1)" font-size="21" text-anchor="end">8</text>
<text transform="translate(904.9 916.4) scale(1.02 1)" font-size="21" text-anchor="end">6</text>
<text transform="translate(904.9 949.1) scale(1.02 1)" font-size="21" text-anchor="end">4</text>
<text transform="translate(904.9 981.8) scale(1.02 1)" font-size="21" text-anchor="end">2</text>
<text transform="translate(904.9 1014.5) scale(1.02 1)" font-size="21" text-anchor="end">0</text>
<text transform="translate(904.9 1047.2) scale(1.02 1)" font-size="21" text-anchor="end">-2</text>
<text transform="translate(914.4 1064) scale(1.02 1)" font-size="21" text-anchor="middle">-2</text>
<text transform="translate(990.8 1064) scale(1.02 1)" font-size="21" text-anchor="middle">0</text>
<text transform="translate(1065.2 1064) scale(1.02 1)" font-size="21" text-anchor="middle">2</text>
<text transform="translate(1139.5 1064) scale(1.02 1)" font-size="21" text-anchor="middle">4</text>
<text transform="translate(1213.8 1064) scale(1.02 1)" font-size="21" text-anchor="middle">6</text>
<text transform="translate(1288.2 1064) scale(1.02 1)" font-size="21" text-anchor="middle">8</text>
<text transform="translate(877.7 914) rotate(-90) scale(1.06 1)" font-size="23" text-anchor="middle">ΔF/F (%)</text>
<text transform="translate(1119.7 1085.3) scale(1.06 1)" font-size="23" text-anchor="middle">Onset of struggling (s)</text>
<path d="M1138.5 800.7L1174 800.7" stroke="#231f20" stroke-width="3.4"/>
<text transform="translate(1177.4 809.3) scale(1.06 1)" font-size="20">405 nm</text>
<path d="M1138.5 822.8L1174 822.8" stroke="#e8202a" stroke-width="3.4"/>
<text transform="translate(1177.4 830.4) scale(1.06 1)" font-size="20">470 nm</text>
<path d="M1392.2 993.7 1394.2 989 1396.2 985.2 1398.2 991 1400.2 990.4 1402.2 990.4 1404.2 990.9 1406.2 992.1 1408.2 992.4 1410.2 994.8 1412.2 992.3 1414.2 990.9 1416.2 988.6 1418.3 990.2 1420.3 987.1 1422.3 990 1424.3 988.4 1426.3 988.3 1428.3 987.6 1430.3 986.4 1432.3 979.5 1434.3 976.8 1436.3 978.6 1438.3 976.2 1440.3 980.3 1442.3 979.7 1444.4 979 1446.4 979.8 1448.4 984.1 1450.4 986 1452.4 987.6 1454.4 986.5 1456.4 987.8 1458.4 993.4 1460.4 993.7 1462.4 995.1 1464.4 990 1466.4 982.6 1468.4 974.6 1470.5 956.6 1472.5 944.7 1474.5 935.4 1476.5 921 1478.5 912.4 1480.5 902.3 1482.5 895.3 1484.5 893 1486.5 889.3 1488.5 890.7 1490.5 890.5 1492.5 886.8 1494.6 886 1496.6 878.8 1498.6 885.6 1500.6 883.4 1502.6 885.1 1504.6 884.2 1506.6 882.7 1508.6 888.6 1510.6 885.2 1512.6 889.9 1514.6 894.6 1516.6 899.9 1518.6 889.5 1520.7 878.6 1522.7 880.4 1524.7 874.2 1526.7 867.6 1528.7 856.1 1530.7 843.9 1532.7 838 1534.7 828.5 1536.7 831 1538.7 828.7 1540.7 831.3 1542.7 837.6 1544.7 838.3 1546.8 839 1548.8 852 1550.8 848.6 1552.8 855.5 1554.8 852.5 1556.8 850.7 1558.8 840.5 1560.8 839.7 1562.8 839.6 1564.8 833.9 1566.8 839.1 1568.8 836.6 1570.8 831 1572.9 827.2 1574.9 834.4 1576.9 848.8 1578.9 855.5 1580.9 860.7 1582.9 855.4 1584.9 852.9 1586.9 849.8 1588.9 856.7 1590.9 863.2 1592.9 859.2 1594.9 856 1597 858 1599 859.8 1601 857.5 1603 857.5 1605 848.1 1607 835.1 1609 835.7 1611 839.2 1613 839.8 1615 843.4 1617 838.1 1619 826.1 1621 821.1 1623.1 815.2 1625.1 821 1627.1 824.6 1629.1 833.8 1631.1 844.4 1633.1 852.3 1635.1 847.5 1637.1 847.2 1639.1 848.1 1641.1 855.4 1643.1 856.1 1645.1 856.7 1647.1 863 1649.2 862.7 1651.2 869 1653.2 865.1 1655.2 858.6 1657.2 866.8 1659.2 865.4 1661.2 860.6 1663.2 868.4 1665.2 870.1 1667.2 859.6 1669.2 864 1671.2 866.4 1673.2 872.6 1675.3 882.4 1677.3 891.1 1679.3 893.8 1681.3 902.5 1683.3 901.3 1685.3 893.4 1687.3 889.6 1689.3 879.4 1691.3 883.2 1693.3 888.3 1695.3 895.2 1697.3 897.9 1699.4 895.7 1701.4 894.3 1703.4 895.4 1705.4 898.7 1707.4 895.7 1709.4 891.8 1711.4 894 1713.4 890.6 1715.4 891.3 1717.4 885.9 1719.4 884.1 1721.4 891.9 1723.4 894.8 1725.5 902.3 1727.5 902.5 1729.5 906.7 1731.5 904.4 1733.5 903 1735.5 912.3 1737.5 915.4 1739.5 911.8 1741.5 917.7 1743.5 914 1745.5 922.5 1747.5 926.4 1749.5 924.5 1751.6 918.2 1753.6 918.2 1755.6 915.1 1757.6 913.6 1759.6 916 1761.6 908.1 1763.6 909 1765.6 913.3 1767.6 922.2L1767.6 986.9 1765.6 988.8 1763.6 987.2 1761.6 981.2 1759.6 979.9 1757.6 979 1755.6 981.2 1753.6 984.3 1751.6 989.9 1749.5 1005 1747.5 996.6 1745.5 990.8 1743.5 994.6 1741.5 989.6 1739.5 987.8 1737.5 984.1 1735.5 987.4 1733.5 988.7 1731.5 987.9 1729.5 983.3 1727.5 987.1 1725.5 983.1 1723.4 981.5 1721.4 978.1 1719.4 970.6 1717.4 969.3 1715.4 969.4 1713.4 982.4 1711.4 979.9 1709.4 978.6 1707.4 981.7 1705.4 984.7 1703.4 981.8 1701.4 990.2 1699.4 990.1 1697.3 994.3 1695.3 996.4 1693.3 991.9 1691.3 985.1 1689.3 988.4 1687.3 987.7 1685.3 987.4 1683.3 992.9 1681.3 1004.1 1679.3 1008.9 1677.3 993.9 1675.3 986.7 1673.2 986.1 1671.2 983.2 1669.2 974.9 1667.2 973.1 1665.2 976.4 1663.2 979.1 1661.2 976.5 1659.2 976.1 1657.2 977.5 1655.2 974.1 1653.2 970.3 1651.2 977.2 1649.2 963.2 1647.1 963.6 1645.1 963.7 1643.1 968.5 1641.1 970.6 1639.1 961.2 1637.1 959.9 1635.1 973.6 1633.1 975.3 1631.1 979.2 1629.1 967 1627.1 964.6 1625.1 956.6 1623.1 948.1 1621 949.1 1619 952.4 1617 959.8 1615 958.2 1613 957.7 1611 955.3 1609 954.8 1607 948 1605 953.9 1603 960.8 1601 964.1 1599 960.1 1597 971 1594.9 964 1592.9 960 1590.9 954.2 1588.9 949.9 1586.9 951.4 1584.9 957.9 1582.9 963.5 1580.9 972 1578.9 955.5 1576.9 944.3 1574.9 932.5 1572.9 929 1570.8 926.2 1568.8 939.3 1566.8 945.7 1564.8 936 1562.8 936.7 1560.8 937.5 1558.8 946.2 1556.8 947.3 1554.8 946.7 1552.8 950.5 1550.8 957.5 1548.8 954.2 1546.8 950.6 1544.7 947.8 1542.7 946.7 1540.7 933.9 1538.7 934.8 1536.7 930.6 1534.7 936.1 1532.7 936.8 1530.7 937.1 1528.7 944.4 1526.7 951.2 1524.7 962.4 1522.7 970 1520.7 969.8 1518.6 973.1 1516.6 978.9 1514.6 974.8 1512.6 967 1510.6 967.2 1508.6 966.3 1506.6 960.6 1504.6 968.9 1502.6 969.4 1500.6 960.8 1498.6 967.4 1496.6 963.8 1494.6 966.4 1492.5 963.4 1490.5 967.3 1488.5 967.4 1486.5 964 1484.5 968.2 1482.5 972 1480.5 971.6 1478.5 977.8 1476.5 984 1474.5 990.7 1472.5 1001.2 1470.5 1015.2 1468.4 1019.8 1466.4 1029.9 1464.4 1031.1 1462.4 1038.4 1460.4 1034 1458.4 1030.2 1456.4 1027.9 1454.4 1026.6 1452.4 1023 1450.4 1025.8 1448.4 1026.9 1446.4 1029.2 1444.4 1028.9 1442.3 1019 1440.3 1015.8 1438.3 1019.2 1436.3 1020.5 1434.3 1020.6 1432.3 1021.9 1430.3 1022 1428.3 1023 1426.3 1023.2 1424.3 1023.1 1422.3 1021.1 1420.3 1022.8 1418.3 1022.6 1416.2 1023.2 1414.2 1028.6 1412.2 1025.7 1410.2 1026.7 1408.2 1033.3 1406.2 1032.6 1404.2 1033 1402.2 1028.8 1400.2 1029.6 1398.2 1025.1 1396.2 1024.3 1394.2 1021.8 1392.2 1022.4Z" class="s" style="fill:#1b75bb"/>
<path d="M1392.2 1005 1394.2 1004.7 1396.2 1004.8 1398.2 1004.6 1400.2 1005.1 1402.2 1004.6 1404.2 1004.9 1406.2 1004.9 1408.2 1004.7 1410.2 1005.5 1412.2 1005.3 1414.2 1004.7 1416.3 1005.3 1418.3 1005.2 1420.3 1004.7 1422.3 1005.5 1424.3 1005.3 1426.3 1005.3 1428.3 1004.6 1430.3 1004.4 1432.3 1004.9 1434.3 1004.7 1436.3 1004.3 1438.3 1004.8 1440.4 1003.9 1442.4 1003.9 1444.4 1004.6 1446.4 1004.7 1448.4 1004.8 1450.4 1004.5 1452.4 1004.3 1454.4 1003.6 1456.4 1003.7 1458.4 1003.3 1460.4 1002.2 1462.5 1001.1 1464.5 999.8 1466.5 998.5 1468.5 996.9 1470.5 995.4 1472.5 993.9 1474.5 992.8 1476.5 990.3 1478.5 989.2 1480.5 986.9 1482.5 984.2 1484.5 985.8 1486.6 986 1488.6 984.2 1490.6 983.9 1492.6 985.1 1494.6 986 1496.6 986.6 1498.6 987.2 1500.6 988.6 1502.6 987.7 1504.6 986.9 1506.6 987 1508.7 986.2 1510.7 984 1512.7 984.9 1514.7 983.6 1516.7 984.2 1518.7 985.6 1520.7 985 1522.7 986.3 1524.7 985.8 1526.7 984.8 1528.7 985 1530.7 983.8 1532.8 983.8 1534.8 982.7 1536.8 982.8 1538.8 981.6 1540.8 981.4 1542.8 984.2 1544.8 983.3 1546.8 983.4 1548.8 985.2 1550.8 983.9 1552.8 984.7 1554.9 983.8 1556.9 984.6 1558.9 984.5 1560.9 983.2 1562.9 981.3 1564.9 982.3 1566.9 982.9 1568.9 981.2 1570.9 982.6 1572.9 982.9 1574.9 981.7 1576.9 983.2 1579 984.9 1581 985.9 1583 987.2 1585 986.4 1587 989 1589 989.3 1591 989.8 1593 987.6 1595 990.2 1597 990.6 1599 988.6 1601 988.7 1603.1 988 1605.1 986.4 1607.1 985.5 1609.1 985.9 1611.1 986.1 1613.1 985.3 1615.1 985.3 1617.1 984.8 1619.1 984.4 1621.1 983.9 1623.1 985.8 1625.2 984.3 1627.2 985.8 1629.2 986 1631.2 986.1 1633.2 986.7 1635.2 987.2 1637.2 988.5 1639.2 987.7 1641.2 988.5 1643.2 989.2 1645.2 988.5 1647.2 987.4 1649.3 988 1651.3 988.8 1653.3 987.9 1655.3 988.4 1657.3 988.4 1659.3 988.1 1661.3 987.1 1663.3 987.4 1665.3 985.3 1667.3 987.1 1669.3 988.6 1671.4 991.7 1673.4 991.6 1675.4 992.7 1677.4 995 1679.4 994.9 1681.4 996.4 1683.4 996.6 1685.4 996.1 1687.4 994.9 1689.4 994.8 1691.4 993.5 1693.4 995.5 1695.5 994.9 1697.5 995.5 1699.5 997 1701.5 996.6 1703.5 997.6 1705.5 998.2 1707.5 996.5 1709.5 997.1 1711.5 996.9 1713.5 996.3 1715.5 997.1 1717.6 996.6 1719.6 995.6 1721.6 995.1 1723.6 995.5 1725.6 994.3 1727.6 995.1 1729.6 995.7 1731.6 994 1733.6 996.4 1735.6 995.4 1737.6 996.2 1739.6 995.8 1741.7 996.4 1743.7 996.8 1745.7 996.4 1747.7 996.1 1749.7 996.7 1751.7 996.1 1753.7 996.2 1755.7 994.8 1757.7 994 1759.7 995.4 1761.7 994.7 1763.8 994.8 1765.8 995.5L1765.8 1006.3 1763.8 1006.2 1761.7 1006 1759.7 1006.4 1757.7 1006.3 1755.7 1008.2 1753.7 1006.9 1751.7 1007.5 1749.7 1007.1 1747.7 1008 1745.7 1008 1743.7 1009.8 1741.7 1009.3 1739.6 1010.4 1737.6 1009 1735.6 1010.1 1733.6 1009 1731.6 1009.3 1729.6 1008.4 1727.6 1009.1 1725.6 1007.7 1723.6 1008.8 1721.6 1009.1 1719.6 1008.6 1717.6 1010.1 1715.5 1010.1 1713.5 1011.6 1711.5 1010.6 1709.5 1011.2 1707.5 1011.6 1705.5 1010 1703.5 1009.4 1701.5 1010.2 1699.5 1009.6 1697.5 1008.9 1695.5 1008.9 1693.4 1008.2 1691.4 1006.8 1689.4 1007.4 1687.4 1006.8 1685.4 1006.9 1683.4 1006.5 1681.4 1007.7 1679.4 1007.6 1677.4 1007.6 1675.4 1007.6 1673.4 1003.7 1671.4 1002.3 1669.3 1001.3 1667.3 1001.6 1665.3 1002.6 1663.3 1001.7 1661.3 1001.7 1659.3 1001.6 1657.3 1001.7 1655.3 1002.8 1653.3 1002.5 1651.3 1001.8 1649.3 1001.9 1647.2 1001.4 1645.2 1001.9 1643.2 1001.1 1641.2 1003.2 1639.2 1001.8 1637.2 1002.2 1635.2 1001.6 1633.2 1001.9 1631.2 999.8 1629.2 998.8 1627.2 999.2 1625.2 999.2 1623.1 998.9 1621.1 998.3 1619.1 998.2 1617.1 999.2 1615.1 998.8 1613.1 998.9 1611.1 997.9 1609.1 998.1 1607.1 998.7 1605.1 999.1 1603.1 1001.2 1601 1002.1 1599 1002.8 1597 1003.5 1595 1003 1593 1003.1 1591 1003.6 1589 1002.4 1587 1001.7 1585 1002.5 1583 1001 1581 999.8 1579 998.4 1576.9 997.7 1574.9 998.8 1572.9 996.4 1570.9 997.3 1568.9 998.6 1566.9 997.7 1564.9 996.7 1562.9 996 1560.9 997.2 1558.9 999.9 1556.9 999 1554.9 1000 1552.8 1000.1 1550.8 1000.8 1548.8 1000.4 1546.8 1000 1544.8 999.7 1542.8 999 1540.8 998.1 1538.8 998.3 1536.8 997.1 1534.8 997.2 1532.8 998.7 1530.7 997.6 1528.7 998 1526.7 998.9 1524.7 999 1522.7 1001.3 1520.7 999.1 1518.7 999.2 1516.7 998.4 1514.7 996.9 1512.7 997.6 1510.7 997.7 1508.7 997.9 1506.6 998.9 1504.6 1000.5 1502.6 1000.8 1500.6 1001.8 1498.6 1000.2 1496.6 998.9 1494.6 998 1492.6 998.9 1490.6 1000.1 1488.6 998.4 1486.6 998 1484.5 998.5 1482.5 999.3 1480.5 1000.6 1478.5 1001.7 1476.5 1002 1474.5 1003.3 1472.5 1003.8 1470.5 1004.9 1468.5 1004.6 1466.5 1006.2 1464.5 1006.7 1462.5 1007.7 1460.4 1008.9 1458.4 1009.8 1456.4 1010.4 1454.4 1010.5 1452.4 1010.8 1450.4 1009.9 1448.4 1009.8 1446.4 1009.5 1444.4 1009.5 1442.4 1010.9 1440.4 1010.7 1438.3 1009.8 1436.3 1009 1434.3 1009.6 1432.3 1009.3 1430.3 1009.5 1428.3 1009.2 1426.3 1009.6 1424.3 1008.7 1422.3 1008.6 1420.3 1009.7 1418.3 1009 1416.3 1009.2 1414.2 1009.7 1412.2 1009.3 1410.2 1009.3 1408.2 1009.3 1406.2 1009.9 1404.2 1009.9 1402.2 1010.1 1400.2 1010 1398.2 1009.8 1396.2 1009.2 1394.2 1009.2 1392.2 1009.1Z" class="k" style="fill:#231f20"/>
<path d="M1392.2 1003.7 1393.5 1003.6 1394.8 1008.2 1396.1 1001.9 1397.4 1001.2 1398.7 1006.1 1400 1007.1 1401.3 1001.1 1402.6 1005.4 1403.9 1005.2 1405.2 999.8 1406.5 1003.8 1407.8 1010 1409.1 1007.3 1410.4 1005.8 1411.7 1001.4 1413 998.7 1414.3 997.8 1415.6 1010.3 1416.9 1004.4 1418.2 1001 1419.5 1004.9 1420.8 1004 1422.1 1009.5 1423.4 1008.2 1424.7 997.4 1426 1005.9 1427.4 1007.3 1428.7 997.8 1430 1000.4 1431.3 998.1 1432.6 1001.5 1433.9 1002.2 1435.2 999.2 1436.5 1000.5 1437.8 1000.8 1439.1 1004.6 1440.4 998.3 1441.7 997.1 1443 1000 1444.3 1000.7 1445.6 997.4 1446.9 993.5 1448.2 1001.2 1449.5 1008.8 1450.8 1000.9 1452.1 1001.2 1453.4 1001.6 1454.7 1013.2 1456 1008.5 1457.3 1003.8 1458.6 1008.6 1459.9 1012.4 1461.2 1015.1 1462.6 1016.8 1463.9 1014.2 1465.2 1012.3 1466.5 1010.1 1467.8 1000.1 1469.1 1005.6 1470.4 999 1471.7 985.7 1473 977.9 1474.3 962.5 1475.6 951.5 1476.9 953.8 1478.2 952.5 1479.5 942.9 1480.8 942.8 1482.1 935.1 1483.4 930.3 1484.7 933.9 1486 926.6 1487.3 929.4 1488.6 926.9 1489.9 927.8 1491.2 929.1 1492.5 929.3 1493.8 937.2 1495.1 933 1496.4 933.4 1497.8 937.8 1499.1 926.8 1500.4 920.5 1501.7 927.5 1503 928.8 1504.3 935.7 1505.6 928.1 1506.9 915.5 1508.2 914.5 1509.5 923.1 1510.8 920.2 1512.1 918.8 1513.4 924.5 1514.7 927.9 1516 931.9 1517.3 935.6 1518.6 932.1 1519.9 929.6 1521.2 914.3 1522.5 917 1523.8 907.1 1525.1 909.4 1526.4 904.1 1527.7 902 1529 901.7 1530.3 899.2 1531.6 902.9 1533 899 1534.3 891.2 1535.6 895.2 1536.9 879.4 1538.2 889.3 1539.5 889.9 1540.8 891.3 1542.1 887.2 1543.4 890.3 1544.7 895.4 1546 903.7 1547.3 904.1 1548.6 899.6 1549.9 905.7 1551.2 898.4 1552.5 905.3 1553.8 901.6 1555.1 898.3 1556.4 893 1557.7 891.3 1559 892.4 1560.3 885.3 1561.6 881.6 1562.9 883.9 1564.2 874.2 1565.5 883.5 1566.8 881 1568.2 881.6 1569.5 876.9 1570.8 884.1 1572.1 880.7 1573.4 888.4 1574.7 881.1 1576 891.7 1577.3 898.3 1578.6 904.7 1579.9 912.9 1581.2 916.1 1582.5 913 1583.8 913.1 1585.1 900.3 1586.4 893.6 1587.7 895 1589 898.2 1590.3 906.6 1591.6 914.6 1592.9 911.3 1594.2 912.1 1595.5 921.5 1596.8 915.3 1598.1 914 1599.4 907.7 1600.7 901.8 1602 901.7 1603.4 898.6 1604.7 892.8 1606 889.7 1607.3 893.2 1608.6 893.5 1609.9 894.8 1611.2 899.2 1612.5 892.5 1613.8 891.9 1615.1 898.1 1616.4 899 1617.7 893.7 1619 896.5 1620.3 892.7 1621.6 898 1622.9 895.9 1624.2 889.9 1625.5 889.2 1626.8 893.6 1628.1 889.8 1629.4 901.7 1630.7 905.6 1632 914.5 1633.3 907.4 1634.6 900.4 1635.9 904.2 1637.2 897.4 1638.6 898.1 1639.9 900.2 1641.2 895.6 1642.5 898.8 1643.8 897.5 1645.1 898 1646.4 904 1647.7 907.2 1649 905.5 1650.3 914.5 1651.6 916.8 1652.9 917.1 1654.2 910.6 1655.5 910.6 1656.8 912.8 1658.1 916.8 1659.4 918.7 1660.7 925.3 1662 916.2 1663.3 911.2 1664.6 913.7 1665.9 912.5 1667.2 915.2 1668.5 919.2 1669.8 917.3 1671.1 927.2 1672.4 926.7 1673.8 926.6 1675.1 931.6 1676.4 939.3 1677.7 933.6 1679 942.2 1680.3 947.8 1681.6 936.9 1682.9 933.8 1684.2 941.8 1685.5 934.5 1686.8 932.8 1688.1 929.8 1689.4 923.4 1690.7 925.7 1692 928 1693.3 939.2 1694.6 941.2 1695.9 941.9 1697.2 940.8 1698.5 935.8 1699.8 936.2 1701.1 941.5 1702.4 939.1 1703.7 935.2 1705 939.9 1706.3 939.2 1707.6 938.7 1709 927.8 1710.3 931.7 1711.6 939.1 1712.9 934.6 1714.2 935.2 1715.5 936 1716.8 938.9 1718.1 943.3 1719.4 934.9 1720.7 936.8 1722 936.4 1723.3 936.7 1724.6 934.9 1725.9 940 1727.2 945.8 1728.5 943.3 1729.8 947.2 1731.1 956.7 1732.4 951.2 1733.7 939.7 1735 944.3 1736.3 945.7 1737.6 945.3 1738.9 957.2 1740.2 951 1741.5 949 1742.8 953.9 1744.2 952.7 1745.5 952.9 1746.8 959.6 1748.1 955.5 1749.4 957.8 1750.7 957.5 1752 956.4 1753.3 952 1754.6 950.7 1755.9 960.2 1757.2 952.7 1758.5 955.6 1759.8 952 1761.1 954.3 1762.4 944.8 1763.7 945.1 1765 946.5 1766.3 959.7 1767.6 958.8" stroke="#1b75bb" stroke-width="3.0" stroke-linejoin="round"/>
<path d="M1392.2 1007 1393.7 1006.4 1395.2 1007 1396.7 1007.4 1398.2 1007.2 1399.7 1007.2 1401.2 1006.5 1402.7 1007.5 1404.2 1007.5 1405.7 1009.3 1407.2 1008.7 1408.7 1008.3 1410.2 1007.6 1411.7 1008.1 1413.2 1007.8 1414.7 1007 1416.2 1007.4 1417.7 1008.2 1419.2 1007.3 1420.7 1007.4 1422.2 1007.8 1423.7 1007.3 1425.2 1007.2 1426.7 1007.4 1428.2 1007.4 1429.7 1007.2 1431.2 1006.8 1432.7 1006.7 1434.2 1007.8 1435.7 1007.5 1437.2 1006.7 1438.7 1005.4 1440.2 1006.1 1441.7 1006.6 1443.2 1006.6 1444.7 1005.5 1446.2 1005.4 1447.7 1005.7 1449.2 1005.6 1450.7 1006.7 1452.2 1006.9 1453.7 1006.2 1455.2 1005.4 1456.7 1006.6 1458.2 1005.8 1459.7 1005.7 1461.2 1005.3 1462.7 1004 1464.2 1002.7 1465.7 1002.3 1467.2 1002 1468.7 1000.7 1470.2 999.8 1471.7 999.6 1473.2 999.2 1474.7 998.5 1476.2 997 1477.7 996.4 1479.2 995.4 1480.7 994.5 1482.2 993.1 1483.7 993 1485.2 992.4 1486.7 993.2 1488.2 991.5 1489.7 992.9 1491.2 991.9 1492.7 991.8 1494.2 991 1495.7 991.8 1497.2 991.9 1498.7 991.5 1500.2 992.4 1501.7 994.2 1503.2 994.1 1504.7 994.3 1506.2 993.2 1507.7 992 1509.2 990.6 1510.7 990.1 1512.2 989.9 1513.7 990.4 1515.2 991.3 1516.7 991.9 1518.2 990.5 1519.7 991.3 1521.2 993.1 1522.7 994.1 1524.2 992.9 1525.7 993 1527.2 993.2 1528.7 992.5 1530.2 992.1 1531.7 990.3 1533.2 990.8 1534.7 991.3 1536.2 990.7 1537.7 991 1539.2 990.7 1540.7 990.2 1542.2 990.6 1543.7 991.3 1545.2 991.8 1546.7 992.2 1548.2 992.3 1549.7 993.2 1551.2 991.8 1552.7 992.8 1554.2 992.5 1555.7 992.5 1557.2 990.3 1558.7 990.5 1560.2 990.2 1561.7 990.9 1563.2 989.6 1564.7 989.2 1566.2 988.2 1567.7 988.8 1569.2 988.9 1570.7 989.1 1572.2 989.1 1573.7 989 1575.2 989.1 1576.7 989.2 1578.2 991.1 1579.7 992.3 1581.2 992.1 1582.7 993.9 1584.2 994.7 1585.7 994.6 1587.2 994.8 1588.7 995.5 1590.2 996 1591.7 995.4 1593.2 995.6 1594.7 995.7 1596.2 996.9 1597.7 996.2 1599.2 996.1 1600.7 995.1 1602.2 994.1 1603.7 994.1 1605.2 992.9 1606.7 992.4 1608.2 993 1609.7 993.6 1611.2 994.6 1612.7 992.9 1614.2 991.1 1615.7 991.2 1617.2 992.5 1618.7 992.9 1620.2 992.5 1621.7 992.6 1623.2 993.5 1624.7 992.6 1626.2 994 1627.7 993.7 1629.2 993.4 1630.7 993.1 1632.2 993.9 1633.7 994.3 1635.2 995 1636.7 995.1 1638.2 993.9 1639.7 994.2 1641.2 993.4 1642.7 994.2 1644.2 994.5 1645.7 994.1 1647.2 996.2 1648.7 996 1650.2 996.9 1651.7 997.2 1653.2 996.4 1654.7 996.8 1656.2 995.6 1657.7 996.2 1659.2 996.1 1660.7 996.2 1662.2 996.4 1663.7 995.9 1665.2 996.1 1666.7 995.8 1668.2 997 1669.7 997.3 1671.2 998.1 1672.7 999 1674.2 998.3 1675.7 999.5 1677.2 1000.7 1678.7 1000.9 1680.2 1002.1 1681.7 1001.3 1683.2 1001.7 1684.7 1001.7 1686.2 1001.9 1687.7 1001.9 1689.2 1001.6 1690.7 1001.2 1692.2 1000.5 1693.7 1001.3 1695.2 1002.5 1696.7 1004 1698.2 1002.5 1699.7 1002.5 1701.2 1002.5 1702.7 1002.4 1704.2 1003.4 1705.7 1004.1 1707.2 1003.5 1708.7 1003.2 1710.2 1002.6 1711.7 1003.2 1713.2 1003.3 1714.7 1002.5 1716.2 1002.4 1717.7 1003 1719.2 1002 1720.7 1002 1722.2 1003.8 1723.7 1002.3 1725.2 1002.3 1726.7 1001.4 1728.2 1002.4 1729.7 1000.6 1731.2 1000.1 1732.7 1001.2 1734.2 1000.5 1735.8 1000.8 1737.3 1002.3 1738.8 1001.4 1740.3 1002 1741.8 1002.4 1743.3 1002.6 1744.8 1002.5 1746.3 1003.5 1747.8 1003.3 1749.3 1003.7 1750.8 1002.8 1752.3 1002.4 1753.8 1000.6 1755.3 1001.1 1756.8 1001.7 1758.3 1001.8 1759.8 1001.7 1761.3 1000.3 1762.8 999.9 1764.3 1001 1765.8 1000.1" stroke="#231f20" stroke-width="3.0" stroke-linejoin="round"/>
<path d="M1466.5 788.6V1038.5" stroke="#231f20" stroke-width="1.6" stroke-dasharray="5.4 4.2"/>
<path d="M1392.6 788.6V1038.5H1797.6M1392.6 810.3h-8.3M1392.6 843.1h-8.3M1392.6 875.9h-8.3M1392.6 908.6h-8.3M1392.6 941.4h-8.3M1392.6 974.2h-8.3M1392.6 1007h-8.3M1392.6 1039.8h-8.3M1392.2 1038.5v7M1466.5 1038.5v7M1540.8 1038.5v7M1615.2 1038.5v7M1689.6 1038.5v7M1763.9 1038.5v7" stroke="#231f20" stroke-width="1.7"/>
<text transform="translate(1380.3 817.8) scale(1.02 1)" font-size="21" text-anchor="end">12</text>
<text transform="translate(1380.3 850.6) scale(1.02 1)" font-size="21" text-anchor="end">10</text>
<text transform="translate(1380.3 883.4) scale(1.02 1)" font-size="21" text-anchor="end">8</text>
<text transform="translate(1380.3 916.2) scale(1.02 1)" font-size="21" text-anchor="end">6</text>
<text transform="translate(1380.3 949) scale(1.02 1)" font-size="21" text-anchor="end">4</text>
<text transform="translate(1380.3 981.7) scale(1.02 1)" font-size="21" text-anchor="end">2</text>
<text transform="translate(1380.3 1014.5) scale(1.02 1)" font-size="21" text-anchor="end">0</text>
<text transform="translate(1380.3 1047.3) scale(1.02 1)" font-size="21" text-anchor="end">-2</text>
<text transform="translate(1390.2 1063.5) scale(1.02 1)" font-size="21" text-anchor="middle">-2</text>
<text transform="translate(1466.5 1063.5) scale(1.02 1)" font-size="21" text-anchor="middle">0</text>
<text transform="translate(1540.8 1063.5) scale(1.02 1)" font-size="21" text-anchor="middle">2</text>
<text transform="translate(1615.2 1063.5) scale(1.02 1)" font-size="21" text-anchor="middle">4</text>
<text transform="translate(1689.6 1063.5) scale(1.02 1)" font-size="21" text-anchor="middle">6</text>
<text transform="translate(1763.9 1063.5) scale(1.02 1)" font-size="21" text-anchor="middle">8</text>
<text transform="translate(1353.1 913.5) rotate(-90) scale(1.06 1)" font-size="23" text-anchor="middle">ΔF/F (%)</text>
<text transform="translate(1595.1 1084.8) scale(1.06 1)" font-size="23" text-anchor="middle">Onset of struggling (s)</text>
<path d="M1613 802.1L1648.4 802.1" stroke="#231f20" stroke-width="3.4"/>
<text transform="translate(1651.9 811.2) scale(1.06 1)" font-size="20">405 nm</text>
<path d="M1613 824L1648.4 824" stroke="#1b75bb" stroke-width="3.4"/>
<text transform="translate(1651.9 831.7) scale(1.06 1)" font-size="20">470 nm</text>
<text transform="translate(1 1132) scale(1.04 1)" font-size="39" font-weight="bold">f</text>
<text transform="translate(52.9 1138.7) scale(1.04 1)" font-size="23.5" font-weight="bold">Tail suspension (end)</text>
<path d="M67 1356.9 69 1356 71 1352.3 73 1351.5 75 1354.5 77 1354.5 79 1356.9 81.1 1354.3 83.1 1355.7 85.1 1353.6 87.1 1352.1 89.1 1355.7 91.1 1353.5 93.1 1351.6 95.1 1353.4 97.1 1352.7 99.1 1352.3 101.1 1352.3 103.1 1348.4 105.1 1349.1 107.2 1349.4 109.2 1351.3 111.2 1351.3 113.2 1350.1 115.2 1350.6 117.2 1348.3 119.2 1348.8 121.2 1348.8 123.2 1350.7 125.2 1352.6 127.2 1353.1 129.2 1355.3 131.3 1355.9 133.3 1354.2 135.3 1355.1 137.3 1356.3 139.3 1355.5 141.3 1357.6 143.3 1356.1 145.3 1352.9 147.3 1357.3 149.3 1356.3 151.3 1356.4 153.3 1356.8 155.3 1358.6 157.4 1358.2 159.4 1355.2 161.4 1354.7 163.4 1357.9 165.4 1356.6 167.4 1357.8 169.4 1358.9 171.4 1358.1 173.4 1355.3 175.4 1357.8 177.4 1355.6 179.4 1353.1 181.4 1355.5 183.5 1355.9 185.5 1355.8 187.5 1354.7 189.5 1352.5 191.5 1353.2 193.5 1351.9 195.5 1349.3 197.5 1350 199.5 1352.4 201.5 1351.3 203.5 1351.4 205.5 1349 207.5 1350.2 209.6 1349.8 211.6 1349.7 213.6 1351.6 215.6 1350.4 217.6 1354.8 219.6 1354 221.6 1356.6 223.6 1356.5 225.6 1359.2 227.6 1358.4 229.6 1361.1 231.6 1360.7 233.7 1357.2 235.7 1360 237.7 1357.8 239.7 1361.2 241.7 1356.9 243.7 1356.5 245.7 1359.5 247.7 1359.2 249.7 1360.6 251.7 1360.6 253.7 1363.2 255.7 1361.7 257.7 1360.6 259.8 1360.7 261.8 1361 263.8 1365.3 265.8 1361.7 267.8 1361.7 269.8 1362 271.8 1363.8 273.8 1362.9 275.8 1363.7 277.8 1364.2 279.8 1362.4 281.8 1362.2 283.8 1359.7 285.9 1360.6 287.9 1361.6 289.9 1360.4 291.9 1362 293.9 1361.8 295.9 1360.5 297.9 1361.4 299.9 1363.7 301.9 1363.1 303.9 1364.2 305.9 1365 307.9 1360.7 309.9 1364 312 1361.9 314 1364.7 316 1362.5 318 1361.7 320 1362.9 322 1364.7 324 1363.4 326 1360.2 328 1360.6 330 1361.8 332 1362.7 334 1360.2 336.1 1355.9 338.1 1354.6 340.1 1353.6 342.1 1355.4 344.1 1356.5 346.1 1354.8 348.1 1356.1 350.1 1355.9 352.1 1353.6 354.1 1351.5 356.1 1352.4 358.1 1355 360.1 1355.7 362.2 1355.1 364.2 1354.5 366.2 1356.7 368.2 1357.1 370.2 1357.3 372.2 1356.7 374.2 1354.7 376.2 1358.3 378.2 1358 380.2 1356.9 382.2 1356.3 384.2 1360.7 386.2 1359.4 388.3 1361.2 390.3 1362.2 392.3 1361.6 394.3 1362.6 396.3 1363.2 398.3 1361.9 400.3 1362.6 402.3 1362.4 404.3 1363.6 406.3 1362.4 408.3 1364.8 410.3 1364.2 412.3 1363.2 414.4 1367 416.4 1367.7 418.4 1367.6 420.4 1368.7 422.4 1367.9 424.4 1368.8 426.4 1368.1 428.4 1367 430.4 1366.2 432.4 1366.3 434.4 1364.3 436.4 1365.4 438.5 1368.7 440.5 1370 442.5 1367.4L442.5 1394.8 440.5 1392.8 438.5 1392.7 436.4 1393.2 434.4 1394 432.4 1394.4 430.4 1394.3 428.4 1393.8 426.4 1394.9 424.4 1393.3 422.4 1391.9 420.4 1392.8 418.4 1392 416.4 1391.8 414.4 1391.9 412.3 1393 410.3 1392.6 408.3 1392.6 406.3 1395.9 404.3 1395.9 402.3 1390.5 400.3 1391 398.3 1392 396.3 1391.2 394.3 1390.5 392.3 1391.7 390.3 1389.9 388.3 1388.4 386.2 1386.9 384.2 1389.7 382.2 1390.6 380.2 1387 378.2 1391.2 376.2 1391.6 374.2 1389.9 372.2 1388.4 370.2 1389 368.2 1387.3 366.2 1388.1 364.2 1387 362.2 1386 360.1 1386.2 358.1 1386.5 356.1 1386.1 354.1 1384.9 352.1 1387.8 350.1 1386.1 348.1 1385.1 346.1 1385.8 344.1 1383.6 342.1 1385 340.1 1384.3 338.1 1386.3 336.1 1389.3 334 1388.7 332 1390.7 330 1391.1 328 1392.5 326 1395.4 324 1395.1 322 1395.5 320 1397 318 1392.8 316 1393.3 314 1396.3 312 1396.9 309.9 1396.6 307.9 1396.9 305.9 1394.1 303.9 1394.4 301.9 1396.6 299.9 1397.1 297.9 1394.2 295.9 1393.7 293.9 1393.6 291.9 1395.2 289.9 1395.7 287.9 1394.1 285.9 1395.2 283.8 1395.1 281.8 1396.9 279.8 1394.6 277.8 1398 275.8 1397.8 273.8 1394.4 271.8 1394.1 269.8 1393 267.8 1395.6 265.8 1395 263.8 1392.1 261.8 1392.8 259.8 1393.9 257.7 1391.9 255.7 1389.8 253.7 1389.8 251.7 1391.2 249.7 1393.1 247.7 1394 245.7 1390.3 243.7 1390.7 241.7 1389.5 239.7 1391 237.7 1391.5 235.7 1391.5 233.7 1388.7 231.6 1391.4 229.6 1390.3 227.6 1389.2 225.6 1390.6 223.6 1387.1 221.6 1388.6 219.6 1388.1 217.6 1386.6 215.6 1388.2 213.6 1386.3 211.6 1385.7 209.6 1386.2 207.5 1386.5 205.5 1383 203.5 1385.8 201.5 1386.6 199.5 1384.1 197.5 1381.7 195.5 1382.6 193.5 1381.7 191.5 1385.7 189.5 1383.8 187.5 1384.9 185.5 1385.9 183.5 1389.1 181.4 1390.2 179.4 1386.6 177.4 1386.9 175.4 1387.7 173.4 1387.5 171.4 1386.4 169.4 1385.9 167.4 1386.2 165.4 1389.6 163.4 1387.1 161.4 1388.8 159.4 1387.2 157.4 1387.6 155.3 1391.9 153.3 1389.6 151.3 1387.9 149.3 1386.5 147.3 1387.5 145.3 1388.3 143.3 1389.8 141.3 1388.5 139.3 1387.6 137.3 1386.3 135.3 1383.6 133.3 1383.4 131.3 1384 129.2 1385.4 127.2 1382.3 125.2 1381.9 123.2 1382.3 121.2 1385.6 119.2 1386.8 117.2 1382.8 115.2 1386.5 113.2 1387.5 111.2 1382 109.2 1381.1 107.2 1385.1 105.1 1386.4 103.1 1381.4 101.1 1383.6 99.1 1382.2 97.1 1383.3 95.1 1384.6 93.1 1383.5 91.1 1385.4 89.1 1384.8 87.1 1383.1 85.1 1384.6 83.1 1387.4 81.1 1388 79 1387.2 77 1388 75 1387.4 73 1388.9 71 1389.4 69 1388.7 67 1389.2Z" class="s" style="fill:#37ab4b"/>
<path d="M67 1344.6 69 1347.1 71 1351.4 73 1351.5 75 1351.7 77 1352.6 79 1351.8 81.1 1352.8 83.1 1351 85.1 1354.6 87.1 1354 89.1 1350 91.1 1353.4 93.1 1348.8 95.1 1353.9 97.1 1351 99.1 1349.2 101.1 1350.9 103.1 1353.1 105.1 1353.1 107.2 1352.2 109.2 1348.6 111.2 1349 113.2 1346.2 115.2 1351.3 117.2 1349.2 119.2 1352.4 121.2 1350 123.2 1352.7 125.2 1351.7 127.2 1347.7 129.2 1350.4 131.3 1349.7 133.3 1349 135.3 1349.2 137.3 1349.9 139.3 1351.5 141.3 1352 143.3 1350.6 145.3 1353.3 147.3 1351.1 149.3 1350 151.3 1347.1 153.3 1348.7 155.3 1343.7 157.4 1344.6 159.4 1346.5 161.4 1346.5 163.4 1348.7 165.4 1348.4 167.4 1350 169.4 1350.9 171.4 1353.6 173.4 1352.4 175.4 1355.4 177.4 1350.6 179.4 1350.3 181.4 1347.7 183.5 1351.2 185.5 1349 187.5 1346.9 189.5 1344.2 191.5 1346.5 193.5 1345.8 195.5 1342.7 197.5 1346.1 199.5 1345.8 201.5 1343.2 203.5 1345.2 205.5 1346.2 207.5 1339.3 209.6 1341.8 211.6 1341.5 213.6 1341.4 215.6 1341.7 217.6 1339.4 219.6 1338 221.6 1338.1 223.6 1343.5 225.6 1344.1 227.6 1341.4 229.6 1346.4 231.6 1345.9 233.7 1344.5 235.7 1343.9 237.7 1343.4 239.7 1340.6 241.7 1343.1 243.7 1343.9 245.7 1343.5 247.7 1342.4 249.7 1342.2 251.7 1339 253.7 1343.9 255.7 1342.7 257.7 1339.2 259.8 1336.1 261.8 1329.9 263.8 1330.5 265.8 1335.1 267.8 1338.3 269.8 1334.6 271.8 1335.3 273.8 1335.5 275.8 1337.1 277.8 1334.5 279.8 1336.6 281.8 1337.9 283.8 1338.6 285.9 1342.8 287.9 1344.8 289.9 1345.6 291.9 1344.6 293.9 1346.1 295.9 1345.1 297.9 1345.5 299.9 1341.3 301.9 1340.6 303.9 1346.2 305.9 1344.2 307.9 1345.1 309.9 1345.7 312 1345 314 1346.6 316 1348.1 318 1344.7 320 1343.7 322 1349.3 324 1348.1 326 1347.1 328 1344.1 330 1350.2 332 1344.3 334 1350.5 336.1 1348.3 338.1 1353.3 340.1 1353.6 342.1 1354.7 344.1 1356.8 346.1 1354.1 348.1 1356 350.1 1356.1 352.1 1360.3 354.1 1360.3 356.1 1361 358.1 1361.6 360.1 1361.2 362.2 1360.9 364.2 1361.7 366.2 1361.5 368.2 1363.4 370.2 1363.6 372.2 1365.3 374.2 1362.8 376.2 1360.3 378.2 1360.2 380.2 1361.7 382.2 1361.4 384.2 1363.8 386.2 1363.6 388.3 1364.6 390.3 1365.2 392.3 1362 394.3 1362.4 396.3 1365.5 398.3 1366.3 400.3 1367.5 402.3 1365.7 404.3 1367.7 406.3 1368.2 408.3 1367.8 410.3 1366.5 412.3 1366 414.4 1367.3 416.4 1367 418.4 1366.1 420.4 1367 422.4 1366.5 424.4 1365.5 426.4 1368.2 428.4 1366.7 430.4 1366 432.4 1367.5 434.4 1367.9 436.4 1363.9 438.5 1367.2 440.5 1368.3 442.5 1366.9L442.5 1389.9 440.5 1391.6 438.5 1388.3 436.4 1387.5 434.4 1388.8 432.4 1383.7 430.4 1388 428.4 1385.2 426.4 1385.1 424.4 1386.4 422.4 1385.4 420.4 1387.4 418.4 1386.8 416.4 1386.4 414.4 1386.4 412.3 1387.3 410.3 1390 408.3 1389.6 406.3 1389.6 404.3 1391.1 402.3 1393.4 400.3 1389.4 398.3 1388.4 396.3 1388.2 394.3 1387 392.3 1387.7 390.3 1386.5 388.3 1386.3 386.2 1386.2 384.2 1385.6 382.2 1385.1 380.2 1385.1 378.2 1382.5 376.2 1384.3 374.2 1381.9 372.2 1381.6 370.2 1381.9 368.2 1382.8 366.2 1383 364.2 1381.5 362.2 1381.6 360.1 1381.5 358.1 1382.8 356.1 1381.9 354.1 1381.9 352.1 1383.4 350.1 1381.1 348.1 1381.7 346.1 1379.8 344.1 1380.3 342.1 1381.1 340.1 1379.3 338.1 1377.4 336.1 1377.3 334 1377.6 332 1377.3 330 1377.4 328 1376.3 326 1377.2 324 1380.1 322 1378.5 320 1381.7 318 1379.1 316 1377.5 314 1380 312 1379.3 309.9 1380.7 307.9 1381.4 305.9 1381.3 303.9 1378.2 301.9 1379.5 299.9 1382.6 297.9 1384.7 295.9 1385.2 293.9 1381.9 291.9 1384.1 289.9 1386.6 287.9 1386 285.9 1385.2 283.8 1383.5 281.8 1380.2 279.8 1383.2 277.8 1379.5 275.8 1377.1 273.8 1377.1 271.8 1376.3 269.8 1379.8 267.8 1382.3 265.8 1380.4 263.8 1378 261.8 1377.8 259.8 1380.7 257.7 1385.2 255.7 1381.9 253.7 1381 251.7 1382.7 249.7 1381.8 247.7 1383.8 245.7 1384.6 243.7 1385.1 241.7 1382.6 239.7 1384.1 237.7 1387.1 235.7 1382.7 233.7 1383.6 231.6 1381.6 229.6 1384.9 227.6 1379.4 225.6 1378.5 223.6 1376 221.6 1376.4 219.6 1376.5 217.6 1376.4 215.6 1375.4 213.6 1377.5 211.6 1380.7 209.6 1382.5 207.5 1381.7 205.5 1380.6 203.5 1379.3 201.5 1379.2 199.5 1380.8 197.5 1382.9 195.5 1383.2 193.5 1381.2 191.5 1384 189.5 1384.6 187.5 1386.8 185.5 1385.5 183.5 1389.6 181.4 1392.3 179.4 1390.1 177.4 1389.8 175.4 1389.3 173.4 1389.8 171.4 1388.6 169.4 1389.5 167.4 1385.9 165.4 1383.3 163.4 1388 161.4 1383.8 159.4 1379.9 157.4 1381.8 155.3 1385 153.3 1386 151.3 1387.2 149.3 1387 147.3 1388.7 145.3 1388.2 143.3 1385.8 141.3 1389 139.3 1389.5 137.3 1383.6 135.3 1382.8 133.3 1383.9 131.3 1381.8 129.2 1381.9 127.2 1384.4 125.2 1379.6 123.2 1382.7 121.2 1381 119.2 1382.3 117.2 1385.1 115.2 1386.2 113.2 1383.2 111.2 1381.7 109.2 1385.6 107.2 1387.7 105.1 1385.7 103.1 1385.7 101.1 1385.1 99.1 1386.6 97.1 1387.6 95.1 1385.7 93.1 1389.7 91.1 1387.4 89.1 1386.9 87.1 1387.1 85.1 1386.2 83.1 1388.2 81.1 1388.3 79 1385.2 77 1383.8 75 1384.5 73 1382.2 71 1382.6 69 1380.5 67 1383.2Z" class="s" style="fill:#e8202a"/>
<path d="M67 1323.2 69 1318 71 1322.7 73 1317.3 75 1310.2 77 1314.5 79 1314.3 81.1 1312.2 83.1 1312.1 85.1 1308.3 87.1 1303.1 89.1 1307.6 91.1 1300.9 93.1 1302.9 95.1 1303.5 97.1 1306.5 99.1 1306.4 101.1 1301.7 103.1 1308.1 105.1 1305.5 107.2 1293.9 109.2 1297.6 111.2 1293.1 113.2 1297.5 115.2 1297.1 117.2 1290.5 119.2 1284.2 121.2 1278.8 123.2 1279.7 125.2 1278.2 127.2 1272.4 129.2 1270.4 131.3 1269.4 133.3 1266.8 135.3 1274.1 137.3 1274.7 139.3 1271.2 141.3 1269 143.3 1277.3 145.3 1266.8 147.3 1269.3 149.3 1273.3 151.3 1278.6 153.3 1281.2 155.3 1286 157.4 1293.2 159.4 1289.2 161.4 1277.9 163.4 1268.2 165.4 1265.1 167.4 1268.1 169.4 1268.5 171.4 1261.7 173.4 1265.8 175.4 1266.4 177.4 1255.2 179.4 1256.7 181.4 1254.1 183.5 1262 185.5 1256.7 187.5 1253.8 189.5 1257.6 191.5 1255.8 193.5 1254.7 195.5 1260.5 197.5 1263.5 199.5 1260.7 201.5 1256.3 203.5 1251.9 205.5 1251.8 207.5 1250.9 209.6 1239 211.6 1236.7 213.6 1241.1 215.6 1246.2 217.6 1250.5 219.6 1252 221.6 1239.5 223.6 1253 225.6 1245.1 227.6 1239.3 229.6 1238.2 231.6 1253.9 233.7 1256.1 235.7 1267.5 237.7 1266.5 239.7 1261.2 241.7 1258.3 243.7 1260.8 245.7 1265.7 247.7 1252.8 249.7 1256.8 251.7 1253.9 253.7 1261.1 255.7 1264.6 257.7 1269.5 259.8 1263.3 261.8 1256 263.8 1251.7 265.8 1260.2 267.8 1254.5 269.8 1260 271.8 1265 273.8 1264.3 275.8 1262.1 277.8 1268.7 279.8 1265 281.8 1267 283.8 1269.4 285.9 1261.9 287.9 1264.7 289.9 1264 291.9 1261.7 293.9 1258.2 295.9 1263.3 297.9 1277.5 299.9 1289.8 301.9 1292.7 303.9 1295.4 305.9 1297.3 307.9 1293.7 309.9 1299.2 312 1304 314 1300.2 316 1306.1 318 1302 320 1308.7 322 1312.1 324 1311.7 326 1312.2 328 1312.2 330 1317 332 1319.5 334 1324.2 336.1 1325.8 338.1 1323.5 340.1 1323.7 342.1 1327 344.1 1329.2 346.1 1330.2 348.1 1329.4 350.1 1328.6 352.1 1334 354.1 1332.7 356.1 1333.8 358.1 1336.9 360.1 1337.2 362.2 1344.1 364.2 1344.6 366.2 1341.9 368.2 1343.6 370.2 1345.2 372.2 1347.4 374.2 1351.4 376.2 1352 378.2 1352.2 380.2 1355.3 382.2 1355.7 384.2 1357.9 386.2 1358.5 388.3 1350.4 390.3 1357.8 392.3 1363.9 394.3 1359.9 396.3 1360.4 398.3 1363.7 400.3 1359.7 402.3 1360.1 404.3 1359.6 406.3 1361.7 408.3 1361.5 410.3 1364.6 412.3 1362.1 414.4 1359.6 416.4 1360 418.4 1363.4 420.4 1363.5 422.4 1362.1 424.4 1366.6 426.4 1362.8 428.4 1362 430.4 1365.1 432.4 1366.6 434.4 1368.1 436.4 1367.9 438.5 1370.1 440.5 1374.3 442.5 1374.5L442.5 1399.3 440.5 1403.4 438.5 1397.8 436.4 1394.7 434.4 1393.8 432.4 1391.3 430.4 1389.7 428.4 1390.3 426.4 1390.8 424.4 1391 422.4 1389.9 420.4 1388.2 418.4 1388.9 416.4 1392.6 414.4 1394 412.3 1392 410.3 1392.6 408.3 1393.6 406.3 1391.5 404.3 1393.8 402.3 1398.9 400.3 1394.9 398.3 1393.5 396.3 1391.5 394.3 1391.4 392.3 1389.6 390.3 1391 388.3 1390.7 386.2 1387.8 384.2 1386.4 382.2 1388 380.2 1387.5 378.2 1388.2 376.2 1386.1 374.2 1384.4 372.2 1381.9 370.2 1382.6 368.2 1383.2 366.2 1387 364.2 1383.9 362.2 1377.9 360.1 1376 358.1 1380.8 356.1 1376.6 354.1 1377.3 352.1 1377.8 350.1 1377.9 348.1 1376.2 346.1 1375.9 344.1 1379.5 342.1 1377.8 340.1 1378.4 338.1 1378.7 336.1 1377.2 334 1372.6 332 1377.7 330 1371.9 328 1367.7 326 1365.9 324 1366 322 1367.3 320 1366.2 318 1368.1 316 1366.5 314 1363.4 312 1367.9 309.9 1360.9 307.9 1360.9 305.9 1355 303.9 1354.5 301.9 1356.9 299.9 1354.5 297.9 1356.6 295.9 1351.8 293.9 1349 291.9 1351.4 289.9 1348.5 287.9 1346.4 285.9 1352.1 283.8 1349.3 281.8 1348.3 279.8 1357.2 277.8 1355.3 275.8 1350 273.8 1350.3 271.8 1342.8 269.8 1350.2 267.8 1342.5 265.8 1349.4 263.8 1349.5 261.8 1352.5 259.8 1363 257.7 1360.9 255.7 1351.2 253.7 1350.1 251.7 1346.3 249.7 1349.2 247.7 1349.8 245.7 1351 243.7 1358.6 241.7 1357.7 239.7 1363 237.7 1368.3 235.7 1364.9 233.7 1358.4 231.6 1349.7 229.6 1343.6 227.6 1351.7 225.6 1350.7 223.6 1340.5 221.6 1341.6 219.6 1344.6 217.6 1348.1 215.6 1344.9 213.6 1337.5 211.6 1335.4 209.6 1340.7 207.5 1347 205.5 1355.7 203.5 1366.3 201.5 1364.9 199.5 1375 197.5 1383.5 195.5 1382.7 193.5 1370.2 191.5 1357.2 189.5 1362.8 187.5 1377.2 185.5 1371.6 183.5 1375.9 181.4 1371.2 179.4 1370.3 177.4 1368.4 175.4 1369.8 173.4 1372.9 171.4 1372.5 169.4 1370.9 167.4 1377.1 165.4 1373.3 163.4 1367.6 161.4 1379 159.4 1380.6 157.4 1382.3 155.3 1380.6 153.3 1377.8 151.3 1373 149.3 1375.3 147.3 1373.7 145.3 1374.4 143.3 1373.4 141.3 1364.7 139.3 1380.7 137.3 1374.8 135.3 1372.3 133.3 1375.9 131.3 1369.8 129.2 1373.7 127.2 1372.7 125.2 1370.1 123.2 1379.2 121.2 1380.6 119.2 1395.9 117.2 1394.1 115.2 1397.9 113.2 1389.5 111.2 1387 109.2 1392.1 107.2 1383.3 105.1 1386.2 103.1 1385.6 101.1 1387.3 99.1 1379.5 97.1 1378.2 95.1 1378.9 93.1 1381.2 91.1 1381.8 89.1 1381.6 87.1 1386.4 85.1 1395.7 83.1 1390.7 81.1 1394.5 79 1393.1 77 1394.5 75 1392.1 73 1393.7 71 1403.2 69 1399.1 67 1397.9Z" class="s" style="fill:#1b75bb"/>
<path d="M67 1373.4 68.5 1372.8 70 1372.5 71.5 1372.9 73 1371.3 74.5 1370.2 76 1372.2 77.5 1369.7 79 1371.7 80.5 1370.8 82 1372.5 83.5 1370.7 85 1372 86.5 1369.5 88 1369.9 89.5 1368.7 91 1368.8 92.5 1370.4 94 1365.5 95.5 1365.4 97 1366 98.5 1366.2 100 1369 101.5 1366.4 103 1367.9 104.5 1367.7 106 1364.6 107.6 1366.8 109.1 1366.4 110.6 1368.8 112.1 1371.1 113.6 1371.4 115.1 1370.7 116.6 1367.3 118.1 1366.9 119.6 1367.3 121.1 1367.8 122.6 1368.1 124.1 1368.4 125.6 1368 127.1 1366.7 128.6 1367.1 130.1 1367.5 131.6 1368.6 133.1 1368.2 134.6 1369.3 136.1 1370.2 137.6 1369.7 139.1 1370.1 140.6 1370.7 142.1 1370.5 143.6 1372.2 145.1 1371 146.6 1370.8 148.1 1372.2 149.6 1374 151.1 1372.8 152.6 1371 154.1 1370.5 155.6 1372.3 157.1 1373.7 158.6 1372.6 160.1 1370.9 161.6 1371.2 163.1 1370.2 164.6 1372.7 166.1 1372.4 167.6 1373.8 169.1 1369.5 170.6 1371.4 172.1 1372.8 173.6 1373.6 175.1 1373.5 176.6 1373.6 178.1 1374.6 179.6 1372.1 181.1 1369.8 182.6 1372.7 184.1 1372.5 185.6 1370.5 187.1 1370 188.7 1370.3 190.2 1370.9 191.7 1370.2 193.2 1368.2 194.7 1368.5 196.2 1369 197.7 1369 199.2 1368.2 200.7 1369.5 202.2 1367.2 203.7 1366.8 205.2 1367.2 206.7 1368.5 208.2 1369.4 209.7 1367.2 211.2 1367 212.7 1368.4 214.2 1368.7 215.7 1368.5 217.2 1369.1 218.7 1368.2 220.2 1370.4 221.7 1370.4 223.2 1370.8 224.7 1371.2 226.2 1374.1 227.7 1373 229.2 1372.5 230.7 1370.1 232.2 1372.1 233.7 1372.8 235.2 1372.6 236.7 1370.8 238.2 1376.4 239.7 1374 241.2 1375.3 242.7 1375.4 244.2 1374.3 245.7 1375.6 247.2 1372.5 248.7 1374.7 250.2 1376.1 251.7 1376.6 253.2 1376.4 254.7 1374.6 256.2 1377.4 257.7 1379.8 259.2 1379.4 260.7 1378.4 262.2 1379.4 263.7 1378.9 265.2 1379.1 266.7 1381.1 268.3 1381.8 269.8 1382.4 271.3 1379.3 272.8 1381 274.3 1381.7 275.8 1379.8 277.3 1378.7 278.8 1378.4 280.3 1376.2 281.8 1377.2 283.3 1375.5 284.8 1377.1 286.3 1378.8 287.8 1377.7 289.3 1375.9 290.8 1377.4 292.3 1378.5 293.8 1378.9 295.3 1377 296.8 1376.1 298.3 1377.3 299.8 1377.4 301.3 1377.2 302.8 1377.4 304.3 1379.8 305.8 1378.6 307.3 1380.3 308.8 1380.8 310.3 1379 311.8 1379.2 313.3 1380.6 314.8 1378.3 316.3 1379.5 317.8 1378.6 319.3 1377.1 320.8 1378.1 322.3 1378.4 323.8 1376.4 325.3 1377.1 326.8 1378.8 328.3 1379.2 329.8 1375.9 331.3 1376.9 332.8 1373.7 334.3 1376.1 335.8 1373.3 337.3 1372.9 338.8 1372.3 340.3 1370.9 341.8 1370.8 343.3 1371 344.8 1370.5 346.3 1370.6 347.8 1370.9 349.4 1372.8 350.9 1371.6 352.4 1369.3 353.9 1371 355.4 1370.2 356.9 1370.4 358.4 1370.1 359.9 1370.9 361.4 1371.6 362.9 1372.6 364.4 1373.7 365.9 1374.6 367.4 1372.3 368.9 1373.7 370.4 1373.8 371.9 1374.9 373.4 1374.3 374.9 1374.2 376.4 1375.8 377.9 1376.4 379.4 1376.8 380.9 1375.4 382.4 1373.7 383.9 1375.1 385.4 1374.8 386.9 1374.2 388.4 1374.8 389.9 1377.5 391.4 1377.1 392.9 1376.9 394.4 1378.4 395.9 1377.8 397.4 1376.7 398.9 1381.6 400.4 1377.1 401.9 1379.5 403.4 1380.2 404.9 1381.3 406.4 1381.2 407.9 1380.1 409.4 1380.7 410.9 1379.7 412.4 1379.1 413.9 1379.1 415.4 1378.3 416.9 1381.7 418.4 1380.7 419.9 1379.8 421.4 1382.5 422.9 1381.1 424.4 1382.9 425.9 1380.8 427.4 1383.4 429 1380.9 430.5 1381.6 432 1381.9 433.5 1382.4 435 1379.8 436.5 1381.4 438 1380.7 439.5 1382.7 441 1381.8 442.5 1383.4" stroke="#37ab4b" stroke-width="3.0" stroke-linejoin="round"/>
<path d="M67 1363.7 68.5 1361.9 70 1365.6 71.5 1368 73 1365.6 74.5 1367 76 1366.7 77.5 1367.5 79 1369 80.5 1370.3 82 1370.7 83.5 1372.4 85 1373.9 86.5 1371.9 88 1371.9 89.5 1368.9 91 1369.5 92.5 1367.3 94 1368.8 95.5 1371 97 1371.4 98.5 1369 100 1366.3 101.5 1366.9 103 1370.1 104.5 1367.9 106 1370.1 107.6 1370.3 109.1 1369 110.6 1367.7 112.1 1367.1 113.6 1366.2 115.1 1365.7 116.6 1367.2 118.1 1365 119.6 1364.8 121.1 1364.9 122.6 1365.3 124.1 1366 125.6 1366.5 127.1 1363.5 128.6 1362.4 130.1 1362.4 131.6 1363.3 133.1 1363.3 134.6 1363.9 136.1 1364.3 137.6 1367.2 139.1 1368.9 140.6 1371.1 142.1 1370.2 143.6 1369.1 145.1 1372.9 146.6 1374.8 148.1 1374.3 149.6 1373.3 151.1 1371.1 152.6 1370.2 154.1 1369.5 155.6 1368 157.1 1367.1 158.6 1367.8 160.1 1366 161.6 1367.1 163.1 1368.6 164.6 1368.1 166.1 1369.5 167.6 1372.6 169.1 1371.8 170.6 1371.8 172.1 1371.1 173.6 1370.6 175.1 1370.8 176.6 1368.1 178.1 1367.8 179.6 1368.3 181.1 1368 182.6 1366.3 184.1 1366.4 185.6 1363.5 187.1 1363.9 188.7 1364.8 190.2 1365.2 191.7 1363.7 193.2 1362.5 194.7 1362.1 196.2 1363 197.7 1359.2 199.2 1360.4 200.7 1360.4 202.2 1360.1 203.7 1361.9 205.2 1362.6 206.7 1361.7 208.2 1360.7 209.7 1360.7 211.2 1360.9 212.7 1359.3 214.2 1359.3 215.7 1358.5 217.2 1358.7 218.7 1358.4 220.2 1359.6 221.7 1359.9 223.2 1360.5 224.7 1361.3 226.2 1361.1 227.7 1359.3 229.2 1363.7 230.7 1364.1 232.2 1363.6 233.7 1363.9 235.2 1365 236.7 1364.2 238.2 1367 239.7 1365.8 241.2 1364.6 242.7 1364.9 244.2 1365.8 245.7 1365.9 247.2 1363.8 248.7 1363.2 250.2 1361.5 251.7 1361.9 253.2 1359.6 254.7 1357.7 256.2 1358.4 257.7 1358.4 259.2 1356.3 260.7 1355.6 262.2 1354.8 263.7 1356.9 265.2 1355.6 266.7 1357.5 268.3 1355.6 269.8 1355.7 271.3 1356.4 272.8 1357.8 274.3 1355.9 275.8 1358.8 277.3 1357.3 278.8 1361.9 280.3 1360.6 281.8 1363.2 283.3 1364 284.8 1364.7 286.3 1367.3 287.8 1366.9 289.3 1366.6 290.8 1364.1 292.3 1366 293.8 1367.6 295.3 1366.3 296.8 1366.1 298.3 1365.8 299.8 1365.1 301.3 1364.1 302.8 1362.1 304.3 1363.2 305.8 1363.5 307.3 1364.3 308.8 1364.1 310.3 1365.3 311.8 1364.5 313.3 1364.1 314.8 1363.7 316.3 1364.5 317.8 1363.4 319.3 1365.4 320.8 1365.8 322.3 1365.3 323.8 1365.6 325.3 1364.7 326.8 1365.4 328.3 1365.3 329.8 1366.1 331.3 1366.7 332.8 1367.3 334.3 1369.2 335.8 1367.3 337.3 1365.6 338.8 1368.4 340.3 1367.4 341.8 1369.4 343.3 1367.7 344.8 1368.8 346.3 1369.6 347.8 1369.2 349.4 1370.2 350.9 1371.6 352.4 1370.2 353.9 1370.7 355.4 1369.7 356.9 1370 358.4 1370.6 359.9 1368.3 361.4 1370.5 362.9 1371.2 364.4 1370.4 365.9 1371.9 367.4 1371.1 368.9 1370.8 370.4 1370.7 371.9 1372.5 373.4 1372.6 374.9 1371.8 376.4 1372.5 377.9 1373.6 379.4 1374.9 380.9 1373.3 382.4 1374.2 383.9 1373.5 385.4 1375.3 386.9 1375.4 388.4 1376.4 389.9 1378.2 391.4 1377.8 392.9 1379.2 394.4 1376.4 395.9 1378 397.4 1377.1 398.9 1377.9 400.4 1376.8 401.9 1379.5 403.4 1380 404.9 1380 406.4 1377.6 407.9 1377.6 409.4 1379.6 410.9 1377 412.4 1375.5 413.9 1375.9 415.4 1377 416.9 1379.7 418.4 1377.7 419.9 1376.3 421.4 1376.2 422.9 1377.2 424.4 1377.4 425.9 1377.1 427.4 1375.1 429 1376.7 430.5 1376.4 432 1375 433.5 1376 435 1375.9 436.5 1374 438 1377.1 439.5 1376.4 441 1378.9 442.5 1381.4" stroke="#e8202a" stroke-width="3.0" stroke-linejoin="round"/>
<path d="M67 1363.6 68.3 1366.6 69.6 1357.6 70.9 1359.3 72.2 1356.3 73.5 1357.4 74.8 1362.6 76.1 1352.2 77.4 1351.6 78.7 1354.9 80 1355.2 81.3 1357.8 82.6 1356.4 83.9 1355.9 85.3 1362.3 86.6 1363.2 87.9 1360.8 89.2 1350 90.5 1353.3 91.8 1348.4 93.1 1339.7 94.4 1338.6 95.7 1345.8 97 1350.6 98.3 1342.7 99.6 1341.9 100.9 1342.3 102.2 1349.7 103.5 1349.6 104.8 1345.2 106.1 1349.3 107.4 1347.9 108.7 1342.6 110 1342.6 111.3 1347 112.6 1344.3 113.9 1349.2 115.2 1347.9 116.5 1352.2 117.8 1349 119.1 1341.8 120.5 1333.1 121.8 1341 123.1 1345.1 124.4 1331.6 125.7 1336.2 127 1325 128.3 1323.9 129.6 1327.8 130.9 1326.2 132.2 1325.7 133.5 1323.4 134.8 1320 136.1 1310.3 137.4 1318.7 138.7 1323.1 140 1317.4 141.3 1314.4 142.6 1316.9 143.9 1316.6 145.2 1320.7 146.5 1332.5 147.8 1325.7 149.1 1318.7 150.4 1318.3 151.7 1310.6 153 1317.2 154.3 1322.6 155.7 1327.1 157 1335.6 158.3 1332.7 159.6 1328.9 160.9 1320.5 162.2 1316.5 163.5 1318.8 164.8 1316.6 166.1 1311.8 167.4 1318.4 168.7 1319.1 170 1322.7 171.3 1320 172.6 1314.6 173.9 1312.9 175.2 1318.6 176.5 1311.5 177.8 1307.5 179.1 1314.3 180.4 1315.4 181.7 1316.7 183 1308.4 184.3 1310 185.6 1311.6 186.9 1303.2 188.2 1301.7 189.5 1305.2 190.9 1305.4 192.2 1301.6 193.5 1303.6 194.8 1315.9 196.1 1321.4 197.4 1318.5 198.7 1318.9 200 1318.1 201.3 1314.3 202.6 1314.3 203.9 1302.2 205.2 1301.7 206.5 1294.6 207.8 1300.9 209.1 1292.2 210.4 1295.7 211.7 1298.1 213 1293.9 214.3 1297.4 215.6 1297.6 216.9 1294.9 218.2 1301.4 219.5 1306.4 220.8 1303.9 222.1 1299 223.4 1303.6 224.7 1294.2 226.1 1299 227.4 1297.6 228.7 1293.9 230 1298.6 231.3 1309.6 232.6 1309.8 233.9 1309.2 235.2 1302.2 236.5 1314.9 237.8 1308.3 239.1 1314 240.4 1318.5 241.7 1313.5 243 1308.4 244.3 1309.1 245.6 1308 246.9 1311.7 248.2 1315.1 249.5 1305.6 250.8 1307.6 252.1 1313.1 253.4 1295.5 254.7 1303.9 256 1310.6 257.3 1314.2 258.6 1312.8 259.9 1305.2 261.3 1309.7 262.6 1303.6 263.9 1302.1 265.2 1302.7 266.5 1302.9 267.8 1299.6 269.1 1311 270.4 1308.2 271.7 1303.9 273 1313.2 274.3 1312.3 275.6 1306.6 276.9 1303.1 278.2 1313.4 279.5 1312.1 280.8 1299.7 282.1 1307.8 283.4 1311.6 284.7 1307.6 286 1304.1 287.3 1296.2 288.6 1306 289.9 1299.5 291.2 1300.4 292.5 1297.1 293.8 1298 295.1 1305.9 296.5 1317.7 297.8 1323.6 299.1 1319.1 300.4 1322.6 301.7 1318.1 303 1324.4 304.3 1318.7 305.6 1327 306.9 1314.4 308.2 1318.8 309.5 1332.9 310.8 1329.7 312.1 1332.8 313.4 1336.9 314.7 1337 316 1340.5 317.3 1337.9 318.6 1341.5 319.9 1338.8 321.2 1341 322.5 1348.6 323.8 1337.8 325.1 1339.1 326.4 1339.3 327.7 1337.1 329 1340 330.3 1348.2 331.7 1350.9 333 1349.9 334.3 1352.8 335.6 1349.2 336.9 1343.5 338.2 1354.1 339.5 1349.9 340.8 1347 342.1 1350.4 343.4 1346.7 344.7 1353.6 346 1352.6 347.3 1354 348.6 1359.5 349.9 1356.5 351.2 1356.3 352.5 1355.2 353.8 1355.2 355.1 1356.1 356.4 1361.9 357.7 1355.1 359 1362.9 360.3 1360.5 361.6 1361.5 362.9 1361.6 364.2 1357.5 365.5 1364.2 366.9 1366.1 368.2 1365.2 369.5 1363.5 370.8 1360.7 372.1 1368.8 373.4 1365.9 374.7 1377.1 376 1369.8 377.3 1370.9 378.6 1368.6 379.9 1364.4 381.2 1365.1 382.5 1375.5 383.8 1367.9 385.1 1368.2 386.4 1370.8 387.7 1370.2 389 1385.2 390.3 1374.7 391.6 1374 392.9 1367.6 394.2 1372.7 395.5 1376.1 396.8 1380.9 398.1 1378 399.4 1380.8 400.7 1380.2 402.1 1381.8 403.4 1378 404.7 1376.7 406 1374.3 407.3 1377.8 408.6 1386.5 409.9 1378.3 411.2 1374.2 412.5 1380.3 413.8 1372.7 415.1 1371.7 416.4 1374 417.7 1380.9 419 1378.2 420.3 1378 421.6 1379.9 422.9 1376.2 424.2 1383.5 425.5 1383.8 426.8 1384.2 428.1 1389.8 429.4 1381.2 430.7 1381.8 432 1379.2 433.3 1383.2 434.6 1379.8 435.9 1384.7 437.3 1391.2 438.6 1379.4 439.9 1385.2 441.2 1389 442.5 1387.9" stroke="#1b75bb" stroke-width="3.0" stroke-linejoin="round"/>
<path d="M364.4 1159.1V1408.5" stroke="#231f20" stroke-width="1.6" stroke-dasharray="5.4 4.2"/>
<path d="M67 1159.1V1408.5H471.4M67 1180.3h-8.3M67 1213.1h-8.3M67 1245.9h-8.3M67 1278.7h-8.3M67 1311.4h-8.3M67 1344.2h-8.3M67 1377h-8.3M67 1409.8h-8.3M67 1408.5v7M141.3 1408.5v7M215.7 1408.5v7M290 1408.5v7M364.4 1408.5v7M438.8 1408.5v7" stroke="#231f20" stroke-width="1.7"/>
<text transform="translate(54.7 1187.8) scale(1.02 1)" font-size="21" text-anchor="end">12</text>
<text transform="translate(54.7 1220.6) scale(1.02 1)" font-size="21" text-anchor="end">10</text>
<text transform="translate(54.7 1253.4) scale(1.02 1)" font-size="21" text-anchor="end">8</text>
<text transform="translate(54.7 1286.2) scale(1.02 1)" font-size="21" text-anchor="end">6</text>
<text transform="translate(54.7 1319) scale(1.02 1)" font-size="21" text-anchor="end">4</text>
<text transform="translate(54.7 1351.7) scale(1.02 1)" font-size="21" text-anchor="end">2</text>
<text transform="translate(54.7 1384.5) scale(1.02 1)" font-size="21" text-anchor="end">0</text>
<text transform="translate(54.7 1417.3) scale(1.02 1)" font-size="21" text-anchor="end">-2</text>
<text transform="translate(65 1433.5) scale(1.02 1)" font-size="21" text-anchor="middle">-8</text>
<text transform="translate(139.3 1433.5) scale(1.02 1)" font-size="21" text-anchor="middle">-6</text>
<text transform="translate(213.7 1433.5) scale(1.02 1)" font-size="21" text-anchor="middle">-4</text>
<text transform="translate(288 1433.5) scale(1.02 1)" font-size="21" text-anchor="middle">-2</text>
<text transform="translate(364.4 1433.5) scale(1.02 1)" font-size="21" text-anchor="middle">0</text>
<text transform="translate(438.8 1433.5) scale(1.02 1)" font-size="21" text-anchor="middle">2</text>
<text transform="translate(27.5 1283.8) rotate(-90) scale(1.06 1)" font-size="23" text-anchor="middle">ΔF/F (%)</text>
<text transform="translate(269.2 1454.8) scale(1.06 1)" font-size="23" text-anchor="middle">End of struggling (s)</text>
<path d="M253 1174.4L288 1174.4" stroke="#37ab4b" stroke-width="3.4"/>
<text transform="translate(291.4 1182) scale(1.02 1)" font-size="21">PF</text>
<text transform="translate(316.8 1189.7)" font-size="17.3">CPu</text>
<path d="M253 1202L288 1202" stroke="#e8202a" stroke-width="3.4"/>
<text transform="translate(291.4 1210) scale(1.02 1)" font-size="21">PF</text>
<text transform="translate(316.8 1217.7)" font-size="17.3">STN</text>
<path d="M253 1233.2L288 1233.2" stroke="#1b75bb" stroke-width="3.4"/>
<text transform="translate(291.4 1241) scale(1.02 1)" font-size="21">PF</text>
<text transform="translate(316.8 1248.7)" font-size="17.3">NAc</text>
<path d="M533.3 1349.4 535.3 1346.2 537.3 1349.6 539.3 1349.9 541.3 1346.1 543.3 1348.3 545.3 1346.3 547.3 1347.9 549.3 1348.6 551.3 1350 553.3 1346.7 555.3 1345.8 557.4 1349.7 559.4 1350.3 561.4 1348.4 563.4 1345.7 565.4 1344.5 567.4 1343.7 569.4 1342.8 571.4 1342.2 573.4 1342.3 575.4 1344 577.4 1344.1 579.4 1346.5 581.4 1346 583.4 1344 585.4 1337.8 587.4 1346.4 589.4 1346.2 591.4 1346.9 593.4 1352.1 595.4 1352.1 597.4 1353.1 599.4 1348.2 601.5 1352.4 603.5 1352.9 605.5 1349.9 607.5 1349.9 609.5 1351.5 611.5 1351.1 613.5 1351.8 615.5 1351 617.5 1352.3 619.5 1348.4 621.5 1351 623.5 1350.2 625.5 1348.6 627.5 1348.4 629.5 1348.8 631.5 1350.1 633.5 1348 635.5 1349.7 637.5 1350.7 639.5 1350.2 641.5 1351.6 643.5 1350.3 645.6 1348.8 647.6 1350.2 649.6 1350.5 651.6 1350 653.6 1347.6 655.6 1347.7 657.6 1348.5 659.6 1345.2 661.6 1346.9 663.6 1349.1 665.6 1351.6 667.6 1351.4 669.6 1353.1 671.6 1350.9 673.6 1351.8 675.6 1350.9 677.6 1349.5 679.6 1352.4 681.6 1349.9 683.6 1350.9 685.6 1352.9 687.6 1353.3 689.6 1353.9 691.7 1354.5 693.7 1357.4 695.7 1356.1 697.7 1357.4 699.7 1359.6 701.7 1356.1 703.7 1356.9 705.7 1357.2 707.7 1355.4 709.7 1358.7 711.7 1355.7 713.7 1357 715.7 1358.8 717.7 1357.1 719.7 1355.3 721.7 1354.6 723.7 1358.3 725.7 1358.1 727.7 1359.3 729.7 1362.9 731.7 1360.5 733.7 1363.1 735.8 1362.9 737.8 1362.4 739.8 1359.3 741.8 1361.9 743.8 1364.1 745.8 1362.8 747.8 1365.3 749.8 1365.9 751.8 1363.4 753.8 1365.6 755.8 1366.5 757.8 1367.7 759.8 1368.2 761.8 1366.2 763.8 1368.1 765.8 1367 767.8 1367.3 769.8 1364.6 771.8 1367.5 773.8 1367.6 775.8 1365.4 777.8 1367.3 779.9 1362.4 781.9 1364.8 783.9 1364.9 785.9 1363.5 787.9 1362.2 789.9 1362.4 791.9 1360.6 793.9 1361.5 795.9 1361.7 797.9 1361.3 799.9 1362.9 801.9 1360.5 803.9 1361.8 805.9 1359.1 807.9 1359.9 809.9 1360.4 811.9 1359.7 813.9 1360.1 815.9 1359.7 817.9 1362.3 819.9 1359.4 821.9 1361.7 823.9 1362.5 826 1361.8 828 1362.7 830 1362.8 832 1362 834 1364.9 836 1366.5 838 1368.5 840 1370.8 842 1368.7 844 1367.2 846 1366.7 848 1368.2 850 1365.3 852 1364.5 854 1364.3 856 1364.9 858 1363.8 860 1363.6 862 1364.8 864 1363.9 866 1362.9 868 1363.2 870.1 1365 872.1 1365.6 874.1 1365.7 876.1 1364.1 878.1 1365.1 880.1 1364.1 882.1 1366.4 884.1 1365.8 886.1 1366.4 888.1 1365.7 890.1 1366.6 892.1 1368.3 894.1 1366.6 896.1 1367.8 898.1 1368.4 900.1 1370.6 902.1 1369.1 904.1 1372 906.1 1370.5 908.1 1370.3L908.1 1392 906.1 1390.4 904.1 1388.7 902.1 1389.5 900.1 1389.9 898.1 1390.2 896.1 1389.1 894.1 1388.2 892.1 1387.6 890.1 1387.5 888.1 1388 886.1 1388.7 884.1 1385.2 882.1 1384.5 880.1 1384.1 878.1 1384 876.1 1383.5 874.1 1383.3 872.1 1383.5 870.1 1382.5 868 1381.7 866 1382.3 864 1384.6 862 1382.9 860 1381.5 858 1386.3 856 1384.7 854 1385.7 852 1387.5 850 1387.8 848 1388.5 846 1390.2 844 1389.5 842 1387.7 840 1388.8 838 1387.7 836 1385.1 834 1386.1 832 1384 830 1384.6 828 1383.9 826 1384.2 823.9 1380.8 821.9 1385.3 819.9 1380.6 817.9 1382 815.9 1381.9 813.9 1381.7 811.9 1385.3 809.9 1384.7 807.9 1382.5 805.9 1380.7 803.9 1383.8 801.9 1386.1 799.9 1384.6 797.9 1387.2 795.9 1384.8 793.9 1388.3 791.9 1386.5 789.9 1390.4 787.9 1389 785.9 1393.6 783.9 1395.2 781.9 1395.8 779.9 1395.9 777.8 1394.8 775.8 1397.1 773.8 1397.1 771.8 1394.3 769.8 1396.1 767.8 1394.4 765.8 1395.4 763.8 1395.5 761.8 1392.7 759.8 1392 757.8 1393.8 755.8 1392.3 753.8 1392.8 751.8 1397.4 749.8 1394 747.8 1391.6 745.8 1391.1 743.8 1389.8 741.8 1392.7 739.8 1388.6 737.8 1388 735.8 1387.6 733.7 1390.7 731.7 1389.2 729.7 1390.7 727.7 1388 725.7 1386.8 723.7 1390.6 721.7 1390.7 719.7 1388.2 717.7 1390.1 715.7 1390.3 713.7 1388.5 711.7 1390.1 709.7 1389.6 707.7 1388.9 705.7 1386.2 703.7 1387.5 701.7 1386 699.7 1385.2 697.7 1385.2 695.7 1385.6 693.7 1387.7 691.7 1387.9 689.6 1393 687.6 1387.9 685.6 1387.3 683.6 1386.3 681.6 1385.6 679.6 1385.3 677.6 1385.9 675.6 1386.8 673.6 1382.9 671.6 1381.3 669.6 1383.4 667.6 1385.3 665.6 1383.3 663.6 1380.9 661.6 1380.7 659.6 1380.9 657.6 1379.7 655.6 1380.4 653.6 1382.6 651.6 1382.6 649.6 1383.6 647.6 1382.9 645.6 1386 643.5 1383.1 641.5 1384.3 639.5 1382.2 637.5 1386.7 635.5 1390.2 633.5 1385.2 631.5 1385.7 629.5 1389.2 627.5 1387.5 625.5 1393.2 623.5 1389 621.5 1389.8 619.5 1389 617.5 1384.8 615.5 1392.3 613.5 1389.6 611.5 1389.1 609.5 1387.1 607.5 1384.5 605.5 1386.4 603.5 1383.7 601.5 1385.1 599.4 1387.3 597.4 1384.1 595.4 1386.3 593.4 1382.9 591.4 1380.1 589.4 1378 587.4 1380.6 585.4 1382.7 583.4 1380.6 581.4 1385.4 579.4 1383.3 577.4 1384.6 575.4 1385.4 573.4 1382.3 571.4 1383.3 569.4 1384.6 567.4 1382.7 565.4 1383.5 563.4 1386.4 561.4 1386 559.4 1393 557.4 1395.2 555.3 1392.9 553.3 1393.5 551.3 1388.2 549.3 1390.3 547.3 1387.3 545.3 1383.3 543.3 1389.9 541.3 1389 539.3 1388.8 537.3 1388.1 535.3 1391.2 533.3 1390.5Z" class="s" style="fill:#37ab4b"/>
<path d="M533.3 1366.8 535.3 1365.8 537.3 1367.1 539.3 1367 541.3 1367.5 543.3 1366.1 545.3 1368.2 547.3 1370.4 549.3 1365.7 551.3 1365.7 553.3 1369.8 555.3 1370.6 557.4 1369.7 559.4 1366.7 561.4 1366.8 563.4 1364 565.4 1362.4 567.4 1366.6 569.4 1359.8 571.4 1358.2 573.4 1362.1 575.4 1361.7 577.4 1360.8 579.4 1364.7 581.4 1361.9 583.4 1362.9 585.4 1362.6 587.4 1363.2 589.4 1359.9 591.4 1364 593.4 1366.3 595.4 1367.8 597.4 1368.5 599.4 1367.7 601.5 1367.6 603.5 1364.4 605.5 1366.8 607.5 1364.5 609.5 1363.8 611.5 1361.8 613.5 1364.7 615.5 1360.5 617.5 1358.8 619.5 1359.9 621.5 1364.9 623.5 1366 625.5 1367.6 627.5 1366.5 629.5 1363.9 631.5 1363.4 633.5 1367.6 635.5 1364.4 637.5 1364.2 639.5 1366.6 641.5 1364.8 643.5 1365.3 645.6 1363.2 647.6 1361.8 649.6 1363.6 651.6 1362.3 653.6 1357.2 655.6 1359.5 657.6 1363.1 659.6 1363.8 661.6 1361.4 663.6 1364.5 665.6 1368.5 667.6 1367.1 669.6 1366.1 671.6 1360.5 673.6 1361.6 675.6 1365.6 677.6 1362.4 679.6 1359.7 681.6 1361.8 683.6 1361 685.6 1360.5 687.6 1357.8 689.6 1357 691.7 1358 693.7 1357 695.7 1363.6 697.7 1364.9 699.7 1363.6 701.7 1360.2 703.7 1366.8 705.7 1366.4 707.7 1367.9 709.7 1368.5 711.7 1363.3 713.7 1366.9 715.7 1362.5 717.7 1361.9 719.7 1364.5 721.7 1365.7 723.7 1367.2 725.7 1367.6 727.7 1369.8 729.7 1369.3 731.7 1364 733.7 1364.8 735.8 1370 737.8 1367.6 739.8 1364.7 741.8 1365 743.8 1365 745.8 1366.3 747.8 1365.7 749.8 1365.9 751.8 1370.8 753.8 1367.7 755.8 1369.6 757.8 1368.5 759.8 1366.7 761.8 1369 763.8 1368.4 765.8 1368.2 767.8 1366.6 769.8 1364.4 771.8 1361.1 773.8 1365 775.8 1366.1 777.8 1365.2 779.9 1363.3 781.9 1364 783.9 1365.2 785.9 1362.2 787.9 1362.1 789.9 1363.7 791.9 1365 793.9 1364.9 795.9 1364.5 797.9 1365.5 799.9 1363.6 801.9 1367.8 803.9 1369 805.9 1368.2 807.9 1368.3 809.9 1367.8 811.9 1366.8 813.9 1367.6 815.9 1365.2 817.9 1365 819.9 1367.8 821.9 1363 823.9 1364.5 826 1365.6 828 1366.1 830 1366.9 832 1366.8 834 1366.1 836 1368.4 838 1368.1 840 1368.3 842 1367.5 844 1369.2 846 1368.5 848 1367.6 850 1367.8 852 1362.9 854 1364.9 856 1366.7 858 1366.5 860 1365 862 1363.7 864 1361.7 866 1364.9 868 1364.9 870.1 1364.2 872.1 1366.3 874.1 1365.4 876.1 1368.5 878.1 1368.6 880.1 1365.5 882.1 1369.4 884.1 1369.9 886.1 1370.4 888.1 1368.1 890.1 1368.1 892.1 1371.2 894.1 1369.3 896.1 1369 898.1 1370.9 900.1 1368.3 902.1 1370.2 904.1 1370.5 906.1 1366.8 908.1 1368.8L908.1 1383.5 906.1 1385.1 904.1 1387.2 902.1 1382.9 900.1 1383.4 898.1 1387 896.1 1386.3 894.1 1382.1 892.1 1383.1 890.1 1385.3 888.1 1384.5 886.1 1383.8 884.1 1382.9 882.1 1383.6 880.1 1385.3 878.1 1383 876.1 1381.8 874.1 1384.6 872.1 1387.6 870.1 1383.6 868 1381.5 866 1381.5 864 1381.4 862 1381.8 860 1382.6 858 1384.6 856 1384.1 854 1384.4 852 1388 850 1386.6 848 1388.3 846 1388.1 844 1390.5 842 1389.1 840 1388.3 838 1389.3 836 1389.3 834 1391.2 832 1388.7 830 1385.8 828 1387.5 826 1387.5 823.9 1389 821.9 1385.3 819.9 1385.6 817.9 1385.9 815.9 1386.6 813.9 1386.2 811.9 1385.9 809.9 1387 807.9 1386.5 805.9 1386.5 803.9 1389.7 801.9 1387.6 799.9 1389.2 797.9 1389.6 795.9 1384.8 793.9 1381.7 791.9 1384.9 789.9 1380.9 787.9 1381 785.9 1383.4 783.9 1384.3 781.9 1386 779.9 1382.3 777.8 1381.3 775.8 1381.6 773.8 1382.1 771.8 1385.4 769.8 1388.4 767.8 1383.6 765.8 1384.5 763.8 1383.1 761.8 1385.6 759.8 1384.2 757.8 1385.7 755.8 1387 753.8 1383.6 751.8 1384.8 749.8 1385.1 747.8 1384.1 745.8 1388 743.8 1384.2 741.8 1385.2 739.8 1385.3 737.8 1387.4 735.8 1387.9 733.7 1387.4 731.7 1388 729.7 1387 727.7 1384.2 725.7 1382.3 723.7 1381.5 721.7 1383.1 719.7 1382.2 717.7 1381.7 715.7 1380.4 713.7 1382.7 711.7 1387.4 709.7 1386.2 707.7 1386.8 705.7 1385.1 703.7 1383.6 701.7 1383.4 699.7 1382.6 697.7 1380.1 695.7 1380.2 693.7 1379.4 691.7 1380.6 689.6 1380.8 687.6 1378.4 685.6 1379.3 683.6 1381.6 681.6 1378.1 679.6 1381.9 677.6 1383 675.6 1383.2 673.6 1381.3 671.6 1380.9 669.6 1381.2 667.6 1383.5 665.6 1382.6 663.6 1384.4 661.6 1382.6 659.6 1384.3 657.6 1379.5 655.6 1377.1 653.6 1377.4 651.6 1377.7 649.6 1378.5 647.6 1380.6 645.6 1381.7 643.5 1381.8 641.5 1383.2 639.5 1381.1 637.5 1383.2 635.5 1382 633.5 1383.1 631.5 1384.5 629.5 1384.8 627.5 1383.7 625.5 1384 623.5 1385.8 621.5 1381.8 619.5 1383.6 617.5 1382.8 615.5 1383.4 613.5 1379.2 611.5 1382.5 609.5 1382.8 607.5 1384.2 605.5 1383.7 603.5 1382.8 601.5 1382.6 599.4 1384.7 597.4 1384.2 595.4 1384.5 593.4 1382.9 591.4 1381.3 589.4 1378.8 587.4 1378.3 585.4 1380 583.4 1380.6 581.4 1381.6 579.4 1383.3 577.4 1381 575.4 1377.7 573.4 1382.5 571.4 1379.9 569.4 1379.2 567.4 1381.5 565.4 1380.7 563.4 1382.3 561.4 1383.3 559.4 1382.2 557.4 1385.3 555.3 1387.7 553.3 1387.3 551.3 1385.3 549.3 1385.5 547.3 1385.5 545.3 1386.5 543.3 1388.4 541.3 1384.9 539.3 1385.2 537.3 1388.7 535.3 1387.9 533.3 1382.7Z" class="k" style="fill:#231f20"/>
<path d="M533.3 1371.4 534.8 1370.3 536.3 1368.5 537.8 1369.2 539.3 1368.4 540.8 1367.6 542.3 1368.4 543.8 1370.5 545.3 1369.3 546.8 1368.4 548.4 1369 549.9 1367.8 551.4 1371 552.9 1369.6 554.4 1367.8 555.9 1367.5 557.4 1368.9 558.9 1367.4 560.4 1366.4 561.9 1366 563.4 1365.4 564.9 1363.3 566.4 1365.1 567.9 1363.2 569.4 1364.2 570.9 1362.3 572.4 1362.1 573.9 1362.7 575.5 1366 577 1364.7 578.5 1366.6 580 1366 581.5 1367.6 583 1366.6 584.5 1366 586 1362.7 587.5 1362.2 589 1361.5 590.5 1361.5 592 1364.8 593.5 1365.3 595 1367.2 596.5 1366.5 598 1367 599.5 1368.5 601 1367 602.5 1367.5 604.1 1368.2 605.6 1370 607.1 1368.7 608.6 1369.3 610.1 1370.9 611.6 1368 613.1 1367.7 614.6 1369.4 616.1 1366.3 617.6 1368 619.1 1369.1 620.6 1369.6 622.1 1370 623.6 1369.4 625.1 1370.1 626.6 1370.1 628.1 1368 629.6 1367.6 631.1 1368.5 632.7 1369.5 634.2 1367.4 635.7 1366.8 637.2 1367.9 638.7 1366.1 640.2 1366.4 641.7 1365 643.2 1366.9 644.7 1366.4 646.2 1362.5 647.7 1363 649.2 1365.9 650.7 1365.4 652.2 1365.9 653.7 1364.5 655.2 1366 656.7 1365.6 658.2 1367.5 659.8 1364.9 661.3 1364.8 662.8 1366.5 664.3 1366.8 665.8 1367.6 667.3 1365.6 668.8 1365.2 670.3 1366.5 671.8 1367 673.3 1366.4 674.8 1364.5 676.3 1365 677.8 1365.4 679.3 1365.5 680.8 1366.9 682.3 1367.8 683.8 1369.8 685.3 1370.8 686.8 1370.1 688.4 1372.9 689.9 1374.9 691.4 1374.8 692.9 1372.9 694.4 1372.8 695.9 1370.8 697.4 1371.4 698.9 1372.5 700.4 1372.6 701.9 1373.5 703.4 1374.3 704.9 1373.2 706.4 1372.8 707.9 1373.3 709.4 1373 710.9 1371.7 712.4 1372.7 713.9 1374.9 715.4 1374.4 717 1374.8 718.5 1373.2 720 1372.7 721.5 1372.3 723 1372.7 724.5 1373.6 726 1372.7 727.5 1374.5 729 1374.3 730.5 1374.9 732 1374 733.5 1375.8 735 1377.5 736.5 1377.7 738 1376.1 739.5 1376.1 741 1378.8 742.5 1377 744.1 1377.7 745.6 1377.2 747.1 1378.2 748.6 1378.2 750.1 1378.9 751.6 1379.8 753.1 1377.9 754.6 1380.2 756.1 1381.1 757.6 1381.1 759.1 1382.4 760.6 1379.1 762.1 1378.8 763.6 1382.2 765.1 1381.4 766.6 1380.4 768.1 1379.1 769.6 1379.7 771.1 1381.3 772.7 1382.8 774.2 1380.1 775.7 1379.8 777.2 1380.2 778.7 1380.5 780.2 1379.5 781.7 1378.5 783.2 1379 784.7 1377.5 786.2 1376.4 787.7 1376.6 789.2 1374.8 790.7 1375.6 792.2 1375.1 793.7 1372.8 795.2 1373.5 796.7 1372.7 798.2 1371.9 799.7 1373 801.3 1373.2 802.8 1373.6 804.3 1371.7 805.8 1372.9 807.3 1372.3 808.8 1373.4 810.3 1372.4 811.8 1372.9 813.3 1374.9 814.8 1374 816.3 1373.4 817.8 1374.4 819.3 1374.9 820.8 1375.5 822.3 1373.3 823.8 1374.5 825.3 1375 826.8 1374.5 828.4 1375.9 829.9 1374.5 831.4 1373.9 832.9 1372.5 834.4 1374.5 835.9 1375 837.4 1375 838.9 1376.4 840.4 1376.8 841.9 1377.3 843.4 1377.1 844.9 1377 846.4 1377.4 847.9 1377 849.4 1375.2 850.9 1376.1 852.4 1377.6 853.9 1377.3 855.4 1374.9 857 1375.6 858.5 1374.1 860 1373.8 861.5 1372.8 863 1376.3 864.5 1376.4 866 1375 867.5 1375.4 869 1375.7 870.5 1374.6 872 1374.9 873.5 1376.2 875 1377.3 876.5 1375.9 878 1376.8 879.5 1376.1 881 1374.8 882.5 1375.8 884.1 1374.5 885.6 1374.3 887.1 1376.5 888.6 1375.5 890.1 1376.1 891.6 1378.1 893.1 1378.2 894.6 1379.6 896.1 1377.6 897.6 1379.4 899.1 1379.4 900.6 1380.7 902.1 1380.5 903.6 1382.4 905.1 1383.5 906.6 1382.2 908.1 1384.1" stroke="#37ab4b" stroke-width="3.0" stroke-linejoin="round"/>
<path d="M533.3 1375.1 534.8 1374.6 536.3 1377.8 537.8 1377.1 539.3 1375 540.8 1377.9 542.3 1379.5 543.8 1378.8 545.3 1378.3 546.8 1379.2 548.4 1377.9 549.9 1378.8 551.4 1380.6 552.9 1379.2 554.4 1376.4 555.9 1376.5 557.4 1376.1 558.9 1376.8 560.4 1375.5 561.9 1372.4 563.4 1373.1 564.9 1374.4 566.4 1374.8 567.9 1372.1 569.4 1372.4 570.9 1373.8 572.4 1372.8 573.9 1373.8 575.5 1374.9 577 1373.2 578.5 1373.4 580 1371.4 581.5 1371.8 583 1373 584.5 1372.7 586 1370.7 587.5 1371.4 589 1369.9 590.5 1371.5 592 1373.6 593.5 1375.6 595 1375.9 596.5 1379.1 598 1375.3 599.5 1373.6 601 1374.8 602.5 1373.3 604.1 1376 605.6 1374 607.1 1374 608.6 1372.7 610.1 1373.5 611.6 1373.9 613.1 1371.7 614.6 1371.7 616.1 1371.9 617.6 1372.2 619.1 1374.5 620.6 1376.3 622.1 1375.4 623.6 1375.4 625.1 1374.5 626.6 1376.4 628.1 1376.4 629.6 1375.5 631.1 1375.4 632.7 1375.6 634.2 1374.1 635.7 1373.2 637.2 1372.3 638.7 1372.7 640.2 1374 641.7 1372.8 643.2 1372.3 644.7 1372.8 646.2 1371.6 647.7 1370.5 649.2 1369.7 650.7 1370 652.2 1368.7 653.7 1371.7 655.2 1371.6 656.7 1373.7 658.2 1373.8 659.8 1373.7 661.3 1374.1 662.8 1375.6 664.3 1375.4 665.8 1377 667.3 1376.5 668.8 1377.6 670.3 1377 671.8 1374.5 673.3 1374.7 674.8 1377.1 676.3 1374.7 677.8 1376.3 679.3 1375.6 680.8 1373.4 682.3 1372 683.8 1372.9 685.3 1373.2 686.8 1373.2 688.4 1371.2 689.9 1371 691.4 1372.8 692.9 1371.2 694.4 1371.7 695.9 1373.3 697.4 1371.8 698.9 1372.7 700.4 1373.7 701.9 1374.4 703.4 1374.9 704.9 1374.6 706.4 1376 707.9 1375.7 709.4 1374.2 710.9 1374.9 712.4 1371.3 713.9 1370.8 715.4 1370.6 717 1370.2 718.5 1371.4 720 1372.2 721.5 1371.9 723 1373.5 724.5 1372.3 726 1374.9 727.5 1374 729 1375.2 730.5 1375.3 732 1376.7 733.5 1377.8 735 1379.5 736.5 1378.3 738 1376.7 739.5 1376.2 741 1376.3 742.5 1375.6 744.1 1376.3 745.6 1375.8 747.1 1374.9 748.6 1377.6 750.1 1379 751.6 1379.1 753.1 1378.6 754.6 1379 756.1 1380.2 757.6 1377.4 759.1 1376 760.6 1375.9 762.1 1375.7 763.6 1374.4 765.1 1373 766.6 1373.3 768.1 1374.1 769.6 1374.9 771.1 1374.1 772.7 1375.8 774.2 1373.8 775.7 1372.4 777.2 1373.7 778.7 1374.8 780.2 1374.1 781.7 1374.2 783.2 1372.7 784.7 1371.5 786.2 1370.9 787.7 1372.1 789.2 1374.2 790.7 1373.5 792.2 1372.7 793.7 1373.1 795.2 1374.2 796.7 1375.1 798.2 1374.5 799.7 1374.1 801.3 1375.6 802.8 1378.9 804.3 1379.4 805.8 1378.8 807.3 1379.2 808.8 1376.1 810.3 1377.1 811.8 1377.1 813.3 1374.6 814.8 1376.3 816.3 1376.9 817.8 1375.4 819.3 1373.7 820.8 1374.5 822.3 1375.4 823.8 1374.2 825.3 1373.9 826.8 1371 828.4 1373 829.9 1375.6 831.4 1375.9 832.9 1376 834.4 1378.5 835.9 1379.6 837.4 1379.8 838.9 1382.2 840.4 1383.6 841.9 1382.7 843.4 1382.8 844.9 1380.1 846.4 1380.7 847.9 1381.4 849.4 1381.2 850.9 1377.2 852.4 1376.5 853.9 1377.1 855.4 1376.4 857 1379.2 858.5 1374.7 860 1373.6 861.5 1374.5 863 1374.8 864.5 1374.8 866 1376.3 867.5 1375.8 869 1377.3 870.5 1376 872 1378 873.5 1377.1 875 1375.3 876.5 1377.2 878 1377.7 879.5 1377.1 881 1377.8 882.5 1378.2 884.1 1377.8 885.6 1378.1 887.1 1375.8 888.6 1375.3 890.1 1375.8 891.6 1377.1 893.1 1376.6 894.6 1376.5 896.1 1377.6 897.6 1378.5 899.1 1376.7 900.6 1375.8 902.1 1375.3 903.6 1379.5 905.1 1377.5 906.6 1378.4 908.1 1380.9" stroke="#231f20" stroke-width="3.0" stroke-linejoin="round"/>
<path d="M830.2 1158.6V1407.7" stroke="#231f20" stroke-width="1.6" stroke-dasharray="5.4 4.2"/>
<path d="M533.3 1158.6V1407.7H937.8M533.3 1180h-8.3M533.3 1212.8h-8.3M533.3 1245.5h-8.3M533.3 1278.2h-8.3M533.3 1311h-8.3M533.3 1343.8h-8.3M533.3 1376.5h-8.3M533.3 1409.2h-8.3M533.3 1407.7v7M607.5 1407.7v7M681.8 1407.7v7M756 1407.7v7M830.2 1407.7v7M904.4 1407.7v7" stroke="#231f20" stroke-width="1.7"/>
<text transform="translate(521 1187.5) scale(1.02 1)" font-size="21" text-anchor="end">12</text>
<text transform="translate(521 1220.3) scale(1.02 1)" font-size="21" text-anchor="end">10</text>
<text transform="translate(521 1253) scale(1.02 1)" font-size="21" text-anchor="end">8</text>
<text transform="translate(521 1285.8) scale(1.02 1)" font-size="21" text-anchor="end">6</text>
<text transform="translate(521 1318.5) scale(1.02 1)" font-size="21" text-anchor="end">4</text>
<text transform="translate(521 1351.3) scale(1.02 1)" font-size="21" text-anchor="end">2</text>
<text transform="translate(521 1384) scale(1.02 1)" font-size="21" text-anchor="end">0</text>
<text transform="translate(521 1416.8) scale(1.02 1)" font-size="21" text-anchor="end">-2</text>
<text transform="translate(531.3 1432.7) scale(1.02 1)" font-size="21" text-anchor="middle">-8</text>
<text transform="translate(605.5 1432.7) scale(1.02 1)" font-size="21" text-anchor="middle">-6</text>
<text transform="translate(679.8 1432.7) scale(1.02 1)" font-size="21" text-anchor="middle">-4</text>
<text transform="translate(754 1432.7) scale(1.02 1)" font-size="21" text-anchor="middle">-2</text>
<text transform="translate(830.2 1432.7) scale(1.02 1)" font-size="21" text-anchor="middle">0</text>
<text transform="translate(904.4 1432.7) scale(1.02 1)" font-size="21" text-anchor="middle">2</text>
<text transform="translate(493.8 1283.2) rotate(-90) scale(1.06 1)" font-size="23" text-anchor="middle">ΔF/F (%)</text>
<text transform="translate(735.5 1454) scale(1.06 1)" font-size="23" text-anchor="middle">End of struggling (s)</text>
<path d="M656.4 1164.5L691.3 1164.5" stroke="#231f20" stroke-width="3.4"/>
<text transform="translate(695.3 1173.4) scale(1.06 1)" font-size="20">405 nm</text>
<path d="M656.4 1188.6L691.3 1188.6" stroke="#37ab4b" stroke-width="3.4"/>
<text transform="translate(695.3 1196.8) scale(1.06 1)" font-size="20">470 nm</text>
<path d="M998.6 1340 1000.6 1336.7 1002.6 1340.2 1004.6 1345.4 1006.6 1346.3 1008.6 1346.6 1010.6 1343.8 1012.6 1340.7 1014.6 1346.8 1016.7 1346.4 1018.7 1347.1 1020.7 1342 1022.7 1343.8 1024.7 1347.1 1026.7 1344 1028.7 1342.2 1030.7 1345.2 1032.7 1345.7 1034.7 1348.1 1036.7 1348.7 1038.7 1347.2 1040.7 1342.9 1042.7 1342.9 1044.7 1343.8 1046.7 1339.1 1048.7 1342.6 1050.8 1341.8 1052.8 1343 1054.8 1343 1056.8 1337.7 1058.8 1336.9 1060.8 1338.7 1062.8 1337.1 1064.8 1335.2 1066.8 1334.9 1068.8 1334.7 1070.8 1338.4 1072.8 1340.5 1074.8 1345.5 1076.8 1345.9 1078.8 1342 1080.8 1340.9 1082.8 1342.3 1084.9 1343.6 1086.9 1342.3 1088.9 1343.7 1090.9 1342.6 1092.9 1348.9 1094.9 1348.8 1096.9 1347.1 1098.9 1350.2 1100.9 1354.4 1102.9 1353.7 1104.9 1353.7 1106.9 1355.5 1108.9 1350.9 1110.9 1348.8 1112.9 1349.7 1114.9 1347.7 1116.9 1346.1 1118.9 1344.4 1121 1341.4 1123 1338.5 1125 1343.7 1127 1344.3 1129 1344.4 1131 1345.3 1133 1341.9 1135 1345.1 1137 1346.1 1139 1347.6 1141 1343.5 1143 1341.1 1145 1340.3 1147 1336.8 1149 1338.1 1151 1339.2 1153 1341.7 1155.1 1338.8 1157.1 1343 1159.1 1341.4 1161.1 1338.8 1163.1 1344.4 1165.1 1340.6 1167.1 1343.3 1169.1 1341.8 1171.1 1341.6 1173.1 1342.4 1175.1 1342.1 1177.1 1340.6 1179.1 1338.9 1181.1 1337.5 1183.1 1334.7 1185.1 1337.3 1187.1 1336.2 1189.2 1333.8 1191.2 1330.6 1193.2 1329.7 1195.2 1331.3 1197.2 1330.3 1199.2 1332.2 1201.2 1331.4 1203.2 1332.1 1205.2 1329.8 1207.2 1327.7 1209.2 1327.9 1211.2 1332 1213.2 1330 1215.2 1331.4 1217.2 1333.9 1219.2 1341.2 1221.2 1345.1 1223.3 1340 1225.3 1344.1 1227.3 1343.6 1229.3 1345.1 1231.3 1344.1 1233.3 1340.1 1235.3 1342.2 1237.3 1346.1 1239.3 1345.5 1241.3 1349.8 1243.3 1351.1 1245.3 1351.2 1247.3 1350.7 1249.3 1349.2 1251.3 1354.4 1253.3 1353.6 1255.3 1351.8 1257.4 1351.9 1259.4 1351.7 1261.4 1353.3 1263.4 1351.7 1265.4 1352.9 1267.4 1353.1 1269.4 1355 1271.4 1358.4 1273.4 1354.5 1275.4 1359.1 1277.4 1358.6 1279.4 1361 1281.4 1362.4 1283.4 1361.4 1285.4 1363.9 1287.4 1364.7 1289.4 1363.4 1291.5 1362.8 1293.5 1364.3 1295.5 1363.6 1297.5 1363.6 1299.5 1362.4 1301.5 1361.2 1303.5 1363.1 1305.5 1362.7 1307.5 1363.4 1309.5 1360.6 1311.5 1363.2 1313.5 1364.2 1315.5 1367.3 1317.5 1367.5 1319.5 1367.4 1321.5 1367.5 1323.5 1367.7 1325.5 1367.8 1327.6 1367.7 1329.6 1368.7 1331.6 1370.1 1333.6 1370.1 1335.6 1368.4 1337.6 1369.1 1339.6 1368.6 1341.6 1370.1 1343.6 1369.9 1345.6 1368.9 1347.6 1371 1349.6 1369.8 1351.6 1370.5 1353.6 1368.4 1355.6 1367.7 1357.6 1363.7 1359.6 1367.5 1361.7 1367.7 1363.7 1366.2 1365.7 1366.3 1367.7 1366.7 1369.7 1370.9 1371.7 1370.7 1373.7 1369.4L1373.7 1385.4 1371.7 1387.8 1369.7 1386 1367.7 1385.7 1365.7 1383.6 1363.7 1385.8 1361.7 1386.2 1359.6 1385.2 1357.6 1385.6 1355.6 1385.6 1353.6 1385.9 1351.6 1388.2 1349.6 1387.5 1347.6 1390.5 1345.6 1389.9 1343.6 1390.4 1341.6 1388.6 1339.6 1389.3 1337.6 1388.6 1335.6 1389.3 1333.6 1389.2 1331.6 1388.9 1329.6 1390.8 1327.6 1391.8 1325.5 1389 1323.5 1389.3 1321.5 1388.8 1319.5 1387.5 1317.5 1388.7 1315.5 1387.3 1313.5 1388.3 1311.5 1387 1309.5 1385.8 1307.5 1386 1305.5 1385.1 1303.5 1386.2 1301.5 1388 1299.5 1389 1297.5 1387.9 1295.5 1388.9 1293.5 1392.3 1291.5 1389.5 1289.4 1389.1 1287.4 1385.3 1285.4 1386.9 1283.4 1384 1281.4 1382.6 1279.4 1382.5 1277.4 1382.9 1275.4 1382.4 1273.4 1381.1 1271.4 1383.7 1269.4 1381.1 1267.4 1376.9 1265.4 1376.5 1263.4 1374.5 1261.4 1375.4 1259.4 1373.6 1257.4 1375.6 1255.3 1376 1253.3 1374.6 1251.3 1376.3 1249.3 1376.6 1247.3 1376.4 1245.3 1375.6 1243.3 1376.5 1241.3 1372.9 1239.3 1372.9 1237.3 1372.8 1235.3 1370.5 1233.3 1368.4 1231.3 1368.9 1229.3 1369.7 1227.3 1373.5 1225.3 1370.7 1223.3 1374.8 1221.2 1371.9 1219.2 1369.6 1217.2 1367 1215.2 1364.6 1213.2 1363.3 1211.2 1363.7 1209.2 1363.9 1207.2 1368 1205.2 1368 1203.2 1368.2 1201.2 1364.7 1199.2 1364.3 1197.2 1363.6 1195.2 1362.4 1193.2 1362.7 1191.2 1362.1 1189.2 1364.1 1187.1 1366.5 1185.1 1366.9 1183.1 1372.5 1181.1 1373.1 1179.1 1371.5 1177.1 1372.2 1175.1 1371.6 1173.1 1371.7 1171.1 1371.4 1169.1 1372.3 1167.1 1376.5 1165.1 1377.1 1163.1 1375.7 1161.1 1375.3 1159.1 1372.7 1157.1 1371.4 1155.1 1370.9 1153 1370.6 1151 1372 1149 1371.7 1147 1371.5 1145 1373 1143 1375.1 1141 1379.9 1139 1379.4 1137 1374.5 1135 1378.1 1133 1379.3 1131 1375.7 1129 1371.3 1127 1371.7 1125 1374.9 1123 1375.1 1121 1376.1 1118.9 1379.5 1116.9 1375.5 1114.9 1377.7 1112.9 1378.6 1110.9 1379.3 1108.9 1381.6 1106.9 1383 1104.9 1384 1102.9 1389 1100.9 1387.2 1098.9 1380.4 1096.9 1381.4 1094.9 1382 1092.9 1377.2 1090.9 1380.4 1088.9 1377 1086.9 1380.2 1084.9 1378.5 1082.8 1377.2 1080.8 1379.6 1078.8 1384.2 1076.8 1380.6 1074.8 1376.6 1072.8 1377.8 1070.8 1374.7 1068.8 1377.1 1066.8 1375 1064.8 1369.3 1062.8 1370.2 1060.8 1374.7 1058.8 1376.3 1056.8 1378.3 1054.8 1377.3 1052.8 1377.2 1050.8 1377.5 1048.7 1376.2 1046.7 1377.8 1044.7 1375.8 1042.7 1377 1040.7 1375 1038.7 1374.9 1036.7 1374.6 1034.7 1376.6 1032.7 1378.1 1030.7 1378.6 1028.7 1380.9 1026.7 1378.3 1024.7 1378.2 1022.7 1377.8 1020.7 1375.4 1018.7 1378.1 1016.7 1374.4 1014.6 1374 1012.6 1374.1 1010.6 1375 1008.6 1374.5 1006.6 1374.3 1004.6 1375.8 1002.6 1375.6 1000.6 1371.6 998.6 1373.9Z" class="s" style="fill:#e8202a"/>
<path d="M998.6 1357 1000.6 1362.2 1002.6 1360.2 1004.6 1363.7 1006.6 1365.7 1008.6 1362.9 1010.6 1361.5 1012.6 1362.1 1014.6 1359 1016.7 1358 1018.7 1356.8 1020.7 1354.5 1022.7 1360.1 1024.7 1363.4 1026.7 1363.7 1028.7 1365.3 1030.7 1363.3 1032.7 1363.5 1034.7 1362.9 1036.7 1362.1 1038.7 1360.8 1040.7 1362 1042.7 1360.6 1044.7 1358.7 1046.7 1361.9 1048.7 1359.3 1050.8 1359.2 1052.8 1358 1054.8 1359.5 1056.8 1359.2 1058.8 1360.2 1060.8 1360.3 1062.8 1357.6 1064.8 1354 1066.8 1355.3 1068.8 1356.1 1070.8 1355.1 1072.8 1358.4 1074.8 1360.6 1076.8 1357.9 1078.8 1363.5 1080.8 1364.5 1082.8 1362.8 1084.9 1362.8 1086.9 1361.7 1088.9 1361.5 1090.9 1363.2 1092.9 1361.5 1094.9 1361.7 1096.9 1362 1098.9 1366.4 1100.9 1367.3 1102.9 1362.9 1104.9 1368.3 1106.9 1367.9 1108.9 1366.2 1110.9 1365.2 1112.9 1365.9 1114.9 1361.8 1116.9 1364 1118.9 1364.9 1121 1362.7 1123 1364.7 1125 1365.8 1127 1360.8 1129 1368 1131 1367.6 1133 1369.7 1135 1371.5 1137 1370.2 1139 1368.7 1141 1368.4 1143 1365.6 1145 1365.1 1147 1362.5 1149 1363.1 1151 1363.3 1153 1363.9 1155.1 1367.3 1157.1 1367.6 1159.1 1365.3 1161.1 1364.1 1163.1 1362.1 1165.1 1362.4 1167.1 1363.1 1169.1 1360.9 1171.1 1360.3 1173.1 1360.2 1175.1 1363.5 1177.1 1363.8 1179.1 1363 1181.1 1365.6 1183.1 1362.9 1185.1 1361.4 1187.1 1361.4 1189.2 1361.4 1191.2 1361.3 1193.2 1361.5 1195.2 1361.4 1197.2 1362.1 1199.2 1360 1201.2 1361.1 1203.2 1362.6 1205.2 1363.4 1207.2 1362.3 1209.2 1360.4 1211.2 1359 1213.2 1362.2 1215.2 1362.3 1217.2 1364.3 1219.2 1360.4 1221.2 1360.9 1223.3 1363.6 1225.3 1361 1227.3 1359.3 1229.3 1363.3 1231.3 1364.4 1233.3 1364.2 1235.3 1365.5 1237.3 1366 1239.3 1365.7 1241.3 1366.8 1243.3 1368.6 1245.3 1367.4 1247.3 1364.8 1249.3 1367.1 1251.3 1367.9 1253.3 1367.4 1255.3 1366 1257.4 1368.5 1259.4 1370 1261.4 1370.5 1263.4 1368.4 1265.4 1365.9 1267.4 1370.8 1269.4 1369.6 1271.4 1370.2 1273.4 1373.1 1275.4 1371.6 1277.4 1373.1 1279.4 1372.5 1281.4 1371.9 1283.4 1373.3 1285.4 1373.2 1287.4 1372 1289.4 1373.4 1291.5 1372.4 1293.5 1373.5 1295.5 1373.4 1297.5 1371.8 1299.5 1371.3 1301.5 1369.9 1303.5 1370.9 1305.5 1369.1 1307.5 1370.6 1309.5 1370.2 1311.5 1370.5 1313.5 1368.7 1315.5 1369.7 1317.5 1369.8 1319.5 1368 1321.5 1370.9 1323.5 1372.5 1325.5 1371.6 1327.6 1373.6 1329.6 1371.9 1331.6 1373.7 1333.6 1371.9 1335.6 1373.3 1337.6 1370.7 1339.6 1368.7 1341.6 1368 1343.6 1372.7 1345.6 1372 1347.6 1369.2 1349.6 1371.1 1351.6 1369.4 1353.6 1372.3 1355.6 1373.4 1357.6 1373.6 1359.6 1373.1 1361.7 1370.9 1363.7 1368.5 1365.7 1374.2 1367.7 1372.6 1369.7 1374.5 1371.7 1376 1373.7 1376L1373.7 1388.4 1371.7 1387.2 1369.7 1387.1 1367.7 1388.3 1365.7 1386.7 1363.7 1387.1 1361.7 1386.6 1359.6 1387.1 1357.6 1389.5 1355.6 1391.1 1353.6 1389.9 1351.6 1385 1349.6 1389.4 1347.6 1385.9 1345.6 1385.2 1343.6 1386.7 1341.6 1384.6 1339.6 1385 1337.6 1384.5 1335.6 1388.3 1333.6 1386.6 1331.6 1386.9 1329.6 1385.8 1327.6 1385.7 1325.5 1386.8 1323.5 1387.2 1321.5 1390.2 1319.5 1387.7 1317.5 1386.1 1315.5 1389.9 1313.5 1388.5 1311.5 1386.8 1309.5 1386.9 1307.5 1386.6 1305.5 1386.9 1303.5 1389.2 1301.5 1388.1 1299.5 1387.3 1297.5 1387.8 1295.5 1390.5 1293.5 1387.3 1291.5 1390.3 1289.4 1387.6 1287.4 1390.9 1285.4 1388.9 1283.4 1388.8 1281.4 1389.1 1279.4 1387.4 1277.4 1385.5 1275.4 1385 1273.4 1384.6 1271.4 1383 1269.4 1382.1 1267.4 1382.4 1265.4 1381.4 1263.4 1383.6 1261.4 1381.6 1259.4 1381 1257.4 1380.8 1255.3 1382.6 1253.3 1383.6 1251.3 1381 1249.3 1383.3 1247.3 1384.4 1245.3 1383.2 1243.3 1383 1241.3 1385.1 1239.3 1384.1 1237.3 1380.6 1235.3 1380.6 1233.3 1379.8 1231.3 1378.1 1229.3 1380.6 1227.3 1380.3 1225.3 1380.4 1223.3 1379.7 1221.2 1380.2 1219.2 1379.3 1217.2 1377.8 1215.2 1380.5 1213.2 1377.8 1211.2 1377.8 1209.2 1381.2 1207.2 1378.1 1205.2 1376.5 1203.2 1380.8 1201.2 1379.3 1199.2 1376.4 1197.2 1376.5 1195.2 1378.6 1193.2 1378.7 1191.2 1378.8 1189.2 1381.9 1187.1 1383 1185.1 1383 1183.1 1380.4 1181.1 1381.2 1179.1 1379.5 1177.1 1381.8 1175.1 1382.7 1173.1 1379.5 1171.1 1378.7 1169.1 1382 1167.1 1382.9 1165.1 1380.7 1163.1 1382.3 1161.1 1385.8 1159.1 1386 1157.1 1384.4 1155.1 1385.2 1153 1384.2 1151 1383.6 1149 1383.7 1147 1384.1 1145 1383.2 1143 1383.8 1141 1386.6 1139 1390.5 1137 1390.7 1135 1391.3 1133 1390.7 1131 1386 1129 1385 1127 1383.2 1125 1386.2 1123 1385.6 1121 1386.4 1118.9 1383.5 1116.9 1383.5 1114.9 1382.1 1112.9 1383.8 1110.9 1383.9 1108.9 1385.7 1106.9 1387.3 1104.9 1383.5 1102.9 1384.3 1100.9 1384.2 1098.9 1382.8 1096.9 1384.5 1094.9 1381.9 1092.9 1382.1 1090.9 1381.2 1088.9 1380 1086.9 1380 1084.9 1381.8 1082.8 1379.5 1080.8 1382.7 1078.8 1380.7 1076.8 1380.8 1074.8 1378.8 1072.8 1379.8 1070.8 1379.4 1068.8 1379.3 1066.8 1375.6 1064.8 1378.7 1062.8 1377.7 1060.8 1381 1058.8 1380.7 1056.8 1385.1 1054.8 1380.2 1052.8 1381.6 1050.8 1383.3 1048.7 1381.7 1046.7 1379.1 1044.7 1378.7 1042.7 1379 1040.7 1381 1038.7 1380.1 1036.7 1382.9 1034.7 1382.8 1032.7 1382.6 1030.7 1381.5 1028.7 1381.9 1026.7 1382.8 1024.7 1379.3 1022.7 1379.6 1020.7 1377.7 1018.7 1376.8 1016.7 1381.9 1014.6 1382.4 1012.6 1383.1 1010.6 1385 1008.6 1384.1 1006.6 1389.9 1004.6 1388.8 1002.6 1384.9 1000.6 1381.1 998.6 1380.2Z" class="k" style="fill:#231f20"/>
<path d="M998.6 1357.1 1000.1 1357.8 1001.6 1358.6 1003.1 1358.3 1004.6 1360.2 1006.1 1362.7 1007.6 1361.4 1009.1 1361.8 1010.6 1360.8 1012.1 1360.7 1013.6 1362.1 1015.1 1360.7 1016.6 1363.6 1018.1 1364.4 1019.6 1364.6 1021.1 1365.1 1022.6 1364.8 1024.1 1365.5 1025.6 1364.5 1027.1 1365.3 1028.6 1366.9 1030.1 1364.4 1031.6 1365.2 1033.1 1363.7 1034.6 1361.7 1036.1 1359.4 1037.6 1359.3 1039.1 1358.6 1040.6 1357 1042.1 1356.2 1043.6 1355.8 1045.1 1356.6 1046.6 1357 1048.1 1357.4 1049.6 1356.9 1051.1 1357.5 1052.6 1357 1054.1 1356.4 1055.6 1356.8 1057.1 1355 1058.6 1354 1060.1 1353.5 1061.6 1356.9 1063.1 1355.2 1064.6 1353 1066.1 1354.9 1067.6 1358.5 1069.1 1358.9 1070.6 1359.1 1072.1 1360.9 1073.6 1361.5 1075.1 1363.6 1076.6 1365.9 1078.1 1364.4 1079.6 1365.6 1081.1 1363.8 1082.6 1361.5 1084.1 1364.4 1085.6 1361.8 1087.1 1359.6 1088.6 1362.5 1090.1 1361 1091.6 1361.3 1093.1 1363.5 1094.6 1363.8 1096.1 1364.4 1097.6 1366.8 1099.1 1366.9 1100.6 1368.3 1102.1 1369.5 1103.6 1367.5 1105.1 1366.6 1106.6 1366.1 1108.1 1365.2 1109.6 1364.9 1111.1 1364.2 1112.6 1363.5 1114.1 1362.4 1115.6 1361.1 1117.1 1359 1118.6 1359.5 1120.1 1357.4 1121.6 1357.3 1123.1 1358 1124.6 1357.5 1126.1 1359.2 1127.6 1355.9 1129.1 1356.7 1130.6 1358.2 1132.1 1358.7 1133.6 1358.1 1135.1 1360.9 1136.6 1361.7 1138.1 1363 1139.6 1364.1 1141.1 1361.1 1142.6 1360.6 1144.1 1356.7 1145.6 1352.9 1147.1 1352.8 1148.6 1352.9 1150.1 1355.5 1151.6 1355.4 1153.1 1355.6 1154.6 1355.5 1156.1 1356.6 1157.6 1359.6 1159.1 1358.5 1160.6 1361.5 1162.1 1361.3 1163.6 1360.8 1165.1 1361.8 1166.6 1362.5 1168.1 1360.2 1169.6 1361.3 1171.1 1359.1 1172.6 1358.6 1174.1 1359.9 1175.6 1358.9 1177.1 1360.2 1178.6 1359.7 1180.1 1358.6 1181.6 1355.5 1183.1 1355.1 1184.6 1355.5 1186.1 1353.5 1187.6 1354.5 1189.1 1351.7 1190.6 1350.2 1192.1 1349 1193.6 1349.8 1195.1 1348.4 1196.6 1348.5 1198.1 1351 1199.6 1349.7 1201.1 1351.1 1202.6 1353.6 1204.1 1352.7 1205.6 1352.1 1207.1 1353.3 1208.6 1354.2 1210.2 1352.6 1211.7 1353 1213.2 1351.8 1214.7 1352.2 1216.2 1355.3 1217.7 1357.6 1219.2 1358.1 1220.7 1358.7 1222.2 1360.3 1223.7 1357.5 1225.2 1358.2 1226.7 1357.8 1228.2 1356.8 1229.7 1355.2 1231.2 1355.3 1232.7 1356.2 1234.2 1357.3 1235.7 1357.5 1237.2 1359.8 1238.7 1360.7 1240.2 1359.4 1241.7 1360.5 1243.2 1359.6 1244.7 1361.1 1246.2 1363.3 1247.7 1364 1249.2 1363.6 1250.7 1364 1252.2 1363.6 1253.7 1364.2 1255.2 1362.5 1256.7 1365 1258.2 1362.5 1259.7 1362.2 1261.2 1365.6 1262.7 1364 1264.2 1365.2 1265.7 1364.7 1267.2 1363.7 1268.7 1365.8 1270.2 1368.2 1271.7 1367.8 1273.2 1368.8 1274.7 1367.5 1276.2 1371.4 1277.7 1371.8 1279.2 1373 1280.7 1371.4 1282.2 1372.6 1283.7 1372.6 1285.2 1373.4 1286.7 1375.6 1288.2 1375.5 1289.7 1374.6 1291.2 1375.5 1292.7 1375.5 1294.2 1375.8 1295.7 1376.9 1297.2 1377 1298.7 1376 1300.2 1374.2 1301.7 1374.1 1303.2 1372.1 1304.7 1372.7 1306.2 1373.5 1307.7 1373.8 1309.2 1373.2 1310.7 1374.7 1312.2 1374.5 1313.7 1375.6 1315.2 1373.4 1316.7 1375.2 1318.2 1374.2 1319.7 1377 1321.2 1375.9 1322.7 1376.4 1324.2 1377.7 1325.7 1376.1 1327.2 1377.2 1328.7 1377.7 1330.2 1378.6 1331.7 1378.4 1333.2 1378 1334.7 1377.9 1336.2 1378.6 1337.7 1378.9 1339.2 1378.7 1340.7 1379.7 1342.2 1380.2 1343.7 1379.6 1345.2 1378.5 1346.7 1377.4 1348.2 1378.5 1349.7 1377.9 1351.2 1376.6 1352.7 1376.8 1354.2 1378.4 1355.7 1376.8 1357.2 1377 1358.7 1376.1 1360.2 1377.7 1361.7 1378.9 1363.2 1374.1 1364.7 1377.3 1366.2 1374.9 1367.7 1378.3 1369.2 1377.3 1370.7 1377.1 1372.2 1376.8 1373.7 1377.5" stroke="#e8202a" stroke-width="3.0" stroke-linejoin="round"/>
<path d="M998.6 1370.9 1000.1 1372.6 1001.6 1372.9 1003.1 1371.7 1004.6 1374.5 1006.1 1374.5 1007.6 1373 1009.1 1373.8 1010.6 1371.8 1012.1 1371.1 1013.6 1370.3 1015.1 1369 1016.6 1369.9 1018.1 1369 1019.6 1370.6 1021.1 1369.4 1022.6 1369.7 1024.1 1370.9 1025.6 1371.6 1027.1 1374.5 1028.6 1374.4 1030.1 1371.5 1031.6 1372.8 1033.1 1372.3 1034.6 1373.1 1036.1 1371.8 1037.6 1371.5 1039.1 1372.9 1040.6 1372 1042.1 1372.5 1043.6 1370.7 1045.1 1371 1046.6 1372 1048.1 1369.3 1049.6 1367.5 1051.1 1369.4 1052.6 1369.1 1054.1 1367.6 1055.6 1368.4 1057.1 1367 1058.6 1366.7 1060.1 1367.7 1061.6 1365.4 1063.1 1365.3 1064.6 1365.4 1066.1 1364.3 1067.6 1367 1069.1 1368.6 1070.6 1366.8 1072.1 1367.4 1073.6 1368.9 1075.1 1371.3 1076.6 1372.2 1078.1 1371.9 1079.6 1372.6 1081.1 1375 1082.6 1374.1 1084.1 1371.6 1085.6 1372.2 1087.1 1372.2 1088.6 1372 1090.1 1374.4 1091.6 1375.4 1093.1 1375.3 1094.6 1374.3 1096.1 1375.2 1097.6 1375.6 1099.1 1376.5 1100.6 1376.4 1102.1 1379.3 1103.6 1376.2 1105.1 1376.6 1106.6 1377.7 1108.1 1375.2 1109.6 1372.9 1111.1 1373.9 1112.6 1374.5 1114.1 1375.2 1115.6 1372.8 1117.1 1373.1 1118.6 1375.5 1120.1 1375.4 1121.6 1374.5 1123.1 1376.8 1124.6 1376.1 1126.1 1375.7 1127.6 1375.5 1129.1 1375.1 1130.6 1376.8 1132.1 1379.9 1133.6 1380.3 1135.1 1381.9 1136.6 1379.8 1138.1 1380 1139.6 1378.3 1141.1 1376.6 1142.6 1376.9 1144.1 1373.4 1145.6 1373.8 1147.1 1372 1148.6 1370.2 1150.1 1373.2 1151.6 1372.1 1153.1 1372.2 1154.6 1373.5 1156.1 1374.8 1157.6 1373.8 1159.1 1373.2 1160.6 1374.6 1162.1 1373.2 1163.6 1370 1165.1 1370.3 1166.6 1368.7 1168.1 1369.1 1169.6 1367.6 1171.1 1369.8 1172.6 1369.7 1174.1 1369.6 1175.6 1370.6 1177.1 1372.6 1178.6 1373.5 1180.1 1374 1181.6 1374.3 1183.1 1375 1184.6 1372 1186.1 1370.6 1187.6 1373.4 1189.1 1371.4 1190.6 1371.5 1192.1 1372.8 1193.6 1372.4 1195.1 1374 1196.6 1372.7 1198.1 1371.1 1199.6 1372.5 1201.1 1374.3 1202.6 1374.4 1204.1 1373.5 1205.6 1372.9 1207.1 1372.5 1208.6 1372.1 1210.2 1372.3 1211.7 1371.8 1213.2 1372.5 1214.7 1370.4 1216.2 1370.9 1217.7 1370.9 1219.2 1370.4 1220.7 1370.2 1222.2 1371.8 1223.7 1371.5 1225.2 1371.2 1226.7 1371.3 1228.2 1370.1 1229.7 1370 1231.2 1370.8 1232.7 1370.9 1234.2 1370.9 1235.7 1372.6 1237.2 1371.8 1238.7 1373.4 1240.2 1375.2 1241.7 1373.1 1243.2 1376.7 1244.7 1375.3 1246.2 1377.7 1247.7 1377.7 1249.2 1378 1250.7 1375.4 1252.2 1374.6 1253.7 1374.7 1255.2 1374.6 1256.7 1371.4 1258.2 1371.1 1259.7 1373.6 1261.2 1372.3 1262.7 1373.2 1264.2 1370.8 1265.7 1375.6 1267.2 1375.7 1268.7 1375.4 1270.2 1377.7 1271.7 1376.1 1273.2 1378.9 1274.7 1378.1 1276.2 1379.1 1277.7 1381.4 1279.2 1379.6 1280.7 1379 1282.2 1377.4 1283.7 1380.3 1285.2 1379.4 1286.7 1379.1 1288.2 1380 1289.7 1378.6 1291.2 1379.6 1292.7 1380.1 1294.2 1380 1295.7 1382 1297.2 1381.6 1298.7 1380.9 1300.2 1379.7 1301.7 1378.8 1303.2 1379.1 1304.7 1377.8 1306.2 1376.9 1307.7 1376.8 1309.2 1376.1 1310.7 1376.5 1312.2 1377.2 1313.7 1378 1315.2 1377.8 1316.7 1377.1 1318.2 1376 1319.7 1375.9 1321.2 1374.8 1322.7 1376.6 1324.2 1379.3 1325.7 1379.4 1327.2 1378.8 1328.7 1379.6 1330.2 1377.6 1331.7 1380.3 1333.2 1379.5 1334.7 1377.7 1336.2 1378.2 1337.7 1379.4 1339.2 1380.5 1340.7 1381.3 1342.2 1380.9 1343.7 1380.5 1345.2 1379.4 1346.7 1380.7 1348.2 1381.9 1349.7 1380 1351.2 1378.6 1352.7 1378.3 1354.2 1380.4 1355.7 1380.9 1357.2 1381.5 1358.7 1379.9 1360.2 1379.4 1361.7 1378.1 1363.2 1378.8 1364.7 1379.2 1366.2 1378.4 1367.7 1379.7 1369.2 1379.6 1370.7 1380.9 1372.2 1381.7 1373.7 1377.9" stroke="#231f20" stroke-width="3.0" stroke-linejoin="round"/>
<path d="M1295.7 1159.6V1409" stroke="#231f20" stroke-width="1.6" stroke-dasharray="5.4 4.2"/>
<path d="M998.6 1159.6V1409H1403.6M998.6 1181.2h-8.3M998.6 1214h-8.3M998.6 1246.7h-8.3M998.6 1279.5h-8.3M998.6 1312.2h-8.3M998.6 1345h-8.3M998.6 1377.7h-8.3M998.6 1410.5h-8.3M998.6 1409v7M1072.9 1409v7M1147.2 1409v7M1221.4 1409v7M1295.7 1409v7M1370 1409v7" stroke="#231f20" stroke-width="1.7"/>
<text transform="translate(986.3 1188.7) scale(1.02 1)" font-size="21" text-anchor="end">12</text>
<text transform="translate(986.3 1221.5) scale(1.02 1)" font-size="21" text-anchor="end">10</text>
<text transform="translate(986.3 1254.2) scale(1.02 1)" font-size="21" text-anchor="end">8</text>
<text transform="translate(986.3 1287) scale(1.02 1)" font-size="21" text-anchor="end">6</text>
<text transform="translate(986.3 1319.7) scale(1.02 1)" font-size="21" text-anchor="end">4</text>
<text transform="translate(986.3 1352.5) scale(1.02 1)" font-size="21" text-anchor="end">2</text>
<text transform="translate(986.3 1385.2) scale(1.02 1)" font-size="21" text-anchor="end">0</text>
<text transform="translate(986.3 1418) scale(1.02 1)" font-size="21" text-anchor="end">-2</text>
<text transform="translate(996.6 1434) scale(1.02 1)" font-size="21" text-anchor="middle">-8</text>
<text transform="translate(1070.9 1434) scale(1.02 1)" font-size="21" text-anchor="middle">-6</text>
<text transform="translate(1145.2 1434) scale(1.02 1)" font-size="21" text-anchor="middle">-4</text>
<text transform="translate(1219.4 1434) scale(1.02 1)" font-size="21" text-anchor="middle">-2</text>
<text transform="translate(1295.7 1434) scale(1.02 1)" font-size="21" text-anchor="middle">0</text>
<text transform="translate(1370 1434) scale(1.02 1)" font-size="21" text-anchor="middle">2</text>
<text transform="translate(959.1 1284.3) rotate(-90) scale(1.06 1)" font-size="23" text-anchor="middle">ΔF/F (%)</text>
<text transform="translate(1201.1 1455.3) scale(1.06 1)" font-size="23" text-anchor="middle">End of struggling (s)</text>
<path d="M1138.9 1164L1173.7 1164" stroke="#231f20" stroke-width="3.4"/>
<text transform="translate(1177.6 1173.1) scale(1.06 1)" font-size="20">405 nm</text>
<path d="M1138.9 1185.7L1173.7 1185.7" stroke="#e8202a" stroke-width="3.4"/>
<text transform="translate(1177.6 1193.5) scale(1.06 1)" font-size="20">470 nm</text>
<path d="M1461.5 1313 1463.5 1315.8 1465.5 1313.5 1467.5 1308.7 1469.5 1310.6 1471.5 1310.8 1473.5 1304 1475.6 1306.5 1477.6 1310.8 1479.6 1304.8 1481.6 1304.3 1483.6 1299.5 1485.6 1300.4 1487.6 1298.4 1489.6 1292.3 1491.6 1292.7 1493.6 1299.4 1495.6 1300.2 1497.6 1303.8 1499.6 1300.4 1501.7 1296.3 1503.7 1288.9 1505.7 1295.2 1507.7 1296.2 1509.7 1292.9 1511.7 1295.7 1513.7 1286.4 1515.7 1274.3 1517.7 1279.4 1519.7 1277.6 1521.7 1276.2 1523.7 1267.4 1525.8 1271.3 1527.8 1268.4 1529.8 1262.5 1531.8 1264.1 1533.8 1269.4 1535.8 1261.6 1537.8 1269.6 1539.8 1271.6 1541.8 1267.6 1543.8 1261.8 1545.8 1262.5 1547.8 1262.4 1549.8 1270.4 1551.9 1257.9 1553.9 1257.9 1555.9 1251.4 1557.9 1252.3 1559.9 1258.6 1561.9 1261 1563.9 1269.6 1565.9 1266.8 1567.9 1265.3 1569.9 1256.7 1571.9 1267.6 1573.9 1266.1 1575.9 1261.9 1578 1261.5 1580 1262.3 1582 1261.5 1584 1255.6 1586 1254.3 1588 1259.7 1590 1267.7 1592 1263.8 1594 1261.7 1596 1255.1 1598 1253.7 1600 1244.4 1602 1233.1 1604.1 1225.3 1606.1 1228 1608.1 1232.2 1610.1 1239.5 1612.1 1232.1 1614.1 1237.9 1616.1 1242.7 1618.1 1234 1620.1 1223 1622.1 1235.5 1624.1 1244.8 1626.1 1245.1 1628.2 1244 1630.2 1255.4 1632.2 1262 1634.2 1266 1636.2 1265.4 1638.2 1261.9 1640.2 1256.6 1642.2 1255.1 1644.2 1252.8 1646.2 1261.1 1648.2 1259.8 1650.2 1269.5 1652.2 1260.3 1654.3 1258.8 1656.3 1256.1 1658.3 1244 1660.3 1236.6 1662.3 1236.8 1664.3 1245.1 1666.3 1247.6 1668.3 1241.7 1670.3 1243.6 1672.3 1252.1 1674.3 1250.8 1676.3 1255.1 1678.3 1250.9 1680.4 1250.1 1682.4 1249.9 1684.4 1251.1 1686.4 1248.3 1688.4 1249.5 1690.4 1258.7 1692.4 1263.1 1694.4 1264.7 1696.4 1267.9 1698.4 1278.4 1700.4 1280.8 1702.4 1270.5 1704.4 1283.4 1706.5 1282.7 1708.5 1286.6 1710.5 1293 1712.5 1290.5 1714.5 1297.2 1716.5 1301.1 1718.5 1298.4 1720.5 1303 1722.5 1307.5 1724.5 1310.7 1726.5 1313.5 1728.5 1317 1730.6 1319.3 1732.6 1322.9 1734.6 1324.8 1736.6 1320.2 1738.6 1322.3 1740.6 1326.5 1742.6 1326.1 1744.6 1329.3 1746.6 1327.6 1748.6 1333.6 1750.6 1335.3 1752.6 1335.5 1754.6 1341.1 1756.7 1342.9 1758.7 1347.7 1760.7 1348.9 1762.7 1348 1764.7 1349.9 1766.7 1353 1768.7 1354.1 1770.7 1351.8 1772.7 1352.8 1774.7 1353.1 1776.7 1352.1 1778.7 1349.8 1780.7 1352.6 1782.8 1349.6 1784.8 1351.7 1786.8 1355.7 1788.8 1357.3 1790.8 1358.2 1792.8 1358.7 1794.8 1361 1796.8 1361.4 1798.8 1363.1 1800.8 1363.2 1802.8 1364.8 1804.8 1366.2 1806.8 1363.9 1808.9 1359.1 1810.9 1362.9 1812.9 1358.3 1814.9 1362.2 1816.9 1362 1818.9 1363.1 1820.9 1364.5 1822.9 1361.9 1824.9 1363.6 1826.9 1368.8 1828.9 1365.7 1830.9 1362.7 1833 1362 1835 1368.9 1837 1374.3L1837 1399.6 1835 1397.5 1833 1398.1 1830.9 1398.7 1828.9 1395.4 1826.9 1393.9 1824.9 1394.2 1822.9 1392.2 1820.9 1389.7 1818.9 1388.3 1816.9 1388.7 1814.9 1390.2 1812.9 1390 1810.9 1389.7 1808.9 1395.8 1806.8 1398.9 1804.8 1395.2 1802.8 1394.8 1800.8 1396.1 1798.8 1393.6 1796.8 1396.1 1794.8 1393.1 1792.8 1396.5 1790.8 1390.7 1788.8 1388.7 1786.8 1390.3 1784.8 1385.1 1782.8 1383.3 1780.7 1383.4 1778.7 1382.7 1776.7 1386.9 1774.7 1383.2 1772.7 1383.6 1770.7 1385.4 1768.7 1383.6 1766.7 1382.7 1764.7 1381.3 1762.7 1380.6 1760.7 1379.2 1758.7 1380.6 1756.7 1379.6 1754.6 1376.4 1752.6 1375.7 1750.6 1377.4 1748.6 1374 1746.6 1374.5 1744.6 1370.5 1742.6 1371.7 1740.6 1370.4 1738.6 1374.9 1736.6 1371.6 1734.6 1372.9 1732.6 1370.1 1730.6 1373 1728.5 1374.2 1726.5 1375.5 1724.5 1371 1722.5 1370.3 1720.5 1371.1 1718.5 1372 1716.5 1369.2 1714.5 1370.5 1712.5 1370.5 1710.5 1371.7 1708.5 1369.3 1706.5 1370.8 1704.4 1379.4 1702.4 1374.2 1700.4 1369.8 1698.4 1364.9 1696.4 1362.2 1694.4 1353.1 1692.4 1352 1690.4 1346.9 1688.4 1355.4 1686.4 1350.3 1684.4 1355.5 1682.4 1347.4 1680.4 1352.4 1678.3 1350 1676.3 1357 1674.3 1366.7 1672.3 1359.5 1670.3 1364.2 1668.3 1362.6 1666.3 1355.1 1664.3 1353.7 1662.3 1353.5 1660.3 1345.1 1658.3 1345.7 1656.3 1347.2 1654.3 1346.8 1652.2 1357.4 1650.2 1350.7 1648.2 1343.6 1646.2 1344.6 1644.2 1339.8 1642.2 1342.8 1640.2 1354.6 1638.2 1357 1636.2 1366.2 1634.2 1352.2 1632.2 1350.1 1630.2 1347.2 1628.2 1350.1 1626.1 1348.9 1624.1 1334.9 1622.1 1337.4 1620.1 1337.4 1618.1 1337.3 1616.1 1338.8 1614.1 1348.3 1612.1 1349.2 1610.1 1344.3 1608.1 1343.6 1606.1 1338 1604.1 1340.5 1602 1342.7 1600 1346.4 1598 1360.7 1596 1355.6 1594 1368 1592 1366.9 1590 1375.7 1588 1376.4 1586 1361.3 1584 1354 1582 1351.8 1580 1352.2 1578 1359.9 1575.9 1356.8 1573.9 1357.7 1571.9 1365.7 1569.9 1362.6 1567.9 1363.1 1565.9 1363.1 1563.9 1372.9 1561.9 1367.8 1559.9 1364.9 1557.9 1359.3 1555.9 1357.9 1553.9 1362.1 1551.9 1369.9 1549.8 1386.8 1547.8 1377.9 1545.8 1370.6 1543.8 1374.3 1541.8 1380.4 1539.8 1375.5 1537.8 1371.2 1535.8 1366 1533.8 1371.3 1531.8 1361.5 1529.8 1357.3 1527.8 1353.8 1525.8 1354.7 1523.7 1354.3 1521.7 1362.2 1519.7 1365.5 1517.7 1368.7 1515.7 1365.8 1513.7 1376.2 1511.7 1383.7 1509.7 1384.1 1507.7 1379.5 1505.7 1382.4 1503.7 1381 1501.7 1374 1499.6 1382.1 1497.6 1382.8 1495.6 1388.7 1493.6 1385.1 1491.6 1383.4 1489.6 1383.6 1487.6 1373.5 1485.6 1370.9 1483.6 1383.8 1481.6 1389.5 1479.6 1386.2 1477.6 1387.7 1475.6 1388.5 1473.5 1392 1471.5 1394.4 1469.5 1399.6 1467.5 1396.8 1465.5 1394.2 1463.5 1393.4 1461.5 1388.5Z" class="s" style="fill:#1b75bb"/>
<path d="M1461.5 1361.8 1463.5 1363.2 1465.5 1363 1467.5 1362.8 1469.5 1361.5 1471.5 1362.9 1473.5 1362.4 1475.6 1362.4 1477.6 1362.7 1479.6 1361.7 1481.6 1362.4 1483.6 1362.4 1485.6 1362.7 1487.6 1362.1 1489.6 1360.8 1491.6 1360.2 1493.6 1359.5 1495.6 1360.8 1497.6 1360.7 1499.6 1359.6 1501.7 1361.6 1503.7 1362 1505.7 1362.2 1507.7 1360.3 1509.7 1361.1 1511.7 1359.2 1513.7 1357.3 1515.7 1357.4 1517.7 1355.4 1519.7 1356.3 1521.7 1356.4 1523.7 1356.5 1525.8 1356.9 1527.8 1356.5 1529.8 1356.7 1531.8 1356.7 1533.8 1355 1535.8 1357.1 1537.8 1356.3 1539.8 1354.3 1541.8 1353.1 1543.8 1352.2 1545.8 1353.7 1547.8 1354.7 1549.8 1355.1 1551.9 1355.2 1553.9 1355.3 1555.9 1355.9 1557.9 1356 1559.9 1355.6 1561.9 1357.2 1563.9 1357 1565.9 1355.8 1567.9 1354.6 1569.9 1355.8 1571.9 1355.2 1573.9 1354.1 1575.9 1356 1578 1355 1580 1356.5 1582 1356 1584 1356.3 1586 1355.8 1588 1357.1 1590 1356 1592 1357.6 1594 1355.6 1596 1353.9 1598 1354.2 1600 1356.5 1602 1356.2 1604.1 1354.5 1606.1 1353.5 1608.1 1353.2 1610.1 1353.7 1612.1 1355.7 1614.1 1354.8 1616.1 1357.2 1618.1 1356.6 1620.1 1357.1 1622.1 1358.3 1624.1 1358.5 1626.1 1357.5 1628.2 1358.2 1630.2 1357 1632.2 1357.3 1634.2 1355.9 1636.2 1356.1 1638.2 1357.8 1640.2 1357.2 1642.2 1357.1 1644.2 1358.2 1646.2 1359 1648.2 1358.5 1650.2 1358 1652.2 1359.3 1654.3 1358.1 1656.3 1360 1658.3 1359.2 1660.3 1359.1 1662.3 1360.3 1664.3 1359.3 1666.3 1359.7 1668.3 1362 1670.3 1362.5 1672.3 1363.3 1674.3 1362.5 1676.3 1362.2 1678.3 1362.7 1680.4 1360 1682.4 1361.1 1684.4 1360.1 1686.4 1363 1688.4 1363.2 1690.4 1362.8 1692.4 1361.8 1694.4 1362.6 1696.4 1363 1698.4 1363.5 1700.4 1363.2 1702.4 1366.4 1704.4 1365.4 1706.5 1365.2 1708.5 1366.2 1710.5 1365.7 1712.5 1365.9 1714.5 1366.1 1716.5 1366 1718.5 1366.7 1720.5 1366 1722.5 1365.7 1724.5 1365.3 1726.5 1365.3 1728.5 1366.1 1730.6 1366.1 1732.6 1367.1 1734.6 1368.2 1736.6 1369.2 1738.6 1369.7 1740.6 1369.4 1742.6 1369.4 1744.6 1369.7 1746.6 1369.4 1748.6 1370.2 1750.6 1368.8 1752.6 1368.7 1754.6 1370.3 1756.7 1370.1 1758.7 1370.4 1760.7 1369.8 1762.7 1370.6 1764.7 1369.7 1766.7 1370.1 1768.7 1370.4 1770.7 1370.8 1772.7 1369.2 1774.7 1370 1776.7 1370.9 1778.7 1371.7 1780.7 1370.5 1782.8 1371.4 1784.8 1371.6 1786.8 1371.1 1788.8 1371.9 1790.8 1371 1792.8 1371.6 1794.8 1372.3 1796.8 1371.8 1798.8 1371.8 1800.8 1370.4 1802.8 1368.8 1804.8 1369.1 1806.8 1370.7 1808.9 1370.6 1810.9 1370.6 1812.9 1371.4 1814.9 1371 1816.9 1372.5 1818.9 1371.6 1820.9 1372.8 1822.9 1373.2 1824.9 1372.4 1826.9 1372.5 1828.9 1372.7 1830.9 1373 1833 1372.8 1835 1372.2 1837 1372.1L1837 1377.6 1835 1378.8 1833 1377.8 1830.9 1377.8 1828.9 1378 1826.9 1378.1 1824.9 1377.9 1822.9 1380.2 1820.9 1378.8 1818.9 1379.1 1816.9 1379.1 1814.9 1379.2 1812.9 1378.6 1810.9 1380 1808.9 1380.3 1806.8 1379.7 1804.8 1379.1 1802.8 1378.9 1800.8 1379.7 1798.8 1378.4 1796.8 1378.7 1794.8 1378 1792.8 1378.5 1790.8 1379.4 1788.8 1378.1 1786.8 1378 1784.8 1378.9 1782.8 1379.4 1780.7 1379.2 1778.7 1378.9 1776.7 1379 1774.7 1378.3 1772.7 1378 1770.7 1377.8 1768.7 1378.4 1766.7 1378.7 1764.7 1378.7 1762.7 1379.3 1760.7 1377 1758.7 1377.8 1756.7 1378.7 1754.6 1377 1752.6 1378.4 1750.6 1378.5 1748.6 1379.3 1746.6 1379.9 1744.6 1379.1 1742.6 1377.3 1740.6 1380.6 1738.6 1378.5 1736.6 1378.3 1734.6 1378.9 1732.6 1378.6 1730.6 1377.5 1728.5 1377.5 1726.5 1378.8 1724.5 1377.9 1722.5 1376.9 1720.5 1377.6 1718.5 1378.1 1716.5 1377.2 1714.5 1377.6 1712.5 1378.7 1710.5 1379.4 1708.5 1380.2 1706.5 1378.3 1704.4 1378.8 1702.4 1377.7 1700.4 1378.1 1698.4 1380 1696.4 1379.3 1694.4 1376.7 1692.4 1378.3 1690.4 1376.7 1688.4 1375.8 1686.4 1375.1 1684.4 1376.6 1682.4 1375.6 1680.4 1375.9 1678.3 1376.8 1676.3 1378.1 1674.3 1376.8 1672.3 1376 1670.3 1376.7 1668.3 1377.6 1666.3 1375.4 1664.3 1377.1 1662.3 1375.5 1660.3 1375.4 1658.3 1374.4 1656.3 1376.5 1654.3 1375.7 1652.2 1375.6 1650.2 1374.8 1648.2 1374 1646.2 1372.1 1644.2 1370.5 1642.2 1370.5 1640.2 1370.1 1638.2 1370.9 1636.2 1372 1634.2 1373.2 1632.2 1374.1 1630.2 1373.2 1628.2 1372.8 1626.1 1374.1 1624.1 1373.1 1622.1 1373.5 1620.1 1371.9 1618.1 1373.2 1616.1 1371.6 1614.1 1372.8 1612.1 1374.7 1610.1 1374 1608.1 1371 1606.1 1368.9 1604.1 1370.7 1602 1369.9 1600 1370.6 1598 1372.4 1596 1371.7 1594 1372.2 1592 1372.2 1590 1372.8 1588 1373.2 1586 1373.4 1584 1372.5 1582 1372.7 1580 1373.3 1578 1372.1 1575.9 1374 1573.9 1372.2 1571.9 1372.2 1569.9 1373 1567.9 1373.8 1565.9 1372.6 1563.9 1372.4 1561.9 1372.7 1559.9 1373.6 1557.9 1373.3 1555.9 1373.4 1553.9 1371.7 1551.9 1372 1549.8 1372.4 1547.8 1372.4 1545.8 1374.6 1543.8 1373.6 1541.8 1372.7 1539.8 1376.4 1537.8 1375.1 1535.8 1375.9 1533.8 1372.5 1531.8 1373.3 1529.8 1372 1527.8 1373.2 1525.8 1372.9 1523.7 1373.2 1521.7 1373 1519.7 1373.1 1517.7 1373.2 1515.7 1373.7 1513.7 1377 1511.7 1378 1509.7 1379.1 1507.7 1377.5 1505.7 1379 1503.7 1378.6 1501.7 1377 1499.6 1375.7 1497.6 1376.4 1495.6 1376.1 1493.6 1376.8 1491.6 1375.3 1489.6 1377.4 1487.6 1376.9 1485.6 1378.6 1483.6 1378.1 1481.6 1378.9 1479.6 1378.3 1477.6 1378.1 1475.6 1379.3 1473.5 1379.3 1471.5 1379.1 1469.5 1379.9 1467.5 1380 1465.5 1377.6 1463.5 1378.9 1461.5 1379.6Z" class="k" style="fill:#231f20"/>
<path d="M1461.5 1352.5 1462.8 1354.8 1464.1 1346.9 1465.4 1350.9 1466.7 1355.9 1468 1350.1 1469.3 1353 1470.6 1355.4 1471.9 1352.5 1473.2 1358.6 1474.5 1349.4 1475.8 1344.7 1477.1 1354.1 1478.4 1356.1 1479.8 1347.8 1481.1 1344.9 1482.4 1346 1483.7 1342.7 1485 1336.8 1486.3 1339.7 1487.6 1328.7 1488.9 1333 1490.2 1335.8 1491.5 1342.8 1492.8 1345.6 1494.1 1343.3 1495.4 1348 1496.7 1342.4 1498 1345.6 1499.3 1352.4 1500.6 1344.8 1501.9 1344.8 1503.2 1342.6 1504.5 1349.1 1505.8 1349.8 1507.1 1344.6 1508.4 1344.1 1509.7 1348.4 1511 1350.3 1512.3 1338.9 1513.6 1333.3 1515 1325.4 1516.3 1315.9 1517.6 1320.5 1518.9 1319.6 1520.2 1314.1 1521.5 1316.8 1522.8 1322.7 1524.1 1316.8 1525.4 1311.1 1526.7 1311.5 1528 1312.4 1529.3 1316.3 1530.6 1323.4 1531.9 1324.5 1533.2 1319.3 1534.5 1324.8 1535.8 1320.5 1537.1 1322.8 1538.4 1325.7 1539.7 1323 1541 1313.8 1542.3 1327.3 1543.6 1311 1544.9 1307.7 1546.2 1311.5 1547.5 1311.5 1548.8 1316.4 1550.2 1326.8 1551.5 1321.8 1552.8 1311.4 1554.1 1313 1555.4 1305.9 1556.7 1304.8 1558 1304.5 1559.3 1311.1 1560.6 1312.1 1561.9 1318.7 1563.2 1315.6 1564.5 1307.6 1565.8 1304.4 1567.1 1309.4 1568.4 1303.1 1569.7 1297.7 1571 1307 1572.3 1306.8 1573.6 1308.4 1574.9 1301.8 1576.2 1306 1577.5 1304 1578.8 1307.1 1580.1 1304.5 1581.4 1306.6 1582.7 1311.3 1584 1306.2 1585.4 1299.8 1586.7 1307.7 1588 1308.4 1589.3 1310.9 1590.6 1308.4 1591.9 1308.2 1593.2 1309.6 1594.5 1308 1595.8 1293.8 1597.1 1300.3 1598.4 1301.7 1599.7 1294.8 1601 1291.2 1602.3 1287.3 1603.6 1280.9 1604.9 1282.1 1606.2 1270.6 1607.5 1287.5 1608.8 1286.4 1610.1 1293.1 1611.4 1281.4 1612.7 1281.8 1614 1284.1 1615.3 1278.9 1616.6 1283.6 1617.9 1280.5 1619.2 1273.9 1620.6 1279.4 1621.9 1285.8 1623.2 1277.7 1624.5 1283.7 1625.8 1285.2 1627.1 1293.4 1628.4 1297.9 1629.7 1301.9 1631 1300.4 1632.3 1303.6 1633.6 1311.6 1634.9 1307.2 1636.2 1308.3 1637.5 1309 1638.8 1305.8 1640.1 1306.6 1641.4 1295.4 1642.7 1296.6 1644 1291.4 1645.3 1283.7 1646.6 1298.1 1647.9 1297.5 1649.2 1300.5 1650.5 1310 1651.8 1303 1653.1 1302.3 1654.4 1305.1 1655.8 1309.8 1657.1 1295.6 1658.4 1305.8 1659.7 1302.7 1661 1299.2 1662.3 1304.1 1663.6 1298.5 1664.9 1299.1 1666.2 1299.6 1667.5 1300.2 1668.8 1296.2 1670.1 1296.8 1671.4 1295.7 1672.7 1289.6 1674 1298.1 1675.3 1294.8 1676.6 1301.6 1677.9 1306.8 1679.2 1295.7 1680.5 1290.9 1681.8 1297.4 1683.1 1301.6 1684.4 1295.8 1685.7 1289.9 1687 1293.5 1688.3 1296.6 1689.6 1299.9 1691 1305.7 1692.3 1303.7 1693.6 1311.2 1694.9 1312.8 1696.2 1317 1697.5 1312.8 1698.8 1314.6 1700.1 1317.4 1701.4 1317 1702.7 1314.2 1704 1316.2 1705.3 1321.3 1706.6 1331.3 1707.9 1331.1 1709.2 1339.2 1710.5 1337.4 1711.8 1332.6 1713.1 1335.4 1714.4 1330.8 1715.7 1332.1 1717 1343.9 1718.3 1344.8 1719.6 1341.1 1720.9 1345.5 1722.2 1348.9 1723.5 1347.1 1724.8 1346.6 1726.2 1349.1 1727.5 1349.1 1728.8 1346.2 1730.1 1351.7 1731.4 1360.9 1732.7 1349.3 1734 1343.8 1735.3 1349.5 1736.6 1353.7 1737.9 1358.3 1739.2 1354.4 1740.5 1355.1 1741.8 1349 1743.1 1351.5 1744.4 1352.2 1745.7 1353.3 1747 1354.4 1748.3 1353.3 1749.6 1352.7 1750.9 1352.7 1752.2 1355.7 1753.5 1361.2 1754.8 1356.1 1756.1 1349.1 1757.4 1351.5 1758.7 1355.7 1760 1368.4 1761.4 1361.5 1762.7 1357.6 1764 1356.3 1765.3 1367.6 1766.6 1367.5 1767.9 1367.5 1769.2 1369.3 1770.5 1370.3 1771.8 1371.2 1773.1 1366.2 1774.4 1367.5 1775.7 1364.3 1777 1364.1 1778.3 1369.3 1779.6 1365.3 1780.9 1365.7 1782.2 1368.5 1783.5 1367.1 1784.8 1369 1786.1 1377.6 1787.4 1375.5 1788.7 1371.3 1790 1375.3 1791.3 1378.1 1792.6 1378.5 1793.9 1378.6 1795.2 1373.7 1796.6 1381.2 1797.9 1379.6 1799.2 1376.9 1800.5 1385.6 1801.8 1377.7 1803.1 1372.1 1804.4 1380.2 1805.7 1376.2 1807 1381.7 1808.3 1381.9 1809.6 1387.2 1810.9 1382.5 1812.2 1373.6 1813.5 1380.4 1814.8 1382.7 1816.1 1385.8 1817.4 1378.7 1818.7 1378.2 1820 1376.5 1821.3 1386.7 1822.6 1384.5 1823.9 1388.4 1825.2 1390.4 1826.5 1384.8 1827.8 1386.6 1829.1 1381.2 1830.4 1377.2 1831.8 1379.5 1833.1 1378 1834.4 1384.1 1835.7 1387.1 1837 1382.7" stroke="#1b75bb" stroke-width="3.0" stroke-linejoin="round"/>
<path d="M1461.5 1370.9 1463 1370.6 1464.5 1371.6 1466 1371.2 1467.5 1369.9 1469 1371 1470.5 1372.3 1472 1372.3 1473.5 1372.3 1475 1372.3 1476.5 1370.3 1478 1370.9 1479.5 1370.9 1481 1371.3 1482.5 1370.3 1484 1370.3 1485.5 1369.9 1487 1369.5 1488.5 1369.7 1490 1369.6 1491.5 1369.7 1493 1369 1494.5 1368.7 1496 1368.4 1497.5 1369.1 1499 1369.4 1500.5 1369 1502.1 1370 1503.6 1370.3 1505.1 1370.2 1506.6 1370.7 1508.1 1369.7 1509.6 1368.8 1511.1 1367.5 1512.6 1366.6 1514.1 1367.2 1515.6 1365.8 1517.1 1365.4 1518.6 1364.2 1520.1 1364.1 1521.6 1364.4 1523.1 1364.4 1524.6 1365.6 1526.1 1365.8 1527.6 1364.5 1529.1 1365.3 1530.6 1366.6 1532.1 1365.7 1533.6 1365.1 1535.1 1366 1536.6 1366.3 1538.1 1365.7 1539.6 1364.8 1541.1 1365.5 1542.6 1364.2 1544.1 1363.8 1545.6 1364.8 1547.1 1364.4 1548.6 1363 1550.1 1362.6 1551.6 1362.7 1553.1 1363.3 1554.6 1363.4 1556.1 1363.6 1557.6 1363.4 1559.1 1363.8 1560.6 1364.2 1562.1 1365.3 1563.6 1364.1 1565.1 1365.1 1566.6 1365.5 1568.1 1366.2 1569.6 1365.1 1571.1 1366.1 1572.6 1366.4 1574.1 1366.5 1575.6 1365.9 1577.1 1366.2 1578.6 1366.1 1580.1 1365.2 1581.6 1365.5 1583.2 1364.9 1584.7 1366 1586.2 1366.1 1587.7 1365.3 1589.2 1365.7 1590.7 1366 1592.2 1365.5 1593.7 1365.3 1595.2 1364.9 1596.7 1365.3 1598.2 1366.1 1599.7 1364.4 1601.2 1363.5 1602.7 1362 1604.2 1363.2 1605.7 1362 1607.2 1361.8 1608.7 1362.4 1610.2 1362.7 1611.7 1362.9 1613.2 1363.8 1614.7 1365 1616.2 1364.5 1617.7 1365.4 1619.2 1366.3 1620.7 1366.1 1622.2 1367 1623.7 1365.5 1625.2 1364.7 1626.7 1366 1628.2 1365.7 1629.7 1365.3 1631.2 1365.7 1632.7 1364.4 1634.2 1363.6 1635.7 1363.8 1637.2 1363.5 1638.7 1363.4 1640.2 1363.5 1641.7 1364.5 1643.2 1365.7 1644.7 1364.9 1646.2 1365.3 1647.7 1366.3 1649.2 1366.6 1650.7 1366.5 1652.2 1366.8 1653.7 1367 1655.2 1367.2 1656.7 1366.8 1658.2 1366.9 1659.7 1367.2 1661.2 1367.1 1662.8 1367.5 1664.3 1367.3 1665.8 1367.6 1667.3 1367.6 1668.8 1368.7 1670.3 1368.6 1671.8 1369.1 1673.3 1369.5 1674.8 1370.6 1676.3 1370.9 1677.8 1370.1 1679.3 1370.9 1680.8 1370.1 1682.3 1369 1683.8 1368 1685.3 1369.3 1686.8 1369.8 1688.3 1369.9 1689.8 1369.4 1691.3 1370 1692.8 1370.3 1694.3 1370.3 1695.8 1371.2 1697.3 1370.8 1698.8 1371 1700.3 1371.3 1701.8 1371.1 1703.3 1372.3 1704.8 1371.4 1706.3 1371.3 1707.8 1372.6 1709.3 1372.6 1710.8 1372.8 1712.3 1372 1713.8 1372.6 1715.3 1372.4 1716.8 1372.3 1718.3 1372.2 1719.8 1371.5 1721.3 1371.6 1722.8 1372.8 1724.3 1372 1725.8 1372.1 1727.3 1371.6 1728.8 1372 1730.3 1373.6 1731.8 1375.4 1733.3 1375.4 1734.8 1374.1 1736.3 1374.4 1737.8 1373.8 1739.3 1373.9 1740.8 1373.4 1742.3 1373 1743.9 1374.2 1745.4 1373.7 1746.9 1374.7 1748.4 1375.2 1749.9 1375.2 1751.4 1375 1752.9 1374.3 1754.4 1374.1 1755.9 1374.7 1757.4 1374.5 1758.9 1374.6 1760.4 1374.2 1761.9 1374.1 1763.4 1375.7 1764.9 1375.2 1766.4 1376.3 1767.9 1376.1 1769.4 1375.3 1770.9 1375.1 1772.4 1375.9 1773.9 1376 1775.4 1375.5 1776.9 1375.6 1778.4 1375.3 1779.9 1375.3 1781.4 1375.7 1782.9 1375.5 1784.4 1375.4 1785.9 1375.4 1787.4 1376 1788.9 1376.2 1790.4 1376.8 1791.9 1376.8 1793.4 1377.5 1794.9 1376.2 1796.4 1374.6 1797.9 1374.9 1799.4 1375.2 1800.9 1374.2 1802.4 1374.3 1803.9 1375.2 1805.4 1375.5 1806.9 1374.6 1808.4 1374 1809.9 1374 1811.4 1374.7 1812.9 1374.7 1814.4 1375.3 1815.9 1374.6 1817.4 1376 1818.9 1375.1 1820.4 1374.6 1821.9 1374.3 1823.5 1374.9 1825 1374.9 1826.5 1375.4 1828 1375 1829.5 1375.9 1831 1375.6 1832.5 1376.1 1834 1375.7 1835.5 1375.9 1837 1375.9" stroke="#231f20" stroke-width="3.0" stroke-linejoin="round"/>
<path d="M1758.9 1159.1V1408.5" stroke="#231f20" stroke-width="1.6" stroke-dasharray="5.4 4.2"/>
<path d="M1461.5 1159.1V1408.5H1867M1461.5 1180.5h-8.3M1461.5 1213.2h-8.3M1461.5 1246h-8.3M1461.5 1278.8h-8.3M1461.5 1311.5h-8.3M1461.5 1344.2h-8.3M1461.5 1377h-8.3M1461.5 1409.8h-8.3M1461.5 1408.5v7M1535.8 1408.5v7M1610.2 1408.5v7M1684.6 1408.5v7M1758.9 1408.5v7M1833.2 1408.5v7" stroke="#231f20" stroke-width="1.7"/>
<text transform="translate(1449.2 1188) scale(1.02 1)" font-size="21" text-anchor="end">12</text>
<text transform="translate(1449.2 1220.8) scale(1.02 1)" font-size="21" text-anchor="end">10</text>
<text transform="translate(1449.2 1253.5) scale(1.02 1)" font-size="21" text-anchor="end">8</text>
<text transform="translate(1449.2 1286.3) scale(1.02 1)" font-size="21" text-anchor="end">6</text>
<text transform="translate(1449.2 1319) scale(1.02 1)" font-size="21" text-anchor="end">4</text>
<text transform="translate(1449.2 1351.8) scale(1.02 1)" font-size="21" text-anchor="end">2</text>
<text transform="translate(1449.2 1384.5) scale(1.02 1)" font-size="21" text-anchor="end">0</text>
<text transform="translate(1449.2 1417.3) scale(1.02 1)" font-size="21" text-anchor="end">-2</text>
<text transform="translate(1459.5 1433.5) scale(1.02 1)" font-size="21" text-anchor="middle">-8</text>
<text transform="translate(1533.8 1433.5) scale(1.02 1)" font-size="21" text-anchor="middle">-6</text>
<text transform="translate(1608.2 1433.5) scale(1.02 1)" font-size="21" text-anchor="middle">-4</text>
<text transform="translate(1682.6 1433.5) scale(1.02 1)" font-size="21" text-anchor="middle">-2</text>
<text transform="translate(1758.9 1433.5) scale(1.02 1)" font-size="21" text-anchor="middle">0</text>
<text transform="translate(1833.2 1433.5) scale(1.02 1)" font-size="21" text-anchor="middle">2</text>
<text transform="translate(1422 1283.8) rotate(-90) scale(1.06 1)" font-size="23" text-anchor="middle">ΔF/F (%)</text>
<text transform="translate(1664.2 1454.8) scale(1.06 1)" font-size="23" text-anchor="middle">End of struggling (s)</text>
<path d="M1613 1165.5L1647.7 1165.5" stroke="#231f20" stroke-width="3.4"/>
<text transform="translate(1651.6 1174.3) scale(1.06 1)" font-size="20">405 nm</text>
<path d="M1613 1187.4L1647.7 1187.4" stroke="#1b75bb" stroke-width="3.4"/>
<text transform="translate(1651.6 1195.3) scale(1.06 1)" font-size="20">470 nm</text>
<rect x="1872.1" y="1117.4" width="14.6" height="12.5" fill="#37ab4b"/>
<text transform="translate(1889.8 1129.9) scale(0.92 1)" font-size="21">PF</text>
<text transform="translate(1912.2 1140.1) scale(1.08 1)" font-size="16.2">CPu</text>
<rect x="1955.8" y="1117.4" width="14.5" height="12.5" fill="#e8202a"/>
<text transform="translate(1973.3 1129.9) scale(0.92 1)" font-size="21">PF</text>
<text transform="translate(1995.7 1140.1) scale(1.08 1)" font-size="16.2">STN</text>
<rect x="2039.4" y="1117.4" width="14.8" height="12.5" fill="#1b75bb"/>
<text transform="translate(2056.9 1129.9) scale(0.92 1)" font-size="21">PF</text>
<text transform="translate(2079.3 1140.1) scale(1.08 1)" font-size="16.2">NAc</text>
<rect x="1921.8" y="1388" width="31.7" height="2" fill="#37ab4b"/>
<rect x="1985.3" y="1384.2" width="31.7" height="4.3" fill="#e8202a"/>
<rect x="2048.2" y="1325.6" width="32.3" height="62.9" fill="#1b75bb"/>
<path d="M1907.2 1154.8V1407.2H2122M1907.2 1155.5h-7.3M1907.2 1233.2h-7.3M1907.2 1310.8h-7.3M1907.2 1388.5h-7.3" stroke="#231f20" stroke-width="1.7"/>
<text transform="translate(1898.9 1163) scale(1.02 1)" font-size="21" text-anchor="end">12</text>
<text transform="translate(1898.9 1240.7) scale(1.02 1)" font-size="21" text-anchor="end">8</text>
<text transform="translate(1898.9 1318.3) scale(1.02 1)" font-size="21" text-anchor="end">4</text>
<text transform="translate(1898.9 1396) scale(1.02 1)" font-size="21" text-anchor="end">0</text>
<text transform="translate(1880.5 1274.6) rotate(-90) scale(1.06 1)" font-size="23" text-anchor="middle">AUC per sec</text>
<path d="M1938 1386.6L1938 1391.3" stroke="#231f20" stroke-width="3.2"/>
<path d="M2001.5 1377.3L2001.5 1391.3" stroke="#231f20" stroke-width="3.2"/>
<path d="M2065 1304.1L2065 1348.4" stroke="#231f20" stroke-width="3.2"/>
<circle cx="1927.4" cy="1384.2" r="3.8" fill="#fff" stroke="#231f20" stroke-width="1.15"/>
<circle cx="1938.6" cy="1384.2" r="3.8" fill="#fff" stroke="#231f20" stroke-width="1.15"/>
<circle cx="1927" cy="1391.3" r="3.8" fill="#fff" stroke="#231f20" stroke-width="1.15"/>
<circle cx="1938.4" cy="1396" r="3.8" fill="#fff" stroke="#231f20" stroke-width="1.15"/>
<circle cx="1950.2" cy="1393.7" r="3.8" fill="#fff" stroke="#231f20" stroke-width="1.15"/>
<circle cx="1995.9" cy="1372.3" r="3.8" fill="#fff" stroke="#231f20" stroke-width="1.15"/>
<circle cx="1990.3" cy="1381" r="3.8" fill="#fff" stroke="#231f20" stroke-width="1.15"/>
<circle cx="2013.3" cy="1377.3" r="3.8" fill="#fff" stroke="#231f20" stroke-width="1.15"/>
<circle cx="2001.5" cy="1383.8" r="3.8" fill="#fff" stroke="#231f20" stroke-width="1.15"/>
<circle cx="2001.9" cy="1407.2" r="3.8" fill="#fff" stroke="#231f20" stroke-width="1.15"/>
<circle cx="2065" cy="1243.8" r="3.8" fill="#fff" stroke="#231f20" stroke-width="1.15"/>
<circle cx="2053.4" cy="1338.5" r="3.8" fill="#fff" stroke="#231f20" stroke-width="1.15"/>
<circle cx="2065" cy="1340.5" r="3.8" fill="#fff" stroke="#231f20" stroke-width="1.15"/>
<circle cx="2076.2" cy="1349.7" r="3.8" fill="#fff" stroke="#231f20" stroke-width="1.15"/>
<circle cx="2065" cy="1358.6" r="3.8" fill="#fff" stroke="#231f20" stroke-width="1.15"/>
<path d="M1937.5 1191.1V1183.5H2066.9V1191.1" stroke="#231f20" stroke-width="3.1"/>
<path d="M2001.5 1221.4V1213.9H2065V1221.4" stroke="#231f20" stroke-width="3.1"/>
<text transform="translate(2000.2 1187.5)" font-size="32" text-anchor="middle" font-weight="bold">*</text>
<text transform="translate(2033.3 1218.3)" font-size="32" text-anchor="middle" font-weight="bold">*</text>
<text transform="translate(0 1508) scale(1.04 1)" font-size="39" font-weight="bold">g</text>
<text transform="translate(45 1511.4) scale(1.04 1)" font-size="23.5" font-weight="bold">Fiber photometry: Open field</text>
<path d="M58.1 1735 60.1 1736.8 62.1 1734 64.1 1735.1 66.1 1739.6 68.1 1738 70.1 1740.8 72.2 1740.5 74.2 1738 76.2 1736 78.2 1736.6 80.2 1738 82.2 1730.2 84.2 1732.3 86.2 1731.9 88.2 1728.7 90.2 1725.3 92.2 1721.7 94.2 1724.6 96.3 1730.1 98.3 1732.8 100.3 1735.1 102.3 1737.7 104.3 1738.1 106.3 1736.6 108.3 1737 110.3 1733.2 112.3 1732.7 114.3 1731.1 116.3 1730.8 118.3 1733.2 120.3 1732.7 122.4 1732.3 124.4 1731.3 126.4 1729 128.4 1727.1 130.4 1726.7 132.4 1728.8 134.4 1728.9 136.4 1729.7 138.4 1730.8 140.4 1731.1 142.4 1730.4 144.4 1734.1 146.5 1731.2 148.5 1733.1 150.5 1735 152.5 1735.5 154.5 1736.8 156.5 1736.4 158.5 1736.6 160.5 1737 162.5 1738.1 164.5 1737.6 166.5 1735.5 168.5 1736.9 170.5 1731.5 172.6 1730.7 174.6 1732.8 176.6 1731.1 178.6 1729.4 180.6 1732.4 182.6 1733.3 184.6 1734.3 186.6 1735.1 188.6 1731.3 190.6 1732.7 192.6 1731.7 194.6 1730.4 196.7 1729.9 198.7 1729.8 200.7 1736.4 202.7 1738.6 204.7 1740.2 206.7 1736.7 208.7 1737.5 210.7 1738.9 212.7 1735.9 214.7 1739.7 216.7 1741.6 218.7 1740.3 220.7 1738 222.8 1739 224.8 1737.8 226.8 1739.7 228.8 1734.7 230.8 1738.4 232.8 1735.1 234.8 1730.8 236.8 1730.9 238.8 1734.7 240.8 1733.8 242.8 1732.3 244.8 1726.1 246.8 1729.6 248.9 1734.9 250.9 1735.6 252.9 1734.8 254.9 1736.8 256.9 1736.8 258.9 1735.3 260.9 1729.7 262.9 1734 264.9 1738.2 266.9 1736.7 268.9 1737.8 270.9 1738.6 273 1738.1 275 1737.2 277 1734.9 279 1730.2 281 1732 283 1736.9 285 1732.8 287 1731.5 289 1733.8 291 1730.9 293 1735.1 295 1735.6 297 1732.2 299.1 1735.6 301.1 1735.8 303.1 1730.8 305.1 1729.9 307.1 1731.4 309.1 1730.1 311.1 1728.3 313.1 1726.8 315.1 1726.3 317.1 1726.1 319.1 1730 321.1 1729.3 323.2 1726.6 325.2 1730.9 327.2 1727.4 329.2 1728.4 331.2 1728.5 333.2 1725.4 335.2 1722.9 337.2 1725.5 339.2 1722.8 341.2 1727.6 343.2 1726 345.2 1728.4 347.2 1731 349.3 1730.1 351.3 1730.3 353.3 1728.4 355.3 1728 357.3 1725.4 359.3 1725.2 361.3 1727.5 363.3 1727.3 365.3 1733 367.3 1730.5 369.3 1735.9 371.3 1731.3 373.4 1734.3 375.4 1734.7 377.4 1728.8 379.4 1729 381.4 1729.5 383.4 1722.9 385.4 1721.8 387.4 1720.1 389.4 1715.3 391.4 1712.8 393.4 1708.6 395.4 1711.6 397.4 1710.2 399.5 1713.1 401.5 1713.3 403.5 1713 405.5 1713 407.5 1719.3 409.5 1724.2 411.5 1722.6 413.5 1725.5 415.5 1731.2 417.5 1736.4 419.5 1731.9 421.5 1724.3 423.6 1730.2 425.6 1729.9 427.6 1729.2 429.6 1724L429.6 1769 427.6 1767 425.6 1771.9 423.6 1775.1 421.5 1774 419.5 1774.3 417.5 1777.4 415.5 1773.5 413.5 1771.1 411.5 1768.6 409.5 1756.5 407.5 1757.5 405.5 1755.9 403.5 1757.1 401.5 1757.5 399.5 1752.9 397.4 1753.9 395.4 1751.6 393.4 1756.4 391.4 1753.7 389.4 1756.9 387.4 1759.1 385.4 1760.7 383.4 1761.1 381.4 1762.9 379.4 1764 377.4 1766.8 375.4 1772.7 373.4 1771.1 371.3 1775.9 369.3 1773.6 367.3 1773.5 365.3 1773 363.3 1766.2 361.3 1768.9 359.3 1766 357.3 1762.4 355.3 1764.7 353.3 1761.4 351.3 1760.8 349.3 1764.1 347.2 1762.4 345.2 1763 343.2 1762.3 341.2 1763.8 339.2 1767.4 337.2 1764.6 335.2 1769.7 333.2 1773.3 331.2 1772.5 329.2 1770.1 327.2 1774.4 325.2 1776 323.2 1770.9 321.1 1770.7 319.1 1765.3 317.1 1765.2 315.1 1762.6 313.1 1764.2 311.1 1763.4 309.1 1766.6 307.1 1764.7 305.1 1769.9 303.1 1775.7 301.1 1772 299.1 1774.8 297 1775 295 1773.4 293 1772.4 291 1768.8 289 1768.2 287 1769.7 285 1770.1 283 1769.9 281 1773.9 279 1782 277 1777.5 275 1776.3 273 1776.2 270.9 1779.8 268.9 1782.2 266.9 1781.1 264.9 1776.4 262.9 1772.4 260.9 1774.4 258.9 1776.7 256.9 1777.9 254.9 1779.2 252.9 1779.8 250.9 1774.3 248.9 1769.4 246.8 1771.3 244.8 1772 242.8 1772 240.8 1768.2 238.8 1767.3 236.8 1766.5 234.8 1777.7 232.8 1770.3 230.8 1771.7 228.8 1769.4 226.8 1770.2 224.8 1769.6 222.8 1771.2 220.7 1771.4 218.7 1772 216.7 1773.4 214.7 1771.4 212.7 1773.2 210.7 1772.8 208.7 1778.7 206.7 1772.9 204.7 1772.4 202.7 1773.3 200.7 1767.5 198.7 1769.7 196.7 1764.6 194.6 1759.7 192.6 1759.1 190.6 1756.8 188.6 1758.8 186.6 1763.1 184.6 1762.2 182.6 1763.9 180.6 1762.8 178.6 1764 176.6 1761.7 174.6 1759.9 172.6 1759.6 170.5 1762 168.5 1765.1 166.5 1769.3 164.5 1767.7 162.5 1768.9 160.5 1770.1 158.5 1772.4 156.5 1771.2 154.5 1769.1 152.5 1771.3 150.5 1767.9 148.5 1765.1 146.5 1765.9 144.4 1763.8 142.4 1762.6 140.4 1763.4 138.4 1762.5 136.4 1761.7 134.4 1762.4 132.4 1765 130.4 1762.3 128.4 1761.6 126.4 1764.4 124.4 1762.4 122.4 1762.5 120.3 1762.1 118.3 1763.8 116.3 1765.1 114.3 1767.3 112.3 1765 110.3 1765.6 108.3 1764.7 106.3 1763.6 104.3 1764.6 102.3 1769 100.3 1762.1 98.3 1758.9 96.3 1758 94.2 1754.1 92.2 1755 90.2 1755.2 88.2 1760.4 86.2 1762.6 84.2 1759.8 82.2 1764 80.2 1763.8 78.2 1761.4 76.2 1764 74.2 1767.1 72.2 1765.7 70.1 1767 68.1 1767.4 66.1 1769.1 64.1 1765.9 62.1 1766.3 60.1 1765.6 58.1 1766.4Z" class="k" style="fill:#231f20"/>
<path d="M58.1 1749.9 59.6 1752.3 61.1 1749.8 62.6 1752.8 64.1 1753.9 65.6 1753.4 67.1 1752.4 68.6 1753.3 70.1 1754.3 71.6 1754.8 73.1 1752.7 74.6 1753.7 76.1 1751.4 77.7 1751.6 79.2 1751.6 80.7 1750.1 82.2 1748.1 83.7 1747.4 85.2 1745.4 86.7 1745 88.2 1744.2 89.7 1743.3 91.2 1743.7 92.7 1742.4 94.2 1741.3 95.7 1743.7 97.2 1744.4 98.7 1747.6 100.2 1749 101.7 1751.2 103.2 1750.2 104.7 1748.9 106.2 1750.2 107.7 1749.9 109.2 1747.3 110.7 1747.5 112.2 1746.2 113.7 1748 115.2 1748.3 116.8 1748.6 118.3 1749.2 119.8 1748 121.3 1745.7 122.8 1746.3 124.3 1747.4 125.8 1747.5 127.3 1747.3 128.8 1746 130.3 1744.4 131.8 1743.6 133.3 1743.4 134.8 1743 136.3 1743.1 137.8 1744.6 139.3 1747.2 140.8 1747.6 142.3 1747.8 143.8 1750.1 145.3 1749.9 146.8 1750.7 148.3 1749.8 149.8 1752.4 151.3 1754.7 152.8 1752.6 154.4 1755.2 155.9 1755.7 157.4 1756.8 158.9 1755.8 160.4 1756.1 161.9 1755.4 163.4 1753.4 164.9 1752.5 166.4 1752.9 167.9 1751.8 169.4 1748.2 170.9 1744.8 172.4 1743.7 173.9 1745.4 175.4 1746.5 176.9 1746.1 178.4 1749.3 179.9 1748.4 181.4 1748.3 182.9 1748.8 184.4 1750.6 185.9 1748.3 187.4 1747.1 188.9 1747.3 190.4 1745.3 192 1745.2 193.5 1744.7 195 1743.9 196.5 1743.7 198 1744.3 199.5 1748.3 201 1751.7 202.5 1753 204 1755.8 205.5 1753.8 207 1754.8 208.5 1756 210 1756.4 211.5 1755.8 213 1754.4 214.5 1755.7 216 1755.1 217.5 1753.8 219 1756.1 220.5 1755.7 222 1753.9 223.5 1753.3 225 1753.7 226.5 1753.4 228 1751.6 229.5 1752.4 231.1 1753.6 232.6 1753.2 234.1 1748.6 235.6 1751 237.1 1750.6 238.6 1751.5 240.1 1752.1 241.6 1751.8 243.1 1751.2 244.6 1751.5 246.1 1752.8 247.6 1752.1 249.1 1752.4 250.6 1754.4 252.1 1755.4 253.6 1754.5 255.1 1755.1 256.6 1757.3 258.1 1757.5 259.6 1757 261.1 1756.2 262.6 1759.1 264.1 1756.8 265.6 1756.3 267.1 1756.8 268.7 1756.8 270.2 1758.3 271.7 1757.3 273.2 1757.5 274.7 1758.5 276.2 1757.4 277.7 1756.6 279.2 1755 280.7 1753.4 282.2 1753 283.7 1752.4 285.2 1751 286.7 1750.8 288.2 1749.8 289.7 1748.4 291.2 1748.9 292.7 1750.2 294.2 1751.9 295.7 1752.9 297.2 1753.3 298.7 1755.2 300.2 1756.6 301.7 1754.3 303.2 1752.7 304.7 1750.9 306.3 1749.2 307.8 1748.5 309.3 1745.5 310.8 1743.8 312.3 1743.8 313.8 1745.3 315.3 1747.5 316.8 1748.3 318.3 1749.7 319.8 1751.2 321.3 1752.2 322.8 1752.9 324.3 1750.1 325.8 1748.6 327.3 1750.2 328.8 1750.4 330.3 1748.4 331.8 1747.3 333.3 1746.4 334.8 1746.4 336.3 1743.4 337.8 1744.7 339.3 1743.9 340.8 1745.1 342.3 1747.4 343.9 1746.5 345.4 1745.3 346.9 1746 348.4 1745.5 349.9 1745.5 351.4 1746.2 352.9 1746.6 354.4 1745.4 355.9 1745.2 357.4 1743.6 358.9 1746.7 360.4 1747.7 361.9 1748.2 363.4 1748.3 364.9 1749.1 366.4 1749.6 367.9 1752.3 369.4 1752.1 370.9 1752.3 372.4 1750.3 373.9 1752 375.4 1752 376.9 1746.3 378.4 1745.8 379.9 1745.3 381.4 1743.9 383 1742.5 384.5 1742.3 386 1739.6 387.5 1736.5 389 1735.6 390.5 1734.2 392 1731.7 393.5 1729.5 395 1728 396.5 1727.6 398 1730.8 399.5 1731.7 401 1730.6 402.5 1731.9 404 1732.3 405.5 1735.5 407 1735 408.5 1737 410 1737.4 411.5 1741.1 413 1745.1 414.5 1746.7 416 1749.1 417.5 1751.3 419 1748.5 420.6 1751 422.1 1749.1 423.6 1749.6 425.1 1747.4 426.6 1745.9 428.1 1746.2 429.6 1744.7" stroke="#231f20" stroke-width="3.4" stroke-linejoin="round"/>
<path d="M185.1 1561.1V1811" stroke="#231f20" stroke-width="1.6" stroke-dasharray="5.4 4.2"/>
<path d="M58.1 1561.1V1811H462.8M58.1 1604.9h-8.3M58.1 1653.2h-8.3M58.1 1701.6h-8.3M58.1 1749.9h-8.3M58.1 1798.2h-8.3M58.1 1811v7M121.6 1811v7M185.1 1811v7M248.6 1811v7M312.1 1811v7M375.6 1811v7" stroke="#231f20" stroke-width="1.7"/>
<text transform="translate(45.8 1612.4) scale(1.02 1)" font-size="21" text-anchor="end">12</text>
<text transform="translate(45.8 1660.8) scale(1.02 1)" font-size="21" text-anchor="end">8</text>
<text transform="translate(45.8 1709.1) scale(1.02 1)" font-size="21" text-anchor="end">4</text>
<text transform="translate(45.8 1757.4) scale(1.02 1)" font-size="21" text-anchor="end">0</text>
<text transform="translate(45.8 1805.8) scale(1.02 1)" font-size="21" text-anchor="end">-4</text>
<text transform="translate(56.1 1835.5) scale(1.02 1)" font-size="21" text-anchor="middle">-4</text>
<text transform="translate(119.6 1835.5) scale(1.02 1)" font-size="21" text-anchor="middle">-2</text>
<text transform="translate(185.1 1835.5) scale(1.02 1)" font-size="21" text-anchor="middle">0</text>
<text transform="translate(248.6 1835.5) scale(1.02 1)" font-size="21" text-anchor="middle">2</text>
<text transform="translate(312.1 1835.5) scale(1.02 1)" font-size="21" text-anchor="middle">4</text>
<text transform="translate(375.6 1835.5) scale(1.02 1)" font-size="21" text-anchor="middle">6</text>
<text transform="translate(21.7 1686) rotate(-90) scale(1.06 1)" font-size="23" text-anchor="middle">ΔF/F (%)</text>
<text transform="translate(260.4 1857) scale(1.06 1)" font-size="23" text-anchor="middle">Onset of immobility (s)</text>
<path d="M292.5 1574.6L326.2 1574.6" stroke="#231f20" stroke-width="3.4"/>
<text transform="translate(330.5 1582) scale(0.9 1)" font-size="21">PF</text>
<text transform="translate(352.9 1590.6) scale(1.08 1)" font-size="16.3">CPu</text>
<text transform="translate(393.2 1582) scale(1.06 1)" font-size="20">hM4Di</text>
<path d="M535.4 1572.6V1809.9M535.4 1809.9H658.4M535.4 1573.4h-7.3M535.4 1652.2h-7.3M535.4 1731.1h-7.3M535.4 1809.9h-7.3" stroke="#231f20" stroke-width="1.7"/>
<text transform="translate(527.1 1580.9) scale(1.02 1)" font-size="21" text-anchor="end">15</text>
<text transform="translate(527.1 1659.7) scale(1.02 1)" font-size="21" text-anchor="end">10</text>
<text transform="translate(527.1 1738.6) scale(1.02 1)" font-size="21" text-anchor="end">5</text>
<text transform="translate(527.1 1817.4) scale(1.02 1)" font-size="21" text-anchor="end">0</text>
<text transform="translate(498 1690.7) rotate(-90) scale(1.06 1)" font-size="23" text-anchor="middle">AUC per sec</text>
<path d="M559.1 1809.9L622.3 1798.7" stroke="#231f20" stroke-width="1.1"/>
<path d="M559.1 1809.9L622.3 1808" stroke="#231f20" stroke-width="1.1"/>
<path d="M559.1 1809.9L622.3 1810.7" stroke="#231f20" stroke-width="1.1"/>
<path d="M559.1 1809.9L622.3 1813.1" stroke="#231f20" stroke-width="1.1"/>
<path d="M559.1 1809.9L622.3 1815.4" stroke="#231f20" stroke-width="1.1"/>
<path d="M559.1 1809.9L622.3 1817.8" stroke="#231f20" stroke-width="1.1"/>
<circle cx="559.1" cy="1809.9" r="4.8" fill="#fff" stroke="#231f20" stroke-width="1.2"/>
<circle cx="622.3" cy="1798.7" r="4.8" fill="#fff" stroke="#231f20" stroke-width="1.2"/>
<circle cx="622.3" cy="1808" r="4.8" fill="#fff" stroke="#231f20" stroke-width="1.2"/>
<circle cx="622.3" cy="1810.7" r="4.8" fill="#fff" stroke="#231f20" stroke-width="1.2"/>
<circle cx="622.3" cy="1813.1" r="4.8" fill="#fff" stroke="#231f20" stroke-width="1.2"/>
<circle cx="622.3" cy="1815.4" r="4.8" fill="#fff" stroke="#231f20" stroke-width="1.2"/>
<circle cx="622.3" cy="1817.8" r="4.8" fill="#fff" stroke="#231f20" stroke-width="1.2"/>
<path d="M629.5 1806L629.5 1815" stroke="#231f20" stroke-width="3.5"/>
<path d="M561.1 1762.1V1754.8H623.5V1762.1" stroke="#231f20" stroke-width="3.0"/>
<text transform="translate(591.9 1749.5)" font-size="17" text-anchor="middle">NS</text>
<text transform="translate(565.5 1838.3) rotate(-29.5) scale(1.03 1)" font-size="19.5" text-anchor="end">Baseline</text>
<text transform="translate(637 1835) rotate(-29.5) scale(1.03 1)" font-size="19.5" text-anchor="end">Immobility</text>
<text transform="translate(699.8 1506.4) scale(1.04 1)" font-size="39" font-weight="bold">h</text>
<text transform="translate(749.1 1508.2) scale(1.04 1)" font-size="23.5" font-weight="bold">Fiber photometry: Rotarod</text>
<path d="M761.1 1751.4 763.1 1751.3 765.1 1746.4 767.1 1750 769.1 1746.9 771.1 1748.4 773.1 1748 775.1 1749.6 777.1 1749.1 779.1 1748.8 781.1 1748.5 783.2 1749.4 785.2 1750.7 787.2 1749.6 789.2 1750.1 791.2 1748.4 793.2 1746.5 795.2 1748.9 797.2 1749.9 799.2 1748.9 801.2 1748.6 803.2 1747 805.2 1748 807.3 1745.6 809.3 1749.2 811.3 1749.5 813.3 1750.1 815.3 1748 817.3 1749.1 819.3 1749.8 821.3 1750.2 823.3 1752.2 825.3 1751.8 827.3 1748.9 829.3 1746.7 831.4 1748.4 833.4 1747.6 835.4 1746.4 837.4 1747.5 839.4 1747.1 841.4 1747.9 843.4 1745.2 845.4 1744 847.4 1745.2 849.4 1746.6 851.4 1746 853.4 1745.1 855.4 1746.5 857.5 1747.3 859.5 1746.8 861.5 1745.4 863.5 1747.3 865.5 1748.1 867.5 1741.9 869.5 1746.6 871.5 1746.5 873.5 1745.8 875.5 1746.3 877.5 1747.5 879.5 1747.6 881.6 1747.5 883.6 1750.1 885.6 1746 887.6 1749.9 889.6 1747.5 891.6 1749 893.6 1744.1 895.6 1744.2 897.6 1750.9 899.6 1753.9 901.6 1751.4 903.6 1750.6 905.7 1750.1 907.7 1744.6 909.7 1744.3 911.7 1745.8 913.7 1748.4 915.7 1747.9 917.7 1747.5 919.7 1748.6 921.7 1748.6 923.7 1740.9 925.7 1746.8 927.7 1747.3 929.7 1750.2 931.8 1749.4 933.8 1751.1 935.8 1751.7 937.8 1748.2 939.8 1750 941.8 1743.4 943.8 1746.1 945.8 1747 947.8 1748.2 949.8 1749 951.8 1751.4 953.8 1751.7 955.9 1752.6 957.9 1753.3 959.9 1753.1 961.9 1752.8 963.9 1753.7 965.9 1752.2 967.9 1749.9 969.9 1749.9 971.9 1752.9 973.9 1751.1 975.9 1751.9 977.9 1751.6 980 1753.4 982 1752.2 984 1747.3 986 1751.2 988 1753.5 990 1754.9 992 1756.1 994 1752.4 996 1755 998 1754.5 1000 1754.3 1002 1752 1004 1753.6 1006.1 1751.5 1008.1 1754.1 1010.1 1754.5 1012.1 1751.7 1014.1 1753 1016.1 1752.5 1018.1 1750 1020.1 1750.4 1022.1 1750.7 1024.1 1749.9 1026.1 1751.9 1028.1 1753.3 1030.2 1748.3 1032.2 1750.2 1034.2 1752.2 1036.2 1754.5 1038.2 1756.7 1040.2 1755.4 1042.2 1754.7 1044.2 1754.5 1046.2 1753.4 1048.2 1755.3 1050.2 1755.1 1052.2 1752.7 1054.3 1751.7 1056.3 1750.8 1058.3 1752.5 1060.3 1752.1 1062.3 1751.6 1064.3 1750.5 1066.3 1753.4 1068.3 1750.2 1070.3 1749.7 1072.3 1751.8 1074.3 1751.1 1076.3 1753.9 1078.3 1750.1 1080.4 1751 1082.4 1752.1 1084.4 1756 1086.4 1756.7 1088.4 1756.4 1090.4 1754.7 1092.4 1755.8 1094.4 1756 1096.4 1755.7 1098.4 1754.7 1100.4 1749 1102.4 1750 1104.5 1751.6 1106.5 1751.8 1108.5 1749.8 1110.5 1749.9 1112.5 1755.4 1114.5 1754.4 1116.5 1755 1118.5 1753.6 1120.5 1752.2 1122.5 1754.4 1124.5 1755 1126.5 1755.3 1128.6 1755.5 1130.6 1752.9 1132.6 1752.6L1132.6 1765.6 1130.6 1765.5 1128.6 1768.1 1126.5 1765.6 1124.5 1766.5 1122.5 1768.4 1120.5 1766.7 1118.5 1768.4 1116.5 1765.5 1114.5 1767 1112.5 1767 1110.5 1768.4 1108.5 1765.2 1106.5 1764.1 1104.5 1763.8 1102.4 1762.7 1100.4 1763.1 1098.4 1765.7 1096.4 1771.2 1094.4 1769.6 1092.4 1766.3 1090.4 1768.9 1088.4 1765.9 1086.4 1768.7 1084.4 1766.9 1082.4 1766.1 1080.4 1767.5 1078.3 1766.2 1076.3 1764.7 1074.3 1764.4 1072.3 1764.6 1070.3 1765.4 1068.3 1765.1 1066.3 1763 1064.3 1764.3 1062.3 1763.1 1060.3 1763.9 1058.3 1767.7 1056.3 1765.1 1054.3 1763.6 1052.2 1764.5 1050.2 1765.1 1048.2 1767.4 1046.2 1766 1044.2 1769.5 1042.2 1766.7 1040.2 1765 1038.2 1766.3 1036.2 1768.6 1034.2 1769 1032.2 1768.2 1030.2 1765.1 1028.1 1766.1 1026.1 1766.9 1024.1 1768.6 1022.1 1766.1 1020.1 1762.5 1018.1 1762.5 1016.1 1765.6 1014.1 1764.1 1012.1 1766.1 1010.1 1765 1008.1 1767.1 1006.1 1765.3 1004 1764.2 1002 1764.1 1000 1769 998 1765.1 996 1765.5 994 1766.7 992 1766.4 990 1765.5 988 1766.5 986 1768.2 984 1769 982 1766.7 980 1765.1 977.9 1762.8 975.9 1764.2 973.9 1762.9 971.9 1763.5 969.9 1765.1 967.9 1767.8 965.9 1763.6 963.9 1765.5 961.9 1764.3 959.9 1766.1 957.9 1764.9 955.9 1766.9 953.8 1764.7 951.8 1765.1 949.8 1765.7 947.8 1763.1 945.8 1765.7 943.8 1766.3 941.8 1762.8 939.8 1763.7 937.8 1762.9 935.8 1763.2 933.8 1761.9 931.8 1760.9 929.7 1760 927.7 1759.5 925.7 1761.9 923.7 1760.3 921.7 1762.7 919.7 1759.4 917.7 1761.5 915.7 1763.9 913.7 1761.1 911.7 1763 909.7 1760.9 907.7 1763.4 905.7 1765.7 903.6 1767 901.6 1767 899.6 1766.5 897.6 1765.1 895.6 1766.1 893.6 1760.3 891.6 1759.2 889.6 1760.9 887.6 1763 885.6 1762.2 883.6 1761.8 881.6 1764.4 879.5 1759.7 877.5 1759.4 875.5 1760 873.5 1760.5 871.5 1765.4 869.5 1762.7 867.5 1757.9 865.5 1759.2 863.5 1759.3 861.5 1758.3 859.5 1760.4 857.5 1757.9 855.4 1757.5 853.4 1756.4 851.4 1756.3 849.4 1756.7 847.4 1757.1 845.4 1757.3 843.4 1757.7 841.4 1757.4 839.4 1759.3 837.4 1757.8 835.4 1757.7 833.4 1759.9 831.4 1759.6 829.3 1760.7 827.3 1761.5 825.3 1762.4 823.3 1761.8 821.3 1761.2 819.3 1762.9 817.3 1762.8 815.3 1760.9 813.3 1761.6 811.3 1761 809.3 1757.5 807.3 1758.4 805.2 1756.8 803.2 1756.2 801.2 1758.3 799.2 1759.1 797.2 1757.1 795.2 1759.9 793.2 1757.9 791.2 1759.9 789.2 1760.1 787.2 1759 785.2 1759.8 783.2 1760.5 781.1 1762.5 779.1 1760.4 777.1 1758.9 775.1 1757.3 773.1 1758.4 771.1 1757.7 769.1 1759.3 767.1 1758.2 765.1 1759.4 763.1 1763.4 761.1 1762.2Z" class="k" style="fill:#231f20"/>
<path d="M761.1 1754.8 762.6 1755.2 764.1 1755 765.6 1754.9 767.1 1754.3 768.6 1754.9 770.1 1754.3 771.6 1752.7 773.1 1752 774.6 1753.2 776.1 1755.2 777.6 1755.8 779.1 1755.2 780.6 1756.1 782.1 1756.5 783.6 1756 785.1 1757.2 786.6 1756.7 788.1 1756 789.6 1756.2 791.1 1754.5 792.7 1754.4 794.2 1755.6 795.7 1754.5 797.2 1754.2 798.7 1752.2 800.2 1752.6 801.7 1752.8 803.2 1752.6 804.7 1752.4 806.2 1752.9 807.7 1753 809.2 1753.7 810.7 1754 812.2 1753.7 813.7 1754.7 815.2 1754.5 816.7 1754 818.2 1754.1 819.7 1755.3 821.2 1756 822.7 1757 824.2 1756.2 825.7 1755.4 827.2 1754.9 828.7 1754.8 830.3 1754 831.8 1754.1 833.3 1754.3 834.8 1753.8 836.3 1752.8 837.8 1753.6 839.3 1753.5 840.8 1753.3 842.3 1753.3 843.8 1752.4 845.3 1751.9 846.8 1752.8 848.3 1753.5 849.8 1752.3 851.3 1752.4 852.8 1753.4 854.3 1752 855.8 1752.6 857.3 1752.4 858.8 1752.1 860.3 1752.6 861.8 1753 863.3 1752.1 864.8 1753.3 866.4 1753.5 867.9 1753.3 869.4 1754.6 870.9 1753.6 872.4 1753.7 873.9 1754.9 875.4 1753.9 876.9 1754.6 878.4 1754.2 879.9 1754.8 881.4 1754.4 882.9 1753.8 884.4 1755.3 885.9 1755.5 887.4 1754.4 888.9 1754.3 890.4 1753.7 891.9 1753.4 893.4 1754.6 894.9 1755 896.4 1756.1 897.9 1757.2 899.4 1758 900.9 1757.2 902.4 1755.7 904 1754.9 905.5 1754.7 907 1754.2 908.5 1754.1 910 1755.7 911.5 1754.5 913 1755.3 914.5 1755.3 916 1755.8 917.5 1755.8 919 1755.3 920.5 1754.4 922 1754.7 923.5 1752.8 925 1752.2 926.5 1752.2 928 1753.4 929.5 1754.4 931 1755.8 932.5 1756.9 934 1758.4 935.5 1758.7 937 1758.1 938.5 1757.7 940 1757.8 941.6 1757.1 943.1 1758.8 944.6 1756.8 946.1 1758 947.6 1758.2 949.1 1758.4 950.6 1759.8 952.1 1758.5 953.6 1758.6 955.1 1760.1 956.6 1759.7 958.1 1759.3 959.6 1759.2 961.1 1759 962.6 1759 964.1 1758.9 965.6 1758.9 967.1 1758.4 968.6 1759.6 970.1 1757.4 971.6 1756.9 973.1 1757.7 974.6 1758.3 976.1 1758.6 977.6 1758.4 979.2 1758.9 980.7 1757.4 982.2 1757 983.7 1758 985.2 1758.6 986.7 1758.6 988.2 1758.7 989.7 1759.6 991.2 1760.2 992.7 1759.7 994.2 1759.5 995.7 1759.2 997.2 1760.3 998.7 1760.7 1000.2 1759.6 1001.7 1759.5 1003.2 1758.9 1004.7 1758.6 1006.2 1759.3 1007.7 1759.3 1009.2 1760.4 1010.7 1760.5 1012.2 1757.9 1013.7 1758.8 1015.3 1758.3 1016.8 1756.9 1018.3 1758.3 1019.8 1757.7 1021.3 1757.9 1022.8 1759 1024.3 1758.8 1025.8 1758.6 1027.3 1760.4 1028.8 1758.9 1030.3 1759.3 1031.8 1760.1 1033.3 1760.8 1034.8 1761.6 1036.3 1762.3 1037.8 1762.8 1039.3 1762.4 1040.8 1761.4 1042.3 1762.5 1043.8 1761.2 1045.3 1761.5 1046.8 1759.6 1048.3 1759.9 1049.8 1761.1 1051.3 1761.1 1052.9 1761.4 1054.4 1760.4 1055.9 1760.2 1057.4 1761.2 1058.9 1760.7 1060.4 1760.3 1061.9 1759.3 1063.4 1759.9 1064.9 1759.8 1066.4 1759.3 1067.9 1759 1069.4 1756.4 1070.9 1758.5 1072.4 1758.3 1073.9 1759.4 1075.4 1759.4 1076.9 1759.8 1078.4 1760.7 1079.9 1761.5 1081.4 1761.4 1082.9 1763 1084.4 1762.2 1085.9 1762.6 1087.4 1762 1088.9 1762 1090.5 1761.5 1092 1762 1093.5 1761.8 1095 1762 1096.5 1761.7 1098 1761.2 1099.5 1759.5 1101 1759.1 1102.5 1758.4 1104 1758.1 1105.5 1757.6 1107 1758.5 1108.5 1758.8 1110 1759.6 1111.5 1759.2 1113 1760 1114.5 1761.3 1116 1759.6 1117.5 1758.5 1119 1759.2 1120.5 1759 1122 1757.7 1123.5 1759.1 1125 1758.8 1126.6 1759.4 1128.1 1759.6 1129.6 1758.7 1131.1 1759.2 1132.6 1758.4" stroke="#231f20" stroke-width="3.4" stroke-linejoin="round"/>
<path d="M810.6 1563.1V1812.7" stroke="#231f20" stroke-width="1.6" stroke-dasharray="5.4 4.2"/>
<path d="M760.9 1563.1V1812.7H1165.1M760.9 1605.4h-8.3M760.9 1642.3h-8.3M760.9 1679.2h-8.3M760.9 1716.2h-8.3M760.9 1753.1h-8.3M760.9 1790h-8.3M761.1 1812.7v7M810.6 1812.7v7M860.1 1812.7v7M909.7 1812.7v7M959.2 1812.7v7M1008.7 1812.7v7M1058.3 1812.7v7M1107.8 1812.7v7" stroke="#231f20" stroke-width="1.7"/>
<text transform="translate(748.6 1612.9) scale(1.02 1)" font-size="21" text-anchor="end">16</text>
<text transform="translate(748.6 1649.8) scale(1.02 1)" font-size="21" text-anchor="end">12</text>
<text transform="translate(748.6 1686.8) scale(1.02 1)" font-size="21" text-anchor="end">8</text>
<text transform="translate(748.6 1723.7) scale(1.02 1)" font-size="21" text-anchor="end">4</text>
<text transform="translate(748.6 1760.6) scale(1.02 1)" font-size="21" text-anchor="end">0</text>
<text transform="translate(748.6 1797.5) scale(1.02 1)" font-size="21" text-anchor="end">-4</text>
<text transform="translate(759.1 1837.5) scale(1.02 1)" font-size="21" text-anchor="middle">-2</text>
<text transform="translate(810.6 1837.5) scale(1.02 1)" font-size="21" text-anchor="middle">0</text>
<text transform="translate(860.1 1837.5) scale(1.02 1)" font-size="21" text-anchor="middle">2</text>
<text transform="translate(909.7 1837.5) scale(1.02 1)" font-size="21" text-anchor="middle">4</text>
<text transform="translate(959.2 1837.5) scale(1.02 1)" font-size="21" text-anchor="middle">6</text>
<text transform="translate(1008.7 1837.5) scale(1.02 1)" font-size="21" text-anchor="middle">8</text>
<text transform="translate(1058.3 1837.5) scale(1.02 1)" font-size="21" text-anchor="middle">10</text>
<text transform="translate(1107.8 1837.5) scale(1.02 1)" font-size="21" text-anchor="middle">12</text>
<text transform="translate(719.5 1687.9) rotate(-90) scale(1.06 1)" font-size="23" text-anchor="middle">ΔF/F (%)</text>
<text transform="translate(963 1856.7) scale(1.06 1)" font-size="23" text-anchor="middle">Onset of acceleration (s)</text>
<path d="M1000.7 1575.9L1033.4 1575.9" stroke="#231f20" stroke-width="3.4"/>
<text transform="translate(1038.2 1583.2) scale(0.9 1)" font-size="21">PF</text>
<text transform="translate(1060.6 1591.8) scale(1.08 1)" font-size="16.3">STN</text>
<text transform="translate(1100.6 1583.2) scale(1.06 1)" font-size="20">hM4Di</text>
<path d="M1234.3 1586.1V1839.1M1234.3 1813.5H1356M1234.3 1586.7h-7.3M1234.3 1662.3h-7.3M1234.3 1737.9h-7.3M1234.3 1813.5h-7.3" stroke="#231f20" stroke-width="1.7"/>
<text transform="translate(1226 1594.2) scale(1.02 1)" font-size="21" text-anchor="end">9</text>
<text transform="translate(1226 1669.8) scale(1.02 1)" font-size="21" text-anchor="end">6</text>
<text transform="translate(1226 1745.4) scale(1.02 1)" font-size="21" text-anchor="end">3</text>
<text transform="translate(1226 1821) scale(1.02 1)" font-size="21" text-anchor="end">0</text>
<text transform="translate(1202 1699) rotate(-90) scale(1.06 1)" font-size="23" text-anchor="middle">AUC per sec</text>
<path d="M1312 1814.5L1344 1814.5" stroke="#c4161c" stroke-width="1.6"/>
<path d="M1255.5 1813.5L1318.9 1797.1" stroke="#231f20" stroke-width="1.1"/>
<path d="M1255.5 1813.5L1318.9 1814.8" stroke="#231f20" stroke-width="1.1"/>
<path d="M1255.5 1813.5L1318.9 1817.3" stroke="#231f20" stroke-width="1.1"/>
<path d="M1255.5 1813.5L1318.9 1819.8" stroke="#231f20" stroke-width="1.1"/>
<path d="M1255.5 1813.5L1318.9 1821.8" stroke="#231f20" stroke-width="1.1"/>
<circle cx="1255.5" cy="1813.5" r="4.8" fill="#fff" stroke="#231f20" stroke-width="1.2"/>
<circle cx="1318.9" cy="1797.1" r="4.8" fill="#fff" stroke="#231f20" stroke-width="1.2"/>
<circle cx="1318.9" cy="1814.8" r="4.8" fill="#fff" stroke="#231f20" stroke-width="1.2"/>
<circle cx="1318.9" cy="1817.3" r="4.8" fill="#fff" stroke="#231f20" stroke-width="1.2"/>
<circle cx="1318.9" cy="1819.8" r="4.8" fill="#fff" stroke="#231f20" stroke-width="1.2"/>
<circle cx="1318.9" cy="1821.8" r="4.8" fill="#fff" stroke="#231f20" stroke-width="1.2"/>
<path d="M1328 1810L1328 1820" stroke="#231f20" stroke-width="3.5"/>
<path d="M1260.4 1764.5V1757.2H1323.7V1764.5" stroke="#231f20" stroke-width="3.0"/>
<text transform="translate(1291.9 1751.5)" font-size="17" text-anchor="middle">NS</text>
<text transform="translate(1265.5 1848) rotate(-29.5) scale(1.03 1)" font-size="19.5" text-anchor="end">Baseline</text>
<text transform="translate(1334 1844.7) rotate(-29.5) scale(1.03 1)" font-size="19.5" text-anchor="end">Acceleration</text>
<text transform="translate(1386.2 1506.4) scale(1.04 1)" font-size="39" font-weight="bold">i</text>
<text transform="translate(1449.7 1508.2) scale(1.04 1)" font-size="23.5" font-weight="bold">Fiber photometry: Tail suspension</text>
<path d="M1455.1 1763.4 1457.1 1765.2 1459.1 1763.6 1461.1 1763.2 1463.1 1766.4 1465.1 1767.2 1467.1 1767.9 1469.1 1766.3 1471.1 1767.3 1473.1 1768.9 1475.1 1769.6 1477.2 1769.7 1479.2 1767.7 1481.2 1766.3 1483.2 1768 1485.2 1766.9 1487.2 1765.3 1489.2 1765.2 1491.2 1761.8 1493.2 1760.2 1495.2 1761.4 1497.2 1762.2 1499.3 1766.9 1501.3 1767.4 1503.3 1763.8 1505.3 1765.5 1507.3 1766.1 1509.3 1767.3 1511.3 1767.3 1513.3 1765.6 1515.3 1766 1517.3 1765.1 1519.4 1761.7 1521.4 1761.1 1523.4 1761.7 1525.4 1760.4 1527.4 1756.3 1529.4 1758.3 1531.4 1755.9 1533.4 1751 1535.4 1748.8 1537.4 1751.6 1539.4 1752.4 1541.5 1747.4 1543.5 1741.1 1545.5 1739.8 1547.5 1738.1 1549.5 1737.9 1551.5 1743.2 1553.5 1739.3 1555.5 1740.8 1557.5 1741 1559.5 1742.9 1561.6 1743.1 1563.6 1744 1565.6 1745 1567.6 1744 1569.6 1744.5 1571.6 1747 1573.6 1744.1 1575.6 1744.9 1577.6 1743.5 1579.6 1737.7 1581.6 1742.5 1583.7 1742 1585.7 1740.7 1587.7 1738.1 1589.7 1744.3 1591.7 1740 1593.7 1743.4 1595.7 1742.9 1597.7 1742.2 1599.7 1742.1 1601.7 1742.8 1603.8 1741.8 1605.8 1733.2 1607.8 1735.1 1609.8 1735.7 1611.8 1736.1 1613.8 1740.4 1615.8 1742 1617.8 1741.8 1619.8 1739.2 1621.8 1742.6 1623.8 1742.9 1625.9 1747.5 1627.9 1743.7 1629.9 1746.2 1631.9 1743.2 1633.9 1746.2 1635.9 1743.7 1637.9 1743.4 1639.9 1741.8 1641.9 1745 1643.9 1747.7 1645.9 1749.5 1648 1748 1650 1746.4 1652 1746 1654 1748.5 1656 1748.1 1658 1753.3 1660 1753.6 1662 1750.5 1664 1750.7 1666 1752.6 1668.1 1754.9 1670.1 1752.6 1672.1 1755.6 1674.1 1758.2 1676.1 1758.3 1678.1 1758.2 1680.1 1755.7 1682.1 1761 1684.1 1757.6 1686.1 1760.7 1688.1 1760.2 1690.2 1758.5 1692.2 1757.5 1694.2 1757.1 1696.2 1756 1698.2 1757.4 1700.2 1756.2 1702.2 1756.9 1704.2 1755.3 1706.2 1758.2 1708.2 1756 1710.3 1754 1712.3 1757 1714.3 1754.4 1716.3 1754 1718.3 1756.6 1720.3 1753.7 1722.3 1754.5 1724.3 1755.9 1726.3 1759.5 1728.3 1761.9 1730.3 1763.3 1732.4 1760 1734.4 1760.1 1736.4 1766 1738.4 1761.2 1740.4 1761.2 1742.4 1761.3 1744.4 1759.4 1746.4 1759.9 1748.4 1761.3 1750.4 1761.2 1752.5 1758.4 1754.5 1760.2 1756.5 1757.4 1758.5 1758.1 1760.5 1757.5 1762.5 1760.4 1764.5 1758.3 1766.5 1757.5 1768.5 1760 1770.5 1763.9 1772.5 1763.9 1774.6 1765 1776.6 1767.5 1778.6 1766.3 1780.6 1765.4 1782.6 1763.7 1784.6 1765.5 1786.6 1767.3 1788.6 1759.6 1790.6 1760.7 1792.6 1764.5 1794.6 1763.1 1796.7 1761.9 1798.7 1763 1800.7 1762 1802.7 1761.5 1804.7 1758.9 1806.7 1761.8 1808.7 1758.6 1810.7 1761.7 1812.7 1763.2 1814.7 1762.3 1816.8 1764.3 1818.8 1762 1820.8 1763.7 1822.8 1763 1824.8 1763.2 1826.8 1757.9L1826.8 1804.4 1824.8 1805.5 1822.8 1804.4 1820.8 1804.6 1818.8 1808 1816.8 1803.7 1814.7 1804.4 1812.7 1805.8 1810.7 1807.5 1808.7 1803.4 1806.7 1801 1804.7 1801.4 1802.7 1800.4 1800.7 1803.3 1798.7 1801.8 1796.7 1805.7 1794.6 1801.9 1792.6 1800.3 1790.6 1802.4 1788.6 1803.8 1786.6 1804.9 1784.6 1808 1782.6 1806 1780.6 1807.4 1778.6 1807.5 1776.6 1806.7 1774.6 1806.2 1772.5 1805.1 1770.5 1803.9 1768.5 1806.3 1766.5 1803.5 1764.5 1802.6 1762.5 1799.4 1760.5 1799.8 1758.5 1800.1 1756.5 1796.9 1754.5 1795.8 1752.5 1798.7 1750.4 1797.8 1748.4 1794.4 1746.4 1796.5 1744.4 1792.9 1742.4 1793.3 1740.4 1795.8 1738.4 1796.7 1736.4 1797 1734.4 1796.7 1732.4 1797.8 1730.3 1797.5 1728.3 1797.3 1726.3 1798.6 1724.3 1797.4 1722.3 1795.8 1720.3 1795.3 1718.3 1798.7 1716.3 1797.2 1714.3 1796.6 1712.3 1797.7 1710.3 1794.6 1708.2 1795.1 1706.2 1797.1 1704.2 1799.7 1702.2 1796.9 1700.2 1791.4 1698.2 1794 1696.2 1793.3 1694.2 1794.4 1692.2 1794.7 1690.2 1792.8 1688.1 1795.5 1686.1 1794.8 1684.1 1794.4 1682.1 1794.9 1680.1 1795.2 1678.1 1795.8 1676.1 1793.4 1674.1 1791.8 1672.1 1790.3 1670.1 1791 1668.1 1791.7 1666 1791.7 1664 1792.4 1662 1792.2 1660 1791.6 1658 1790.8 1656 1788.8 1654 1790.1 1652 1793.5 1650 1789.1 1648 1787.7 1645.9 1787.6 1643.9 1788.3 1641.9 1787.8 1639.9 1784.1 1637.9 1785.4 1635.9 1784.6 1633.9 1785.7 1631.9 1785.3 1629.9 1785.8 1627.9 1786.5 1625.9 1782.8 1623.8 1785.1 1621.8 1784.6 1619.8 1784.2 1617.8 1784 1615.8 1780.6 1613.8 1781.1 1611.8 1778.4 1609.8 1781.8 1607.8 1781.2 1605.8 1784.3 1603.8 1782.4 1601.7 1780.9 1599.7 1780.8 1597.7 1781.2 1595.7 1783.5 1593.7 1783.5 1591.7 1782.3 1589.7 1780.5 1587.7 1778.9 1585.7 1782.1 1583.7 1781.5 1581.6 1781.9 1579.6 1784.2 1577.6 1784.2 1575.6 1784.6 1573.6 1781.2 1571.6 1781 1569.6 1779.3 1567.6 1783.1 1565.6 1782.6 1563.6 1777.7 1561.6 1777.1 1559.5 1777.5 1557.5 1776.9 1555.5 1777.1 1553.5 1777.4 1551.5 1777 1549.5 1779.3 1547.5 1776.2 1545.5 1778.1 1543.5 1779.5 1541.5 1784.7 1539.4 1786.6 1537.4 1784.1 1535.4 1785.5 1533.4 1784.8 1531.4 1785.7 1529.4 1789.4 1527.4 1789.8 1525.4 1787.8 1523.4 1788.6 1521.4 1787.5 1519.4 1788 1517.3 1790 1515.3 1790.2 1513.3 1791 1511.3 1790.9 1509.3 1789.6 1507.3 1789 1505.3 1787.1 1503.3 1790.8 1501.3 1787.6 1499.3 1785.3 1497.2 1784.6 1495.2 1786.5 1493.2 1786.5 1491.2 1791.2 1489.2 1789.1 1487.2 1790.2 1485.2 1788.6 1483.2 1787.6 1481.2 1791.2 1479.2 1792.6 1477.2 1792.1 1475.1 1789.6 1473.1 1791.7 1471.1 1788.8 1469.1 1788.9 1467.1 1789.1 1465.1 1788.4 1463.1 1787.1 1461.1 1785.9 1459.1 1787.8 1457.1 1787.4 1455.1 1786.4Z" class="k" style="fill:#231f20"/>
<path d="M1455.1 1774.1 1456.6 1775.1 1458.1 1774.3 1459.6 1775.8 1461.1 1777.1 1462.6 1776.3 1464.1 1776.5 1465.6 1776.1 1467.1 1777.2 1468.6 1777.9 1470.1 1778 1471.6 1778.7 1473.1 1780.2 1474.6 1780 1476.1 1781.6 1477.6 1781.1 1479.1 1779.3 1480.6 1778.5 1482.1 1778.3 1483.6 1776.7 1485.2 1776.7 1486.7 1776.5 1488.2 1778.4 1489.7 1777.6 1491.2 1774.2 1492.7 1776.2 1494.2 1775.3 1495.7 1776.8 1497.2 1775.9 1498.7 1775.7 1500.2 1775.5 1501.7 1774.3 1503.2 1774.6 1504.7 1775.8 1506.2 1775.4 1507.7 1774.9 1509.2 1775.2 1510.7 1775.9 1512.2 1776.1 1513.7 1773.7 1515.3 1772.8 1516.8 1773.7 1518.3 1775.6 1519.8 1773.5 1521.3 1772.8 1522.8 1771.4 1524.3 1770.2 1525.8 1770.4 1527.3 1769.7 1528.8 1769.3 1530.3 1770.4 1531.8 1770.2 1533.3 1769 1534.8 1769.8 1536.3 1767.5 1537.8 1768.2 1539.3 1765.6 1540.8 1765.6 1542.3 1767.5 1543.8 1764.4 1545.4 1766.7 1546.9 1763 1548.4 1761.9 1549.9 1765.3 1551.4 1764.2 1552.9 1763.9 1554.4 1761.6 1555.9 1763.2 1557.4 1762.7 1558.9 1763.4 1560.4 1764.5 1561.9 1765.3 1563.4 1765.7 1564.9 1765.4 1566.4 1768.3 1567.9 1765.5 1569.4 1764 1570.9 1762.5 1572.4 1765.1 1573.9 1765.4 1575.5 1766.1 1577 1762.9 1578.5 1763.4 1580 1761.6 1581.5 1763.6 1583 1763.7 1584.5 1762.5 1586 1763.7 1587.5 1764.8 1589 1762.9 1590.5 1763.6 1592 1761.5 1593.5 1759.7 1595 1761.5 1596.5 1762.6 1598 1762.3 1599.5 1760.6 1601 1759.7 1602.5 1759.5 1604.1 1758.7 1605.6 1758.8 1607.1 1761.5 1608.6 1760.4 1610.1 1758.7 1611.6 1759.9 1613.1 1761.2 1614.6 1763.4 1616.1 1762.2 1617.6 1764 1619.1 1767.2 1620.6 1767.5 1622.1 1767.6 1623.6 1766.4 1625.1 1767.2 1626.6 1764.5 1628.1 1766.3 1629.6 1765.8 1631.1 1765.8 1632.6 1766.4 1634.2 1766.1 1635.7 1766 1637.2 1765.6 1638.7 1763 1640.2 1763.2 1641.7 1765.5 1643.2 1764.8 1644.7 1766.3 1646.2 1766.7 1647.7 1766.6 1649.2 1767 1650.7 1767.8 1652.2 1769.8 1653.7 1768.9 1655.2 1768.4 1656.7 1768.9 1658.2 1770.9 1659.7 1770.2 1661.2 1770.6 1662.7 1772.4 1664.3 1772.2 1665.8 1772.2 1667.3 1772.3 1668.8 1770.9 1670.3 1769.9 1671.8 1770.6 1673.3 1771.7 1674.8 1773.9 1676.3 1773.9 1677.8 1772 1679.3 1773.3 1680.8 1773.4 1682.3 1773.4 1683.8 1774.7 1685.3 1775 1686.8 1772.8 1688.3 1772.8 1689.8 1772.9 1691.3 1770.9 1692.8 1770.7 1694.4 1771.4 1695.9 1769.2 1697.4 1770.6 1698.9 1771.2 1700.4 1773.9 1701.9 1774.3 1703.4 1773.4 1704.9 1774.2 1706.4 1773.4 1707.9 1772.5 1709.4 1773.6 1710.9 1773.1 1712.4 1773.2 1713.9 1774.9 1715.4 1773 1716.9 1772.9 1718.4 1772.8 1719.9 1774 1721.4 1776.5 1723 1777.5 1724.5 1778.3 1726 1779.2 1727.5 1779 1729 1779.2 1730.5 1778.9 1732 1780.1 1733.5 1779.4 1735 1777.8 1736.5 1781.8 1738 1779.2 1739.5 1778.7 1741 1778.2 1742.5 1780.2 1744 1781.5 1745.5 1779.2 1747 1780.8 1748.5 1780.8 1750 1780.5 1751.5 1778.7 1753.1 1779.3 1754.6 1777 1756.1 1779.9 1757.6 1780.5 1759.1 1779.5 1760.6 1780.9 1762.1 1780.1 1763.6 1783 1765.1 1784.5 1766.6 1784.1 1768.1 1786.9 1769.6 1784.1 1771.1 1784.5 1772.6 1786.7 1774.1 1788.6 1775.6 1787.6 1777.1 1789 1778.6 1784.9 1780.1 1789 1781.6 1785.7 1783.2 1784.9 1784.7 1785 1786.2 1783.9 1787.7 1782.1 1789.2 1785.1 1790.7 1784.3 1792.2 1785.2 1793.7 1783.1 1795.2 1783.1 1796.7 1781.6 1798.2 1782.3 1799.7 1784 1801.2 1785.5 1802.7 1785.2 1804.2 1786.3 1805.7 1786.7 1807.2 1786.6 1808.7 1785.4 1810.2 1784.7 1811.7 1788.3 1813.3 1789 1814.8 1787.1 1816.3 1787.8 1817.8 1788.6 1819.3 1786.8 1820.8 1786.5 1822.3 1785.4 1823.8 1784.8 1825.3 1783.4 1826.8 1784" stroke="#231f20" stroke-width="3.4" stroke-linejoin="round"/>
<path d="M1529.4 1564.3V1814.2" stroke="#231f20" stroke-width="1.6" stroke-dasharray="5.4 4.2"/>
<path d="M1455.8 1564.3V1814.2H1860.1M1455.8 1585h-8.3M1455.8 1623.3h-8.3M1455.8 1661.6h-8.3M1455.8 1699.9h-8.3M1455.8 1738.2h-8.3M1455.8 1776.5h-8.3M1455.8 1814.8h-8.3M1455.1 1814.2v7M1529.4 1814.2v7M1603.8 1814.2v7M1678.1 1814.2v7M1752.5 1814.2v7M1826.8 1814.2v7" stroke="#231f20" stroke-width="1.7"/>
<text transform="translate(1443.5 1592.5) scale(1.02 1)" font-size="21" text-anchor="end">10</text>
<text transform="translate(1443.5 1630.8) scale(1.02 1)" font-size="21" text-anchor="end">8</text>
<text transform="translate(1443.5 1669.1) scale(1.02 1)" font-size="21" text-anchor="end">6</text>
<text transform="translate(1443.5 1707.4) scale(1.02 1)" font-size="21" text-anchor="end">4</text>
<text transform="translate(1443.5 1745.7) scale(1.02 1)" font-size="21" text-anchor="end">2</text>
<text transform="translate(1443.5 1784) scale(1.02 1)" font-size="21" text-anchor="end">0</text>
<text transform="translate(1443.5 1822.3) scale(1.02 1)" font-size="21" text-anchor="end">-2</text>
<text transform="translate(1453.1 1839.2) scale(1.02 1)" font-size="21" text-anchor="middle">-2</text>
<text transform="translate(1529.4 1839.2) scale(1.02 1)" font-size="21" text-anchor="middle">0</text>
<text transform="translate(1603.8 1839.2) scale(1.02 1)" font-size="21" text-anchor="middle">2</text>
<text transform="translate(1678.1 1839.2) scale(1.02 1)" font-size="21" text-anchor="middle">4</text>
<text transform="translate(1752.5 1839.2) scale(1.02 1)" font-size="21" text-anchor="middle">6</text>
<text transform="translate(1826.8 1839.2) scale(1.02 1)" font-size="21" text-anchor="middle">8</text>
<text transform="translate(1419.4 1689.2) rotate(-90) scale(1.06 1)" font-size="23" text-anchor="middle">ΔF/F (%)</text>
<text transform="translate(1657.9 1857.2) scale(1.06 1)" font-size="23" text-anchor="middle">Onset of struggling (s)</text>
<path d="M1695.9 1575.1L1729.1 1575.1" stroke="#231f20" stroke-width="3.4"/>
<text transform="translate(1733.6 1582.5) scale(0.9 1)" font-size="21">PF</text>
<text transform="translate(1756 1591.1) scale(1.08 1)" font-size="16.3">NAc</text>
<text transform="translate(1796 1582.5) scale(1.06 1)" font-size="20">hM4Di</text>
<path d="M1932.4 1582.5V1835.5M1932.4 1816.1H2055.8M1932.4 1583.3h-7.3M1932.4 1660.9h-7.3M1932.4 1738.5h-7.3M1932.4 1816.1h-7.3" stroke="#231f20" stroke-width="1.7"/>
<text transform="translate(1924.1 1590.8) scale(1.02 1)" font-size="21" text-anchor="end">12</text>
<text transform="translate(1924.1 1668.4) scale(1.02 1)" font-size="21" text-anchor="end">8</text>
<text transform="translate(1924.1 1746) scale(1.02 1)" font-size="21" text-anchor="end">4</text>
<text transform="translate(1924.1 1823.6) scale(1.02 1)" font-size="21" text-anchor="end">0</text>
<text transform="translate(1897.5 1703.8) rotate(-90) scale(1.06 1)" font-size="23" text-anchor="middle">AUC per sec</text>
<path d="M2010.7 1817.1L2042.7 1817.1" stroke="#0f4f85" stroke-width="1.6"/>
<path d="M1956 1816.1L2019 1791.3" stroke="#231f20" stroke-width="1.1"/>
<path d="M1956 1816.1L2019 1807" stroke="#231f20" stroke-width="1.1"/>
<path d="M1956 1816.1L2019 1816.1" stroke="#231f20" stroke-width="1.1"/>
<path d="M1956 1816.1L2019 1819" stroke="#231f20" stroke-width="1.1"/>
<path d="M1956 1816.1L2019 1821.5" stroke="#231f20" stroke-width="1.1"/>
<path d="M1956 1816.1L2019 1828.7" stroke="#231f20" stroke-width="1.1"/>
<circle cx="1956" cy="1816.1" r="4.8" fill="#fff" stroke="#231f20" stroke-width="1.2"/>
<circle cx="2019" cy="1791.3" r="4.8" fill="#fff" stroke="#231f20" stroke-width="1.2"/>
<circle cx="2019" cy="1807" r="4.8" fill="#fff" stroke="#231f20" stroke-width="1.2"/>
<circle cx="2019" cy="1816.1" r="4.8" fill="#fff" stroke="#231f20" stroke-width="1.2"/>
<circle cx="2019" cy="1819" r="4.8" fill="#fff" stroke="#231f20" stroke-width="1.2"/>
<circle cx="2019" cy="1821.5" r="4.8" fill="#fff" stroke="#231f20" stroke-width="1.2"/>
<circle cx="2019" cy="1828.7" r="4.8" fill="#fff" stroke="#231f20" stroke-width="1.2"/>
<path d="M2026.7 1806.1L2026.7 1822.3" stroke="#231f20" stroke-width="3.5"/>
<path d="M1956.1 1753.8V1746.5H2019V1753.8" stroke="#231f20" stroke-width="3.0"/>
<text transform="translate(1987.4 1741.5)" font-size="17" text-anchor="middle">NS</text>
<text transform="translate(1962.7 1848) rotate(-29.5) scale(1.03 1)" font-size="19.5" text-anchor="end">Baseline</text>
<text transform="translate(2028 1845) rotate(-29.5) scale(1.03 1)" font-size="19.5" text-anchor="end">Struggling</text>
</svg>
</body></html>
